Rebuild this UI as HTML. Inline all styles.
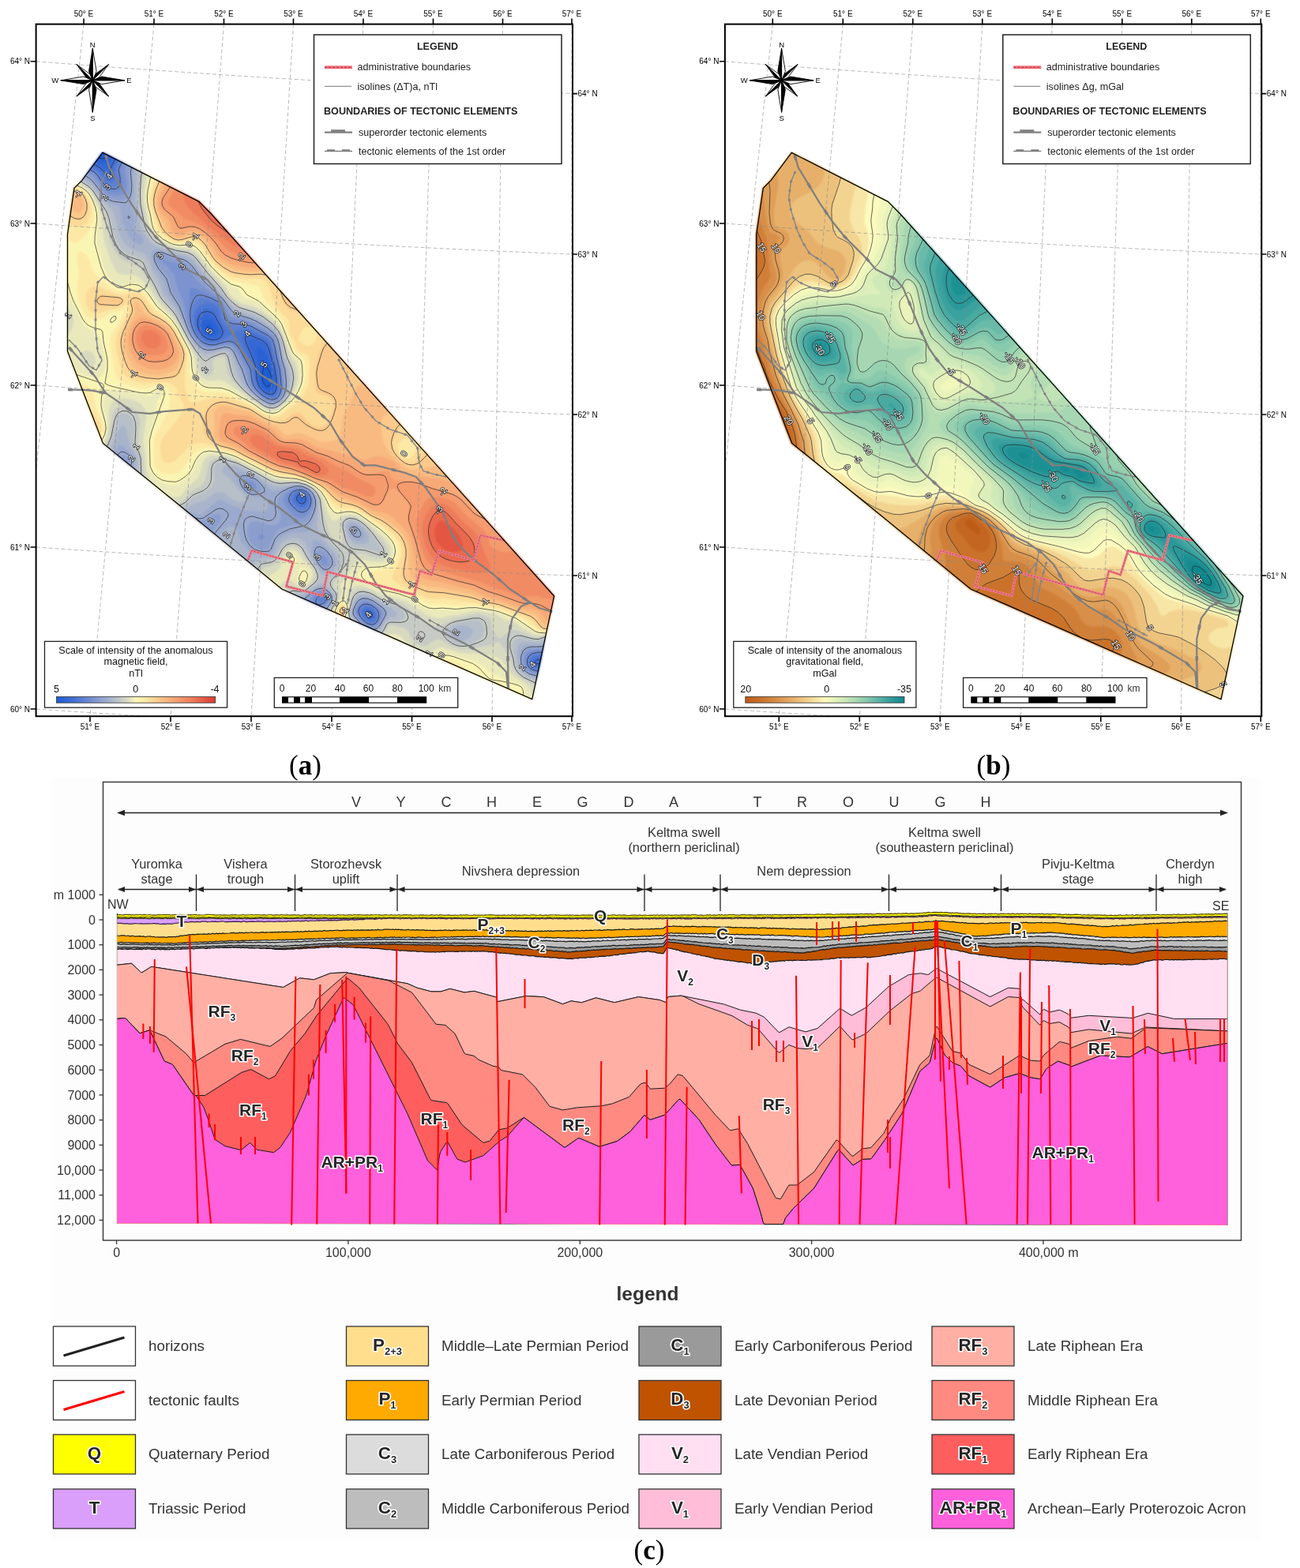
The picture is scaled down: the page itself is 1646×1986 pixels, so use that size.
<!DOCTYPE html>
<html><head><meta charset="utf-8"><title>Vychegda trough</title><style>
html,body{margin:0;padding:0;background:#fff;}
svg{display:block;font-family:"Liberation Sans",Arial,sans-serif;}
.lh{font-weight:bold;fill:#fff;stroke:#fff;stroke-width:3.2px;stroke-linejoin:round;}
.lt{font-weight:bold;fill:#262626;}
.cap{font-family:"Liberation Serif","DejaVu Serif",serif;}
</style></head>
<body><svg width="1646" height="1986" viewBox="0 0 1646 1986">
<rect x="66" y="985" width="1530" height="965" fill="#FDFDFD"/>
<defs><filter id="bl" x="0" y="0" width="1" height="1"><feGaussianBlur stdDeviation="1.2"/></filter></defs><g font-family="Liberation Sans, Arial, sans-serif"><g filter="url(#bl)"><path d="M130,193.4 252,255.3 266.6,270 701.6,755 673.7,885.7 356.7,746 245.8,655 130.4,561.4 85.5,445 85.5,296.6 94,238.3 103.7,228.6Z" fill="#DA3A2E"/><path d="M102.9,227.9 93,238.1 84.5,296.5 84.5,445.1 129.6,562 356.2,746.9 673.3,886.6 674.3,886.5 702.3,754.3 267.3,269.3 252.6,254.5 130.2,192.4 129.2,192.8Z" fill="#DD4435"/><path d="M102.9,227.9 93,238.1 84.5,296.5 84.5,445.1 129.6,562 356.2,746.9 673.3,886.6 674.3,886.5 702.3,754.3 267.3,269.3 252.6,254.5 130.2,192.4 129.2,192.8Z" fill="#E45742"/><path d="M102.9,227.9 93,238.1 84.5,296.5 84.5,445.1 129.6,562 356.2,746.9 673.3,886.6 674.3,886.5 702.3,754.3 267.3,269.3 252.6,254.5 130.2,192.4 129.2,192.8ZM560,659.5 565,661.5 570,665.7 577.1,673 582.8,680.5 585.3,685.5 586.3,690.5 585,695 581.9,698 575,699.8 570,699.3 565,697.8 557.5,692.6 552.5,685.6 550.1,678 550.3,670.5 552.1,665.5 555,661.4 557.5,659.8Z" fill="#E9694E"/><path d="M292.5,298.1 274.2,285.5 265.8,278 254.2,263 249.7,253 130.3,192.4 129.2,192.8 102.9,227.9 93.1,237.8 84.5,296.6 84.5,445.1 129.6,561.9 356.2,746.9 674.2,886.5 702.5,754.5ZM355,571.5 367.5,572.1 371.2,573 375,575.5 380,582.3 390,583.8 400.9,588 403.9,590.5 405.4,593 405.6,595.5 403.9,598 400,598.7 387.5,592.3 380.6,590.5 375.1,585.5 355.6,580.5 351.8,578 350.2,575.5 350.5,573ZM558.1,645.5 562.5,647.1 567.5,651 577.8,663 593.1,678 598.5,685.5 600.7,690.5 601.6,700.5 600,706.8 596,710.5 590,712.2 582.5,712.5 575,711.6 567.5,709.7 560,706.4 555.2,703 550.4,698 547.5,693.5 544.1,685.5 542.5,678.9 542,673 542.7,665.5 545.3,658 549.5,650.5 555,645.8Z" fill="#EE7B5A"/><path d="M309.3,316.1 300,313 292.5,308.7 265,287.4 243.2,268 238.6,263 233.7,255.5 232.2,250.5 233.1,244.6 130.4,192.5 129.2,192.8 102.9,227.9 93.2,237.7 84.5,296.6 84.5,445.1 129.6,561.9 356.2,746.9 674.2,886.5 702.5,754.5ZM190,417.8 197.5,420.9 200.1,423 203.2,428 203.4,435.5 202.2,438 197.5,441.1 192.5,441.8 187.5,440.7 182.5,437 180,433 179,428 180,422.7 182.5,419.6 185,418.2ZM325,550.3 333.1,553 347.5,563.9 355,566.2 370,567.9 375,569.3 387.5,576.2 403.3,583 407.6,585.5 412.8,590.5 415.6,595.5 415.6,598 413.2,600.5 410,601.6 405,602.5 400,602.1 370,588.8 357.4,585.5 350.9,583 337.5,573.8 325,567.2 319.6,563 316.5,558 316.2,555.5 317.2,553 320,551ZM557.5,637.7 565,639.5 570.5,643 575.4,648 583.2,658 597.6,670.5 604.3,678 607.1,683 612.5,698.1 619.5,713 620.6,718 620.2,720.5 618.3,723 612.5,724.8 605,724.9 587.5,723.2 575,720.6 562.5,716.7 555,713.1 550,709.4 545,703.6 540,693.6 536.7,683 534.9,673 535.2,663 538.5,653 545,643.6 550,639.4Z" fill="#F18B64"/><path d="M318.4,326.3 300,322.3 290.3,318 269.9,298 255,286.2 247.5,281.9 235.3,278 232.5,276.4 223.7,268 215,261.3 212.7,258 213.1,253 222.4,239.1 130.4,192.5 129.2,192.8 102.9,227.9 93.2,237.7 84.5,296.6 84.5,445.1 129.6,561.9 356.2,746.9 674.2,886.5 701.7,759.4 695,758.8 677.5,755.1 662.5,755.9 655,754.3 622.5,743 605,735.9 577.5,729.1 557.5,722.8 547.6,718 542.5,713.3 537.5,704.9 533.4,693 528.2,673 527,660.5 529.6,650.5 537.5,635.8 542.5,631.5 547.5,630.1 555,629.8 565,631.6 572.5,634.9 576.9,638 592.5,655.1 608.8,668 613.7,673 617.9,680.5 620.4,690.5 625,694.5 632.5,698 640,699.5 645,699 650.8,696.8ZM185,412 190,412.5 197.9,415.5 205.2,420.5 209.2,425.5 211.9,433 212.5,440.5 210.1,445.5 207.5,447.5 200,449.9 190,450.3 182.5,447.3 176,440.5 173.7,435.5 172.5,430.5 172.4,425.5 173.6,420.5 177.5,414.9 180.6,413ZM302.5,540 317.5,541.4 327.5,543.9 335.5,548 347.4,558 352.5,561.2 360,563.4 372.5,564.4 377.5,565.6 395,574.7 410,580.8 427.5,591.4 442.5,597.9 457.5,608 470,613.7 474.2,618 475.1,620.5 474.7,625.5 472.9,628 470,629.2 465,628.7 452.5,623.4 435,618 420,608.8 415,607.1 400,604.4 370,591.9 355.1,588 348.6,585.5 317,568 297.5,550.5 295.9,548 295.5,545.5 296.3,543 299,540.5ZM521.8,620.5 520,620.9 519.9,620.5 520,620.4Z" fill="#F59B6E"/><path d="M324.7,333.3 315,333.4 300,330 292.5,327.7 285,323.9 280,319.5 272.4,308 265.9,300.5 257.5,293.4 250,289 245,287.7 240,287.8 227.5,290.6 225,289 218.9,275.5 207.5,265.6 204.7,260.5 204.4,255.5 205.9,250.5 215.4,235.6 130.5,192.5 129.3,192.7 102.9,227.9 93,238.2 84.5,296.6 84.5,445 129.6,561.9 356.2,746.9 674.2,886.5 698.4,774.7 695,773.8 682.5,767 675,765.3 660,764.3 632.5,754.3 617.5,749.8 600,741.8 580,736.9 550,728.2 545,726.3 540,723.2 535.4,718 532.5,711.9 524.9,683 516.4,660.5 515.5,653 517.6,645.5 517.9,640.5 514.9,635.5 507.5,626.6 500,619.4 497.5,618.7 495,619.6 492.5,622.4 485.6,635.5 482.5,638.9 477.5,640.7 472.5,640 452.5,630.2 432.8,623 420,614.4 412.5,610.5 397.5,605.5 370,594.3 355,590.7 347.3,588 313.7,570.5 302.5,562.5 288.5,555.5 285.5,553 284.1,548 284.7,543 286.5,538 290,533.8 295,532.1 300,531.7 307.5,531.8 315,533.2 325,537.1 336.4,543 355,558.3 360,560 375,560.6 382.5,562.5 400,572.3 415,576.9 427.7,583 442.5,588.6 460,599.5 470,600.1 485,597.1 490,597 492.5,598.7 496.7,605.5 500,608.2 505,609.2 520,609.5 527.5,610.6 557.2,620.5 572.5,624.7 579.2,628 585,632.3 600,648.1 605,651.4 613.8,655.6ZM182.5,407.2 190,408.5 200,412.4 207.5,417.2 212.5,422.6 218.1,435.5 220.4,445.5 218.8,450.5 214,455.5 210,457.6 205,458.7 195,459.5 190,459 185,457.5 180,454.8 172.5,446.8 169.3,440.5 167.4,433 167.3,425.5 168.4,420.5 170.5,415.5 175,409.7 178,408Z" fill="#F7AA78"/><path d="M329.3,338.4 320,339.6 307.3,338 295,335.1 285,330.6 280,327.4 275.6,323 268.6,310.5 262.8,303 255,296.2 250,293.5 242.5,292.7 237.5,294 227.5,298.3 225,298.4 222.5,297.2 220,295 217.1,290.5 214.5,280.5 213.1,278 205,270.2 202.5,267 200.8,263 200.2,258 201.3,250.5 205,241.4 210,232.9 130.5,192.5 129.3,192.7 102.9,227.9 93,238.2 84.5,296.6 84.5,445 129.6,561.9 356.2,746.9 674.2,886.5 696.1,785.7 692.5,785.4 690,783.5 683.2,775.5 677.5,772.6 660,769.7 632.5,759.4 615,755.2 597.5,747.1 578.9,743 560,737.6 545,735.2 535,731.4 530,727 526.7,720.5 521.8,690.5 519.4,683 515.9,675.5 510,667.4 492.5,652 487.5,650.1 472.5,646.8 455,636 435,629.1 430,626.6 411.1,613 387.5,602.7 370,596.5 355,593.3 345,589.8 311.7,573 297.5,564.2 282.5,559.2 280.2,558 278.3,555.5 276.9,550.5 277.2,545.5 279.9,528 282.5,523.9 287.5,523 300,525.4 310,525.7 317.5,528 340.7,540.5 347.4,545.5 355,553.5 360,556.4 375,555.8 382.5,556.8 387.5,558.8 402.5,567.4 420,571 432.5,574.8 445,577 460,582.7 465,582 475,577.4 480,577.4 485,578.5 495,582.4 500,585.5 507.5,595.9 515,601 522.5,602.8 555,605.5 573.4,610.6ZM177.5,401.5 182.5,402.1 200,408.7 207.5,413.1 215.1,420.5 224.6,440.5 226.3,448 225,453 222.5,457.7 220,460.9 215,464.8 210,466.8 202.5,468.5 197.5,468.7 190,467.7 182.5,465.3 177.5,462.6 172.5,458.2 168.9,453 165.2,445.5 163,438 162.3,430.5 162.8,425.5 165,417.3 170,407.6 172.5,404.4Z" fill="#F9BA81"/><path d="M333.7,343.3 320,344.2 310,343.5 297.5,341.4 287.5,337.4 280,332.7 275,328.6 272.4,325.5 262.1,308 255,300.6 250,297.5 242.5,296.8 230,301.2 225,301.9 220.9,300.5 217.5,298.1 211.2,290.5 207,280.5 200,269.5 197.6,263 197.1,255.5 198.2,248 200.7,240.5 205.5,230.6 130.5,192.5 129.3,192.7 102.9,227.9 93,238.2 84.5,296.6 84.5,445 129.6,561.9 356.2,746.9 674.2,886.5 694.6,792.5 690,792.8 687.5,791.3 680,780.5 676.1,778 660,773.4 632.5,763.3 615,760.1 595,752.1 560,744.7 542.5,743.1 527.5,737.7 522.5,734 519.1,728 518,720.5 518.1,698 516.8,690.5 514.1,683 507.3,673 490,658.9 483.7,655.5 470,650.2 460,642.9 452.5,638.7 430,631.5 425,628.1 412.5,617 402.5,611.2 387.5,604.4 372.5,599.2 355,595.7 345,592.5 310.7,575.5 297.5,567.8 277.5,561.2 271.9,555.5 270.3,550.5 271.6,540.5 270.3,528 270.8,523 271.8,520.5 275,516.9 277.5,515.3 282.5,514.3 287.5,514.8 300,518.4 311.4,520.5 317.5,522.7 332.5,531.8 350.1,540.5 361.4,550.5 365,550.8 375,548.8 380,548.8 387.5,550.7 402.5,558 407.5,559.4 415,559.6 423.6,558 427.9,555.5 431.2,550.5 434.1,528 444,508 447.5,497.1 450,492.7 459,483ZM100,245.1 103,248 105,252.3 106,260.5 105,264.7 102.5,268.2 100,269.5 97.5,269.6 95,268.6 92.5,266.2 91.3,263 91.2,260.5 93.3,253 93.7,248 95.5,245.5 97.5,244.7ZM173.4,383 176.2,385.5 180.7,393 185.5,398 189,400.5 205,407.9 214.4,415.5 218.2,420.5 228.3,440.5 230.3,445.5 230.4,448 229,455.5 224.3,465.5 222.5,468 217.5,471.6 200,475.8 185,473.6 177.5,471.1 171.8,468 167.5,463.6 164.2,458 160.2,448 158.2,440.5 157.5,433 157.8,428 161.5,415.5 171.5,395.5 171.9,390.5 169.8,385.5 170,384.3 171.2,383ZM435,772.6 435,773.4 433.5,773ZM493,521 485.3,528 483.5,530.5 482.1,538 483.2,548 485.9,560.5 489.3,568 493,573 510,589.8 515,593.2 520,595 525,595.4 535,594.1 553.9,588.8Z" fill="#FBC98B"/><path d="M340,350.7 332.5,348.2 312.5,348.4 300,347 292.5,345 282.5,339.3 272.5,330.8 259.5,310.5 255,305.4 250,301.6 247.5,300.6 242.5,300.6 230,304 225,304.4 220,303 215.7,300.5 207.4,293 203.7,288 195,263 194.2,255.5 194.8,248 197.5,238 201.5,228.6 130.5,192.5 129.3,192.7 102.9,227.9 93,238.2 92.4,242.6 95,241.7 100,242.2 102.5,243.5 106.6,248 110,255.5 111,263 110.4,268 108.4,273 106.5,275.5 103.1,278 100,278.8 95,278.2 87.7,274.6 84.5,296.5 84.5,445 119.6,536.1 122.3,540.5 122.8,544.5 129.6,561.9 356.2,746.9 674.2,886.5 693.8,796.3 690,796.9 686.3,795.5 683.1,793 675,783.5 670,780.5 632.5,766.6 612.5,763.1 600,758.6 592.5,756.8 562.5,752 542.5,751 520,742.2 517.2,740.5 512.3,735.5 510.7,733 509.3,728 509.6,723 513.3,703 513.1,695.5 511.3,688 507.5,680.8 503.2,675.5 490,664.5 482.5,659.6 470,653.5 452.5,642.2 445,639.6 432.5,637.2 427.5,635 422.5,630.9 409.9,618 397.3,610.5 387.5,605.9 375,601.7 352.5,597.5 342.5,593.9 297.5,570.7 290,568 279.7,565.5 273.7,563 266.5,558 259.7,550.5 258.5,548 257.8,543 257.6,530.5 259,523 261.6,518 266.5,513 272.5,509.7 277.5,508.4 287.5,508.7 312.5,516.3 317.5,518.2 335,529.4 342.5,532.3 350,533.9 355,534.1 360,533 370,525.3 377.5,523.1 380,523.7 382.5,525.4 388.2,533 394.3,538 400,540.6 405,541.3 408.8,540.5 412.5,538.2 415,535.2 418.7,528 422.4,515.5 422.4,510.5 421.7,508 420,505.4 415,501.7 402.5,497.5 400,494.8 399.4,490.5 398.7,470.5 402.5,451.5 406.8,440.5 412.7,431.4 381.7,396.8 370,393.3 365,390.7 361.8,388 356.9,380.5 350.1,361.6ZM125,373.8 130,373.1 150,376.2 155.2,378 156.7,380.5 152.6,385.5 147.5,387.6 125,387.9 122.5,387.1 120.8,385.5 119.6,380.5 122.1,375.5ZM170,376 175,376.8 177.5,378.2 181.7,383 190,395.6 207.5,406 215,412.4 220,419.1 230.1,438 233.2,445.5 233.6,450.5 233,455.5 227.5,472.3 225,475.8 222.5,477.6 217.5,478.9 200,480.7 182.5,479.3 175,477.4 167.5,473.8 163.7,470.5 160.3,465.5 153.7,445.5 152.4,438 152.5,430.5 156.1,418 166.6,395.5 167,390.5 163.6,380.5 165,378ZM435,769.1 437,773 435,776.7 432.5,777.3 430.1,775.5 429.8,773 432.5,769.2ZM509.3,539.1 501.6,548 497.6,558 497,563 498.7,570.5 503.7,578 507.5,581.9 512.5,585.5 520,587.6 525,586.8 530.9,583 539.4,572.6Z" fill="#FCDA98"/><path d="M693.3,798.8 687.5,798.8 682.5,796.5 672.5,787.4 665,782.5 652.5,776.8 632.5,769.6 612.5,766.1 595,762 562.5,758.5 542.5,758.6 509.5,743 498.9,735.5 496.5,733 496,730.5 505.5,713 507.9,705.5 508.6,700.5 508,693 506.5,688 500,678.3 485,665.5 455,646.5 445,642.9 430,641.2 425,638.7 420,633.6 411.9,623 406.6,618 399,613 390,608.5 372.5,602.8 355,600.4 347.5,598.4 340,595.2 295,572.4 257.5,561.3 250,561.3 242.5,563.9 237,568 225,581.1 220,584.7 212.5,586.5 207.5,584.8 205,581.6 203.4,575.5 202.7,565.5 203.3,560.5 207.5,551.9 223.6,533 228.7,525.5 231.8,518 232.4,513 231.9,510.5 225.3,500.5 224,493 222.4,490.5 217.5,486.7 212.5,484.8 207.5,483.9 187.5,485.3 175,484.2 165,480.8 157.5,475.4 154.3,470.5 151.7,463 147.1,443 146.3,433 148.6,423 162.8,395.5 163.7,390.5 162.8,388 160,385.9 157.5,386.3 150,390.4 137.5,392.9 125,396.9 120,397.1 117.5,396.3 115,394.7 111.5,390.5 109.2,385.5 108.2,380.5 108.3,375.5 109.8,370.5 112.5,366 115,363.8 120,362.4 125,363 141.7,370.5 150,373 157.5,372.9 170,370.5 175,371.3 180,374.3 182.5,376.8 193.7,393 210,404.4 217.5,411.7 223.3,420.5 233.9,440.5 235.8,445.5 236.7,453 234.4,470.5 234.2,488 238.3,505.5 239.7,508 242.5,509.6 247.5,509.5 272.5,502.7 280,502.2 285,502.7 295,505.6 317.5,514.6 330,523.3 337.5,527.2 345,529 352.5,528.3 357.5,525.5 365,518.6 377.1,510.5 383.1,503 389.1,490.5 391,483 392,460.5 391.6,455.5 390,451.4 387.5,448.5 380,445.2 377.5,443.5 375.3,440.5 374,433 367.5,424.3 366,420.5 366.2,408 363.2,403 355,394.9 348.2,385.5 344.7,378 340.7,363 337.5,357.6 335,355.3 330,353.1 317.5,353.5 305,352.4 297.5,351.3 290,348.7 282.5,344 272.5,335.4 266.5,328 257,313 250,306.1 247.5,304.8 242.5,304.1 230,306.6 222.5,306.3 215,303.1 207.9,298 200,289.8 191.9,260.5 191.4,253 192.1,245.5 194.4,235.5 197.7,226.6 130.5,192.5 129.3,192.7 102.9,227.9 93,238.2 92.9,238.9 97.5,239.1 101.6,240.5 107.8,245.5 113.2,255.5 114.5,260.5 115,268 114.4,273 112.5,278.6 110,282.4 105,286.2 97.5,287.3 86.3,283.9 84.5,296.6 84.5,445 109.6,510.2 115.4,520.5 123,530.5 127.5,538.4 128.6,545.5 125.4,551.3 129.7,562.1 356.2,746.9 673.5,886.7 674.7,885.9ZM435,766.4 437.5,769.2 438.1,773 437.5,775.2 435,778.9 432.5,779.9 430,779.2 427.7,775.5 428.7,770.5 432.5,766.5ZM385,415.8 382.5,418.9 379,425.5 377.9,430.5 379.5,433 385,436.5 390,438.2 392.5,437.9 396.5,435.5 400.1,430.5 401.4,425.5 400.5,420.5 397.5,416.5 392.5,414.1 387.5,414.3ZM510,556.6 507.5,559 505,563.1 504.2,568 505.3,573 508.8,578 512.5,580.4 517.5,581.1 520,580.3 522.9,578 526.3,570.5 527.1,565.5 526.3,560.5 524.9,558 520,554.6 515,554.3Z" fill="#FDE9A6"/><path d="M692.5,800.8 686.3,800.5 680,798.4 666.6,788 658.5,783 650,779 630,771.8 597.5,766.4 577.5,766.7 560,764.7 547.5,765.5 542.5,765 537.5,763.2 527.5,756.6 522.5,754.3 502.5,746.8 485,742.7 474.2,738 470,734.7 467.3,730.5 467.3,728 468.8,725.5 474,723 487.5,721.4 492.5,719.4 497.5,715.2 502,708 503.6,703 503.9,695.5 502.8,690.5 500,684.9 494.3,678 485.8,670.5 455,649.4 445,645.9 430,646.2 425,644.7 420,640 410.9,625.5 406.6,620.5 397.5,613.8 387.5,608.8 372.5,604.6 355,602.7 347.5,600.8 340,597.7 295,575 285,572 262.5,567.6 255,568.5 247.5,572.7 242.7,578 232.6,593 225,598.5 217.5,600.6 210,600.6 205,599.4 199,595.5 196.9,593 194.8,588 194.6,558 197.9,548 210.6,525.5 213.9,518 215.3,505.5 214.3,495.5 211.1,490.5 205,487.7 200,487.9 187.5,491.2 182.5,491.7 175,491.1 167.5,489.6 155,485 150,481.8 146.9,478 144.5,470.5 142.6,455.5 139.1,438 138.9,430.5 141,423 152.5,405.6 158.1,393 157.5,392.2 152.5,394.5 142.5,396.2 138,398 127.5,404.3 122.5,405.5 115,404.3 110,400.7 107.7,398 101,385.5 99.1,380.5 97.8,373 97.5,363 99.4,345.5 96.8,325.5 97.5,321.4 100,318.1 102.5,318.2 105,319.4 110,323.7 112.8,328 116.7,340.5 119.7,345.5 126.7,353 135.6,360.5 145,367.1 150,369.3 155,368.7 167.5,365 172.5,365.2 177.5,367 185,373.5 196.9,390.5 212.5,403 217.5,408.1 224.2,418 235.1,438 238.4,445.5 239.8,453 239.8,470.5 242,478 249,490.5 255,495.1 260,496.5 277.5,496.1 287.5,497.8 317.5,511.7 335,523.2 342.5,525.6 350,525.1 355,522.5 362.5,515.7 370,510.4 374.9,505.5 379.8,498 383.4,490.5 385.7,483 386.4,475.5 386.2,460.5 384.9,455.5 383.1,453 375,447.1 371.9,443 363.6,423 358.9,408 355.3,403 337.5,383 334.3,378 330,367.7 327.5,363.6 322.5,361.4 295,355.9 287.5,352.4 277.5,344.6 270,337.2 264.6,330.5 255,316 247.5,309.1 242.5,307.6 230,309 222.5,308.6 214.4,305.5 203.3,298 198.5,293 195.9,288 188.9,258 188.6,250.5 189.3,243 194,224.7 130.5,192.5 129.3,192.7 102.9,227.9 94.8,236.1 100,237.5 105,240.2 108.4,243 112.4,248 115,253 117.7,260.5 119.2,273 118.3,280.5 115,289.3 112.5,293.2 100,306.2 97.5,307.9 95,308.2 90,306.3 84.5,303 84.5,445 99.6,484.4 107.5,487.2 112.5,490.1 115,493 117.5,498 121.6,515.5 129.7,533 131.8,540.5 131.9,545.5 131.2,548 127,555.4 129.7,562.1 356.2,746.9 426,777.6 425.9,773 428.2,768 432.5,763.9 435,763.5 437.5,765.3 439,770.5 437.5,777.6 434.8,781.5 558.5,836 567.5,834.9 575,837.1 584.8,843 594,851.7 673.5,886.7 674.7,885.9ZM512.3,573 515.1,573 515,570.1 512.5,570.2Z" fill="#FBF5B4"/><path d="M96.8,234.1 105,237.9 111.2,243 116.5,250.5 120.8,260.5 122.9,268 123.9,275.5 122.5,298 122.8,308 130.7,338 134.8,348 140.7,355.5 146.8,360.5 150,362.1 155,361.7 165,358.6 170,358.4 177.5,360.8 185,367.1 197.6,385.5 216.2,403 225,415.3 241,445.5 243.1,453 244.9,470.5 247.1,475.5 252.5,483.2 257.5,487.3 262.5,489.1 280,489.8 287.5,492 320,510.4 332.5,519.2 340,522.4 347.5,522.7 352.5,520.8 368.1,508 375.4,498 380.8,485.5 382.1,475.5 381.4,463 380.2,458 378.7,455.5 372.5,450.1 369.4,445.5 355.8,410.5 347.5,400.7 332.5,387.3 322.5,380.9 312.5,378 307.5,375.5 305.3,373 301.9,365.5 292.5,361.9 282.5,353.7 267.5,338.9 252.5,318.2 247.5,313.5 240,310.8 227.5,311.4 217.5,309.3 205.5,303 197.5,296.2 193.9,290.5 192.1,285.5 185.9,255.5 186.4,240.5 190.3,222.9 129.9,192.4 102.9,227.9ZM94.1,470.1 105,475 115,477.9 122.5,478.9 126.7,478 130,475.3 132.5,469.8 133.7,463 133.6,455.5 130,439.8 125,425.1 122.5,422.2 110,415 105,409.1 90.5,380.5 84.5,365.4 84.5,445.1ZM692.5,802.2 682.5,801.8 677.5,800.4 652.5,783.5 627.5,774.3 602.5,770.4 595,770.6 575,773.1 560,772.1 550,772.8 542.5,771.6 535,768.2 522.5,759.6 505,753.4 482.7,748 459.4,735.5 456.3,733 454.6,730.5 454.2,728 455.7,723 457.8,720.5 462,718 465,717.3 485,716.2 490,714.4 495,710.4 498.1,705.5 499.5,700.5 499,693 497,688 491.3,680.5 483.3,673 470.7,663 455,652.2 447.5,649.2 442.5,648.5 437.5,649 427.5,651.4 422.5,650 417.5,644.2 411.2,630.5 406.3,623 397.7,615.5 387.5,610.2 375,606.7 355,605.2 347.5,603.4 340,600.2 295,577.5 282.5,574.1 265,572.1 257.5,574.3 252.9,578 249.6,583 245,595 242.5,599.5 237.5,604.6 227.5,612.1 222.5,614.3 217.5,614.3 207.5,611.7 202.5,609.2 195,602.8 189.6,593 187.6,560.5 189,550.5 196.8,525.5 199.5,508 204.6,500.5 205,495.5 202.5,493.5 198.4,495.5 192.5,500.8 190,501.2 180,500.1 152.5,494.5 142.5,493.7 137.5,494.9 135,497 132.8,500.5 130.6,508 130.3,515.5 134.2,535.5 134.7,543 133.2,550.5 128.5,559.3 129.7,562.1 356.2,746.9 423.7,776.6 425.1,770.5 427.5,766.2 432.5,760.7 435,759.7 437.5,760.8 439.8,765.5 440.2,768 439.7,773 437,782.5 549.4,832 557.5,828.8 565,828.2 601.8,838 610.1,843 622.5,853.7 660,868.2 662.4,870.5 663.7,873 665.2,883 673.6,886.7 674.7,885.9ZM370,702.1 372.5,703.5 375.4,708 376.5,713 376,715.5 375,716.1 370,715.9 367.5,714.7 364.6,710.5 364.2,708 365,704.3 367.5,702ZM382.5,719.3 387.5,721 389.8,723 391.1,728 390.2,733 387.5,737.9 385,740.2 382.5,740.9 378.5,738 376.7,733 379.7,720.5Z" fill="#EAE9BB"/><path d="M98.6,232.2 108.5,238 114.1,243 119.1,250.5 125,263 128.7,275.5 130.5,298 132.4,308 140,329.4 145,340.8 148.7,345.5 152.5,347.6 170,348.9 175,351.1 180,354.9 189.3,365.5 200.2,383 220,403.6 225,411.2 243.7,445.5 246.5,453 249.6,470.5 255,478.2 257.5,480.1 262.5,482.1 267.5,482.4 277.5,481.2 285,483.4 332.5,516.8 340,520 345,520.5 350,519.4 355,516.3 364.7,508 370.5,500.5 376.2,488 378,480.5 377.7,470.5 375.2,460.5 367.5,449 360.5,428 353.6,413 345,403.2 330,391.7 320,387.2 305,383.7 293.5,375.5 291.3,373 285.9,363 267.1,343 252.5,323.4 247.4,318 240,314.3 225,313.5 215,310.7 202.5,304.1 195.5,298 192.1,293 189,285.5 183,255.5 183.4,238 186.5,221 129.9,192.4 102.9,227.9ZM84.5,425.1 88.8,420.5 91.8,415.5 93.2,408 92.8,403 91.3,398 84.5,387.2ZM102.5,448 101.6,450.5 102,455.5 105,460.4 107.5,462.5 112.5,464.7 115,464.9 117.5,464.2 120,462 121.5,458 120.8,453 118,448 115.1,445.5 112.5,444.3 107.5,444.3 104.9,445.5ZM197.5,617.1 189.1,605.5 185.1,593 184.2,575.5 181.3,560.5 181.8,553 185.7,530.5 185.3,523 183.6,518 180.1,513 177.5,510.8 170,507 157.5,504.3 152.5,504.4 147.5,505.6 142.5,508.8 138.5,515.5 137.3,523 137.6,538 136.6,548 134.3,555.5 130.4,562.7ZM421.7,775.5 423.4,770.5 432.9,753 433.3,750.5 431.1,743 431.3,740.5 440,729.2 447.5,716 450,712.9 455,709.8 460,709 477.5,711.9 485,711.4 491,708 494.3,703 495,695.3 493.4,690.5 490.3,685.5 475.3,670.5 460,658.1 450,652.6 442.5,651.4 435.4,653 425,659.1 422.5,659.5 420,657.9 415.4,650.5 409.5,633 405.8,625.5 401.6,620.5 395,615.4 387.5,611.6 377.5,608.7 355,607.7 347.5,606.1 340,602.9 302.2,583 292.5,579.2 282.5,576.7 267.5,576.5 262.8,578 260,580.3 256.6,585.5 253,600.5 250.5,605.5 236.1,618 230,627 227.5,629 222.5,629.8 217.5,629.1 212.5,627.4 205.2,623.4 339.5,733.2 342.6,728 350,724 355,719.2 359.3,705.5 362.5,699.7 367.5,696.7 372.5,697 375,698.3 377.5,700.5 385,711.4 394.3,720.5 395.9,728 394.9,733 390,740 385,743.5 382.5,744 378.5,743 370,736.2 365,734.4 360,735.9 351.7,743.2 356.3,746.9ZM692.2,803.6 682.5,804.2 675,802.9 665.8,798 650,787.2 637.5,784.5 630,778.8 610,774.3 595,775 580,778.7 567.5,780.4 557.5,783.1 550,782.2 537.5,777.4 521.5,765.5 515,762 505,758.4 485,753.8 470,746 460,742.3 452.5,741.5 447.5,742.7 443.2,745.5 440.2,750.5 441.5,768 439.8,775.5 439.3,783.5 490.9,806.2 495,803.6 497.5,803 505,804.6 510,808.7 519.2,818.7 538.5,827.2 545,826.1 555,820.7 560,820 582.5,827 590,827.8 605,827.7 622.2,830.5 630,832.9 634.1,835.5 637.5,838.9 644.3,850.5 648.7,855.5 664.2,865.5 669.8,870.5 675.4,882.7Z" fill="#D8DAC0"/><path d="M100.4,230.5 111.9,238 116.9,243 130,265.5 133.8,275.5 138.8,303 142.5,312.9 146.8,320.5 150,324.7 155,329 160,331.6 172.5,335.9 177.5,339.7 192.5,362.2 202.5,380 217.5,396.2 225,406.9 236,428 250.7,453 252.4,458 253.6,468 256.6,473 260,475 262.5,475.4 265,475 268.4,473 269.9,470.5 270.4,468 269.2,460.5 270,456.8 270.9,455.5 275.8,453 282.5,451.8 284.2,453 285.5,455.5 288.1,473 294.3,483 309.9,498 330,512.8 337.5,517.1 345,518.3 352.5,515.8 361.9,508 366.1,503 371.1,493 373.9,483 374.2,475.5 372.2,465.5 365,451.1 359.2,430.5 352.5,416.1 345,407.5 332.5,398 320,391.9 305,388 300,385.1 292.5,379 289,375.5 281.2,363 265,345.2 250.1,325.5 245,320.6 237.5,317.3 225,315.8 215,313 202.5,307.2 197.5,303.9 194,300.5 188.9,293 185.7,285.5 180.2,258 179.5,250.5 179.9,240.5 181,228 182.7,219 129.9,192.4ZM183,605.4 180.4,578 175.9,565.5 175,560.5 177.3,535.5 175.5,525.5 172.5,520.4 166.1,515.5 160,513.7 152.5,514.2 147.5,517.1 143.6,523 142.2,528 138.4,553 133.2,564.9ZM420,774.6 426.8,760.5 428.2,755.5 427.3,750.5 422.2,743 422.4,738 435.3,723 442.5,705.1 444.5,703 447.5,701.9 457.5,700.7 462.5,701.5 477.5,706.8 485,706.5 489.2,703 490.5,698 489.3,693 485,686.3 470.8,670.5 460,661 450,655.3 442.5,654.2 437.6,655.5 435,657.2 432,660.5 431.1,663 431.2,668 433.3,675.5 433.4,685.5 432.5,688.7 430,688.6 422.5,683.4 417.1,675.5 412.5,660 406.2,630.5 401.7,623 395,617 387.5,612.9 377.5,610.2 355,610.4 347.5,609 340,605.7 302.5,585.6 287.5,580.6 277.5,579.7 272.3,580.5 267,583 263.5,588 260.5,605.5 256.8,613 254,615.5 240,623.9 232.5,633.5 227.5,636.2 222.3,637.3 329.9,725.3 332.5,720.5 335,718.7 345,715.9 350,712.9 353.8,708 359,698 362.5,694.2 365,692.7 370,691.7 375,692.7 377.5,694.2 381.2,698 389.2,710.5 397.5,720.5 399.6,728 399,733 393.3,740.5 385,746.2 380,746.9 369.5,743 365,744.4 360.3,748.7ZM690,805 682.5,806.9 677.5,807 670,804.9 655,798.6 650,797.5 645,799.1 637.5,805.8 632.5,808.5 630,807.1 625,799.9 623.2,795.5 621.5,785.5 620,783.6 615.2,780.5 607.5,778.3 597.5,779.3 572.5,785 557.5,792.3 552.5,793.6 550,793.5 542.5,790.8 532.5,785.3 527.5,781.3 517.4,770.5 510,765.6 502.5,762.6 485,757.9 470,749.6 460,746.6 452.5,747.4 447.8,750.5 446,753 444.2,758 442.9,768 440.9,775.5 441,780.5 442.3,784.8 484.8,803.5 487.6,800.5 492.5,792.7 497.5,792.1 511.7,795.5 515,797.7 517.2,800.5 521.1,808 524.6,813 527.5,815.5 532.5,817.8 540,817.6 550,811.4 555,809.9 560,811.2 570,817.6 575,819.9 585,822.1 592.5,821.9 615,818.4 622.5,816.5 630,813.6 632.5,814 640,823.9 645,832.6 648.6,845.5 653.1,853 658.9,858 672,865.5 678.1,870 691.9,805.1Z" fill="#C7CBC5"/><path d="M102.5,228.8 112.5,235.6 117.5,240.2 136.5,268 139.4,275.5 145,299.9 148.5,308 152.5,314 157.5,318.9 162.5,322 177.5,327.2 182.8,330.5 188.5,345.5 196.9,360.5 203.9,375.5 222.5,398 238.1,428 245,438.8 252.5,448.7 257.5,452.9 260,453.8 262.5,453.5 280,447 285,446.2 287.7,448 290,452.3 294.5,470.5 298.7,480.5 306.2,490.5 313.6,498 332.5,512.3 340,515.8 347.5,515.9 352.5,513.8 357.5,509.9 361.8,505.5 366.4,498 369.6,488 370.6,478 368.9,468 362.6,453 357.9,433 352.5,420.5 345,411.4 332.5,402 322.5,396.8 302.5,390.3 295,384.8 287.5,377.2 280,366.6 262.5,347 247.9,328 242.5,323.2 236.5,320.5 222.5,317.8 212.5,314.5 197.8,308 192.5,303.6 185.4,293 181.8,285.5 176.7,258 176.4,243 177.3,225.5 178.6,217 129.9,192.4ZM177.3,600.5 177.2,580.5 175.8,575.5 170.4,565.5 169.4,560.5 169.7,540.5 168.3,533 165.6,528 162.5,525.1 160,524 155,523.6 150,526.2 147.5,530.1 141.1,555.5 136.2,567.4ZM418.1,774.1 423.9,763 425.6,755.5 423.9,750.5 417.9,743 416.4,738 416.9,735.5 427.1,725.5 430.7,720.5 433.2,713 433.4,708 430.8,700.5 415.8,683 409.9,673 407.2,663 405.3,635.5 402.9,628 399.7,623 395,618.6 390.1,615.5 380,612 372.5,611.5 355,613.3 350,612.9 345,611.4 325,599.8 297.5,586.4 282.5,583.4 275,585.6 272.4,588 270.3,593 271.2,608 270.8,610.5 268.1,615.5 263.5,620.5 260,623 245,629.5 235,638 228,641.8 324.6,720.9 327.5,715.5 330,713.2 342.5,711 347.5,708.7 350.6,705.5 357.5,693.3 362.5,689 367.5,687.1 372.5,686.8 377,688 380,689.7 384.8,695.5 391.2,708 400.1,720.5 403.4,728 403.9,733 400.1,738 387.5,747.8 382.5,749.8 372.5,750.2 367.9,752ZM437.5,659.6 435.4,663 435,665.5 437,678 440,686 445,692 450,694.2 465,695.6 480,699.8 482.5,698.9 482.7,695.5 480.1,690.5 470.4,675.5 461.6,665.5 455,660.5 447.5,657.4 442.5,657.2 440,657.8ZM480.8,801.8 485,797.7 488.8,790.5 491.4,788 495,786.8 505,786.5 510,784.7 512,783 512.9,780.5 511.6,775.5 507.5,770.9 502.9,768 482.5,760.3 467.5,751.7 460,750.2 455,750.8 452.5,752 450,754 447.3,758 442.5,773.9 442.1,778 443.8,783 447.5,787.1ZM592.5,785.7 575,789.1 567.9,793 563.9,798 563.3,800.5 563.4,803 566.2,808 570,811.6 575,814.7 580,816.4 585,817 590,816.7 597.5,814.6 606.1,810.5 609.4,808 612.4,803 613,798 612.4,793 610,788 605,785.4ZM690,807.2 682.5,810.5 680,810.7 662.5,807.5 657.5,807.2 654.4,808 650.9,810.5 648.5,815.5 648.5,823 652.3,843 654.3,848 658,853 662.5,856.7 667.5,859.6 679.3,864.4 691.5,807.3Z" fill="#B7BFC8"/><path d="M104,226.6 117.5,236.6 130,254.1 141.9,265.5 143.6,268 150,293 153.1,300.5 157.8,308 165,314.3 182.5,321.6 186.4,325.5 188.8,330.5 192.5,341.9 201.4,358 207.5,373 222.9,393 238.7,425.5 250,441.7 257.5,447.6 262.5,448.6 270,447.2 282.5,443.4 287.5,443.9 290,445.6 293,450.5 301.7,475.5 305.2,483 310.1,490.5 316.8,498 332.5,510.2 340,513.8 347.5,514 355,510 359.6,505.5 364.1,498 366.4,490.5 367.2,480.5 365.4,468 360,453.3 355.8,433 351.6,423 345,414.9 330,404.2 320,399.4 302.5,393.5 295,388.5 277.5,368 262.5,352 247.5,332.7 242.5,327.6 235,323.5 220,319.9 197.5,311.9 192.5,309.4 190,307.1 178.9,290.5 176.9,285.5 175.7,273 172.3,255.5 173.2,223 174.4,214.8 129.9,192.4ZM172.9,597.1 174.1,585.5 172.9,578 164.3,563 160,542.7 157.5,539.5 155,539.1 152.5,540.9 150,545 139.7,570.3ZM320,717 324.3,710.5 327.5,708.6 340,707 345,705.4 347.5,703.5 349.6,700.5 354.1,690.5 357.5,686.6 365,682.5 372.5,681.1 380,682.4 385,686 387.9,690.5 394.5,708 405,723.9 410,728.7 412.5,729.3 415,728.8 422.5,724.1 426.8,718 428.3,710.5 427.2,705.5 424.4,700.5 407.7,680.5 403.3,673 401.9,668 401.5,663 403.2,645.5 403.1,635.5 400.9,628 395.2,620.5 387.5,615.6 377.5,613.1 370,613.5 355,616.6 347.5,616.3 342.5,614.3 325,602.6 300,590.5 292.5,589.5 285,590.1 281.7,593 281.4,595.5 282.2,598 284,600.5 292.5,607.9 297.8,615.5 308.2,625.5 310.4,630.5 310.8,633 310,634.4 308.3,635.5 305,635.9 297.5,634.1 292.5,631.3 285,625 282.5,623.7 277.5,623 272.5,624.6 257.5,634.6 245,638.4 232.8,645.7ZM442.5,660.6 439.6,663 438.4,668 439.5,675.5 443,683 447.5,687.3 452.5,689.3 460,689.4 465,687.9 467.3,685.5 467.5,680.5 465.6,675.5 462.4,670.5 457.6,665.5 452.5,662.1 447.5,660.4ZM416.4,773 422.1,763 423.4,755.5 421.2,750.5 412.5,741 410,739.2 407.5,738.8 402.5,740.5 385,752.1 376.2,755.7ZM480,798.9 483.2,795.5 487.5,787.9 490,785.2 495,782.4 501.6,780.5 502.8,778 502,775.5 496,770.5 470,755.6 462.5,753.4 455,754.4 450.6,758 447.5,763.6 443.6,775.5 445,781.1 452.7,789.4 477.6,800.4ZM577.5,793.1 573.2,795.5 571.1,798 570.3,800.5 571.4,805.5 575,809.1 580,811.2 587.5,811.1 592.5,808.9 596.4,805.5 597.8,803 598.2,798 597,795.5 595,794 587.5,792ZM690.7,811 685,814.1 682.5,814.5 662.5,813.1 657.5,815.4 655.7,818 654.3,823 654.1,828 655.8,843 659.8,850.5 667.5,856.6 680.1,860.6Z" fill="#A9B4CA"/><path d="M105.8,224.1 117.5,232.6 132.5,252.4 140,257.4 149.7,260.5 152.2,263 153.1,265.5 153.6,275.5 155,282.5 164.5,300.5 168.3,305.5 171.7,308 177.5,309.6 180,308.9 181.5,305.5 180.6,300.5 177.5,297.3 171.2,293 169.5,288 170.7,275.5 167.3,263 166.7,258 169.3,240.5 168.6,220.5 169.9,212.5 129.8,192.4ZM192.5,318.2 191.5,320.5 191.9,325.5 195.8,338 206.9,355.5 213.3,373 225.5,390.5 238.2,420.5 242.5,428.3 247.5,435.3 255,442.6 260,444.9 267.5,445 285,440.9 287.5,441.2 291.1,443 293.6,445.5 296.3,450.5 310.3,485.5 313.3,490.5 319.7,498 332.5,508.1 340,512 347.5,512.3 355,508.1 359.4,503 362.8,495.5 364.2,488 363.9,478 362.4,468 357.7,453 353.8,433 350.8,425.5 347.5,420.8 340,414.2 327.5,406.3 317.5,401.7 302.5,396.8 295,392.5 280,374.4 258.8,353 245,335.2 237.5,328.6 232.5,326.3 217.5,322.1 205,317.4 197.5,316.5ZM168.5,593.6 170.2,583 169.8,580.5 167.5,576.1 160,567.9 155,563.8 152.5,563.5 150,564.9 144.2,573.9ZM275.8,680.5 280,673.6 285,669.1 290,666.8 295,666.8 297.5,668.2 300,671 305.5,685.5 308.2,690.5 316.2,698 320,700.5 325,702.1 337.5,702.5 342.5,701.7 345,700.3 346.4,698 348.6,690.5 351.2,685.5 357.5,679.8 365,676.3 372.5,674.1 387.5,673.6 390,672.9 392.1,670.5 397.5,656.3 400.4,645.5 401,635.5 399,628 395.7,623 392.5,620 387.5,617 380,614.8 370,615.4 350,622.2 345,622.1 340,618.7 328.4,608 322.5,604.2 310,599.5 302.5,597.7 299.2,598 297.8,600.5 300.6,610.5 303.3,615.5 310,623.4 312.5,625.9 317.5,629 330,629.8 335,631.4 337.3,633 338.9,635.5 339.6,638 339.5,643 337.5,646.6 335,648.2 332.5,648.6 310,646.2 292.5,640 280,633 277.5,633.1 270,637.9 257.5,650.9 255,652 252.5,651.9 245,649.8 238.5,650.4ZM442.5,666.6 441.7,670.5 442.5,675.1 445,679.6 447.5,682 450,683.4 455,684.3 457.5,683.7 460,681.8 461.1,678 460.6,675.5 458,670.5 455,667.4 452.3,665.5 447.5,664 445,664.4ZM395.8,688 395,693 395.3,700.5 396.5,705.5 399,710.5 407.5,722 412.5,724.2 417.5,722.8 422.2,718 423.8,713 423.3,708 421,703 412.5,692.7 405,687.1 400,684.5 397.5,684.6ZM414.3,772.5 420.3,763 421.5,758 421.3,755.5 420.4,753 417.5,749.3 410,743.6 405,743.2 400,745 381.7,758.1ZM474.1,798.8 480,795.7 482.2,793 491.5,778 491.7,775.5 490.6,773 485.6,768 472.5,759.5 465,756.4 457.5,756.6 452.5,759.7 450,763.2 446,773 445.8,778 448.9,783 456.4,791ZM577.5,800.8 578.4,803 580,803.8 583.3,803 583.7,800.5 582.5,799.7 580,799.2ZM689.6,815.8 682.5,817.5 667.5,817.5 662.5,819.5 659.6,823 658.1,828 657.6,833 658.8,843 663.4,850.5 670,855.1 680.6,858.1Z" fill="#9AA9CD"/><path d="M107.9,221.3 115,225.2 117.5,227.6 132.5,247.6 137.5,251.4 145,253.5 155,253.9 160,251.9 162.9,248 164.8,243 165.5,238 163.5,218 165.3,210.2 130.5,192.5 129.2,192.8ZM197.5,323.6 197,328 198.6,333 202.5,339.4 213,350.5 217.5,368 228.8,388 236,410.5 240.2,420.5 248.2,433 255,439.5 262.5,442.5 270,442.3 285,438.7 290,439.4 292.5,440.7 295,443 298.3,448 309.1,470.5 313.4,485.5 319.9,495.5 332.5,506.2 340,510.1 347.5,510.5 352.8,508 357.4,503 359.9,498 361.3,493 361.7,485.5 359.8,468 355.6,453 352.5,435.5 350,428.1 347.5,424.2 340,417.4 325,408.3 317.5,404.9 300,399.4 295,396.9 292.5,394.6 282.5,379.9 260.5,360.5 251.6,350.5 242.2,338 237,333 232.5,330.4 220,326.8 205,320.9 200,321.2ZM163.1,589.2 164.7,583 163.7,580.5 160.9,578 157.5,576.6 155,576.6 152.5,577.8 151.1,579.5ZM305.7,608 305.6,610.5 307.1,615.5 310.7,620.5 315,623.9 320,625 325,624.4 328.8,623 331.2,620.5 331.3,618 328.5,613 325,609.5 320,606.2 315,604.5 310,604.2 307,605.5ZM367.5,618.3 358.9,623 355.9,625.5 352.4,630.5 351.7,633 351.7,638 355.5,650.5 356.1,655.5 355,659.3 352.3,663 350,664.7 347.5,665.4 342.5,665.2 327.5,660.9 322.5,660.2 317.5,661.7 315,664.6 313.3,673 314.3,680.5 317.9,688 323.2,693 330,695.7 338.2,695.5 341.1,693 347.5,678 350,673.7 352.5,671.1 367.5,665.3 380,664 385,662.7 390,659.2 394.3,653 397.7,645.5 399,638 398.2,630.5 395,624.5 390,619.8 382.5,616.6 375,616.3ZM268.2,674.6 275.6,665.5 278.7,660.5 279.9,655.5 279.1,653 277.5,651.6 272.5,651.2 267.5,653.1 257.5,659.3 250,659.8ZM445.9,673 447.5,675.8 450,677.3 452.5,677.4 454,675.5 453.7,673 452.5,671.1 450,669.3 447.5,669.1 446.1,670.5ZM402.5,696.1 400,699.8 399.6,703 399.9,705.5 402,710.5 407.5,718.2 410,719.7 412.5,720.1 415,719.4 417.5,717.4 419.5,713 419.5,710.5 417.8,705.5 415,701.6 410,697.1 405,695.4ZM412.5,771.2 418.3,763 419.7,758 419.4,755.5 417.5,752 415,749.5 410,746.6 405,746.2 399.9,748 392.9,753 386,760ZM470,796.9 475,796.2 480,792.5 486.4,780.5 486.9,775.5 484.1,770.5 472.5,761.9 465,758.9 460,758.8 457.5,759.5 452.8,763 450,767.4 447.9,773 448.1,778 451.4,783 460,792.1ZM688.9,819.2 670,820.9 665.6,823 662.5,826.7 661.1,830.5 660.5,835.5 661.6,843 664.4,848 670,852.5 681.1,855.9Z" fill="#8B9ECE"/><path d="M110,218.5 118.3,223 130,239.3 137.5,246.5 145,248.5 151.4,248 157,245.5 160,241.6 160.9,238 160.9,233 158,215.5 161,208 130.5,192.5 129.2,192.8ZM204.9,330.5 215,340.4 220.4,348 225,365.9 232.5,382.4 236.3,403 239.2,413 243.6,423 250,432.1 255,436.7 262.5,440 270,440.1 287.5,436.5 292.5,437.6 295,439.2 300.1,445.5 312,468 316.1,485.5 318.6,490.5 322.3,495.5 332.5,504.2 340,508.3 347.5,508.8 352.5,506.3 355.4,503 358,498 359.2,493 359.3,485.5 357.5,468 353.6,453 350.5,435.5 348.9,430.5 345.9,425.5 340,420.4 320,409 312.5,406.4 297.5,402.9 292.5,400.6 290,397.9 282.5,382.8 277.5,378.1 256.6,363 247,353 237.5,340.2 232.5,335.7 227.5,334 215,331.8 207.5,327.8 204.5,328ZM310.1,613 311.8,618 315,620.4 320,620.7 323.7,618 324,615.5 322.8,613 320.3,610.5 317.5,609.2 312.5,609.1 310.9,610.5ZM372.5,618.6 367.5,620.8 361.7,625.5 358.9,630.5 358.5,633 359.3,638 362.4,643 372.5,653.6 377.5,656.2 382.5,656.4 385,655.7 390,652.4 395,645.2 397,638 396.3,630.5 392.5,623.8 387.5,619.8 380,617.7ZM326.6,680.5 327.5,682.3 330,683.9 332.5,683.5 334.2,680.5 333.7,678 332.5,676.7 330,675.9 327.5,677ZM405.3,708 407.5,713.1 410,715.6 412.5,715.4 414.3,713 414.4,710.5 412.5,706.5 410,704.4 407.5,703.7 405.1,705.5ZM410,770.1 416.1,763 417.5,759.6 417.5,755.5 415,752 410,749.3 407.5,748.9 402.5,749.8 395,755.2 390.3,761.9ZM455,764 450.8,770.5 449.9,775.5 450.5,778 453.8,783 460,789.7 465,793.2 470,794.7 472.5,794.6 477.5,792.2 480.6,788 483.7,780.5 483.6,775.5 480.6,770.5 472.5,764.3 465,761.3 460,761.4ZM688.3,821.9 672.5,823.5 667.5,826.2 665,829.3 663.2,835.5 663.5,840.5 665.5,845.5 670,850 675,852.3 681.5,853.7Z" fill="#7C93CF"/><path d="M112,215.9 120.1,220.5 130,234.4 137.5,241.1 142.5,242.9 147.5,242.8 152.5,240.5 154.6,238 155.4,235.5 155.6,230.5 152.5,215.5 154.4,210.5 157.2,206.1 129.8,192.4ZM240,367.7 240.1,378 238.5,393 239.5,405.5 243.3,418 250,429.1 255,434 262.5,437.7 267.5,438.2 272.5,437.8 287.5,433.9 292.5,434.4 297.5,437.5 301.9,443 315.5,468 317.8,483 319.6,488 322.7,493 330,500.4 337.5,505.4 345,507.3 350.9,505.5 353.4,503 356,498 357.2,493 357.4,488 355.4,468 348.3,435.5 345,427.8 337.5,421.9 317.5,411.2 310,409 295,407.1 290,405.5 287.2,403 281.9,385.5 277.5,381 270,376.5 247.5,365.6 242.5,364.5 240.9,365.5ZM372.5,620.6 368.4,623 364.3,628 363.4,630.5 363.7,635.5 366.7,640.5 375,648.6 380,651.1 385,650.8 390,647.6 394.2,640.5 395,633 393.5,628 389.8,623 385,620.1 380,619.1ZM405.7,768.7 412.5,763.9 415,760.5 415.6,758 415,755 412.5,752.8 410,751.9 405,752.2 400,755.1 397.5,758 395.5,763 395.6,764.2ZM455,767.4 453.2,770.5 452.3,775.5 454.3,780.5 458.4,785.5 462.5,789.4 467.5,792 472.5,792.3 476.3,790.5 479.7,785.5 481.2,780.5 480.8,775.5 477.5,770.5 470.5,765.5 465,763.6 460,763.9ZM687.5,824.6 675,825.6 670.3,828 667.9,830.5 665.9,835.5 666,840.5 668.3,845.5 670.9,848 675,850.1 682,851.6Z" fill="#6C89D0"/><path d="M113.7,213.5 122.5,219.2 130,229.5 135,234.3 140,236.7 145,236.7 147.5,235.4 150,231.1 150.3,225.5 148.7,215.5 150,210.6 153.9,204.4 129.8,192.4ZM250,379 247.5,381.7 244.2,388 242.5,394.5 242,400.5 243.8,413 246.7,420.5 250,425.8 257.5,433.1 265,435.9 275,435.4 290,430.7 295,431.5 297.5,433.1 303.8,440.5 317.5,465.7 319,470.5 320.1,483 321.9,488 324.9,493 330,498.4 337.5,503.5 345,505.4 350,503.9 353.9,498 355.2,493 355.4,488 353.3,468 346,435.5 344,430.5 337.5,425 317.5,414.5 310,412.5 295,412.3 287.5,409.3 285,407.2 282.7,403 280,387.8 278.6,385.5 275,382.7 267.5,379.4 260,377.4 255,377.1ZM372.5,622.9 367.9,628 367.1,633 369.2,638 375,644 380,646.9 382.5,647.3 387.5,645.7 390,643.4 392.6,638 393.1,633 391.7,628 387.5,623 382.5,620.9 377.5,620.9ZM407.5,755.6 404,758 403.1,760.5 405,763 407.5,762.7 410,761.3 412.4,758 410.2,755.5ZM457.5,768.3 455,772.8 454.8,775.5 455.5,778 458.6,783 462.5,786.9 467.5,789.7 472.5,789.9 475,788.6 477.3,785.5 478.8,780.5 478.1,775.5 476.7,773 472.5,769.1 467.5,766.6 462.5,766ZM687.2,827.2 680,827.2 675,828.5 671.9,830.5 669.7,833 668.7,835.5 668.6,840.5 671.4,845.5 675,847.8 682.5,849.3Z" fill="#5D80D1"/><path d="M115.4,211.2 125,217.8 132.5,227.3 135,229.5 140,231.2 142.5,230.7 145,228.4 146,225.5 145.6,215.5 146.6,210.5 150.9,202.9 129.8,192.4ZM252.5,386.6 247.5,393.4 245.4,400.5 245.1,405.5 247,415.5 252.5,425.7 260,431.9 265,433.7 270,434.1 277.5,432.5 292.5,424 295,423.7 300,428.8 305,436.1 317.8,460.5 320.8,468 322.3,483 324.1,488 327.2,493 332.5,498.3 340,502.6 345,503.3 347.5,502.7 350,500.8 352.5,495.9 353.4,490.5 351.7,470.5 344,438 342.5,433.7 340.2,430.5 335,427 315,417.2 307.5,416.7 295,420.5 292.5,419.4 281.6,408 279.3,403 277.2,393 275,387.9 270,385 262.5,383.6 257.5,384ZM375,624 371.2,628 370.5,630.5 371.4,635.5 377.5,642 382.5,643.8 385,643.4 387.5,641.9 390.1,638 391,633 389.7,628 387.5,625.1 382.5,622.5 377.5,622.8ZM457.9,773 457.5,775.5 459.4,780.5 465,786.1 470,787.5 472.5,786.9 475,784.4 476.3,780.5 476.2,778 473.6,773 470.5,770.5 467.5,769.1 462.5,768.8 459.3,770.5ZM686.6,830.1 677.5,830.4 672.5,834.3 671.1,838 671.3,840.5 672.3,843 675,845.3 683.1,846.7Z" fill="#4E76D2"/><path d="M117.5,209.1 127.2,215.5 135,224.2 137.5,225.6 140,225.4 141.9,223 143.2,210.5 148.1,201.5 129.8,192.4ZM252.5,395.1 250,399 248.7,403 248.4,410.5 250.5,418 255,425.1 260,429.3 267.5,431.8 275,431.2 280.6,428 284.4,423 284.2,418 278.2,408 272.5,395.6 270.3,393 265,390.7 260,390.7 255,392.8ZM307.5,423.5 306.5,425.5 307.1,430.5 320,458.5 322.5,465.5 324,480.5 326.3,488 329.5,493 335,498.1 340,500.5 345.8,500.5 348.9,498 351,493 351.4,488 350.4,475.5 348,463 340,436 337.8,433 334.5,430.5 317.5,422.1 312.5,421.1 310,421.8ZM375,627.5 373.8,630.5 374,633 377.3,638 382.5,640.3 385,639.7 386.8,638 388.2,635.5 388.4,630.5 387.5,628 385.3,625.5 382.5,624.3 380,624.4 377,625.5ZM460.9,775.5 462.4,780.5 465,783.2 467.5,784.3 470,784.3 472.5,782.6 473.3,778 472.3,775.5 470,773.3 465,771.8 462,773ZM685.8,833.7 680,832.9 677.5,834.2 674.6,838 675,841.2 677.5,843.2 683.8,843.2Z" fill="#3F6DD3"/><path d="M118.9,206.6 132.5,214 135,214.7 137.5,212.8 145.2,200 129.8,192.4ZM260,397.7 255,400.3 253,403 251.5,408 252.3,415.5 254.6,420.5 258.9,425.5 265,428.7 270,429.4 275.8,428 278.4,425.5 280.1,420.5 278.8,415.5 272.5,404.4 270,401.2 265,398.1ZM314.7,433 316.6,440.5 324.4,463 326.1,480.5 328.5,488 332.5,493.5 337.5,497.3 342.5,498.4 345,497.7 347.5,495.4 349.1,490.5 348.6,475.5 345,460.5 337.9,440.5 335,436.2 332.5,434.2 324.6,430.5 317.5,428.7 315,430.2ZM377.5,630.4 378,633 380,635.2 382.5,635.8 385.4,633 385,628.8 382.5,626.8 378.7,628ZM467.5,779.7 468.6,778 467.5,777 466.2,778Z" fill="#3467D4"/><path d="M120.8,204 127.5,207 132.5,207.8 135,206.9 137.5,204.8 142.2,198.5 129.7,192.5ZM257.5,405.3 254.9,410.5 255.5,415.5 257.5,419.8 260.2,423 264.5,425.5 267.5,426.2 272.5,425.6 275,423.1 275.8,420.5 274.9,415.5 272.2,410.5 267.5,405.4 262.5,403.6 260,403.9ZM324.3,443 327.6,465.5 328.4,480.5 329.7,485.5 335.1,493 340,495.5 342.5,495.3 345,493.5 346.5,490.5 347.3,483 346.1,473 342.5,461.1 337.5,450.4 332.5,442.5 330,440.3 327.5,439.5 325,440.2Z" fill="#2A62D5"/><path d="M122.9,201.2 130,203.1 132.5,202.7 135,201.2 138.9,196.8 129.7,192.5ZM260,413 260,415.5 260.9,418 263.1,420.5 267.5,421.7 269.9,420.5 270.6,418 270.1,415.5 267.5,412 265,410.4 262.5,410.4ZM331.3,460.5 330.5,475.5 331.4,483 335,489.2 337.5,491.2 340,491.8 342.7,490.5 344.9,485.5 345.2,480.5 344.4,475.5 340,463.6 337.5,459.3 335,457.2 332.5,457.5Z" fill="#1F5CD6"/><path d="M125.6,197.7 130.8,198 134.9,194.8 129.7,192.5ZM334.1,475.5 334,480.5 335,483.6 337.5,486.2 340,486.4 342.3,483 342.6,480.5 342.3,478 340,473 337.5,470.8 335,472.2Z" fill="#1F5CD6"/></g>
<path d="M251.1,254.9 253.6,260.5 256.6,265.5 266.5,278 275,285.5 289.5,295.6M352.5,572.5 351.6,573 350.9,575.5 352.4,578 356.6,580.5 377.5,585.3 378.6,588 381.7,590.5 387.5,591.8 400,598.5 403.2,598 405.1,595.5 404.8,593 403.3,590.5 400.2,588 397.5,586.8 387.5,583.8 382.5,583.7 380,584.5 378.5,583 376.5,578 374.4,575.5 370.4,573 357.5,571.9 352.5,572.5M552.5,648 548.5,653 545.8,658 543.2,665.5 542.5,670.5 542.5,675.5 543.8,683 546.5,690.5 550,696.6 555,702.2 559.6,705.5 565,708.2 572.5,710.5 580,711.7 587.5,711.7 593.5,710.5 597.5,708.1 599.5,705.5 600.3,703 600.9,698 600.6,693 599.2,688 594.5,680.5 587.7,673 577.2,663 570,654.4 565,649.4 562.5,647.7 557.5,646 555,646.4 552.5,648M215.5,236.8 206.6,250.5 204.9,255.5 205.4,260.5 208.5,265.5 217.5,272.8 219.9,275.5 225,286.5 226.3,288 227.5,288.9 230,289.1 237.5,287.3 242.5,286.9 247.5,287.6 252.5,289.6 260,294.7 266.6,300.5 273.1,308 280,318.2 285.1,323 292.5,326.8 300,329.2 315,332.6 322.9,332.8M182.5,407.8 177.5,408.9 175,410.6 171.1,415.5 168.9,420.5 167.9,425.5 168,433 170,440.5 172.5,445.5 175,448.9 180,453.6 187.5,457.4 195,458.3 202.5,457.8 207.5,457.1 212.5,455.2 217.5,450.8 219.5,445.5 219,440.5 217.5,435.5 212.3,423 207.5,417.8 200,412.8 190,408.9 182.5,407.8M295,533 290,535.2 287.7,538 286.5,540.5 285.1,548 285.5,550.5 286.9,553 290.2,555.5 302.5,561.9 314.5,570.5 342.9,585.5 352.5,589.7 370,594.1 385,599.7 398.1,605.5 413.6,610.5 420,613.8 430,620.7 435,623.4 452.5,629.5 472.5,639 477.5,639.4 480,638.6 482.5,636.8 485.3,633 490.6,620.5 491.7,615.5 488.8,605.5 487,603 485,601.9 480,601.2 465,601.5 460,600.5 455,598.1 442.5,589.7 427.5,583.9 415,577.7 400,572.9 382.5,563.1 375,561.1 360,560.4 355,558.8 350.2,555.5 342.5,548.2 337.5,544.3 322.5,536.7 315,534 310,532.9 302.5,532.5 295,533M614.6,657.9 605,653.2 600,650 583.9,633 577.5,628.4 572.5,626 547.5,618.8 530,612.3 522.5,610.6 515,610.4 510,610.9 504.5,613 503.1,615.5 503.5,618 506.4,623 517,635.5 520.1,640.5 520,643.5 517.5,653 517.8,660.5 525.6,683 532.9,710.5 536.7,718 540,721.7 545,725.1 550,727.2 580,736.1 600,741 617.5,749 632.5,753.6 657.5,762.8 662.5,764 675,764.4 680,765.2 685,766.9 695,772.2 697.8,773M201.7,229.8 198.2,238 195.9,245.5 194.7,253 195,260.5 196.9,268 204.7,288 208.4,293 213.4,298 220,302.5 225,304 230,303.6 242.5,299.9 247.5,299.9 250,300.8 255,304.5 260,310.2 269.1,325.5 273,330.5 282.5,338.5 292.5,344.1 297.5,345.6 310,347.4 317.5,347.8 330,347.2 336.7,348.2M354.9,368.5 358.4,378 362.5,385 367.5,389.1 376.6,392.7M414.3,434.7 409.8,440.5 407.5,446.2 401.7,465.5 400.7,473 401.9,485.5 403.3,490.5 405,493 407.5,494.5 415,497.4 420,500.2 422.8,503 425.2,508 425.3,515.5 422.5,525.7 417.5,537.9 413.2,543 410,544.8 407.5,545.4 402.5,545.1 397.5,543.4 387.6,538 377.5,529.3 375,528.5 372.5,528.9 370,530.2 365,534 361.4,535.5 355,535.7 347.5,534.4 340,532.1 332.5,528.7 320,520.5 315,517.8 290,510.3 285,509.3 280,509.2 273.9,510.5 269.1,513 264,518 261.6,523 260.8,528 261.8,538 261.8,548 263.8,553 265.7,555.5 271,560.5 275,563 280,565.1 290,567.5 297.5,570.2 310,577.2 345,594.5 355,597.6 372.5,600.7 385,604.7 395,609.1 405,614.2 410.6,618 422.5,630 427.5,634.1 432.5,636.4 445,639 452.5,641.6 457.5,644.2 470,653 482.5,658.8 490,663.6 504.3,675.5 508.3,680.5 512.1,688 513.9,695.5 514.2,703 511.1,723 511,728 512.5,732.8 514.1,735.5 520,740.9 537.5,748.1 542.5,749.6 562.5,750.8 592.5,755.9 600,757.7 614.3,763 625,764.2 632.5,766 671.8,780.5 677.5,784.7 685,793.8 687.5,795.6 690,796.3 692.8,796.1M95,242.3 93.3,242.9M88.9,273.5 95,276.8 100,277.4 102.5,276.8 105,275.2 107.5,272.3 110,265.5 110,258 108.5,253 106,248 104.1,245.5 100.8,243 97.5,242.1 95,242.3M127.5,375.4 123.9,378 122.9,380.5 123.3,383 125,384.7 127.5,385.6 147.5,386.9 150,386.3 152.5,384.8 154.3,383 155.3,380.5 153.5,378 150,376.8 130,375.1 127.5,375.4M167.5,377.9 165.2,380.5 165.3,383 167.6,390.5 167.2,395.5 155.9,420.5 153.7,428 153.2,433 153.4,438 154.7,445.5 158.5,458 161.8,465.5 165.5,470.5 170,473.9 177.5,477 185,478.6 200,479.9 217.5,477.7 222.5,475.9 225.5,473 229.2,465.5 232.4,455.5 233,448 230.8,440.5 220.4,420.5 215,413.1 210,408.5 202.5,403.5 191.6,398 188.7,395.5 180.7,383 177.5,379.4 172.5,377 167.5,377.9M541.1,576.1 531.3,585.5 527.5,587.6 522.5,588.9 517.5,588.5 512.5,586.5 507.5,582.8 502.8,578 499,573 496.5,568 495.5,560.5 496.3,555.5 498.8,548 502.5,541.6 506.4,537.3M432.5,769.7 430.3,773 430.7,775.5 432.5,776.8 435,776.3 436.6,773 435,769.6 432.5,769.7M190.8,224.3 187.2,240.5 186.4,248 186.6,255.5 187.9,263 190.1,270.5 192.8,285.5 194.6,290.5 197.7,295.5 206.6,303 215,307.7 220,309.6 227.5,310.8 240,310 243.1,310.5 247.5,312.5 253.3,318 267.5,337.8 280,350.3 292.5,360 303,363 306.7,365.5 312.5,373.3 327.5,381.3 347.5,399.4 353.3,405.5 356.7,410.5 370,445.1 372.5,448.8 380.3,455.5 381.5,458 382.6,463 383.1,475.5 382.3,483 381,488 377.7,495.5 373.3,503 367.5,509.4 352.5,521.5 350,522.7 345,523.6 337.5,522.3 332.5,519.8 320,511 290,494.5 280,491.4 265,491.1 260,490.2 255.5,488 252.5,485.4 245.7,475.5 243.7,470.5 242.9,465.5 242.3,453 239.4,443 224.6,415.5 217.5,405.3 212.5,400.2 198.6,388 187.5,371.7 180,364 175,361.2 167.5,360.1 162.5,361 152.5,364.4 150,364.3 147,363 140.7,358 135.7,353 132.2,348 127.9,338 119.9,308 120.2,298 122.8,278 122.4,270.5 120.8,263 117.1,253 112.5,245.2 110,242.4 105,238.5 97.5,234.8M85.5,357.4 89.1,370.5 92.7,380.5 105,404.8 107.5,408.2 112.5,412.5 117.5,414.8 127.5,417.4 128.4,418 129.8,420.5 131.1,433 135.1,450.5 136.1,458 135.9,468 132.9,485.5 137.4,488 145.9,490.5 177.5,497.5 185,498 190,497.3 197.7,493 202.5,491.2 206.3,493 207.8,495.5 208.2,498 207.5,503.1 192.3,545.5 189.3,558 190.1,590.5 193.5,598 197.5,602.9 200,605 205,607.9 212.5,609.8 222.5,610.3 227.5,608.5 235,603.4 240.3,598 242.5,594.5 247.5,583 252.5,576.1 257.5,572.6 265,571.1 285,573.9 295,576.9 302.5,580.2 340,599.6 347.5,602.8 355,604.6 375,606.4 387.5,609.9 398.3,615.5 406.9,623 411.8,630.5 417.5,642.1 422.5,648.3 425,649.6 427.5,650.1 439.2,648 445,648.1 450,649.3 455,651.6 481.6,670.5 490.1,678 496.6,685.5 499.3,690.5 500.7,698 499.2,705.5 495,712 492.5,714.2 487.5,716.8 482.5,717.8 467.5,718.7 462.5,720.4 459.3,723 457.9,725.5 457.5,728 458.1,730.5 459.8,733 466.2,738 475,743 485,747.6 505,752.1 521.8,758 526.7,760.5 535,766.6 542.5,770 550,770.9 560,770.1 577.5,771.5 592.5,769.8 602.5,769.6 627.5,773.6 632.5,775 653.3,783 677.5,799.6 682.5,801.3 691.6,801.9M144.1,400.5 146.2,400.5 147.3,403 145,406.2 142.5,408 140,408.2 139.6,405.5 141.1,403 144.1,400.5M128.8,557.4 132.6,550.5 134.1,543 133.4,535.5 128.7,518 128,513 128.5,503 131.6,488 128.9,485.5 96.9,474.5M367.5,704.2 366.5,705.5 366.4,708 367.5,710.6 370,711.8 372.5,710.7 372.7,708 371.4,705.5 370,704.3 367.5,704.2M385,722.9 382.5,723.8 381.4,725.5 379,730.5 378.5,733 379.9,738 382.5,739.7 385.9,738 387.8,735.5 389.3,730.5 389.4,728 388.6,725.5 387.5,724 385,722.9M432.5,761.5 430,763.6 426.8,768 424.6,773 424.1,775.7M436.9,781.3 439.5,773 439.8,768 437.5,762 435,760.8 432.5,761.5M662.8,880.9 662.4,875.5 661.7,873 660,870.1 656.2,868 647.5,865.4 635,862.7 625,861.4 620,859.9 617.5,857.9 606.2,845.5 598.9,840.5 575,832 567.5,830 560,830 552.7,832.4M179.6,218.6 178.5,225.5 177.4,243 177.8,258 183.1,285.5 186.4,293 192.5,302.1 195.9,305.5 199.7,308 212.5,313.8 222.5,317.1 237.5,319.8 244,323 249.1,328 262.5,345.5 280,365.2 287.5,376.2 295,383.7 302.5,389.3 322.5,395.7 332.5,400.9 345,410.3 352.5,419.2 355.7,425.5 358.5,433 363.5,453 369.2,465.5 370.6,470.5 371.7,478 370.5,488 368.2,495.5 365.9,500.5 360.2,508 352.5,514.3 347.5,516.5 345,516.9 340,516.4 335,514.4 318.8,503 307.3,493 298.7,483 295.6,478 292.8,470.5 288.9,453 287.5,449.9 285,447.6 280,448 273,450.5 267.2,453 262.5,456.3 260,457.3 257.5,455.9 255,453.4 247.5,443.6 239,430.5 222.5,399.5 217.5,392.8 206.2,380.5 202.6,375.5 195.3,360.5 186.6,345.5 181.4,333 177.5,329.9 165,325.8 160,323.6 155,320.1 150,314.6 146.1,308 143.1,300.5 137.7,275.5 134.8,268 117.5,241.2 112.5,236.4 102.5,229.8M259.2,465.5 260,464.1 261.4,465.5 261.7,468 260,468.9 259.1,468 259.2,465.5M437.7,658 442.5,656.3 450,657.3 456.4,660.5 462.8,665.5 471.9,675.5 484.5,693 486.1,698 485.8,700.5 485,701.6 482.5,702.9 480,702.9 462.5,697 447.5,695.5 442.5,692.6 440,689.2 437.5,683.6 434,668 434.2,663 435.3,660.5 437.7,658M135.7,565.7 140.8,553 145,532.3 147.5,525.7 150,522.9 155,520.5 160,520.7 164.9,523 169.2,528 171.6,535.5 171.9,543 171,560.5 171.9,565.5 175.9,573 178.2,580.5 178.7,600.6M227.6,640.2 235,636.1 242.5,628.5 245,626.7 257.5,621.4 262.2,618 264.2,615.5 266.8,610.5 267.6,605.5 267.8,593 269.5,588 272.5,584.9 276.4,583 280,582.2 287.5,582.9 300,586.4 325,599.1 342.5,609.2 347.5,611.2 355,612.4 370,611.1 377.5,611.3 387.5,613.9 394.9,618 397.9,620.5 402.1,625.5 405.4,633 408.9,663 410.7,670.5 412.8,675.5 417.5,683 431.6,698 433.4,700.5 435.1,705.5 434.9,713 432.3,720.5 428.9,725.5 420,734.2 418.1,738 419,743 424.8,750.5 426.3,755.5 424.5,763 419,773.4M366.3,750.2 370,748.2 380,749.3 382.5,748.9 387.5,747 398.7,738 402.2,733 402.2,728 399.3,720.5 390.2,708 382.5,694.4 378.3,690.5 375,688.9 370,688.2 365,689.3 362.5,690.5 357.5,695.3 352,705.5 347.5,710.3 342.5,712.5 332.5,714.1 330,715.1 326.4,721.1M453,750.5 455,749.7 460,749.2 467.5,750.8 472.5,753.2 482.5,759.3 500.7,765.5 506.3,768 510.1,770.5 514.6,775.5 516.6,780.5 516.8,783 515,786.1 512.5,787.4 507.5,788.4 495,788.1 492.5,788.6 489.7,790.5 486,798 482.8,801.6M444.2,784.5 442.2,780.5 441.7,775.5 445.6,760.5 447.6,755.5 450,752.5 453,750.5M599.4,783 607.5,783.1 612.2,785.5 614.2,788 615.8,793 616.6,803 615.1,808 612.4,810.5 605,814.1 595,817.4 587.5,818.5 582.5,818.3 577.5,817.2 572.5,815 566.3,810.5 561.9,805.5 560.7,803 560.5,800.5 561.2,798 565.4,793 568.7,790.5 572.5,788.6 577.5,787 599.4,783M530.7,800.5 532.5,799.8 535,800.4 537.5,802.7 538,805.5 536.6,808 535,809 532.5,809.3 530.2,808 529.3,805.5 529.3,803 530.7,800.5M678.1,865.2 662.5,857.7 656.7,853 653.1,848 651.1,843 650,835.2 645.8,820.5 646,813 647.5,809.8 650,807 655,805 660,805.3 675,809.1 680,809.6 682.5,809.3 690.6,806.5M166.6,212 165.4,218 166.9,235.5 166.3,243 165,248.1 162.5,253.4 160,256.1 157.5,256.9 142.5,254.9 135,251.6 132.5,249.4 117.5,229.6 112.9,225.5 108.1,222.7M161.9,275.5 162.5,273.5 164.8,275.5 162.5,276.7 161.9,275.5M197.2,320.5 200,319.4 205,319.6 217.5,324.4 232.5,328.9 237.5,331.6 242.5,336.1 253.5,350.5 260,358 282.5,379 292.5,392.8 295,395.3 302.5,399 317.5,403.8 325,407.1 340,416.3 347.5,423 350.7,428 353.2,435.5 356.9,455.5 360.7,468 362.4,483 362.4,490.5 360.6,498 358.1,503 353.7,508 347.5,511.1 345,511.5 340,510.8 332.5,506.9 324.1,500.5 319,495.5 313.6,488 311.4,483 306.5,468 301.4,458 297.2,448 295,444.5 292.5,441.9 290,440.4 285,439.5 270,443 262.5,443.5 257.5,442 255,440.6 247.5,433.3 242.5,426.1 238.3,418 227.1,388 216.1,370.5 211,353 201,340.5 197.5,334.7 196,330.5 195.1,325.5 195.5,323 197.2,320.5M152,573 155,572.1 157.5,572.7 162.5,575.7 165,578 166.6,580.5 167.2,583 165.7,590M148.8,576.3 152,573M305.8,603 310,602.4 315,603.2 320,605 325.1,608 330.5,613 334.1,618 335.1,620.5 334.4,623 330,625.3 322.5,626.5 317.5,626.1 312.5,623.4 307.5,618 304.7,613 303.5,608 303.8,605.5 305.8,603M366.2,618 375,615.7 382.5,616.1 390,619.3 394.5,623 396.4,625.5 399.4,633 399.6,640.5 397.5,649.1 393.3,658 390,662.5 385,666 367.5,669.8 357.5,674.3 352.5,677.4 348.1,683 343.1,695.5 340.6,698 337.5,698.6 330,698.3 322.5,696 316,690.5 311.5,683 309.6,675.5 308.6,668 308.5,663 310,658.2 313.3,655.5 317.5,654.1 320,654 340,659.9 345,658.4 347.8,655.5 349.4,650.5 347.9,635.5 348.7,630.5 350.4,628 356.4,623 366.2,618M273.1,645.5 277.5,643.9 282.5,644.7 287.2,648 288.8,650.5 289,653 286.4,658 271.5,676.1M247,656 252.5,657 257.5,656.2 273.1,645.5M445.3,668 447.5,667 450,667.3 454.5,670.5 456.9,675.5 456.6,678 455,679.9 452.5,680.4 450,679.8 447.5,678.3 445.2,675.5 444.2,673 444.2,670.5 445.3,668M401.7,693 405,692.6 410,694.8 415,699.3 419.4,705.5 421,710.5 420.4,715.5 417.5,719.5 415,721 412.5,721.5 410,721 407.5,719.5 404.1,715.5 399.6,708 398.2,703 398.4,698 400,694.3 401.7,693M403.9,745.5 407.5,745.1 412.5,746.8 417.5,751 420.1,755.5 420.3,758 419,763 413.6,771.1M385.4,758.6 395,750 400,746.9 403.9,745.5M459.3,758 465,758.1 472.5,761.1 485.5,770.5 488.4,775.5 488.4,778 487.5,780.5 480.5,793 477.5,795.9 473.4,797.4M457.3,790.3 448.5,780.5 447.3,778 446.8,775.5 448,770.5 451.8,763 455,759.8 459.3,758M680,856.4 670,853.4 665.6,850.5 663.3,848 661.7,845.5 660,840.5 659.5,835.5 659.9,830.5 662.5,824 667.1,820.5 672.5,819.2 685,819 688.1,818.4M154.7,205.9 151.7,210.5 150,215.5 152.1,225.5 152.1,233 150,237 147.5,238.7 145,239.4 140,239 135,236.3 130,231.5 122.2,220.5 119.5,218 114,214.9M247.8,375.5 250,374.2 252.5,373.7 257.5,374.3 267.5,377.7 277.5,382.8 280.3,385.5 281.3,388 285,404.8 288.8,408 295,410.1 310,411 317.5,413.1 340,425.2 345,430.1 347.5,437.5 350.4,453 354.1,468 356.2,488 356,493 354.8,498 352.5,502.4 350,504.9 345,506.2 342.5,506 337.5,504.3 330,499.2 324,493 320.9,488 319.2,483 317.3,468 303.9,443 300.5,438 297.5,435 295,433.3 290,432.1 285,432.9 272.5,436.7 265,436.8 257.5,434.1 252.9,430.5 250,427.2 247.1,423 243.7,415.5 241.5,408 240.7,400.5 241,393 242.5,385.9 245,379.6 247.8,375.5M376.2,620.5 382.5,620.3 387.5,622.4 390.9,625.5 393.4,630.5 393.9,635.5 392.5,641.2 390,645.1 387.5,647.3 385,648.4 382.5,648.9 377.5,647.5 369.6,640.5 366.2,635.5 365.7,630.5 368,625.5 370.7,623 376.2,620.5M403.3,755.5 407.5,753.8 410,753.8 413.3,755.5 413.9,758 412.5,761.2 410,763.6 405,765.9 402.5,765.8 400,763.7 399.8,760.5 400.9,758 403.3,755.5M459.9,765.5 465,765 470,766.6 475,769.9 477.9,773 479.2,775.5 479.8,780.5 478.3,785.5 475,789.9 472.5,791 470,791.1 465,789.6 460,785.7 455.8,780.5 453.8,775.5 453.9,773 454.7,770.5 456.4,768 459.9,765.5M673.5,828 680,826.2 686.4,826M681.3,850.2 673.3,848 670,845.5 668.4,843 667.5,840.5 667.5,835.5 670,830.6 673.5,828M146,201.5 141.1,210.5 139.2,220.5 137.5,221.9 135,220.3 127,213 119,208.2M257.1,395.5 262.5,394.5 267.5,395.8 270,397.6 272.5,400.9 280.7,415.5 282.2,420.5 281.8,423 280.5,425.5 278.2,428 275,429.9 270,430.7 262.5,429.1 257.1,425.5 252.5,419.2 250.3,413 250.1,405.5 252.5,399.5 255,396.8 257.1,395.5M311.4,425.5 312.5,424.7 315,424.2 317.5,424.9 330.3,430.5 334.6,433 337.2,435.5 339.9,440.5 347.6,465.5 349.7,478 350.3,488 349.7,493 347.5,497.6 345,499.2 340,499.2 335,496.8 330.8,493 327.4,488 325.1,480.5 323.8,465.5 321.5,458 311.3,433 310.4,428 311.4,425.5M380,625.5 382.5,625.4 385,626.8 387,630.5 387.1,633 386.2,635.5 385,637.2 382.5,638.1 380,637.5 377.5,635.7 375.9,633 375.6,630.5 376.6,628 380,625.5M463.5,775.5 465,774.2 467.5,774.1 470,775.5 471.4,778 471.2,780.5 470,782 467.5,782.4 465,781 463.2,778 463.5,775.5M679.9,835.5 682.5,835.2 684.2,836.6M683.4,840.1 680,840.9 678.5,840.5 677.5,838 679.9,835.5M136.5,196.7 135,198.4 131.7,200.5 127.5,200.8 125,200.1M334.4,463 335,462.3 337.5,464.1 342.5,473.5 343.7,478 343.4,485.5 342.5,487.7 340,489.5 337.5,489.1 335,486.9 332.8,483 332.1,480.5 332.5,470.5 334.4,463" fill="none" stroke="#2a2a2a" stroke-width="0.7" stroke-dasharray="none"/>
<clipPath id="fca"><rect x="45.6" y="30.6" width="679.4" height="876.6"/></clipPath>
<path d="M106,30.6 L12.3,907.2 M195,30.6 L114,907.2 M283.5,30.6 L216,907.2 M371.5,30.6 L318,907.2 M460,30.6 L420,907.2 M548.5,30.6 L521.5,907.2 M636.5,30.6 L623,907.2 M724,30.6 L724,907.2 M45.6,77.8 Q385.3,104.2 725,118.6 M45.6,283 Q385.3,308.5 725,322 M45.6,488 Q385.3,512.5 725,525 M45.6,693 Q385.3,717 725,729 M45.6,898 Q385.3,921.5 725,933" clip-path="url(#fca)" fill="none" stroke="#8a8a8a" stroke-width="0.6" stroke-dasharray="5,3"/>
<rect x="45.6" y="30.6" width="679.4" height="876.6" fill="none" stroke="#000" stroke-width="2"/>
<text x="106" y="20.9" font-size="10" text-anchor="middle">50° E</text>
<text x="195" y="20.9" font-size="10" text-anchor="middle">51° E</text>
<text x="283.5" y="20.9" font-size="10" text-anchor="middle">52° E</text>
<text x="371.5" y="20.9" font-size="10" text-anchor="middle">53° E</text>
<text x="460" y="20.9" font-size="10" text-anchor="middle">54° E</text>
<text x="548.5" y="20.9" font-size="10" text-anchor="middle">55° E</text>
<text x="636.5" y="20.9" font-size="10" text-anchor="middle">56° E</text>
<text x="724" y="20.9" font-size="10" text-anchor="middle">57° E</text>
<text x="114" y="923.5" font-size="10" text-anchor="middle">51° E</text>
<text x="216" y="923.5" font-size="10" text-anchor="middle">52° E</text>
<text x="318" y="923.5" font-size="10" text-anchor="middle">53° E</text>
<text x="420" y="923.5" font-size="10" text-anchor="middle">54° E</text>
<text x="521.5" y="923.5" font-size="10" text-anchor="middle">55° E</text>
<text x="623" y="923.5" font-size="10" text-anchor="middle">56° E</text>
<text x="724" y="923.5" font-size="10" text-anchor="middle">57° E</text>
<text x="38.1" y="81.4" font-size="10" text-anchor="end">64° N</text>
<text x="38.1" y="286.6" font-size="10" text-anchor="end">63° N</text>
<text x="38.1" y="491.6" font-size="10" text-anchor="end">62° N</text>
<text x="38.1" y="696.6" font-size="10" text-anchor="end">61° N</text>
<text x="38.1" y="901.6" font-size="10" text-anchor="end">60° N</text>
<text x="731.5" y="122.2" font-size="10">64° N</text>
<text x="731.5" y="325.6" font-size="10">63° N</text>
<text x="731.5" y="528.6" font-size="10">62° N</text>
<text x="731.5" y="732.6" font-size="10">61° N</text>
<path d="M106,23.6 V30.6 M195,23.6 V30.6 M283.5,23.6 V30.6 M371.5,23.6 V30.6 M460,23.6 V30.6 M548.5,23.6 V30.6 M636.5,23.6 V30.6 M724,23.6 V30.6 M114,907.2 V914.2 M216,907.2 V914.2 M318,907.2 V914.2 M420,907.2 V914.2 M521.5,907.2 V914.2 M623,907.2 V914.2 M724,907.2 V914.2 M38.6,77.8 H45.6 M38.6,283 H45.6 M38.6,488 H45.6 M38.6,693 H45.6 M38.6,898 H45.6 M725,118.6 H731 M725,322 H731 M725,525 H731 M725,729 H731" stroke="#000" stroke-width="1.6" fill="none"/>
<path d="M133.8,196.4 138.3,211.9 149.3,230.1 165.7,257.4 182,281 196.6,299.3 211.2,313.9 225.8,328.5 236.7,341.3 262.2,354 271.4,365 280.5,386.8 291.4,414.2 304.2,441.5 313.3,454.6 330,474.6 357.3,491 397.4,516.5 417.5,534.8 430.2,556.6 446.6,578.5 461.2,589.4 475.8,589.4 494,594 512.2,598.6 526.8,604 539.6,618.6 552.3,636.8 560,647.5 569.5,670 577,685.2 588.3,698.4 603.4,711.6 626,728.5 644.8,745.5 667.4,760.5 682.5,770 699,775M86,493.5 105.5,493.8 116.4,494.7 134.7,498.3 152.9,511 167.5,522 189.3,523.8 207.6,521.1 244,518.4 253.1,523.8 262.2,542 273.2,563.9 284.1,584 298.7,600.4 318.7,618.6 335.2,631.4 349.7,640.5 364.3,651.4 380,664.2 400,674 428.2,687 447,700.3 462.1,715.3 475.3,738 488.5,754.9 505.5,768 531.8,783.1 550.7,796.3 569.5,805.7 588.3,815.1 611,828.3 629.8,839.6 641,851 643,871.6M87.3,440 103.7,458.2 120.1,476.4 129.2,491 134.7,498.3M671.2,762.4 659.9,768 648.6,783.1 643,809.5 643,837.7 643.9,871.6" fill="none" stroke="#7f7f7f" stroke-width="2.2" stroke-linejoin="round"/>
<path d="M133.8,196.4 138.3,211.9 149.3,230.1 165.7,257.4 182,281 196.6,299.3 211.2,313.9 225.8,328.5 236.7,341.3 262.2,354 271.4,365 280.5,386.8 291.4,414.2 304.2,441.5 313.3,454.6 330,474.6 357.3,491 397.4,516.5 417.5,534.8 430.2,556.6 446.6,578.5 461.2,589.4 475.8,589.4 494,594 512.2,598.6 526.8,604 539.6,618.6 552.3,636.8 560,647.5 569.5,670 577,685.2 588.3,698.4 603.4,711.6 626,728.5 644.8,745.5 667.4,760.5 682.5,770 699,775M86,493.5 105.5,493.8 116.4,494.7 134.7,498.3 152.9,511 167.5,522 189.3,523.8 207.6,521.1 244,518.4 253.1,523.8 262.2,542 273.2,563.9 284.1,584 298.7,600.4 318.7,618.6 335.2,631.4 349.7,640.5 364.3,651.4 380,664.2 400,674 428.2,687 447,700.3 462.1,715.3 475.3,738 488.5,754.9 505.5,768 531.8,783.1 550.7,796.3 569.5,805.7 588.3,815.1 611,828.3 629.8,839.6 641,851 643,871.6M87.3,440 103.7,458.2 120.1,476.4 129.2,491 134.7,498.3M671.2,762.4 659.9,768 648.6,783.1 643,809.5 643,837.7 643.9,871.6" fill="none" stroke="#7f7f7f" stroke-width="3.6" stroke-dasharray="6,34"/>
<path d="M134.7,217.3 129.2,230.1 126.5,250.1 129.2,266.5 136.5,290.2 143.8,306.6 152.9,321.2 167.5,330.3 182,341.3 189.3,354 183.9,365 174.8,369.5 156.5,365 140.1,357.7 131,350.4 123.7,357.7 121,381.4 121,417.8 123.7,445.1 129.2,456.1 121.9,468.8 112.8,463.4 105.5,452.4 98.2,441.5 87.3,430.6M318.7,618.6 316.9,622.2 307.8,644.1 298.7,667.8 291.4,691.5M428.4,454.6 439.4,476.5 450.3,498.3 461.2,516.5 475.8,533 494,543.9 515.9,551.2 528.7,567.6 530.5,585.8 536,596.7 548.7,600.4 565.1,604M543,785 580.8,805.7M443.3,696.5 438,730 433.9,762.4M452.7,711.6 445,740 440,765M439.4,713.4 424.8,731.6" fill="none" stroke="#858585" stroke-width="1.4" stroke-linejoin="round"/>
<path d="M134.7,217.3 129.2,230.1 126.5,250.1 129.2,266.5 136.5,290.2 143.8,306.6 152.9,321.2 167.5,330.3 182,341.3 189.3,354 183.9,365 174.8,369.5 156.5,365 140.1,357.7 131,350.4 123.7,357.7 121,381.4 121,417.8 123.7,445.1 129.2,456.1 121.9,468.8 112.8,463.4 105.5,452.4 98.2,441.5 87.3,430.6M318.7,618.6 316.9,622.2 307.8,644.1 298.7,667.8 291.4,691.5M428.4,454.6 439.4,476.5 450.3,498.3 461.2,516.5 475.8,533 494,543.9 515.9,551.2 528.7,567.6 530.5,585.8 536,596.7 548.7,600.4 565.1,604M543,785 580.8,805.7M443.3,696.5 438,730 433.9,762.4M452.7,711.6 445,740 440,765M439.4,713.4 424.8,731.6" fill="none" stroke="#858585" stroke-width="2.8" stroke-dasharray="3,9"/>
<path d="M313.8,709.6 318.7,697.5 371,712 362.5,742.5 408.6,754.6 414.7,724.2 524.4,753.4 531.7,723 546.3,728 556,697.5 599.7,709.6 608.2,678 638.6,684.6" fill="none" stroke="#F07C88" stroke-width="3.2" stroke-linejoin="miter"/>
<path d="M313.8,709.6 318.7,697.5 371,712 362.5,742.5 408.6,754.6 414.7,724.2 524.4,753.4 531.7,723 546.3,728 556,697.5 599.7,709.6 608.2,678 638.6,684.6" fill="none" stroke="#8a2a3a" stroke-width="0.6" stroke-dasharray="2.5,1.5"/>
<g font-size="11" fill="#fff" stroke="#1a1a1a" stroke-width="1.5" paint-order="stroke" stroke-linejoin="round"><text transform="translate(139,223.7) rotate(-55)" text-anchor="middle" y="3.2">4</text><text transform="translate(136.5,237) rotate(-55)" text-anchor="middle" y="3.2">3</text><text transform="translate(133,250.5) rotate(-55)" text-anchor="middle" y="3.2">2</text><text transform="translate(99,245.6) rotate(-55)" text-anchor="middle" y="3.2">-1</text><text transform="translate(247,300) rotate(-55)" text-anchor="middle" y="3.2">-1</text><text transform="translate(240,310) rotate(-55)" text-anchor="middle" y="3.2">0</text><text transform="translate(305.4,325.8) rotate(-55)" text-anchor="middle" y="3.2">-2</text><text transform="translate(203,324.6) rotate(-55)" text-anchor="middle" y="3.2">3</text><text transform="translate(231,338) rotate(-55)" text-anchor="middle" y="3.2">3</text><text transform="translate(265.3,419.4) rotate(-55)" text-anchor="middle" y="3.2">5</text><text transform="translate(300.6,397.5) rotate(-55)" text-anchor="middle" y="3.2">2</text><text transform="translate(309,411) rotate(-55)" text-anchor="middle" y="3.2">3</text><text transform="translate(314,423) rotate(-55)" text-anchor="middle" y="3.2">4</text><text transform="translate(334.6,461.9) rotate(-55)" text-anchor="middle" y="3.2">5</text><text transform="translate(259.3,469) rotate(-55)" text-anchor="middle" y="3.2">1</text><text transform="translate(248.3,479) rotate(-55)" text-anchor="middle" y="3.2">0</text><text transform="translate(179,451) rotate(-55)" text-anchor="middle" y="3.2">-2</text><text transform="translate(169,474) rotate(-55)" text-anchor="middle" y="3.2">-1</text><text transform="translate(86.7,400) rotate(-55)" text-anchor="middle" y="3.2">1</text><text transform="translate(203.4,491) rotate(-55)" text-anchor="middle" y="3.2">0</text><text transform="translate(309,545.6) rotate(-55)" text-anchor="middle" y="3.2">-2</text><text transform="translate(173,566) rotate(-55)" text-anchor="middle" y="3.2">1</text><text transform="translate(167,581) rotate(-55)" text-anchor="middle" y="3.2">2</text><text transform="translate(282,582) rotate(-55)" text-anchor="middle" y="3.2">1</text><text transform="translate(317.5,601.5) rotate(-55)" text-anchor="middle" y="3.2">2</text><text transform="translate(314,617) rotate(-55)" text-anchor="middle" y="3.2">3</text><text transform="translate(383,627) rotate(-55)" text-anchor="middle" y="3.2">4</text><text transform="translate(267.7,660) rotate(-55)" text-anchor="middle" y="3.2">3</text><text transform="translate(287,678) rotate(-55)" text-anchor="middle" y="3.2">2</text><text transform="translate(367,703.6) rotate(-55)" text-anchor="middle" y="3.2">0</text><text transform="translate(402.5,706) rotate(-55)" text-anchor="middle" y="3.2">3</text><text transform="translate(383,740) rotate(-55)" text-anchor="middle" y="3.2">0</text><text transform="translate(414.7,756) rotate(-55)" text-anchor="middle" y="3.2">3</text><text transform="translate(424.4,764) rotate(-55)" text-anchor="middle" y="3.2">1</text><text transform="translate(436.6,774) rotate(-55)" text-anchor="middle" y="3.2">-1</text><text transform="translate(447.5,672) rotate(-55)" text-anchor="middle" y="3.2">2</text><text transform="translate(486,702) rotate(-55)" text-anchor="middle" y="3.2">1</text><text transform="translate(495,711) rotate(-55)" text-anchor="middle" y="3.2">0</text><text transform="translate(467,779) rotate(-55)" text-anchor="middle" y="3.2">4</text><text transform="translate(489,762) rotate(-55)" text-anchor="middle" y="3.2">1</text><text transform="translate(512,575) rotate(-55)" text-anchor="middle" y="3.2">0</text><text transform="translate(561,623) rotate(-55)" text-anchor="middle" y="3.2">-2</text><text transform="translate(556,646.5) rotate(-55)" text-anchor="middle" y="3.2">-3</text><text transform="translate(614,763) rotate(-55)" text-anchor="middle" y="3.2">-1</text><text transform="translate(520.8,741) rotate(-55)" text-anchor="middle" y="3.2">-1</text><text transform="translate(525.6,759.5) rotate(-55)" text-anchor="middle" y="3.2">0</text><text transform="translate(578,801) rotate(-55)" text-anchor="middle" y="3.2">2</text><text transform="translate(531.7,809) rotate(-55)" text-anchor="middle" y="3.2">2</text><text transform="translate(544,827.5) rotate(-55)" text-anchor="middle" y="3.2">1</text><text transform="translate(559.6,830) rotate(-55)" text-anchor="middle" y="3.2">0</text><text transform="translate(661.7,845.7) rotate(-55)" text-anchor="middle" y="3.2">2</text><text transform="translate(675,842) rotate(-55)" text-anchor="middle" y="3.2">4</text></g>
<path d="M130,193.4 252,255.3 266.6,270 701.6,755 673.7,885.7 356.7,746 245.8,655 130.4,561.4 85.5,445 85.5,296.6 94,238.3 103.7,228.6Z" fill="none" stroke="#000" stroke-width="1.3" stroke-linejoin="miter"/>
<path d="M117.3,101.8 L137.5,81.6 L125.2,98.5 ZM117.3,101.8 L137.5,122 L120.6,109.7 ZM117.3,101.8 L97.1,122 L109.4,105.1 ZM117.3,101.8 L97.1,81.6 L114,93.9 Z" fill="#fff" stroke="#000" stroke-width="0.9" stroke-linejoin="round"/>
<path d="M117.3,101.8 L137.5,81.6 L120.6,93.9 ZM117.3,101.8 L137.5,122 L125.2,105.1 ZM117.3,101.8 L97.1,122 L114,109.7 ZM117.3,101.8 L97.1,81.6 L109.4,98.5 Z" fill="#000" stroke="#000" stroke-width="0.9" stroke-linejoin="round"/>
<path d="M117.3,101.8 L117.3,61.3 L122.1,90.3 ZM117.3,101.8 L157.8,101.8 L128.8,106.6 ZM117.3,101.8 L117.3,142.3 L112.5,113.3 ZM117.3,101.8 L76.8,101.8 L105.8,97 Z" fill="#fff" stroke="#000" stroke-width="0.9" stroke-linejoin="round"/>
<path d="M117.3,101.8 L117.3,61.3 L112.5,90.3 ZM117.3,101.8 L157.8,101.8 L128.8,97 ZM117.3,101.8 L117.3,142.3 L122.1,113.3 ZM117.3,101.8 L76.8,101.8 L105.8,106.6 Z" fill="#000" stroke="#000" stroke-width="0.9" stroke-linejoin="round"/>
<text x="117.3" y="59.5" font-size="9.5" text-anchor="middle">N</text>
<text x="117.3" y="152.5" font-size="9.5" text-anchor="middle">S</text>
<text x="74.3" y="105.2" font-size="9.5" text-anchor="end">W</text>
<text x="160.3" y="105.2" font-size="9.5">E</text>
<rect x="397.5" y="44" width="313.5" height="163.5" fill="#fff" stroke="#222" stroke-width="1.5"/>
<text x="554" y="62.5" font-size="12.5" font-weight="bold" text-anchor="middle" fill="#222">LEGEND</text>
<line x1="411" y1="85.3" x2="446" y2="85.3" stroke="#F0707A" stroke-width="4"/>
<line x1="411" y1="85.3" x2="446" y2="85.3" stroke="#A02838" stroke-width="0.8" stroke-dasharray="3,2"/>
<text x="452.5" y="89.3" font-size="12.6" fill="#222">administrative boundaries</text>
<line x1="411" y1="109.3" x2="445" y2="109.3" stroke="#555" stroke-width="0.8"/>
<text x="452.5" y="113.8" font-size="12.6" fill="#222">isolines (ΔT)a, nTl</text>
<text x="410" y="144.8" font-size="12.6" font-weight="bold" fill="#222">BOUNDARIES OF TECTONIC ELEMENTS</text>
<line x1="411" y1="167.6" x2="446" y2="167.6" stroke="#808080" stroke-width="2.4"/>
<rect x="419" y="164.2" width="18" height="3.4" fill="#808080"/>
<text x="454" y="171.8" font-size="12.6" fill="#222">superorder tectonic elements</text>
<line x1="411" y1="191.6" x2="446" y2="191.6" stroke="#808080" stroke-width="1.5"/>
<path d="M414,189.2h10v2.4h-10z M433,189.2h10v2.4h-10z" fill="#808080"/>
<text x="454" y="195.8" font-size="12.6" fill="#222">tectonic elements of the 1st order</text>
<rect x="56.5" y="812.4" width="231.1" height="83.8" fill="#fff" stroke="#222" stroke-width="1.3"/>
<text x="172" y="828" font-size="12.6" text-anchor="middle" fill="#111">Scale of intensity of the anomalous</text>
<text x="172" y="842.3" font-size="12.6" text-anchor="middle" fill="#111">magnetic field,</text>
<text x="172" y="856.8" font-size="12.6" text-anchor="middle" fill="#111">nTl</text>
<text x="71.5" y="876.8" font-size="12.5" text-anchor="middle" fill="#111">5</text>
<text x="171.8" y="876.8" font-size="12.5" text-anchor="middle" fill="#111">0</text>
<text x="277.5" y="876.8" font-size="12.5" text-anchor="end" fill="#111">-4</text>
<linearGradient id="cba" x1="0" x2="1" y1="0" y2="0"><stop offset="0%" stop-color="#1F5CD6"/><stop offset="5%" stop-color="#2F64D4"/><stop offset="10%" stop-color="#3F6DD3"/><stop offset="15%" stop-color="#557AD2"/><stop offset="20%" stop-color="#6B88D0"/><stop offset="25%" stop-color="#8298CE"/><stop offset="30%" stop-color="#98A7CD"/><stop offset="35%" stop-color="#AEB8CA"/><stop offset="40%" stop-color="#C3C8C6"/><stop offset="45%" stop-color="#DCDDBF"/><stop offset="50%" stop-color="#FBF8B8"/><stop offset="55%" stop-color="#FCEAA7"/><stop offset="60%" stop-color="#FCD897"/><stop offset="65%" stop-color="#FBC588"/><stop offset="70%" stop-color="#F8B37D"/><stop offset="75%" stop-color="#F6A172"/><stop offset="80%" stop-color="#F28E66"/><stop offset="85%" stop-color="#EE7C5A"/><stop offset="90%" stop-color="#E8674C"/><stop offset="95%" stop-color="#E2513E"/><stop offset="100%" stop-color="#DA3A2E"/></linearGradient>
<rect x="71.5" y="882.4" width="201.2" height="7.8" fill="url(#cba)" stroke="#333" stroke-width="0.8"/>
<rect x="347.3" y="858.4" width="232.4" height="37.9" fill="#fff" stroke="#222" stroke-width="1.3"/>
<text x="357" y="876" font-size="12" text-anchor="middle" fill="#111">0</text>
<text x="393.5" y="876" font-size="12" text-anchor="middle" fill="#111">20</text>
<text x="430.4" y="876" font-size="12" text-anchor="middle" fill="#111">40</text>
<text x="466.5" y="876" font-size="12" text-anchor="middle" fill="#111">60</text>
<text x="503.3" y="876" font-size="12" text-anchor="middle" fill="#111">80</text>
<text x="539.7" y="876" font-size="12" text-anchor="middle" fill="#111">100</text>
<text x="563.3" y="876" font-size="12" text-anchor="middle" fill="#333">km</text>
<rect x="357" y="882.2" width="183.2" height="8.5" fill="#000"/>
<rect x="365" y="883.3" width="7" height="6.3" fill="#fff"/>
<rect x="380" y="883.3" width="6" height="6.3" fill="#fff"/>
<rect x="395" y="883.3" width="35" height="6.3" fill="#fff"/>
<rect x="467" y="883.3" width="36" height="6.3" fill="#fff"/><g filter="url(#bl)"><path d="M1002.3,193.4 1124.3,255.3 1138.9,270 1573.9,755 1546,885.7 1229,746 1118.1,655 1002.7,561.4 957.8,445 957.8,296.6 966.3,238.3 976,228.6Z" fill="#0D878C"/><path d="M975.2,227.9 965.3,238.1 956.8,296.5 956.8,445.1 1001.9,562 1228.5,746.9 1545.6,886.6 1546.6,886.5 1574.6,754.3 1139.6,269.3 1124.9,254.5 1002.5,192.4 1001.5,192.8ZM1517.3,723.6 1522.3,725.9 1524.8,729.2 1525.5,733 1524.8,733.5 1519.8,732.8 1516.4,730.5 1515.1,728 1515,725.5Z" fill="#0D878C"/><path d="M975.2,227.9 965.3,238.1 956.8,296.5 956.8,445.1 1001.9,562 1228.5,746.9 1545.6,886.6 1546.6,886.5 1574.6,754.3 1139.6,269.3 1124.9,254.5 1002.5,192.4 1001.5,192.8ZM1514.8,716.9 1522.3,720.6 1529.1,728 1532,733 1533.7,738 1533.4,740.5 1532.3,741.3 1527.9,740.5 1518.2,735.5 1514.8,733.3 1512.5,730.5 1510.3,725.5 1509.4,720.5 1510.1,718 1512.3,716.8Z" fill="#138A8F"/><path d="M975.2,227.9 965.3,238.1 956.8,296.5 956.8,445.1 1001.9,562 1228.5,746.9 1545.6,886.6 1546.6,886.5 1574.6,754.3 1139.6,269.3 1124.9,254.5 1002.5,192.4 1001.5,192.8ZM1292.2,573 1297.3,573.3 1300.9,575.5 1302.9,578 1303,580.5 1299.8,581.6 1297.3,581.3 1294.5,580.5 1290.6,578 1289,575.5 1289.8,574.4ZM1347.3,590.8 1352.4,593 1354.8,595.5 1349.8,597 1344.8,596.3 1342.5,593 1344.8,590.8ZM1359.1,595.5 1367.1,595.5 1369.8,596.8 1373.4,600.5 1373.6,603 1369.8,605.3 1367.3,605.4 1364.8,604.3 1358.8,598ZM1457.3,666.3 1461.2,668 1462.2,670.5 1460,673 1456.4,673 1453.4,670.5 1454.8,667.1ZM1507.3,709.8 1512.3,711 1517.3,713.4 1522.3,716.8 1528.6,723 1534,730.5 1537.8,738 1538.7,743 1537.3,745.1 1534.8,745.7 1529.8,744.7 1514.8,735.7 1511.9,733 1507.1,725.5 1502.9,715.5 1502.7,713 1504.2,710.5Z" fill="#1F9194"/><path d="M1227.3,367.7 1222.3,371.8 1217.3,374.3 1212.3,374.2 1209.8,372.8 1206.6,368 1204.6,360.5 1204.9,353 1207.8,345.3 1139.6,269.3 1124.9,254.5 1002.8,192.5 1001.6,192.7 975.2,227.9 965.3,238.2 956.8,296.6 956.8,445 1001.9,561.9 1228.5,746.9 1546.5,886.5 1574.8,754.5ZM1039.8,433 1045.3,435.5 1047.6,440.5 1047.4,443 1045.9,445.5 1042.3,447.2 1039.8,447.3 1035.2,445.5 1033,443 1032,440.5 1031.9,438 1033,435.5 1037.3,433ZM1279.8,566 1292.3,566 1302.4,568 1312.1,573 1324.8,583.2 1332.3,587.5 1347.3,587.7 1369.8,592.4 1374.8,595.4 1377.4,598 1380.3,603 1381.1,605.5 1380.7,608 1374.8,609.1 1367.3,608 1357.3,602.2 1344.8,599.1 1337.3,594.3 1334.8,594.1 1329.8,598.7 1327.3,599.9 1324.8,599.8 1299.8,591.2 1283.8,583 1277.4,578 1275.4,575.5 1273.9,570.5 1275.2,568ZM1457.3,661.8 1462.3,662.7 1466.6,665.5 1470,670.5 1470.5,673 1469.7,675.5 1464.8,677.5 1459.8,677.6 1454.8,676 1452.3,674.2 1450.2,670.5 1450.2,668 1452.3,664.1ZM1499.8,701.4 1507.3,704 1514.8,708 1522.3,713.4 1527.3,718.1 1534.8,727.5 1539.8,736 1542.7,743 1543.2,745.5 1542.3,748.5 1537.3,748.9 1529.8,746.8 1514.8,737.7 1509.6,733 1499.6,718 1496.2,710.5 1495,705.5 1495.1,703 1497.3,701.3Z" fill="#2B9899"/><path d="M1237,378 1222.3,389.4 1217.3,392.2 1212.3,392.5 1208.2,390.5 1204.8,387.6 1201.4,383 1197.7,375.5 1193.6,360.5 1193,353 1193.7,345.5 1195,340.5 1197.9,334.3 1139.6,269.3 1124.8,254.4 1002.4,192.4 975.2,227.9 965.4,237.8 956.8,296.6 956.8,445.1 1001.9,562 1228.5,746.9 1546.5,886.5 1574.8,754.5ZM1037.3,427.6 1042.3,428.7 1045.7,430.5 1048.8,433 1052.2,438 1053.8,443 1053.6,448 1049.8,451.6 1044.8,453 1037.3,452.4 1032.3,449.7 1027.3,443.2 1026,438 1027.3,432.2 1029.8,429.6 1032.3,428.3ZM1269.8,561.7 1287.3,561.4 1304.8,563.9 1314.8,568 1329.8,578.8 1337.3,582.6 1349.8,585.8 1365.9,588 1372.3,590.1 1377.3,593.2 1382.3,598.6 1388,608 1388.7,610.5 1388.3,613 1384.8,614.9 1377.3,613.5 1367.3,610.2 1357.3,604.9 1347.3,602.9 1339.8,598.8 1337.3,599.1 1332.3,605.5 1327.3,606.7 1319.8,605.4 1307.3,600.8 1283.1,588 1275.6,583 1270.1,578 1265.3,570.5 1264.4,565.5 1266,563ZM1454.8,658.8 1457.3,658.3 1462.3,659 1469.8,663 1474.8,668 1484.2,680.5 1489.3,685.5 1498.6,693 1517.3,706.2 1527.3,715 1537.3,727.7 1544.6,740.5 1547.5,748 1547.3,751.2 1545.5,753 1542.3,753 1529.8,748.6 1512.3,737.7 1503.6,728 1487.9,705.5 1474.5,688 1467.3,683.3 1454.8,678.7 1450.6,675.5 1447.9,670.5 1448.2,665.5 1449.8,662.3Z" fill="#3AA19E"/><path d="M1244.3,386.1 1234.2,393 1222.3,404.1 1217.3,406.7 1214.8,406.8 1209.8,404.5 1202.3,397.7 1197.3,390.8 1192.7,380.5 1188.6,368 1186,355.5 1185.1,348 1185.4,340.5 1187.3,333.8 1190.7,326.3 1139.6,269.3 1124.8,254.4 1002.4,192.4 975.2,227.9 965.4,237.8 956.8,296.6 956.8,445.1 1001.9,562 1228.5,746.9 1546.5,886.5 1574.8,754.5ZM1029.8,423.8 1034.8,423 1042.3,424.4 1047.3,427.2 1052.3,431.4 1056.6,438 1059.8,448 1059.8,450.6 1057.3,454.2 1049.8,457.3 1039.8,457.9 1032.3,455 1027.3,450.5 1022.3,441.7 1021.4,438 1021.4,433 1023.5,428 1026.3,425.5ZM1127.3,510.3 1132.3,513.4 1134.8,516.9 1134.8,518.7 1132.3,518.9 1130.1,518 1127,515.5 1125.2,513 1124.8,510.5ZM1457.3,655 1462.3,655.7 1467.3,657.6 1475.2,663 1500,688 1527.3,712 1537.3,724.4 1548.3,743 1551,750.5 1550.9,753 1549.8,754.7 1547.3,755.9 1544.8,756 1536.1,753 1527.3,748.8 1512.3,739.5 1503.3,730.5 1487.3,710.7 1469.8,690.7 1464.8,686.8 1454.8,681.2 1449.8,677.3 1447.3,674 1445.9,670.5 1445.7,665.5 1446.4,663 1449.8,657.9 1452.3,656.2ZM1262.3,555 1297.3,558.6 1309.8,560.9 1319.8,565.2 1334.8,576.7 1342.3,580.9 1349.8,583.5 1367.3,585.4 1374.6,588 1379.8,591.4 1384.8,596.7 1394.1,610.5 1395.8,615.5 1392.3,618.1 1387.3,618.9 1382.3,618.5 1367.3,612.6 1359.8,608 1347.3,606.4 1339.8,604.5 1334.8,609.6 1329.8,611.4 1317.3,609.8 1307.3,606.3 1276.1,588 1269.3,583 1264.1,578 1257.2,568 1254.8,560.5 1255.3,558 1257.3,555.9Z" fill="#49AAA2"/><path d="M1251.4,393.9 1239.8,399.7 1224.8,413 1221.2,415.5 1217.3,416.8 1214.8,416.6 1209.8,413.9 1199.8,404.1 1193.5,395.5 1189.8,387.3 1183.6,368 1178,345.5 1177.5,340.5 1178,335.5 1184.3,319.1 1139.6,269.3 1124.8,254.4 1002.4,192.4 975.2,227.9 965.4,237.8 956.8,296.6 956.8,445.1 1001.9,562 1228.5,746.9 1546.5,886.5 1574.8,754.5ZM1029.8,419.3 1037.3,419.1 1044.8,421.2 1052.3,426.2 1056.6,430.5 1059.8,436.2 1063.7,448 1064.1,453 1062.3,458.7 1059.8,460.2 1054.8,461.5 1039.8,462.7 1032.3,460 1024.8,453 1021.4,448 1018.1,440.5 1017,435.5 1017.2,430.5 1019.3,425.5 1021.6,423 1024.8,420.9ZM1086.1,493 1092.5,498 1095.5,503 1095.1,505.5 1092.4,508 1087.3,509.4 1082.3,508.8 1079.8,507.5 1077.3,505.1 1076.1,500.5 1076.9,498 1079.8,494.8 1082.8,493ZM1117.3,499.5 1122.3,499.5 1127.3,500.9 1134.8,505.5 1139.8,509.8 1142.3,513.1 1143.9,518 1144,520.5 1142.3,524.3 1139.8,526 1132.3,526.6 1124.8,523.7 1119.8,519.5 1112.8,510.5 1111,505.5 1111.9,503 1114.3,500.5ZM1429.8,634.9 1433.2,638 1433.8,640.5 1432.3,642.6 1429.8,642.4 1427.3,638 1427.5,635.5ZM1454.8,651.8 1459.8,652 1464.8,653.3 1469.8,655.6 1477.4,660.5 1486,668 1507.7,690.5 1527.3,708.9 1538.5,723 1551.9,745.5 1554.3,753 1554,755.5 1552.3,757.3 1549.8,758.1 1544.8,757.9 1538,755.5 1527.3,750.3 1511.4,740.5 1501.1,730.5 1467.1,693 1448.1,678 1443.9,670.5 1443.7,663 1447.5,655.5 1449.8,653.4ZM1254.8,547.7 1277.3,553.3 1304.8,555.9 1314.8,557.9 1319.8,559.9 1324.8,563 1339.5,575.5 1347.3,580.3 1352.3,581.5 1364.8,582.1 1374.8,585 1380.1,588 1384.8,592.1 1397.3,608.1 1412.6,618 1414.8,620.8 1412.3,621.8 1399.8,622.5 1382.3,621.8 1374.8,619 1364.8,613.9 1359.8,610.2 1357.3,609.7 1347.3,611.4 1343.7,613 1339.8,616.8 1334.8,618.5 1314.8,614.3 1307.3,611.5 1299.8,607.4 1270.1,588 1263.8,583 1256.9,575.5 1248.6,563 1246.4,558 1245.4,553 1247.3,549.3 1249.8,548.1ZM1347.3,627.5 1349.4,630.5 1347.3,631.7 1344.7,630.5 1344.4,628Z" fill="#59B2A6"/><path d="M1259.8,403.9 1249.8,404.7 1244.8,406.1 1239.8,408.8 1224.8,420.3 1217.3,422.8 1214.8,422.6 1209.8,420.6 1199.8,411.2 1191.1,400.5 1187.3,393.3 1176.8,358 1170.3,340.5 1170,335.5 1170.9,330.5 1177.6,311.7 1139.6,269.3 1124.8,254.4 1002.4,192.4 975.2,227.9 965.4,237.8 956.8,296.6 956.8,445.1 1001.9,562 1228.5,746.9 1546.5,886.5 1574.8,754.5ZM1032.3,414.9 1039.8,415.5 1047.7,418 1054.8,422.3 1060.1,428 1062.6,433 1066.5,445.5 1071.7,465.5 1071.7,470.5 1069.8,472.9 1067.3,473.7 1064.8,472.9 1059.8,468.7 1054.8,466.8 1039.8,468.1 1034.8,467 1027.3,461.1 1019.8,451.4 1016.6,445.5 1013.9,438 1013.1,430.5 1014.3,425.5 1017.3,420.9 1020.9,418 1027.3,415.5ZM1079.8,489.7 1084.8,488.7 1087.3,489.1 1097.3,495.8 1102.3,497.7 1107.3,496.9 1117.3,493.3 1122.3,493.4 1129.8,495.9 1142.3,504.9 1146.9,510.5 1148.7,515.5 1149.3,520.5 1147.5,528 1144.9,530.5 1142.3,531.5 1134.8,532.1 1129.8,531.5 1124.8,529.7 1119.8,526.6 1107.3,514.4 1102.3,512 1097.3,512.3 1084.8,515 1079.8,514.4 1074.8,512.3 1072.3,510.5 1068.5,505.5 1067.5,500.5 1068,498 1072,493ZM1452.3,647.8 1459.8,648.9 1467.3,651.2 1474.8,655.2 1482.5,660.5 1493.6,670.5 1511.8,690.5 1524.8,703.3 1538.9,720.5 1552.8,743 1557.1,753 1557.3,758.7 1554.8,760.4 1552.3,760.5 1540.3,758 1529.8,753.2 1512.3,742.8 1496.2,728 1463,693 1447.3,679.5 1444.2,675.5 1441.9,670.5 1441.1,665.5 1441.5,660.5 1444.8,649.8 1447.3,648.1ZM1244.8,539.8 1254.8,541.2 1272.3,548.1 1279.8,550.3 1307.3,552.3 1317.3,554.1 1327.3,559.2 1342.2,573 1349.4,578 1367.3,579.6 1374.8,581.8 1379.8,584.3 1387.3,590.3 1394.8,601 1399.8,605.7 1414.8,611.5 1420.6,615.5 1438.7,635.5 1441.2,640.5 1441.7,645.5 1437.3,647.7 1432.3,647.7 1429.8,646.9 1424.8,643 1417.3,632.8 1412.3,629.1 1404.8,626.5 1379.8,624.5 1364.8,617.9 1359.8,614.8 1357.3,614.3 1354.7,615.5 1353.8,618 1356.9,628 1356.5,633 1354.8,636.6 1352.3,639.3 1347.3,641.4 1342.3,640.5 1339.8,639.2 1335.2,635.5 1324.8,625.1 1302.3,614 1267.3,589.9 1259,583 1248.4,570.5 1234.4,550.5 1233.7,548 1234.1,545.5 1235.8,543 1239.8,540.7Z" fill="#69BAA8"/><path d="M1273.9,419.1 1267.3,423 1264.8,423.3 1262.3,422.5 1254.8,416.7 1247.3,414.6 1239.8,416.9 1224.8,426.1 1219.8,427.6 1214.8,427.7 1207.3,424.3 1197.3,414.4 1189.8,405.5 1184.9,398 1174,360.5 1170.7,353 1164.8,343 1163.2,338 1162.5,330.5 1164.6,318 1171.8,305.2 1139.6,269.3 1124.8,254.5 1002.4,192.4 975.2,227.9 965.4,237.8 956.8,296.6 956.8,445.1 1001.9,562 1228.5,746.9 1546.5,886.5 1574.8,754.5ZM1024.8,412 1034.8,411.1 1046.5,413 1057.3,417.6 1063.3,423 1065.8,428 1068.3,440.5 1071.6,450.5 1075.2,465.5 1075,470.5 1074,473 1067.3,482.6 1064.8,482 1057.3,473.2 1054.8,472 1049.8,472.3 1039.8,476.2 1034.8,474.8 1027.3,467.3 1017.3,453.1 1013.5,445.5 1010.8,438 1009.8,433 1009.8,428 1011.2,423 1014.8,417.5 1019.8,413.8ZM1067.3,483.5 1070.5,485.5 1074.8,486.4 1084.8,486 1089.8,486.7 1099.8,492.2 1104.8,492 1114.8,488.1 1119.8,487.4 1124.8,488.1 1132.3,491 1147.3,502.1 1151.5,508 1153,513 1153.7,520.5 1153.6,525.5 1152.3,531.1 1149.8,534.6 1144.8,537.7 1139.8,538.7 1134.8,538.6 1127.3,536.7 1119.8,533 1114.8,529.2 1106.1,520.5 1102.3,517.9 1097.3,517.5 1087.3,519.8 1082.3,520.1 1077.3,519.4 1072.3,517.6 1067.3,514.4 1063.3,510.5 1059.9,505.5 1058,500.5 1058.1,495.5 1059,493 1064.8,485.4ZM1237.3,534.2 1244.8,533.5 1252.3,534.8 1279.8,546.8 1309.8,548.3 1319.8,550.1 1324.8,552 1330.4,555.5 1345.5,570.5 1349.8,573.7 1354.8,575.2 1369.8,577 1377.3,579.6 1384.8,583.7 1389.8,588 1397.3,599.3 1399.8,601.9 1404.8,603.9 1414.8,606.3 1422.3,610.7 1449.8,641.7 1467.3,648.2 1474.8,651.9 1487.3,660.3 1497.3,669.5 1515.4,690.5 1529.8,705.7 1540.9,720.5 1557.5,748 1561.2,758 1561.3,760.5 1560,763 1553.8,763 1537.3,758.3 1514,745.5 1507.1,740.5 1493.6,728 1473.3,708 1459.4,693 1446,680.5 1442.2,675.5 1439.9,670.5 1437.3,654.8 1424.8,646.9 1414.8,635.6 1409.8,631.8 1404.8,629.7 1399.8,628.8 1382.3,628.2 1369.8,626.3 1367.3,626.6 1364.8,628.8 1360.3,638 1357.3,642.1 1353.5,645.5 1349.8,647.3 1347.3,647.7 1342.3,646.9 1330.6,640.5 1317.3,630 1299.8,617.7 1281.5,603 1262.3,590 1250.2,578 1228.9,553 1226.1,548 1225.5,543 1227.3,539.1 1232.3,535.6Z" fill="#79C2AB"/><path d="M1281.5,427.5 1272.3,434.5 1264.8,435.6 1259.8,434.1 1249.8,424.4 1244.8,422.9 1239.8,423.9 1224.8,431.4 1217.3,432.4 1212.3,431.6 1207.3,429.1 1197.3,419.9 1187.3,408.1 1182.1,400.5 1170.9,360.5 1167.3,353.8 1161,345.5 1156.6,335.5 1155.8,330.5 1156.8,323 1163.6,308 1166.3,299.1 1139.6,269.3 1124.8,254.5 1002.4,192.4 975.2,227.9 965.4,237.8 956.8,296.6 956.8,445.1 1001.9,562 1228.5,746.9 1546.5,886.5 1574.9,754.9 1538.3,713.8 1557,743 1563.2,755.5 1564.5,760.5 1563.9,763 1561.4,765.5 1555.9,765.5 1537.3,759.6 1529.8,756.1 1507.3,742.5 1472.4,710.5 1444.8,681.5 1438.9,673 1434,658 1432,655.5 1422.3,647.9 1409.8,635.2 1404.8,632.6 1397.3,631 1374.8,632.2 1369.8,634.4 1359.8,646.1 1352.3,651.5 1344.8,652.4 1334.8,649.3 1321.7,643 1314.8,638.4 1282.6,608 1258.5,590.5 1248.4,580.5 1225.7,555.5 1219.9,548 1217.8,543 1217.7,540.5 1219.8,535.6 1222.3,533.2 1229.8,529.8 1242.3,528.7 1247.3,528.8 1254.8,530.5 1281.6,543 1312.3,543.7 1324.8,546.2 1334.8,551.9 1347.7,565.5 1352.3,569.2 1355.4,570.5 1372.3,574.1 1382.3,578.1 1389.8,582.4 1393.2,585.5 1399.8,595.9 1402.3,598.4 1417.3,601.8 1422.3,604.7 1427.3,609.8 1435.7,620.5 1452.3,638.3 1457.3,641.2 1472.3,647.3 1486.2,655.7ZM1029.8,407.5 1042.3,407.9 1057.3,411.3 1065.7,415.5 1070.3,420.5 1071.8,425.5 1072.3,439.2 1075.5,450.5 1078.3,465.5 1078,470.5 1075.4,478 1075.4,480.5 1077.3,482.8 1079.8,483.5 1089.8,483.4 1099.8,486.6 1102.3,486.6 1114.8,480.8 1122.3,480.9 1137.3,487.1 1144.8,492.2 1151.3,498 1156.3,505.5 1157.8,515.5 1157.5,530.5 1155.7,535.5 1152.3,540.1 1147.3,543.8 1142.3,545.6 1137.3,546.1 1132.3,545.4 1124.8,542.7 1117.3,538.5 1112.3,534.9 1102.3,525.5 1099.8,524.1 1097.3,523.8 1082.3,525.6 1072.3,523.5 1066.5,520.5 1059.9,515.5 1044.8,498.5 1034.3,490.5 1032.2,488 1025.8,473 1012.3,449.5 1008,438 1006.6,430.5 1007.6,423 1009.7,418 1012.3,414.4 1019.8,409.5Z" fill="#89CAAD"/><path d="M1287.1,433.7 1274.8,445.1 1269.8,446.8 1264.8,445.4 1259.8,442.6 1254.8,438.9 1247.3,431.5 1244.8,430.1 1239.8,430.9 1229.8,435.3 1224.8,436.7 1217.3,436.9 1212.3,435.8 1207.3,433.5 1203.2,430.5 1193.1,420.5 1179.8,402.9 1177.9,398 1174.1,380.5 1168,360.5 1165.1,355.5 1155,343 1152.2,338 1150.5,333 1150.1,328 1151,323 1156.9,308 1160,292 1139.6,269.3 1124.8,254.5 1002.4,192.4 975.2,227.9 965.4,237.8 956.8,296.6 956.8,445.1 1001.9,562 1228.5,746.9 1546.5,886.5 1574.9,755 1546.1,722.5 1559.1,743 1566.7,758 1566.8,763 1565.4,765.5 1562.3,767.4 1559.8,767.8 1554.8,766.9 1532.3,758.8 1509.8,746.1 1493.6,733 1468.9,710.5 1441.8,680.5 1436.8,673 1432.3,661.5 1430.1,658 1409.8,638.6 1404.8,635.3 1399.8,633.7 1394.8,633.4 1384.8,634.4 1377.3,636.3 1372.3,639.1 1358,653 1352.3,655.8 1347.3,656.7 1337,655.5 1317.3,649.5 1309.8,645.8 1304,640.5 1294,625.5 1283,613 1274.8,605.8 1259.8,594.9 1252.3,588.5 1213.2,548 1209.2,543 1208.4,540.5 1208.7,538 1210,535.5 1214.6,530.5 1223.1,525.5 1232.3,524.1 1247.3,524.5 1254.8,525.7 1264.8,529.4 1279.8,536.9 1284.8,538.2 1314.8,538.3 1322.3,539.2 1329.8,541.3 1339.8,547 1352.3,560.5 1357.3,564.2 1394.8,578.2 1397.6,580.5 1405,590.5 1409.3,593 1419.8,596.6 1424.8,600.4 1438,618 1454.7,635.5 1459.8,638.7 1478.9,647.6ZM1022.3,404.7 1037.3,403.6 1059.8,405.8 1069.8,409.2 1077.2,415.5 1078.8,418 1080.1,423 1078.5,440.5 1081.8,468 1079.8,478.4 1082.3,479.9 1099.8,478.7 1104.7,475.5 1109.8,470.3 1112.3,469.3 1117.3,469.2 1124.8,472 1142.3,482.8 1149,488 1154.8,493.8 1159.9,500.5 1161.7,505.5 1162.7,528 1162,533 1159.8,539.1 1157.3,543.2 1152.3,548.6 1147.3,552 1142.3,553.8 1137.3,554.3 1129.8,553.2 1117.3,547.4 1102.3,536.3 1097.3,533.4 1079.8,531.3 1069.8,528.2 1062.3,523.9 1054.9,518 1032.1,495.5 1028.3,490.5 1021.3,473 1009.8,450.1 1005.4,438 1003.9,430.5 1004.8,421.5 1008.6,413 1014.8,407.4Z" fill="#98D1B0"/><path d="M1291.9,439.1 1282.8,448 1277.3,456.4 1274.8,458.1 1269.8,458.5 1262.3,455.3 1247.3,443 1242.3,440.7 1222.3,442.2 1214.8,441 1209.8,439.2 1200.7,433 1190.7,423 1182.3,412.2 1176.7,403 1170.7,378 1165.2,360.5 1161.9,355.5 1149.9,343 1146.2,335.5 1145.3,330.5 1145.5,325.5 1149.5,308 1150.4,298 1153.9,285.2 1139.6,269.3 1124.8,254.5 1002.4,192.4 975.2,227.9 965.5,237.7 956.8,296.6 956.8,445.1 1001.9,562 1228.5,746.9 1546.5,886.6 1574.9,755 1551,728 1561.2,743 1569.3,758 1569.6,763 1568.5,765.5 1564.8,768.5 1559.8,769.4 1554.8,768.5 1532.3,760.2 1507.3,746.2 1490.6,733 1467.3,712.4 1439.6,680.5 1436,675.5 1430,663 1426.6,658 1408.2,640.5 1402.3,636.8 1397.3,635.8 1392.3,636.1 1379.8,639.6 1374.5,643 1361.2,655.5 1354.8,659 1349.8,660.3 1339.8,660.5 1322.3,657.8 1312.3,655.7 1305.2,653 1301.4,650.5 1296.5,645.5 1293.6,640.5 1288.9,628 1284,620.5 1278,613 1250.5,590.5 1219.8,559.3 1209.8,551.3 1200.7,545.5 1199,543 1199,538 1202.1,533 1211.4,525.5 1219.8,520.6 1227.3,518.5 1252.3,520.5 1262.3,522.6 1279.8,530 1287.3,531.9 1319.8,531.8 1332.3,533.3 1341.2,535.5 1350.5,540.5 1361.5,553 1367.4,558 1382.3,566.7 1384.8,567.7 1387.3,566.1 1387,560.5 1380.5,543 1380.6,538ZM1027.3,400.2 1064.8,400 1072.3,402.2 1077.9,405.5 1083.9,410.5 1088.4,415.5 1091.8,423 1091.5,428 1086.5,443 1085.2,455.5 1085.2,460.5 1087.3,467.7 1089.2,470.5 1092.3,471.3 1095.3,470.5 1107.3,460.2 1112.3,457.5 1117.3,456.5 1124.8,457.7 1132.3,463 1140.8,473 1152.3,483.7 1162.1,495.5 1165.1,500.5 1166.4,505.5 1168.1,525.5 1167.7,533 1165.5,540.5 1162.3,546.6 1157.3,553.4 1152.3,558.4 1147.3,561.7 1142.3,563.4 1137.3,563.7 1129.8,562.5 1122.3,559.8 1114.8,556 1094.8,542.8 1069.8,534.2 1062.3,529.7 1052.3,521.8 1029.5,498 1024.8,490.5 1007.3,450.4 1003,438 1001.4,428 1002.1,420.5 1003.5,415.5 1007.7,408 1014.8,402.9 1019.8,401.3ZM1414.5,575.8 1416.3,583 1429.8,598.3 1438.7,613 1442.7,618 1457.4,633 1461,635.5 1472.9,640.9Z" fill="#A6D7B2"/><path d="M1296.7,444.4 1287.3,451.2 1279.8,461.7 1277.3,464 1272.3,466.2 1267.3,466.2 1259.8,463.3 1242.3,451.6 1237.3,450 1217.3,446.7 1209.8,444.1 1199.8,437.1 1187.9,425.5 1179.8,414.4 1173.7,403 1166.1,370.5 1162.6,360.5 1158.9,355.5 1154.8,351.6 1145.4,345.5 1143.6,343 1141.8,338 1140.7,330.5 1141.1,323 1143.6,308 1145.2,288 1148.2,278.8 1124.8,254.5 1002.4,192.4 975.2,227.9 965.5,237.7 956.8,296.6 956.8,445.1 1001.9,562 1228.5,746.9 1546.5,886.6 1574.9,755.1 1560.5,738.5 1571.1,755.5 1572.5,760.5 1571.6,765.5 1569.8,768 1564.8,770.6 1559.8,770.9 1554.8,769.9 1534.8,762.7 1507.3,748 1487.3,733 1464.8,713.4 1435.3,678 1427,663 1423.2,658 1407.1,643 1403.9,640.5 1399.8,638.7 1392.3,639 1382.3,642.6 1377.3,646 1362.3,659.5 1357.3,662.2 1352.3,663.8 1342.3,664.6 1322.3,663.4 1309.8,661 1301.4,658 1294.4,653 1287,645.5 1284.4,640.5 1281.6,628 1279.8,623 1277,618 1272.9,613 1247.3,591.2 1219.8,563.5 1209.8,555.9 1195.3,548 1191.1,543 1190,538 1190.5,535.5 1194.3,530.5 1214.8,517.5 1224.8,512.9 1229.8,512.9 1242.3,515.1 1259.8,516 1284.8,522.7 1294.8,523.6 1334.8,522.1 1342.3,519.9 1349.8,515.2 1357.4,512.1ZM1019.8,397.3 1067.3,393.9 1072.3,394.7 1077.3,396.6 1102.7,413 1107.4,418 1116.1,433 1119.8,435.9 1127.3,439.3 1134.8,441.4 1142.3,442.2 1147.3,441.6 1159.8,438.2 1162.3,438.5 1164.8,440.3 1164.6,443 1162.3,446.7 1159.8,448.5 1149.8,452.3 1147.3,454.9 1145.8,458 1145.2,463 1146.2,468 1148.8,473 1164.8,492.7 1168.1,498 1170.6,505.5 1174.4,523 1175.3,533 1173,540.5 1167.7,550.5 1157.3,565.6 1152.3,571.1 1149.8,572.8 1144.8,574.3 1139.8,574.2 1129.8,572 1119.8,568.5 1109.8,563.4 1090.1,550.5 1067.3,539.1 1057.3,531.8 1044.8,520.5 1024.8,496.7 1017.1,480.5 1002.1,443 999.2,430.5 999.8,418 1003.2,408 1007.2,403 1010.8,400.5ZM1437.3,601.4 1442,610.5 1445.7,615.5 1459.8,630 1467.1,634.5Z" fill="#B4DDB4"/><path d="M1303.3,451.8 1294.8,453.1 1289.8,456.1 1287.3,459 1282.3,468.7 1277.3,473.7 1272.3,475.4 1267.3,475.2 1259.8,472.5 1239.8,460 1206.4,448 1199.8,443 1184.3,428 1179.8,421.9 1171.4,405.5 1162.9,368 1161.2,363 1158.2,358 1152.3,353.1 1147.3,352 1144.7,353 1143,355.5 1141.3,360.5 1138.9,363 1134.8,363.9 1132.3,363 1130.4,360.5 1130,358 1130.6,355.5 1135.8,348 1136.7,345.5 1136.1,325.5 1138.9,303 1138.2,285.5 1139.6,280.5 1143.3,273.5 1124.8,254.5 1002.4,192.4 975.2,227.9 965.5,237.7 956.8,296.6 956.8,445.1 1001.9,562 1228.5,746.9 1546.5,886.6 1571.8,769.7 1567.3,772.1 1559.8,772.4 1552.3,770.5 1532.3,763.2 1519.8,755.8 1507.3,750 1486.7,735.5 1469.8,721.7 1462.3,714.6 1454.8,705.7 1444,690.5 1432.8,678 1422.1,660.5 1404.8,644.8 1399.8,641.8 1392.3,642.3 1385,645.5 1379.8,649.2 1364.8,662.7 1359.7,665.5 1352.3,667.8 1342.3,668.5 1319.8,667.9 1307.3,664.9 1297.3,660.7 1283.9,650.5 1277.5,643 1274.7,635.5 1273.9,623 1272.3,619 1269.8,615.5 1242.4,590.5 1219.8,567.7 1209.8,559.9 1202.3,555.9 1184.8,549.5 1179.8,549.9 1174.8,553.8 1169.6,560.5 1157.3,584.1 1154.8,585.9 1152.3,586.6 1144.8,585.9 1120.8,578 1112.3,574.6 1104.8,570.5 1089.8,559.9 1072.3,549.7 1062.3,542.3 1039.8,520.6 1023.9,500.5 1014.8,483 999.9,443 997,430.5 997.1,418 998.5,410.5 1002,403 1007.3,398 1012.3,395.3 1022.3,392.7 1064.8,388.2 1072.3,388 1081.8,390.5 1094.8,397.1 1112.3,404 1117.3,408.8 1127,423 1134.8,428.6 1142.3,430.9 1159.8,431.6 1165.7,433 1168.8,435.5 1170,438 1170.2,443 1168.6,453 1166.6,455.5 1159.8,457.6 1154.8,460.9 1152.6,465.5 1153.1,470.5 1155.7,475.5 1169.8,493.8 1179.8,517.4 1182.3,520.5 1187.3,523.1 1192.3,522.9 1199.8,520.3 1217.7,510.5 1224.8,507.7 1229.8,507.7 1242.3,509.5 1264.8,508.6 1287.3,509.6 1297.2,508 1308.5,503 1309.7,500.5 1307.3,496.1 1305.5,490.5 1305.5,483 1307.3,478 1315.2,465.1ZM1570.2,749.4 1572.6,753 1574.5,757.1 1574.8,754.6ZM1331.7,483.5 1322.3,493.1 1313.5,500.5 1313.5,503 1321.2,508 1327.3,509.7 1332.3,509.7 1339.8,507.1 1347.2,500.7Z" fill="#C2E3B5"/><path d="M1571,773.4 1564.8,774.5 1557.3,773.4 1529.8,763.6 1519.8,757.7 1504.8,750.6 1482.5,735.5 1466.9,723 1457.3,713.2 1441.6,690.5 1429.9,678 1418.3,660.5 1404.8,649.2 1399.8,646.2 1394.8,645.8 1387.3,649 1368.3,665.5 1362.3,669.1 1357.3,670.9 1347.3,672.3 1324.8,672.2 1317.3,671.4 1309.8,669.6 1302.3,667.1 1294.4,663 1279.8,652.1 1270.5,643 1266.7,638 1265.7,635.5 1266.6,623 1266.1,620.5 1261.2,613 1254.5,605.5 1232.8,585.5 1218,570.5 1204.8,560.9 1197.3,558.2 1189.8,557 1184.8,557.5 1179.8,559.8 1174.8,565.1 1171.7,570.5 1164.7,590.5 1159.8,595.1 1152.3,596.4 1144.8,594.9 1129.8,588.5 1114.8,584.9 1107.3,581.9 1087.3,567.2 1069.8,556.7 1062.3,550 1035.4,520.5 1020.5,500.5 1012.5,485.5 998.4,445.5 995.4,433 994.5,423 995,413 996.8,405.5 999.8,399.9 1004.4,395.5 1009.8,392.1 1019.8,388.6 1039.8,385.5 1057.3,384.4 1069.8,382.4 1079.8,382.7 1089.8,384.6 1104.8,388.6 1117.3,390.2 1122.3,392.3 1125.1,395.5 1128.8,408 1131.2,413 1135.1,418 1142.6,423 1149.8,425 1169.8,426.9 1173,425.5 1173.4,420.5 1167.2,403 1164.8,388 1159.8,366.7 1157.3,360.7 1155.2,358 1152.3,355.9 1149.8,355.4 1147.3,356.1 1142.3,364.4 1139.8,366.9 1137.3,368.5 1132.3,369.8 1129.8,369.6 1126.7,368 1124.4,365.5 1122.1,360.5 1121.8,358 1123.2,353 1129.6,345.5 1130.4,343 1130.9,325.5 1134.2,303 1132.8,283 1134.8,277.3 1139.2,268.9 1124.8,254.4 1002.8,192.5 1001.6,192.7 975.2,227.9 965.3,238.2 956.8,296.6 956.8,445 1002,562.1 1228.5,746.9 1545.8,886.7 1547,885.9ZM1177.3,434.7 1174.7,443 1174.7,448 1178,458 1177.9,460.5 1174.8,462.7 1164.8,462.2 1161.6,463 1158.5,465.5 1157.5,468 1157.6,470.5 1159.9,475.5 1170.7,488 1179.8,506.7 1184.8,513.4 1189.8,516 1197.3,515.7 1204.8,512.8 1222.3,503.7 1229.8,502.7 1239.8,503.5 1245.1,503 1252.8,500.5 1259.6,495.5 1260.9,493 1261,490.5 1258.6,485.5 1248.6,475.5 1239.8,468.7 1223.8,460.5 1204.8,454.4 1199.8,451.9 1197.3,449.8 1189.8,439.9 1182.3,434.4 1179.8,433.8Z" fill="#CFE9B7"/><path d="M1570.4,776.4 1564.8,776.5 1554.8,774.1 1529.8,765.3 1517.3,758.4 1502.3,751.6 1479.8,737.1 1465.1,725.5 1457.3,717.9 1449.8,708.1 1439.8,691.8 1428.6,680.5 1416.1,663 1407.3,655.9 1399.8,651.5 1394.8,651.2 1389.8,653.1 1369.8,670.3 1362.3,674.2 1354.8,676 1319.8,675.3 1304.8,671.6 1294.8,667 1282.3,658 1260.7,640.5 1257,635.5 1254.7,630.5 1256.2,618 1254.7,613 1252.3,609 1215.1,573 1209,568 1202.3,563.8 1197.3,562.3 1192.3,562.2 1187.3,563.4 1182.3,566.5 1179,570.5 1176.6,575.5 1172.4,590.5 1169.8,596.1 1167.3,599.2 1162.3,602.5 1154.8,603.8 1144.8,601.9 1132.3,595.9 1127.3,594.3 1109.8,593.4 1104.8,591.7 1099.8,588 1090.3,578 1084.8,573.6 1069.8,566.4 1064.7,563 1020.5,505.5 1010.3,488 994.3,438 992.1,418 993.4,405.5 995.4,400.5 999.8,394.8 1007.3,389 1017.3,384.3 1037.3,380.2 1057.3,380.3 1099.8,373.4 1113.1,373 1114.8,370.4 1107.3,363 1105,358 1104.8,355.3 1105.4,353 1107.2,350.5 1119.8,341.1 1122.9,335.5 1129.6,303 1128.1,288 1128.5,280.5 1135,264.7 1124.8,254.4 1002.8,192.5 1001.6,192.7 975.2,227.9 965.3,238.2 956.8,296.6 956.8,445 1002,562.1 1228.5,746.9 1545.8,886.7 1547,885.9ZM1147.3,360.7 1145.3,365.5 1142.3,369.7 1132.5,378 1130.7,380.5 1130.3,385.5 1135.2,403 1139.8,411.7 1143.9,415.5 1148.7,418 1154.8,419.4 1159.8,419.3 1163.5,418 1164.9,415.5 1161.5,388 1155.3,363 1152.3,359.2 1149.8,358.5ZM1182.3,446.4 1183.1,445.5 1182.3,444.7 1181.3,445.5ZM1197.3,463.4 1192.3,466.1 1184.8,472.1 1179.8,474.3 1177.3,474.2 1175.1,473 1169.8,468 1167.3,467 1164.8,466.9 1163,468 1162,470.5 1164.8,475.1 1172.4,480.5 1181.4,500.5 1187.3,508.1 1192.3,510.4 1199.8,509.8 1219.8,499.6 1227.3,497.2 1237.3,495.2 1241.1,493 1242.6,490.5 1242.9,488 1241.5,483 1235.8,475.5 1229.8,470.5 1222.3,466.1 1214.8,463.4 1204.8,462.4Z" fill="#DCEEB9"/><path d="M1569.7,779.2 1549.8,774.1 1539.8,770 1527.3,766.1 1517,760.5 1499.9,753 1475.4,738 1462.7,728 1454.8,720.2 1447.5,710.5 1437.3,693 1424.7,680.5 1414.8,667.6 1409.8,663 1402.3,658.6 1397.3,657.5 1392.3,658.8 1387.3,662.1 1372.2,675.5 1364.8,679.2 1357.3,680.7 1349.8,680.8 1319.8,678.7 1306.3,675.5 1294.8,670.5 1287.3,665.5 1269.8,651.4 1259.8,644.7 1252.3,638.3 1240.1,630.5 1239.1,628 1239.3,625.5 1245.9,615.5 1246.2,613 1245.4,610.5 1232.3,595 1208.1,573 1199.8,567.8 1192.3,568.1 1187.8,570.5 1185.3,573 1182.3,578.4 1178.3,595.5 1174.8,602.9 1169.1,608 1164.8,609.8 1159.8,610.8 1154.8,610.7 1147.3,609.1 1132.3,601.6 1127.3,600.1 1121.4,600.5 1109.8,604.8 1104.8,603.9 1099.8,601.1 1094.8,596.8 1087.3,585 1082.3,579.7 1074.8,576.1 1064.8,574.6 1059.8,572.5 1057.3,569.2 1052,555.5 1046.5,545.5 1017.3,505.7 1008.3,490.5 992.8,440.5 989.7,418 990.1,405.5 992.9,398 997.3,392.5 1007.3,384.3 1014.8,380.1 1024.8,377.2 1037.3,375.1 1052.3,376.7 1062.3,375.9 1079.8,371.7 1084.8,369.6 1090.2,365.5 1093.4,360.5 1098,348 1110.9,335.5 1115.7,328 1124.6,303 1124.8,298 1123.1,285.5 1123.4,280.5 1125.5,273 1130.7,260.3 1124.8,254.4 1002.8,192.5 1001.6,192.7 975.2,227.9 965.3,238.2 956.8,296.6 956.8,445 1002,562.1 1228.5,746.9 1545.8,886.7 1547,885.9ZM1149.8,370.1 1139.9,380.5 1138.7,385.5 1139.2,390.5 1142.3,400.1 1145.6,405.5 1149.8,409.2 1152.3,410.1 1154.8,409.9 1156.3,408 1157.3,403.4 1157.1,388 1152.3,372ZM1202.3,470.7 1194.8,474 1187.3,478.9 1182.9,483 1181.9,485.5 1182,490.5 1184.8,496.8 1189.8,502.7 1194.8,504.9 1202.3,503 1220.4,493 1224.8,490.1 1228.3,485.5 1228.5,483 1226.6,478 1219.8,471.6 1212.3,469Z" fill="#E8F3BB"/><path d="M1569.1,782.2 1524.8,767.2 1514.8,762.1 1497.3,755 1482.3,747.2 1474.8,742.5 1462.3,732.9 1454.4,725.5 1446.3,715.5 1434.8,695.5 1422,683 1412.3,672.3 1404.8,666.9 1399.8,665.5 1394.8,666.3 1389.8,669.3 1374.8,682.4 1369.8,684.8 1362.3,686.4 1352.3,686.2 1319.8,682.1 1304.8,678.3 1294.8,674 1287.3,669 1269.8,654.5 1252.3,642.3 1247.3,639.5 1237.3,636.2 1233.4,633 1229.8,628 1228.1,623 1229.1,618 1232.9,610.5 1232.7,605.5 1230.3,600.5 1207,580.5 1199.8,576.1 1194.8,576.2 1192.3,577.5 1189.8,580.5 1185.9,603 1181.3,610.5 1177.3,613.7 1172.3,616.2 1162.3,618.1 1154.8,617.7 1147.3,615.9 1139.8,612.7 1129.8,606.8 1127.3,606.2 1122.3,607.8 1112.3,613.2 1109.8,613.5 1104.8,612.5 1096.2,608 1085.7,600.5 1084.1,598 1081.2,588 1077.3,584 1074.8,582.8 1069.8,582.2 1059.8,584.8 1054.8,582.6 1052.3,579.7 1050.2,575.5 1047.2,558 1043.1,548 1025.3,520.5 1014.8,506.9 1005.6,490.5 990.6,440.5 987,415.5 987.4,403 989.8,396.6 994.8,390 1004.8,381.2 1014.8,375.1 1022.3,372.6 1032.3,371 1039.8,371.1 1052.3,373.2 1062.3,372.6 1077.1,368 1084.8,362.5 1088.1,358 1094.8,344.3 1105.6,330.5 1117.1,305.5 1118.4,298 1117.4,285.5 1117.9,278 1123.4,263 1125.1,254.7 1002.8,192.5 1001.6,192.7 975.2,227.9 965.3,238.2 956.8,296.6 956.8,445 1002,562.1 1228.5,746.9 1545.8,886.7 1547,885.9ZM1204.8,478.1 1196.2,483 1191.2,488 1190.8,490.5 1191.9,493 1194.8,495.3 1199.8,495.4 1204.8,493.2 1212.3,488.4 1215.1,485.5 1216.2,483 1216.2,480.5 1214.8,477.8 1212.3,476.4 1209.8,476.4Z" fill="#F2F7BC"/><path d="M1568.4,785.8 1554.8,779.1 1527.3,770.6 1514.8,765.2 1492.3,757 1479.8,751.4 1472.3,746.8 1459.8,736.9 1448.2,725.5 1440.9,715.5 1432.6,700.5 1428.6,695.5 1412.3,681.3 1404.8,676.7 1399.8,676.2 1394.9,678 1379.8,691.6 1374.8,693.8 1369.8,694.4 1357.3,693.2 1312.3,683.7 1299.8,679.8 1292.3,676 1263.9,653 1249.8,643.8 1234.1,638 1222.3,628.6 1204.8,616.7 1197.3,616.6 1174.8,624.2 1164.8,625.5 1149.8,624.1 1129.8,617.1 1124.8,617.2 1114.8,619.8 1107.3,619.5 1097.4,615.5 1079.8,604.6 1076.9,600.5 1076.3,593 1075.3,590.5 1072.3,588.5 1069.8,588.3 1062.3,591 1057.3,591.4 1052.3,589.4 1049.8,587.2 1046.7,583 1044.6,578 1042.1,558 1038.3,548 1023.1,523 1012.3,508 1003.1,490.5 989,443 984.4,415.5 984.2,403 986.6,395.5 992.3,387.5 1004.8,376.1 1014.8,369.9 1022.3,367.4 1029.8,366.5 1037.3,366.9 1052.3,369.9 1059.8,369.8 1067.2,368 1073.3,365.5 1077.5,363 1082.3,358.4 1092.1,340.5 1101.7,325.5 1108.8,305.5 1110.2,295.5 1109.4,278 1110.9,270.5 1114.2,260.5 1114.8,249.4 1002.8,192.5 1001.6,192.7 975.2,227.9 965.3,238.2 956.8,296.6 956.8,445 1002,562.1 1228.5,746.9 1545.8,886.7 1547,885.9Z" fill="#FDFBBE"/><path d="M1567.2,791.1 1557.2,783 1552.3,780.7 1527.3,773.7 1509.8,767.3 1482.3,760 1474.8,756.7 1464.8,749.3 1449.8,735.4 1438.7,723 1424.8,702.2 1419.8,697.7 1412.3,693.4 1407.3,692.2 1402.3,693.3 1391.6,703 1384.8,706.6 1379.8,707.4 1372.3,706.3 1342.5,695.5 1304.8,684.9 1294.8,681 1287.3,676.2 1267.3,658.2 1254.8,649.4 1244.8,643.9 1234.2,640.5 1224.8,634.7 1219.8,632.6 1197.3,627.3 1189.8,627.7 1172.3,631.8 1159.8,632.7 1147.3,631.5 1129.8,628 1109.8,626.6 1102.3,624.2 1097.3,621.7 1074.4,608 1067.3,601.6 1054.8,598.3 1047.3,593.2 1043.3,588 1039.9,580.5 1038.3,573 1036.9,558 1033.7,548 1020.8,525.5 1007.3,504.7 1002.6,495.5 999.8,488 986.7,443 981.3,413 981.3,400.5 984.8,391.6 991.6,383 1004.8,370.7 1014.8,364.2 1022.3,361.9 1029.8,361.5 1037.3,362.7 1052.3,366.7 1059.8,366.6 1070.3,363 1074.8,360.1 1079.3,355.5 1095.7,325.5 1099.1,315.5 1100,308 1099.8,300.5 1098.9,295.5 1095.2,285.5 1094.4,278 1096.5,258 1099.7,241.7 1002.8,192.5 1001.6,192.7 975.2,227.9 965.3,238.2 956.8,296.6 956.8,445 1002,562.1 1228.5,746.9 1545.8,886.7 1547,885.9Z" fill="#F8E6A6"/><path d="M1040.1,593 1037.3,587.5 1034.9,580.5 1031.8,558 1028.9,548 1018.4,528 1009.8,514.5 1002.3,500.5 993.9,478 984.2,443 978.5,413 978,400.5 981.4,390.5 987.3,382.1 1004.8,364.4 1014.8,357.6 1022.3,355.5 1029.8,355.8 1034.8,357 1049.8,362.7 1054.8,363.7 1062.3,362.5 1071.2,358 1076.1,353 1080.2,345.5 1090.9,320.5 1091.5,313 1088.5,303 1078.9,288 1076,278 1076.6,265.5 1083.5,233.5 1002.2,192.4 975.2,227.9 965.3,238.2 956.8,296.6 956.8,445.1 1001.8,561.9ZM1561.3,818 1557.3,820.1 1552.3,821.3 1544.8,820.8 1539.8,819 1534.8,815.9 1530.2,810.5 1530.3,805.5 1533.9,800.5 1536.9,798 1542.3,795.2 1552.3,794.4 1554.8,793.3 1555.4,790.5 1554.5,788 1552.2,785.5 1537.3,780.3 1510,773 1502.3,771.9 1494.8,771.8 1487.3,772.9 1480.9,775.5 1474.8,779.4 1472.3,780.2 1469.8,779.5 1463.9,765.5 1455.7,753 1437.3,733.1 1424.8,722.4 1417.3,718.6 1412.3,717.3 1407.3,717.6 1384.8,722.1 1379.8,721.9 1374.8,720.5 1354.1,708 1339.3,700.5 1320,693 1299.8,686.8 1292.3,683.4 1284.8,678.1 1269.6,663 1256.8,653 1247.3,647.2 1234.8,642.5 1224.8,637.6 1217.3,635.6 1197.3,633 1189.8,633.6 1169.8,638.6 1159.8,640 1142.3,640 1124.8,637.9 1114.8,635.8 1104.8,632.4 1094.8,627 1079.8,616.9 1061.8,610.6 1228.5,746.9 1545.8,886.7 1547,885.9Z" fill="#F2D390"/><path d="M1031.9,586.4 1025.9,553 1016,530.5 999.5,500.5 989.6,473 982.7,448 975.5,413 974.7,405.5 975.1,398 978.5,388 983.6,380.5 1004.8,356.1 1009.8,351.7 1014.8,348.8 1022.3,347 1029.8,347.9 1034.8,349.9 1049,358 1054.8,359.9 1062.3,358.3 1067.5,355.5 1072.3,351 1075.2,345.5 1079.9,330.5 1081.2,320.5 1080.2,315.5 1077.1,310.5 1072.3,306.5 1060.9,300.5 1058.3,298 1055.8,293 1054.5,288 1052.8,270.5 1053.4,260.5 1064.7,224 1002.3,192.4 975.2,227.9 965.3,238.2 956.8,296.6 956.8,445.1 1001.8,561.9ZM1553.8,854.1 1548.4,845.5 1538.1,835.5 1524.8,825.6 1509.8,816.1 1492.3,807.1 1467.3,801.8 1459.8,798.7 1455.6,795.5 1451.6,788 1448.3,768 1444.9,758 1437.3,746.9 1427.3,738.1 1419.8,734.4 1409.8,732.3 1399.8,732.7 1379.8,735.8 1372.3,734.5 1354.7,718 1335.6,705.5 1319.8,697.3 1297.3,689.7 1287.3,684.4 1282.3,680.2 1271.4,668 1263.5,660.5 1253.6,653 1244.8,648.1 1222.3,639.2 1197.3,637.4 1187.3,639.2 1167.3,646.2 1157.3,648.8 1139.8,651.8 1132.3,651.5 1119.8,648.2 1107.3,642.7 1097.3,636.8 1079.8,623.8 1076,622.1 1228.6,746.9 1523.6,876.9 1539.8,871.7 1550.1,865.5 1551.7,864Z" fill="#ECC17C"/><path d="M1026.2,581.8 1023.6,560.5 1021.6,553 1013.7,533 995.6,498 985.9,470.5 979.9,448 976.1,428 972.2,413 971.4,405.5 972.1,395.5 974.2,388 977.3,382 992.5,363 1004.8,340.9 1012.3,333.7 1017.3,330.9 1022.3,329.6 1029.8,331.1 1037.3,336.9 1044,345.5 1048.9,350.5 1052.9,353 1057.3,353.7 1062.3,352.1 1067.3,348 1070.2,340.5 1070.8,330.5 1069.4,325.5 1064.8,320.1 1059.8,317.6 1042.3,312.1 1035.5,308 1023.2,293 1005.6,278 1001.2,273 1000.1,270.5 1000,265.5 1003,258 1009.8,251.3 1027.3,242.8 1034.8,237.4 1038.5,233 1041.4,228 1043.2,223 1044.3,215.5 1044.2,213.6 1002.3,192.4 975.2,227.9 965.3,238.2 956.8,296.6 956.8,445.1 1001.8,561.9ZM1493.8,863.8 1512.2,855.5 1517.3,852.4 1520.9,848 1521.5,845.5 1520.2,840.5 1513.8,835.5 1499.3,828 1484.8,821.6 1459.8,812.3 1449.8,805.7 1445.3,800.5 1441.5,793 1435.8,770.5 1433.2,763 1428.8,755.5 1423.9,750.5 1415.3,745.5 1407.3,743.6 1397.3,743.7 1379.8,746.3 1372.3,745.5 1367.3,743.3 1362.3,738.8 1354.8,729.3 1349.8,724.3 1324.2,705.5 1312.3,698.6 1294.8,693.1 1284.8,687.4 1279.8,682.6 1265.8,665.5 1257.3,658 1247.3,651.4 1232.3,644.5 1224.8,641.9 1217.3,641 1197.3,641.2 1189.8,643.1 1179.1,648 1166,655.5 1147.3,667.7 1139.8,669.7 1133.6,669 1228.5,746.9Z" fill="#E6B06A"/><path d="M1021.5,577.9 1019.1,558 1012.4,538 993.7,500.5 984.2,475.5 976.8,448 973.1,428 968.1,410.5 968.2,395.5 970.4,385.5 974.8,377.2 986.2,363 990.1,353 990.8,345.5 987.3,325.9 987.6,320.5 988.9,318 997.3,309.8 999.4,305.5 999.7,303 998.9,298 997.3,295.2 992.3,290.9 984.8,289.5 983,288 981.5,285.5 980.2,280.5 980.2,265.5 985.8,233 983.9,216.4 975.2,227.9 965.4,238 956.8,296.5 956.8,445.1 1001.8,561.9ZM1472.4,854.4 1479.4,850.5 1481.1,848 1481.6,845.5 1479.9,840.5 1471.4,833 1449.8,820.1 1444.8,816 1440,810.5 1434.1,800.5 1422.3,769.9 1419.8,765.5 1414.8,759.8 1409.8,756.4 1404.8,754.5 1397.3,754 1384.8,755.9 1379.8,756 1372.3,754.5 1364.8,750.9 1357.9,745.5 1344.8,731.5 1332.3,721.9 1314,705.5 1307.3,701.9 1289.8,696.2 1282.3,691.5 1277.3,685.8 1265,668 1257.2,660.5 1249.8,655 1236.7,648 1227.3,644.4 1217.3,643.4 1199.8,644.4 1192.3,646.7 1181.9,653 1173.8,660.5 1168.3,668 1159.4,690.2 1228.5,746.9ZM1009.8,217.9 1010,215.5 1009.8,215.4 1009.6,215.5Z" fill="#DF9F58"/><path d="M1017.2,574.4 1015.3,558 1009.2,538 999.8,517.7 990.5,500.5 980.6,475.5 973,448 970.2,430.5 964.1,413 963.4,405.5 963.6,395.5 965.8,383 970.5,373 980,360.5 982.7,353 982.6,345.5 978.2,330.5 977.9,318 979.7,310.5 985,305.5 986.4,303 986.5,300.5 985,298 982.3,296.4 976.4,295.5 974.8,293.7 972.3,286.9 968.9,270.5 965.9,237.3 956.8,296.6 956.8,445.2 1001.8,561.9ZM1439.8,838.2 1439.3,833 1434,823 1422.3,796.4 1414.8,784.3 1407.3,775.8 1399.8,771.4 1384.8,771.6 1379.8,770.1 1374.8,767.3 1357.2,755.5 1327.3,731.3 1313.9,715.5 1308.7,710.5 1302.3,706.9 1282.3,699.8 1279.8,697.9 1275.9,693 1263.5,670.5 1250.9,658 1232.3,647.5 1227.3,646 1219.8,645.6 1202.3,647.5 1197.3,649 1190.7,653 1183.7,660.5 1179.7,668 1178,675.5 1177.8,683 1179.1,698 1178,705.5 1228.4,746.8 1439.2,839.7Z" fill="#D88F49"/><path d="M1013,571 1011.5,558 1007,540.5 998.3,520.5 988.2,503 978.2,480.5 975.6,473 972.3,459.3 968.2,448 964.8,431.5 960.8,423 959,415.5 958,398 959.9,380.5 964.3,368 972.7,355.5 974.8,350.7 975,348 973,330.5 971.7,310.5 969.9,300.5 960.1,274.1 956.8,296.6 956.8,445.2 1001.8,561.9ZM1419.2,830.5 1421.1,820.5 1420.6,813 1417.1,805.5 1409.8,797.7 1404.8,794.9 1399.8,793.6 1382.3,793.8 1374.8,791.1 1369.8,786.1 1362.3,773 1357.7,768 1339.8,754.9 1322.3,746.3 1317.3,742.8 1311.3,735.5 1304.1,720.5 1299.3,715.5 1294.8,713 1289.8,711.5 1271.2,710.5 1269.6,708 1269.4,698 1268.1,690.5 1263.9,678 1259.6,670.5 1249.8,660 1232.3,649.3 1224.8,647.6 1217.3,648.4 1202.3,651.7 1197.3,654.5 1193.8,658 1189.8,665.5 1188.7,670.5 1188.6,675.5 1190,683 1196.3,703 1197.3,713 1196.7,720.7 1228.4,746.8Z" fill="#D07F39"/><path d="M956.8,356.6 964.8,342.9 967.3,337.2 968.6,330.5 963.9,305.5 957.7,290.6 956.8,296.6ZM1008.8,567.6 1006.5,550.5 1002.7,538 995.2,520.5 985.5,505.5 974.3,483 967.3,463.1 963.5,455.5 956.8,437.3 956.9,445.4 1001.8,561.8ZM1408,825.5 1411.7,818 1411.3,815.5 1409.8,813.2 1407.3,811.3 1404.8,810.2 1399.8,809.6 1379.8,810.9 1372.3,809.2 1367.3,806.9 1359.4,800.5 1347.2,783 1339.8,775.5 1329.8,769.6 1309.8,761.7 1300.2,755.5 1295.4,750.5 1292.4,745.5 1290.4,738 1290.2,728 1289.4,725.5 1287.3,723.4 1284.8,723.3 1282.3,724.3 1269.8,731.4 1249.8,738.8 1244.8,741.9 1235.4,749.9ZM1219.8,650.7 1206.7,655.5 1200.9,660.5 1198.4,668 1199.4,675.5 1203.3,683 1224.8,714.4 1229.8,718.7 1234.8,721.1 1239.8,721.7 1242.3,721.2 1247.3,719 1252.3,714.5 1259.1,703 1261.5,693 1260,680.5 1255.2,670.5 1249.8,663.7 1246,660.5 1229.8,650.1 1224.8,649.9Z" fill="#CA722C"/><path d="M1004.6,564.2 1002.5,548 999.2,538 992.3,522.7 978.2,500.8 1001.8,561.8ZM1222.3,653.5 1217.6,655.5 1211.4,660.5 1209.3,665.5 1210.3,670.5 1212.3,673.6 1219.8,680.5 1227.3,690.8 1232.3,695.9 1239.8,699.3 1244.8,699 1247.3,698 1249.8,696 1251.9,693 1253.8,685.5 1253.1,678 1250,670.5 1243.5,663 1232.3,654.4 1229.8,652.9 1227.3,652.5Z" fill="#C36621"/><path d="M999.9,557 998.7,548 996.3,540.5 990.5,528 986.3,521.6ZM1224.8,658.6 1222.3,661.8 1222,663 1222.9,665.5 1234.8,675.5 1237.3,677.1 1239.8,677.3 1241.3,675.5 1241.5,673 1239.8,668.7 1237.5,665.5 1229.8,658.4 1227.3,657.8Z" fill="#BD5B17"/></g>
<path d="M1512.3,716.8 1509.8,718.6 1509.6,723 1511.3,728 1514.5,733 1518.2,735.5 1529.8,741.3 1532.3,741.3 1533.4,740.5 1533.7,738 1532.3,733.6 1527.2,725.5 1519.8,718.9 1514.8,716.9 1512.3,716.8M1201.7,340 1199.4,345.5 1198.3,350.5 1198.2,360.5 1199.7,368 1201.5,373 1206.3,380.5 1209.8,383.4 1212.3,384.3 1217.3,384 1222.3,381.5 1232.2,374M1034.8,430.4 1030.5,433 1029.1,435.5 1028.9,440.5 1031.4,445.5 1034.8,448.6 1039.8,450.4 1044.8,450 1049,448 1050.6,445.5 1050.9,443 1049.8,438 1048.3,435.5 1045.9,433 1042.3,431 1039.8,430.3 1034.8,430.4M1272.3,564.9 1269.8,567.2 1269.3,570.5 1271.5,575.5 1276.1,580.5 1287.3,588 1307.9,598 1321.8,603 1327.3,604 1331.4,603 1334.9,598 1337.3,596.9 1339.8,597.2 1347.3,601.5 1357.3,603.7 1364.8,608 1369.8,609.9 1382.3,612.2 1384.8,611.5 1385.5,610.5 1384.2,605.5 1379.7,598 1374.8,593.3 1369.8,590.7 1364.8,589.3 1334.8,584.4 1327.3,580.5 1313.8,570.5 1309.2,568 1302.3,565.5 1294.8,564 1284.8,563.3 1277.3,563.6 1272.3,564.9M1457.3,660 1454.8,660.5 1452.3,661.9 1449.5,665.5 1449,670.5 1449.9,673 1452,675.5 1454.8,677.4 1459.8,679.3 1472.3,681.1 1475.6,680.5 1476.1,678 1474.7,673 1469.6,665.5 1466.7,663 1462.3,660.7 1457.3,660M1487.3,691.4 1485.1,693 1486.8,698 1497.8,718 1506.6,730.5 1510.9,735.5 1517.3,740.3 1529.8,747.8 1539.8,750.9 1542.3,751.2 1544.8,750.6 1545.5,748 1545.1,745.5 1542.1,738 1534.8,725.7 1527.3,716.5 1519.8,709.8 1512.3,704.5 1497.3,696 1487.3,691.4M1183.9,320.2 1178,335.5 1177.5,340.5 1178,345.5 1183.6,368 1190,388 1194.8,397.7 1201.1,405.5 1209.8,413.9 1214.8,416.6 1217.3,416.8 1221.2,415.5 1224.8,413 1239.8,399.7 1250.4,394.3M1027.3,419.9 1022.3,422.4 1019.8,424.8 1017.9,428 1016.9,433 1017.4,438 1019.8,445 1023,450.5 1027.3,455.8 1032.3,460 1034.8,461.4 1039.8,462.7 1044.8,462.8 1054.8,461.5 1059.8,460.2 1062.3,458.7 1064.1,453 1063.7,448 1059.5,435.5 1057.3,431.4 1054.8,428.4 1048,423 1042.3,420.2 1034.8,418.9 1027.3,419.9M1084.8,492.6 1082.3,493.2 1079.8,494.8 1076.9,498 1076.1,500.5 1076.3,503 1077.3,505.1 1080.5,508 1084.8,509.3 1089.8,509 1092.3,508.1 1095.1,505.5 1095.5,503 1094.4,500.5 1089.8,495.3 1087.3,493.5 1084.8,492.6M1114.8,500.2 1111.9,503 1111,505.5 1111.5,508 1114.4,513 1120.8,520.5 1127.3,525.1 1132.3,526.6 1139.8,526 1142.3,524.3 1144,520.5 1143.3,515.5 1142.2,513 1137.9,508 1131.2,503 1124.8,500 1119.8,499.3 1114.8,500.2M1252.3,547.7 1249.8,548.1 1246.1,550.5 1245.4,553 1245.6,555.5 1250,565.5 1259,578 1263.8,583 1270.1,588 1299.8,607.4 1307.3,611.5 1314.8,614.3 1334.8,618.5 1337.3,618.2 1339.8,616.8 1343.7,613 1347.3,611.4 1352.3,610.1 1357.3,609.7 1359.8,610.2 1364.8,613.9 1374.8,619 1382.3,621.8 1387.3,622.4 1399.8,622.5 1412.3,621.8 1414.9,620.5 1412.6,618 1402.3,611.9 1397.3,608.1 1392.8,603 1385.6,593 1379.8,587.8 1374.8,585 1367.3,582.6 1352.3,581.5 1347.3,580.3 1339.5,575.5 1327.3,565 1319.8,559.9 1309.8,556.7 1279.8,553.7 1259.8,548.5 1252.3,547.7M1344.8,627.5 1344.4,628 1344.8,630.6 1347.3,631.7 1349.4,630.5 1347.3,627.5 1344.8,627.5M1429.8,634.9 1427.5,635.5 1427.3,638 1429.8,642.4 1432.3,642.6 1433.8,640.5 1433.2,638 1429.8,634.9M1452.3,652.2 1449.8,653.4 1447.3,655.7 1444.8,659.8 1443.7,663 1443.9,670.5 1446.2,675.5 1448.1,678 1452.3,681.9 1461.2,688 1467.1,693 1501.1,730.5 1511.4,740.5 1527.3,750.3 1538,755.5 1544.8,757.9 1549.8,758.1 1552.3,757.3 1554,755.5 1554.3,753 1551.9,745.5 1538.5,723 1527.3,708.9 1507.7,690.5 1486,668 1477.4,660.5 1469.8,655.6 1464.8,653.3 1457.3,651.8 1452.3,652.2M1168.7,303.3 1160.7,320.5 1159.1,328 1159.6,335.5 1162.1,343 1169.8,354.8 1172.4,360.5 1178.4,380.5 1182.9,398 1187.3,405.3 1197.3,417.2 1207.3,426.8 1209.8,428.4 1214.8,430 1219.8,430 1224.8,428.7 1239.8,420.5 1244.8,419.1 1249.8,419.8 1252.3,421.2 1259.8,429.6 1262.3,430.8 1267.3,430.6 1269.8,429.8 1277.4,424.5M1024.8,410 1017.1,413 1014,415.5 1010.4,420.5 1008.6,425.5 1008.1,430.5 1010.1,440.5 1013.1,448 1017.3,455.9 1034.8,482.7 1037.3,485.6 1039.8,486.8 1042.3,487.1 1044.8,486 1046.8,480.5 1048.5,478 1051.8,475.5 1055.1,475.5 1056.7,478 1057.2,480.5 1056.5,483 1054.8,485.5 1051.3,488 1049.8,489.9 1049.6,493 1053.9,503 1057.1,508 1061.4,513 1069.8,519.4 1077.3,522.2 1084.8,522.8 1097.3,520.2 1100.9,520.5 1104.7,523 1112.3,530.8 1117.3,534.8 1124.8,538.9 1129.8,541 1137.3,542.3 1142.3,541.9 1147.3,540.1 1150.3,538 1152.6,535.5 1154.8,531.3 1155.9,523 1154.8,509.7 1153.3,505.5 1149.7,500.5 1137.1,490.5 1132.3,487.9 1124.8,485 1119.8,484.2 1114.8,484.8 1102.3,489.9 1099.8,489.7 1089.8,485.1 1077.3,484.8 1073.7,483 1072.7,480.5 1076.4,470.5 1076.7,465.5 1073.6,450.5 1070.2,440.5 1068.2,425.5 1065.6,420.5 1059.5,415.5 1054,413 1047.3,411 1034.8,409.2 1024.8,410M1232.3,532.3 1225.3,535.5 1223,538 1221.9,540.5 1222.1,545.5 1226.1,553 1248.2,578 1257.8,588 1282.1,605.5 1321,638 1337.3,647.7 1342.3,649.6 1347.3,650.3 1352.3,649 1357.3,645.5 1361.6,640.5 1367.3,632.3 1369.8,630.4 1374.8,629.7 1394.8,629.7 1402.3,630.5 1407.3,632.2 1412.4,635.5 1424.8,648.5 1434.7,655.5 1436.2,658 1438.1,668 1439.9,673 1444.9,680.5 1460.2,695.5 1474.1,710.5 1506,740.5 1512.7,745.5 1535.1,758 1549.8,763 1557.3,764.7 1559.8,764.7 1562.3,763 1563,760.5 1562.7,758 1560.9,753 1555.9,743 1538.4,715.4M1487.1,658.3 1472.3,648.9 1454.8,642 1449.8,638.8 1422.3,607.7 1419,605.5 1414.8,603.7 1404.8,601.8 1401.2,600.5 1398.6,598 1392.3,588 1387.1,583 1379.8,578.9 1372.3,576 1364.8,574.2 1354.8,573 1349.8,570.9 1334.8,555.7 1327.3,550.4 1319.8,547.5 1312.3,546.2 1284.8,545.5 1279.8,544.8 1259.8,535 1249.8,531.5 1242.3,531 1232.3,532.3M1153.5,286.2 1150.4,298 1149.5,308 1145.5,325.5 1145.3,330.5 1146.2,335.5 1148.2,340.5 1149.9,343 1161.9,355.5 1165.2,360.5 1167.2,365.5 1170.7,378 1175,398 1176.7,403 1182.3,412.2 1190.7,423 1200.7,433 1209.8,439.2 1214.8,441 1222.3,442.2 1227.3,442.1 1237.3,440.7 1242.3,440.7 1247.3,443 1262.3,455.3 1267.3,457.9 1269.8,458.5 1274.8,458.1 1277.3,456.4 1284.8,445.5 1291.1,439.7M1024.8,400.4 1014.8,402.9 1010.4,405.5 1007.3,408.5 1004.8,412.3 1002.7,418 1001.4,425.5 1001.5,430.5 1003,438 1007.3,450.5 1024.8,490.5 1029.8,498.4 1048.2,518 1062.3,529.7 1069.8,534.2 1074.8,536.3 1094.8,542.8 1112.3,554.5 1119.8,558.7 1129.8,562.5 1137.3,563.7 1144.8,562.7 1152.3,558.4 1157.3,553.4 1163,545.5 1166.4,538 1168,530.5 1167.2,513 1165.9,503 1163.8,498 1159.8,492.7 1152.3,483.7 1140.8,473 1132.3,463 1127.3,458.9 1122.3,456.9 1117.3,456.5 1112.3,457.5 1107.3,460.2 1098.9,468 1095.3,470.5 1092.3,471.3 1089.2,470.5 1087.3,467.7 1085.2,460.5 1085.2,455.5 1086.5,443 1091.5,428 1091.8,423 1091.2,420.5 1088.4,415.5 1083.9,410.5 1077.3,405.1 1072.3,402.2 1064.8,400 1039.8,399.7 1024.8,400.4M1222.3,519.6 1211.4,525.5 1202.1,533 1199,538 1198.6,540.5 1199.8,544.3 1200.7,545.5 1212.3,553.1 1219.8,559.3 1250.5,590.5 1272.5,608 1278,613 1284,620.5 1288.9,628 1293.6,640.5 1296.5,645.5 1299.8,649.1 1304.8,652.8 1312.3,655.7 1322.3,657.8 1339.8,660.5 1349.8,660.3 1354.8,659 1361.2,655.5 1374.5,643 1379.8,639.6 1384.8,637.7 1392.3,636.1 1397.3,635.8 1402.3,636.8 1408.2,640.5 1426.6,658 1430,663 1436,675.5 1439.6,680.5 1467.3,712.4 1490.6,733 1507.3,746.2 1520.2,753 1529.8,759 1537.3,762.3 1553.3,768 1557.3,769.1 1562.3,769.2 1565.9,768 1568.5,765.5 1569.6,763 1569.3,758 1561.2,743 1553.9,732.7M1470.6,639.8 1461,635.5 1457.4,633 1442.3,617.6 1438.7,613 1429.8,598.3 1416.3,583 1414.6,577.4M1380.3,539.2 1380.5,543 1387.6,563 1387.3,566.1 1384.8,567.7 1379.8,565.5 1367.4,558 1361.5,553 1354.8,544.7 1350.5,540.5 1344.8,536.9 1339.8,535.1 1330.5,533 1319.8,531.8 1287.3,531.9 1281.3,530.5 1267.3,524.4 1257.3,521.3 1229.8,518.5 1222.3,519.6M1140.7,272 1136.4,280.5 1135.1,285.5 1136.5,303 1133.6,325.5 1133.8,343 1132.3,347.2 1126.6,355.5 1126.3,360.5 1127.4,363 1129.7,365.5 1132.3,366.6 1134.8,366.7 1139.8,364.7 1142.3,361.8 1144.8,356.3 1147.3,354.1 1149.8,353.8 1152.3,354.5 1156.8,358 1159.9,363 1161.6,368 1169.7,405.5 1178.4,425.5 1180.1,428 1189.8,436.3 1202.3,449 1207.3,451.8 1222.3,456.8 1237.3,463 1244.8,467.4 1259.8,478 1267.3,482 1274.8,483.5 1279.8,482.6 1282.3,481.2 1284.8,478.1 1286,475.5 1289.8,460.5 1293.6,458 1297.3,457.3 1299.8,457.7 1302.3,458.9 1303.9,460.5 1304.8,463 1304,468 1301.3,473 1293.6,483 1287.4,493 1284.9,495.5 1280.8,498 1263.7,503 1247.3,506.3 1242.3,506.6 1229.8,505.2 1224.8,505.4 1217.7,508 1199.8,517.6 1192.3,519.4 1187.3,518.8 1184.8,517.5 1180.6,513 1170,490.5 1157.8,475.5 1155.4,470.5 1155.5,465.5 1157.3,462.7 1162.3,460 1169.8,459.6 1172.3,458 1172.8,455.5 1172.2,448 1172.7,438 1172.3,435.4 1171.2,433 1169.8,431.7 1167.3,430.4 1162.3,429.1 1144.8,427.5 1137.3,424.8 1132.3,421.2 1129.3,418 1126.1,413 1120.2,400.5 1117.4,398 1102.3,394.2 1082.3,386.7 1074.8,385.2 1069.8,385.1 1042.3,387.8 1029.8,389.9 1019.8,390.9 1012.3,393.1 1007.3,395.7 1002.3,399.7 999.8,403 997.6,408 996.1,415.5 996,430.5 999.8,446.2 1014.2,485.5 1022.2,500.5 1037.5,520.5 1057.3,541.1 1067.3,550.3 1072.3,553.9 1087.5,563 1104.8,575.4 1114.8,580.4 1129.8,584.8 1147.3,591.4 1154.8,592 1159.8,590 1162.3,586.4 1167,573 1170.5,565.5 1174.8,559.5 1179.8,555.2 1184.8,553.8 1189.8,554.2 1199.8,556.9 1207.3,560.3 1219.8,569.9 1237.6,588 1259.5,608 1268.6,618 1270.1,620.5 1270.7,623 1270.2,633 1271,638 1274,643 1278.1,648 1293.7,660.5 1299.8,664.1 1304.8,666.1 1314.8,669 1322.3,670.2 1344.8,670.4 1354.8,669.3 1362.3,666.6 1367.3,663.5 1381.5,650.5 1387.3,646.5 1394.8,643.7 1399.8,643.8 1404.8,647 1420.4,660.5 1431.4,678 1442.8,690.5 1452.3,704.5 1459,713 1467.3,721.4 1484.7,735.5 1506.4,750.5 1517.5,755.5 1532.3,763.9 1557.3,772.6 1564.8,773.5 1570.2,772.3M1130.3,261.4 1125.5,273 1123.4,280.5 1123.1,285.5 1124.8,298 1124.6,303 1115.7,328 1110.9,335.5 1102.3,343.1 1098,348 1093.4,360.5 1090.2,365.5 1084.8,369.6 1079.8,371.7 1062.3,375.9 1052.3,376.7 1037.3,375.1 1024.8,377.2 1014.8,380.1 1007.3,384.3 997.3,392.5 992.9,398 990.1,405.5 989.7,418 992.8,440.5 1008.3,490.5 1017.3,505.7 1026.9,518 1032.3,526.3 1046.5,545.5 1052,555.5 1057.3,569.2 1059.8,572.5 1064.8,574.6 1074.8,576.1 1082.3,579.7 1087.3,585 1092.3,593.7 1094.8,596.8 1099.8,601.1 1104.8,603.9 1109.8,604.8 1121.4,600.5 1127.3,600.1 1132.3,601.6 1142.3,607.1 1147.3,609.1 1154.8,610.7 1159.8,610.8 1164.8,609.8 1169.1,608 1172.3,605.7 1174.8,602.9 1178.3,595.5 1182.3,578.4 1185.3,573 1187.8,570.5 1192.3,568.1 1197.3,567.4 1199.8,567.8 1208.1,573 1232.3,595 1237.5,600.5 1245.4,610.5 1246.2,613 1245.9,615.5 1239.3,625.5 1239.1,628 1240.1,630.5 1243.1,633 1252.3,638.3 1259.8,644.7 1269.8,651.4 1287.3,665.5 1294.8,670.5 1306.3,675.5 1319.8,678.7 1349.8,680.8 1357.3,680.7 1364.8,679.2 1372.2,675.5 1387.3,662.1 1392.3,658.8 1397.3,657.5 1402.3,658.6 1407.3,661.3 1412.8,665.5 1424.7,680.5 1437.3,693 1449.2,713 1457.3,722.9 1464.8,729.8 1477.3,739.4 1502.3,754.3 1517,760.5 1527.3,766.1 1539.8,770 1549.8,774.1 1564.8,778.6 1568.7,779.2M1149.5,370.5 1149.8,370.1 1152.3,372 1154.8,378.8 1157.3,389.1 1157.1,405.5 1156.3,408 1154.8,409.9 1152.3,410.1 1149.8,409.2 1144.8,404.5 1141.5,398 1138.8,388 1139,383 1139.9,380.5 1143.8,375.5 1149.5,370.5M1203,470.5 1207.3,469.4 1212.3,469 1217.3,470.3 1219.8,471.6 1224.7,475.5 1226.6,478 1228.5,483 1228.3,485.5 1227,488 1224.8,490.1 1220.4,493 1202.3,503 1197.3,504.7 1194.8,504.9 1189.8,502.7 1184.8,496.8 1182,490.5 1181.9,485.5 1182.9,483 1184.8,480.8 1188.5,478 1197.3,472.7 1203,470.5M1106.9,246.5 1105,255.5 1104.8,263 1102.9,278 1103.1,283 1105.1,298 1104.5,305.5 1102.9,313 1098.7,325.5 1089.8,340.1 1083.3,353 1079.9,358 1077.3,360.6 1072.3,364 1067.3,366.2 1059.8,368.2 1052.3,368.3 1037.3,364.8 1029.8,364 1022.3,364.7 1014.8,367.1 1004.8,373.4 992.3,384.9 986,393 983,400.5 982.4,405.5 982.7,413 987.8,443 1001,488 1003.9,495.5 1009.8,506.4 1022.3,524.8 1036,548 1039.6,558 1040.8,573 1041.8,578 1043.6,583 1047.3,588.9 1052.3,593.2 1057.3,595 1062.3,594.9 1069.8,592.3 1072.3,592.9 1073.2,600.5 1076.4,605.5 1079.6,608 1097.3,618.6 1107.3,622.7 1114.8,623.5 1124.8,622.5 1129.8,622.7 1149.8,627.9 1162.3,629.1 1174.8,628 1189.8,623.9 1197.3,623.2 1204.8,624.7 1217.3,629.2 1222.3,631.4 1234.8,639.7 1244.8,642.8 1252.3,646.5 1267.3,656.8 1284.8,672.3 1292.3,677.8 1299.8,681.5 1312.3,685.4 1339.8,691.9 1364.8,698.9 1372.3,700.2 1377.3,700.4 1379.8,700 1384.8,697.3 1397.3,685 1402.3,683.3 1407.3,684.1 1417.3,690.2 1426.7,698 1430.5,703 1439.1,718 1446.9,728 1459.8,740.6 1474.8,752.2 1484.8,757 1510.9,765.5 1524.8,771.2 1554.8,780.1 1566.9,787.6M1064.5,225 1062.3,233.3 1053.9,258 1052.8,265.5 1053.1,275.5 1055,290.5 1058.3,298 1060.9,300.5 1069.8,305 1074.8,308.3 1078.9,313 1080.9,318 1081.2,323 1079.9,330.5 1074.1,348 1070.5,353 1067.3,355.7 1059.8,359.2 1054.8,359.9 1049,358 1034.8,349.9 1027.3,347.3 1019.8,347.3 1012.3,350.1 1004.8,356.1 981.6,383 977.3,390.6 974.8,400.5 974.8,408 976,415.5 982.7,448 990.3,475.5 999.5,500.5 1008.6,518 1016,530.5 1025.9,553 1027.2,558 1029.4,575.5 1031.4,584.7M1079.5,623.7 1097.3,636.8 1107.3,642.7 1119.8,648.2 1132.3,651.5 1139.8,651.8 1157.3,648.8 1167.3,646.2 1187.3,639.2 1197.3,637.4 1217.3,638.4 1222.3,639.2 1244.8,648.1 1253.6,653 1263.5,660.5 1271.4,668 1282.3,680.2 1287.3,684.4 1297.3,689.7 1312.3,694.3 1319.8,697.3 1335.6,705.5 1347.8,713 1354.7,718 1367.3,730.5 1372.3,734.5 1374.8,735.4 1379.8,735.8 1399.8,732.7 1409.8,732.3 1419.8,734.4 1427.3,738.1 1432.3,742 1437.3,746.9 1442,753 1444.9,758 1448.3,768 1451.6,788 1453.7,793 1455.6,795.5 1459.8,798.7 1467.3,801.8 1484.8,805.1 1492.3,807.1 1509.8,816.1 1524.8,825.6 1538.1,835.5 1548.4,845.5 1553.1,852.5M1550.4,865.2 1544.8,869.2 1539.8,871.7 1525.1,876.5M973.7,230.9 975,240.5 974,270.5 975.5,283 977.1,288 978.8,290.5 982.3,292.7 988.7,295.5 991.2,298 992.2,300.5 992.2,303 991.5,305.5 989.7,308 983.7,313 981.9,315.5 981.4,320.5 981.7,328 986,343 986.7,348 986.4,353 985.1,358 982.6,363 972.6,375.5 968.7,383 966.3,393 965.7,403 966,410.5 967.7,418 972,430.5 974.4,445.5 982.4,475.5 992.2,500.5 1000.1,515.5 1010.8,538 1017.8,560.5 1019.2,574.7M1170.4,697.9 1171.2,680.5 1173.4,670.5 1175.7,665.5 1179.1,660.5 1183.6,655.5 1189.9,650.5 1194.8,647.8 1199.8,646.2 1219.8,644.5 1229.8,645.9 1239.9,650.5 1252.6,658 1263.2,668 1267.1,673 1277.3,689.9 1282.3,695.3 1287.3,698.3 1304.8,704.2 1311.8,708 1317.4,713 1329.1,725.5 1342.3,735.9 1354.7,748 1362.3,754 1369.8,758.3 1377.3,761.3 1384.8,762.2 1399.8,760.1 1404.8,761.6 1409.8,765.2 1414.4,770.5 1417.5,775.5 1422.3,784.9 1431.3,805.5 1437.3,816.1 1442.3,822.3 1458.8,838 1460,840.5 1459.1,843 1455.5,845.8M958.4,292.2 963.9,305.5 968.6,330.5 967.3,337.2 964.8,342.9 957.8,354.2M957.8,439.4 963.5,455.5 967.3,463.1 971.2,475.5 974.3,483 985.5,505.5 995.2,520.5 1002.7,538 1006.5,550.5 1008.7,566.3M1236.2,749.2 1244.8,741.9 1249.8,738.8 1269.8,731.4 1282.3,724.3 1284.8,723.3 1287.3,723.4 1289.4,725.5 1290.2,728 1290.4,738 1291.4,743 1293.7,748 1297.5,753 1302.3,757.2 1307.6,760.5 1331.7,770.5 1339.8,775.5 1347.2,783 1355.3,795.5 1359.4,800.5 1367.6,807.1M1372.9,809.4 1382.3,811 1399.8,809.6 1405.4,810.5 1409.6,813 1411.3,815.5 1411.7,818 1408.3,825M1220.7,650.5 1224.8,649.9 1229.8,650.1 1246,660.5 1249.8,663.7 1255.2,670.5 1258.1,675.5 1260,680.5 1261.4,688 1261.5,693 1260.7,698 1259.1,703 1252.3,714.5 1247.3,719 1242.3,721.2 1239.8,721.7 1234.8,721.1 1229.8,718.7 1224.8,714.4 1219.8,707.9 1203.3,683 1199.4,675.5 1198.4,670.5 1198.7,665.5 1199.8,662.5 1202.3,658.8 1206.7,655.5 1220.7,650.5" fill="none" stroke="#2a2a2a" stroke-width="0.7" stroke-dasharray="none"/>
<clipPath id="fcb"><rect x="917.9" y="30.6" width="679.4" height="876.6"/></clipPath>
<path d="M978.3,30.6 L884.6,907.2 M1067.3,30.6 L986.3,907.2 M1155.8,30.6 L1088.3,907.2 M1243.8,30.6 L1190.3,907.2 M1332.3,30.6 L1292.3,907.2 M1420.8,30.6 L1393.8,907.2 M1508.8,30.6 L1495.3,907.2 M1596.3,30.6 L1596.3,907.2 M917.9,77.8 Q1257.6,104.2 1597.3,118.6 M917.9,283 Q1257.6,308.5 1597.3,322 M917.9,488 Q1257.6,512.5 1597.3,525 M917.9,693 Q1257.6,717 1597.3,729 M917.9,898 Q1257.6,921.5 1597.3,933" clip-path="url(#fcb)" fill="none" stroke="#8a8a8a" stroke-width="0.6" stroke-dasharray="5,3"/>
<rect x="917.9" y="30.6" width="679.4" height="876.6" fill="none" stroke="#000" stroke-width="2"/>
<text x="978.3" y="20.9" font-size="10" text-anchor="middle">50° E</text>
<text x="1067.3" y="20.9" font-size="10" text-anchor="middle">51° E</text>
<text x="1155.8" y="20.9" font-size="10" text-anchor="middle">52° E</text>
<text x="1243.8" y="20.9" font-size="10" text-anchor="middle">53° E</text>
<text x="1332.3" y="20.9" font-size="10" text-anchor="middle">54° E</text>
<text x="1420.8" y="20.9" font-size="10" text-anchor="middle">55° E</text>
<text x="1508.8" y="20.9" font-size="10" text-anchor="middle">56° E</text>
<text x="1596.3" y="20.9" font-size="10" text-anchor="middle">57° E</text>
<text x="986.3" y="923.5" font-size="10" text-anchor="middle">51° E</text>
<text x="1088.3" y="923.5" font-size="10" text-anchor="middle">52° E</text>
<text x="1190.3" y="923.5" font-size="10" text-anchor="middle">53° E</text>
<text x="1292.3" y="923.5" font-size="10" text-anchor="middle">54° E</text>
<text x="1393.8" y="923.5" font-size="10" text-anchor="middle">55° E</text>
<text x="1495.3" y="923.5" font-size="10" text-anchor="middle">56° E</text>
<text x="1596.3" y="923.5" font-size="10" text-anchor="middle">57° E</text>
<text x="910.4" y="81.4" font-size="10" text-anchor="end">64° N</text>
<text x="910.4" y="286.6" font-size="10" text-anchor="end">63° N</text>
<text x="910.4" y="491.6" font-size="10" text-anchor="end">62° N</text>
<text x="910.4" y="696.6" font-size="10" text-anchor="end">61° N</text>
<text x="910.4" y="901.6" font-size="10" text-anchor="end">60° N</text>
<text x="1603.8" y="122.2" font-size="10">64° N</text>
<text x="1603.8" y="325.6" font-size="10">63° N</text>
<text x="1603.8" y="528.6" font-size="10">62° N</text>
<text x="1603.8" y="732.6" font-size="10">61° N</text>
<path d="M978.3,23.6 V30.6 M1067.3,23.6 V30.6 M1155.8,23.6 V30.6 M1243.8,23.6 V30.6 M1332.3,23.6 V30.6 M1420.8,23.6 V30.6 M1508.8,23.6 V30.6 M1596.3,23.6 V30.6 M986.3,907.2 V914.2 M1088.3,907.2 V914.2 M1190.3,907.2 V914.2 M1292.3,907.2 V914.2 M1393.8,907.2 V914.2 M1495.3,907.2 V914.2 M1596.3,907.2 V914.2 M910.9,77.8 H917.9 M910.9,283 H917.9 M910.9,488 H917.9 M910.9,693 H917.9 M910.9,898 H917.9 M1597.3,118.6 H1603.3 M1597.3,322 H1603.3 M1597.3,525 H1603.3 M1597.3,729 H1603.3" stroke="#000" stroke-width="1.6" fill="none"/>
<path d="M1006.1,196.4 1010.6,211.9 1021.6,230.1 1038,257.4 1054.3,281 1068.9,299.3 1083.5,313.9 1098.1,328.5 1109,341.3 1134.5,354 1143.7,365 1152.8,386.8 1163.7,414.2 1176.5,441.5 1185.6,454.6 1202.3,474.6 1229.6,491 1269.7,516.5 1289.8,534.8 1302.5,556.6 1318.9,578.5 1333.5,589.4 1348.1,589.4 1366.3,594 1384.5,598.6 1399.1,604 1411.9,618.6 1424.6,636.8 1432.3,647.5 1441.8,670 1449.3,685.2 1460.6,698.4 1475.7,711.6 1498.3,728.5 1517.1,745.5 1539.7,760.5 1554.8,770 1571.3,775M958.3,493.5 977.8,493.8 988.7,494.7 1007,498.3 1025.2,511 1039.8,522 1061.6,523.8 1079.9,521.1 1116.3,518.4 1125.4,523.8 1134.5,542 1145.5,563.9 1156.4,584 1171,600.4 1191,618.6 1207.5,631.4 1222,640.5 1236.6,651.4 1252.3,664.2 1272.3,674 1300.5,687 1319.3,700.3 1334.4,715.3 1347.6,738 1360.8,754.9 1377.8,768 1404.1,783.1 1423,796.3 1441.8,805.7 1460.6,815.1 1483.3,828.3 1502.1,839.6 1513.3,851 1515.3,871.6M959.6,440 976,458.2 992.4,476.4 1001.5,491 1007,498.3M1543.5,762.4 1532.2,768 1520.9,783.1 1515.3,809.5 1515.3,837.7 1516.2,871.6" fill="none" stroke="#7f7f7f" stroke-width="2.2" stroke-linejoin="round"/>
<path d="M1006.1,196.4 1010.6,211.9 1021.6,230.1 1038,257.4 1054.3,281 1068.9,299.3 1083.5,313.9 1098.1,328.5 1109,341.3 1134.5,354 1143.7,365 1152.8,386.8 1163.7,414.2 1176.5,441.5 1185.6,454.6 1202.3,474.6 1229.6,491 1269.7,516.5 1289.8,534.8 1302.5,556.6 1318.9,578.5 1333.5,589.4 1348.1,589.4 1366.3,594 1384.5,598.6 1399.1,604 1411.9,618.6 1424.6,636.8 1432.3,647.5 1441.8,670 1449.3,685.2 1460.6,698.4 1475.7,711.6 1498.3,728.5 1517.1,745.5 1539.7,760.5 1554.8,770 1571.3,775M958.3,493.5 977.8,493.8 988.7,494.7 1007,498.3 1025.2,511 1039.8,522 1061.6,523.8 1079.9,521.1 1116.3,518.4 1125.4,523.8 1134.5,542 1145.5,563.9 1156.4,584 1171,600.4 1191,618.6 1207.5,631.4 1222,640.5 1236.6,651.4 1252.3,664.2 1272.3,674 1300.5,687 1319.3,700.3 1334.4,715.3 1347.6,738 1360.8,754.9 1377.8,768 1404.1,783.1 1423,796.3 1441.8,805.7 1460.6,815.1 1483.3,828.3 1502.1,839.6 1513.3,851 1515.3,871.6M959.6,440 976,458.2 992.4,476.4 1001.5,491 1007,498.3M1543.5,762.4 1532.2,768 1520.9,783.1 1515.3,809.5 1515.3,837.7 1516.2,871.6" fill="none" stroke="#7f7f7f" stroke-width="3.6" stroke-dasharray="6,34"/>
<path d="M1007,217.3 1001.5,230.1 998.8,250.1 1001.5,266.5 1008.8,290.2 1016.1,306.6 1025.2,321.2 1039.8,330.3 1054.3,341.3 1061.6,354 1056.2,365 1047.1,369.5 1028.8,365 1012.4,357.7 1003.3,350.4 996,357.7 993.3,381.4 993.3,417.8 996,445.1 1001.5,456.1 994.2,468.8 985.1,463.4 977.8,452.4 970.5,441.5 959.6,430.6M1191,618.6 1189.2,622.2 1180.1,644.1 1171,667.8 1163.7,691.5M1300.7,454.6 1311.7,476.5 1322.6,498.3 1333.5,516.5 1348.1,533 1366.3,543.9 1388.2,551.2 1401,567.6 1402.8,585.8 1408.3,596.7 1421,600.4 1437.4,604M1415.3,785 1453.1,805.7M1315.6,696.5 1310.3,730 1306.2,762.4M1325,711.6 1317.3,740 1312.3,765M1311.7,713.4 1297.1,731.6" fill="none" stroke="#858585" stroke-width="1.4" stroke-linejoin="round"/>
<path d="M1007,217.3 1001.5,230.1 998.8,250.1 1001.5,266.5 1008.8,290.2 1016.1,306.6 1025.2,321.2 1039.8,330.3 1054.3,341.3 1061.6,354 1056.2,365 1047.1,369.5 1028.8,365 1012.4,357.7 1003.3,350.4 996,357.7 993.3,381.4 993.3,417.8 996,445.1 1001.5,456.1 994.2,468.8 985.1,463.4 977.8,452.4 970.5,441.5 959.6,430.6M1191,618.6 1189.2,622.2 1180.1,644.1 1171,667.8 1163.7,691.5M1300.7,454.6 1311.7,476.5 1322.6,498.3 1333.5,516.5 1348.1,533 1366.3,543.9 1388.2,551.2 1401,567.6 1402.8,585.8 1408.3,596.7 1421,600.4 1437.4,604M1415.3,785 1453.1,805.7M1315.6,696.5 1310.3,730 1306.2,762.4M1325,711.6 1317.3,740 1312.3,765M1311.7,713.4 1297.1,731.6" fill="none" stroke="#858585" stroke-width="2.8" stroke-dasharray="3,9"/>
<path d="M1186.1,709.6 1191,697.5 1243.3,712 1234.8,742.5 1280.9,754.6 1287,724.2 1396.7,753.4 1404,723 1418.6,728 1428.3,697.5 1472,709.6 1480.5,678 1510.9,684.6" fill="none" stroke="#F07C88" stroke-width="3.2" stroke-linejoin="miter"/>
<path d="M1186.1,709.6 1191,697.5 1243.3,712 1234.8,742.5 1280.9,754.6 1287,724.2 1396.7,753.4 1404,723 1418.6,728 1428.3,697.5 1472,709.6 1480.5,678 1510.9,684.6" fill="none" stroke="#8a2a3a" stroke-width="0.6" stroke-dasharray="2.5,1.5"/>
<g font-size="11" fill="#fff" stroke="#1a1a1a" stroke-width="1.5" paint-order="stroke" stroke-linejoin="round"><text transform="translate(964,313.7) rotate(60)" text-anchor="middle" y="3.2">15</text><text transform="translate(982.2,314.9) rotate(60)" text-anchor="middle" y="3.2">10</text><text transform="translate(1055,359.8) rotate(60)" text-anchor="middle" y="3.2">5</text><text transform="translate(962.8,400) rotate(60)" text-anchor="middle" y="3.2">10</text><text transform="translate(1050.3,426.7) rotate(60)" text-anchor="middle" y="3.2">-25</text><text transform="translate(1037,442.5) rotate(60)" text-anchor="middle" y="3.2">-30</text><text transform="translate(1216.8,417) rotate(60)" text-anchor="middle" y="3.2">-25</text><text transform="translate(1210.7,429) rotate(60)" text-anchor="middle" y="3.2">-20</text><text transform="translate(1277.5,453.4) rotate(60)" text-anchor="middle" y="3.2">-15</text><text transform="translate(1290.9,459.5) rotate(60)" text-anchor="middle" y="3.2">-10</text><text transform="translate(1203.4,470.4) rotate(60)" text-anchor="middle" y="3.2">-5</text><text transform="translate(998,532.4) rotate(60)" text-anchor="middle" y="3.2">20</text><text transform="translate(1026,533.6) rotate(60)" text-anchor="middle" y="3.2">5</text><text transform="translate(1136.6,525) rotate(60)" text-anchor="middle" y="3.2">-25</text><text transform="translate(1123.2,537.2) rotate(60)" text-anchor="middle" y="3.2">-20</text><text transform="translate(1109.8,553) rotate(60)" text-anchor="middle" y="3.2">-15</text><text transform="translate(1097.7,568.8) rotate(60)" text-anchor="middle" y="3.2">-10</text><text transform="translate(1246,530) rotate(60)" text-anchor="middle" y="3.2">-20</text><text transform="translate(1072,592) rotate(60)" text-anchor="middle" y="3.2">0</text><text transform="translate(1085.4,582) rotate(60)" text-anchor="middle" y="3.2">-5</text><text transform="translate(1175,628) rotate(60)" text-anchor="middle" y="3.2">0</text><text transform="translate(1332.7,602.8) rotate(60)" text-anchor="middle" y="3.2">-30</text><text transform="translate(1324,615.6) rotate(60)" text-anchor="middle" y="3.2">-25</text><text transform="translate(1385.6,568.5) rotate(60)" text-anchor="middle" y="3.2">-15</text><text transform="translate(1441,654) rotate(60)" text-anchor="middle" y="3.2">-20</text><text transform="translate(1515.5,732.7) rotate(60)" text-anchor="middle" y="3.2">-35</text><text transform="translate(1244.6,720.6) rotate(60)" text-anchor="middle" y="3.2">15</text><text transform="translate(1287,723) rotate(60)" text-anchor="middle" y="3.2">15</text><text transform="translate(1455.5,795.5) rotate(60)" text-anchor="middle" y="3.2">5</text><text transform="translate(1431,805.5) rotate(60)" text-anchor="middle" y="3.2">10</text><text transform="translate(1412.7,817) rotate(60)" text-anchor="middle" y="3.2">15</text><text transform="translate(1548.3,867) rotate(60)" text-anchor="middle" y="3.2">5</text></g>
<path d="M1002.3,193.4 1124.3,255.3 1138.9,270 1573.9,755 1546,885.7 1229,746 1118.1,655 1002.7,561.4 957.8,445 957.8,296.6 966.3,238.3 976,228.6Z" fill="none" stroke="#000" stroke-width="1.3" stroke-linejoin="miter"/>
<path d="M989.6,101.8 L1009.8,81.6 L997.5,98.5 ZM989.6,101.8 L1009.8,122 L992.9,109.7 ZM989.6,101.8 L969.4,122 L981.7,105.1 ZM989.6,101.8 L969.4,81.6 L986.3,93.9 Z" fill="#fff" stroke="#000" stroke-width="0.9" stroke-linejoin="round"/>
<path d="M989.6,101.8 L1009.8,81.6 L992.9,93.9 ZM989.6,101.8 L1009.8,122 L997.5,105.1 ZM989.6,101.8 L969.4,122 L986.3,109.7 ZM989.6,101.8 L969.4,81.6 L981.7,98.5 Z" fill="#000" stroke="#000" stroke-width="0.9" stroke-linejoin="round"/>
<path d="M989.6,101.8 L989.6,61.3 L994.4,90.3 ZM989.6,101.8 L1030.1,101.8 L1001.1,106.6 ZM989.6,101.8 L989.6,142.3 L984.8,113.3 ZM989.6,101.8 L949.1,101.8 L978.1,97 Z" fill="#fff" stroke="#000" stroke-width="0.9" stroke-linejoin="round"/>
<path d="M989.6,101.8 L989.6,61.3 L984.8,90.3 ZM989.6,101.8 L1030.1,101.8 L1001.1,97 ZM989.6,101.8 L989.6,142.3 L994.4,113.3 ZM989.6,101.8 L949.1,101.8 L978.1,106.6 Z" fill="#000" stroke="#000" stroke-width="0.9" stroke-linejoin="round"/>
<text x="989.6" y="59.5" font-size="9.5" text-anchor="middle">N</text>
<text x="989.6" y="152.5" font-size="9.5" text-anchor="middle">S</text>
<text x="946.6" y="105.2" font-size="9.5" text-anchor="end">W</text>
<text x="1032.6" y="105.2" font-size="9.5">E</text>
<rect x="1269.8" y="44" width="313.5" height="163.5" fill="#fff" stroke="#222" stroke-width="1.5"/>
<text x="1426.3" y="62.5" font-size="12.5" font-weight="bold" text-anchor="middle" fill="#222">LEGEND</text>
<line x1="1283.3" y1="85.3" x2="1318.3" y2="85.3" stroke="#F0707A" stroke-width="4"/>
<line x1="1283.3" y1="85.3" x2="1318.3" y2="85.3" stroke="#A02838" stroke-width="0.8" stroke-dasharray="3,2"/>
<text x="1324.8" y="89.3" font-size="12.6" fill="#222">administrative boundaries</text>
<line x1="1283.3" y1="109.3" x2="1317.3" y2="109.3" stroke="#555" stroke-width="0.8"/>
<text x="1324.8" y="113.8" font-size="12.6" fill="#222">isolines Δg, mGal</text>
<text x="1282.3" y="144.8" font-size="12.6" font-weight="bold" fill="#222">BOUNDARIES OF TECTONIC ELEMENTS</text>
<line x1="1283.3" y1="167.6" x2="1318.3" y2="167.6" stroke="#808080" stroke-width="2.4"/>
<rect x="1291.3" y="164.2" width="18" height="3.4" fill="#808080"/>
<text x="1326.3" y="171.8" font-size="12.6" fill="#222">superorder tectonic elements</text>
<line x1="1283.3" y1="191.6" x2="1318.3" y2="191.6" stroke="#808080" stroke-width="1.5"/>
<path d="M1286.3,189.2h10v2.4h-10z M1305.3,189.2h10v2.4h-10z" fill="#808080"/>
<text x="1326.3" y="195.8" font-size="12.6" fill="#222">tectonic elements of the 1st order</text>
<rect x="928.8" y="812.4" width="231.1" height="83.8" fill="#fff" stroke="#222" stroke-width="1.3"/>
<text x="1044.3" y="828" font-size="12.6" text-anchor="middle" fill="#111">Scale of intensity of the anomalous</text>
<text x="1044.3" y="842.3" font-size="12.6" text-anchor="middle" fill="#111">gravitational field,</text>
<text x="1044.3" y="856.8" font-size="12.6" text-anchor="middle" fill="#111">mGal</text>
<text x="944.3" y="876.8" font-size="12.5" text-anchor="middle" fill="#111">20</text>
<text x="1046.8" y="876.8" font-size="12.5" text-anchor="middle" fill="#111">0</text>
<text x="1154" y="876.8" font-size="12.5" text-anchor="end" fill="#111">-35</text>
<linearGradient id="cbb" x1="0" x2="1" y1="0" y2="0"><stop offset="0%" stop-color="#BD5B17"/><stop offset="5%" stop-color="#C36621"/><stop offset="10%" stop-color="#CA722C"/><stop offset="15%" stop-color="#D07F39"/><stop offset="20%" stop-color="#D88F49"/><stop offset="25%" stop-color="#DF9F58"/><stop offset="30%" stop-color="#E6B06A"/><stop offset="35%" stop-color="#ECC17C"/><stop offset="40%" stop-color="#F2D390"/><stop offset="45%" stop-color="#F8E6A6"/><stop offset="50%" stop-color="#FDFBBE"/><stop offset="55%" stop-color="#EAF4BB"/><stop offset="60%" stop-color="#D6EBB8"/><stop offset="65%" stop-color="#BFE2B5"/><stop offset="70%" stop-color="#A6D7B2"/><stop offset="75%" stop-color="#8DCCAE"/><stop offset="80%" stop-color="#71BEAA"/><stop offset="85%" stop-color="#55B0A5"/><stop offset="90%" stop-color="#3AA19E"/><stop offset="95%" stop-color="#229395"/><stop offset="100%" stop-color="#0D878C"/></linearGradient>
<rect x="943.8" y="882.4" width="201.2" height="7.8" fill="url(#cbb)" stroke="#333" stroke-width="0.8"/>
<rect x="1219.6" y="858.4" width="232.4" height="37.9" fill="#fff" stroke="#222" stroke-width="1.3"/>
<text x="1229.3" y="876" font-size="12" text-anchor="middle" fill="#111">0</text>
<text x="1265.8" y="876" font-size="12" text-anchor="middle" fill="#111">20</text>
<text x="1302.7" y="876" font-size="12" text-anchor="middle" fill="#111">40</text>
<text x="1338.8" y="876" font-size="12" text-anchor="middle" fill="#111">60</text>
<text x="1375.6" y="876" font-size="12" text-anchor="middle" fill="#111">80</text>
<text x="1412" y="876" font-size="12" text-anchor="middle" fill="#111">100</text>
<text x="1435.6" y="876" font-size="12" text-anchor="middle" fill="#333">km</text>
<rect x="1229.3" y="882.2" width="183.2" height="8.5" fill="#000"/>
<rect x="1237.3" y="883.3" width="7" height="6.3" fill="#fff"/>
<rect x="1252.3" y="883.3" width="6" height="6.3" fill="#fff"/>
<rect x="1267.3" y="883.3" width="35" height="6.3" fill="#fff"/>
<rect x="1339.3" y="883.3" width="36" height="6.3" fill="#fff"/></g>
<rect x="130.5" y="990.5" width="1441" height="580.5" fill="none" stroke="#333" stroke-width="1.4"/>
<text x="451" y="1021.5" font-size="18" text-anchor="middle" fill="#333">V</text>
<text x="507.5" y="1021.5" font-size="18" text-anchor="middle" fill="#333">Y</text>
<text x="565" y="1021.5" font-size="18" text-anchor="middle" fill="#333">C</text>
<text x="622.5" y="1021.5" font-size="18" text-anchor="middle" fill="#333">H</text>
<text x="680" y="1021.5" font-size="18" text-anchor="middle" fill="#333">E</text>
<text x="737.5" y="1021.5" font-size="18" text-anchor="middle" fill="#333">G</text>
<text x="796" y="1021.5" font-size="18" text-anchor="middle" fill="#333">D</text>
<text x="853" y="1021.5" font-size="18" text-anchor="middle" fill="#333">A</text>
<text x="959" y="1021.5" font-size="18" text-anchor="middle" fill="#333">T</text>
<text x="1015.5" y="1021.5" font-size="18" text-anchor="middle" fill="#333">R</text>
<text x="1074" y="1021.5" font-size="18" text-anchor="middle" fill="#333">O</text>
<text x="1132" y="1021.5" font-size="18" text-anchor="middle" fill="#333">U</text>
<text x="1190.5" y="1021.5" font-size="18" text-anchor="middle" fill="#333">G</text>
<text x="1248" y="1021.5" font-size="18" text-anchor="middle" fill="#333">H</text>
<line x1="151" y1="1029.5" x2="1551" y2="1029.5" stroke="#222" stroke-width="1.3"/>
<path d="M148,1029.5 l10,-3.8 v7.6z M1555,1029.5 l-10,-3.8 v7.6z" fill="#222"/>
<line x1="150" y1="1126.5" x2="1552" y2="1126.5" stroke="#222" stroke-width="1.3"/>
<path d="M149,1126.5 l9,-3.6 v7.2z M248,1126.5 l-9,-3.6 v7.2z" fill="#222"/>
<path d="M249,1126.5 l9,-3.6 v7.2z M373,1126.5 l-9,-3.6 v7.2z" fill="#222"/>
<path d="M374,1126.5 l9,-3.6 v7.2z M502.5,1126.5 l-9,-3.6 v7.2z" fill="#222"/>
<path d="M503.5,1126.5 l9,-3.6 v7.2z M815.5,1126.5 l-9,-3.6 v7.2z" fill="#222"/>
<path d="M816.5,1126.5 l9,-3.6 v7.2z M911.5,1126.5 l-9,-3.6 v7.2z" fill="#222"/>
<path d="M912.5,1126.5 l9,-3.6 v7.2z M1125,1126.5 l-9,-3.6 v7.2z" fill="#222"/>
<path d="M1126,1126.5 l9,-3.6 v7.2z M1267,1126.5 l-9,-3.6 v7.2z" fill="#222"/>
<path d="M1268,1126.5 l9,-3.6 v7.2z M1463.5,1126.5 l-9,-3.6 v7.2z" fill="#222"/>
<path d="M1464.5,1126.5 l9,-3.6 v7.2z M1553,1126.5 l-9,-3.6 v7.2z" fill="#222"/>
<line x1="248.5" y1="1107.5" x2="248.5" y2="1154" stroke="#222" stroke-width="1.3"/>
<line x1="373.5" y1="1107.5" x2="373.5" y2="1154" stroke="#222" stroke-width="1.3"/>
<line x1="503" y1="1107.5" x2="503" y2="1154" stroke="#222" stroke-width="1.3"/>
<line x1="816" y1="1107.5" x2="816" y2="1154" stroke="#222" stroke-width="1.3"/>
<line x1="912" y1="1107.5" x2="912" y2="1154" stroke="#222" stroke-width="1.3"/>
<line x1="1125.5" y1="1107.5" x2="1125.5" y2="1154" stroke="#222" stroke-width="1.3"/>
<line x1="1267.5" y1="1107.5" x2="1267.5" y2="1154" stroke="#222" stroke-width="1.3"/>
<line x1="1464" y1="1107.5" x2="1464" y2="1154" stroke="#222" stroke-width="1.3"/>
<text x="198.5" y="1100" font-size="16.4" text-anchor="middle" fill="#333">Yuromka</text>
<text x="198.5" y="1118.5" font-size="16.4" text-anchor="middle" fill="#333">stage</text>
<text x="311" y="1100" font-size="16.4" text-anchor="middle" fill="#333">Vishera</text>
<text x="311" y="1118.5" font-size="16.4" text-anchor="middle" fill="#333">trough</text>
<text x="438" y="1100" font-size="16.4" text-anchor="middle" fill="#333">Storozhevsk</text>
<text x="438" y="1118.5" font-size="16.4" text-anchor="middle" fill="#333">uplift</text>
<text x="659.5" y="1109" font-size="16.4" text-anchor="middle" fill="#333">Nivshera depression</text>
<text x="866" y="1060" font-size="16.4" text-anchor="middle" fill="#333">Keltma swell</text>
<text x="866" y="1078.5" font-size="16.4" text-anchor="middle" fill="#333">(northern periclinal)</text>
<text x="1018" y="1109" font-size="16.4" text-anchor="middle" fill="#333">Nem depression</text>
<text x="1196" y="1060" font-size="16.4" text-anchor="middle" fill="#333">Keltma swell</text>
<text x="1196" y="1078.5" font-size="16.4" text-anchor="middle" fill="#333">(southeastern periclinal)</text>
<text x="1365" y="1100" font-size="16.4" text-anchor="middle" fill="#333">Pivju-Keltma</text>
<text x="1365" y="1118.5" font-size="16.4" text-anchor="middle" fill="#333">stage</text>
<text x="1507" y="1100" font-size="16.4" text-anchor="middle" fill="#333">Cherdyn</text>
<text x="1507" y="1118.5" font-size="16.4" text-anchor="middle" fill="#333">high</text>
<text x="136" y="1151" font-size="16" fill="#333">NW</text>
<text x="1535" y="1153" font-size="16" fill="#333">SE</text>
<line x1="125.5" y1="1133.3" x2="130.5" y2="1133.3" stroke="#333" stroke-width="1.3"/>
<text x="121" y="1138.9" font-size="16" text-anchor="end" fill="#333">m 1000</text>
<line x1="125.5" y1="1165" x2="130.5" y2="1165" stroke="#333" stroke-width="1.3"/>
<text x="121" y="1170.6" font-size="16" text-anchor="end" fill="#333">0</text>
<line x1="125.5" y1="1196.7" x2="130.5" y2="1196.7" stroke="#333" stroke-width="1.3"/>
<text x="121" y="1202.3" font-size="16" text-anchor="end" fill="#333">1000</text>
<line x1="125.5" y1="1228.4" x2="130.5" y2="1228.4" stroke="#333" stroke-width="1.3"/>
<text x="121" y="1234" font-size="16" text-anchor="end" fill="#333">2000</text>
<line x1="125.5" y1="1260.1" x2="130.5" y2="1260.1" stroke="#333" stroke-width="1.3"/>
<text x="121" y="1265.7" font-size="16" text-anchor="end" fill="#333">3000</text>
<line x1="125.5" y1="1291.8" x2="130.5" y2="1291.8" stroke="#333" stroke-width="1.3"/>
<text x="121" y="1297.4" font-size="16" text-anchor="end" fill="#333">4000</text>
<line x1="125.5" y1="1323.5" x2="130.5" y2="1323.5" stroke="#333" stroke-width="1.3"/>
<text x="121" y="1329.1" font-size="16" text-anchor="end" fill="#333">5000</text>
<line x1="125.5" y1="1355.2" x2="130.5" y2="1355.2" stroke="#333" stroke-width="1.3"/>
<text x="121" y="1360.8" font-size="16" text-anchor="end" fill="#333">6000</text>
<line x1="125.5" y1="1386.9" x2="130.5" y2="1386.9" stroke="#333" stroke-width="1.3"/>
<text x="121" y="1392.5" font-size="16" text-anchor="end" fill="#333">7000</text>
<line x1="125.5" y1="1418.6" x2="130.5" y2="1418.6" stroke="#333" stroke-width="1.3"/>
<text x="121" y="1424.2" font-size="16" text-anchor="end" fill="#333">8000</text>
<line x1="125.5" y1="1450.3" x2="130.5" y2="1450.3" stroke="#333" stroke-width="1.3"/>
<text x="121" y="1455.9" font-size="16" text-anchor="end" fill="#333">9000</text>
<line x1="125.5" y1="1482" x2="130.5" y2="1482" stroke="#333" stroke-width="1.3"/>
<text x="121" y="1487.6" font-size="16" text-anchor="end" fill="#333">10,000</text>
<line x1="125.5" y1="1513.7" x2="130.5" y2="1513.7" stroke="#333" stroke-width="1.3"/>
<text x="121" y="1519.3" font-size="16" text-anchor="end" fill="#333">11,000</text>
<line x1="125.5" y1="1545.4" x2="130.5" y2="1545.4" stroke="#333" stroke-width="1.3"/>
<text x="121" y="1551" font-size="16" text-anchor="end" fill="#333">12,000</text>
<line x1="147.6" y1="1571" x2="147.6" y2="1576" stroke="#333" stroke-width="1.3"/>
<text x="147.6" y="1591.5" font-size="16" text-anchor="middle" fill="#333">0</text>
<line x1="440.9" y1="1571" x2="440.9" y2="1576" stroke="#333" stroke-width="1.3"/>
<text x="440.9" y="1591.5" font-size="16" text-anchor="middle" fill="#333">100,000</text>
<line x1="734.3" y1="1571" x2="734.3" y2="1576" stroke="#333" stroke-width="1.3"/>
<text x="734.3" y="1591.5" font-size="16" text-anchor="middle" fill="#333">200,000</text>
<line x1="1027.6" y1="1571" x2="1027.6" y2="1576" stroke="#333" stroke-width="1.3"/>
<text x="1027.6" y="1591.5" font-size="16" text-anchor="middle" fill="#333">300,000</text>
<line x1="1320.9" y1="1571" x2="1320.9" y2="1576" stroke="#333" stroke-width="1.3"/>
<text x="1289.9" y="1591.5" font-size="16" fill="#333">400,000 m</text>
<path d="M148.5,1157 V1549.2 L1553.8,1551.4 V1156.5" fill="none" stroke="#1a1a1a" stroke-width="1.2"/>
<path d="M148.5,1158.7 L150,1158.9 L151.5,1158.5 L156,1159.1 L157.5,1158.4 L160.5,1158.3 L162,1158.7 L163.5,1158.3 L166.5,1158.9 L168,1158.5 L169.5,1158.9 L171,1158.8 L172.5,1158.3 L174,1158.8 L175.5,1158.5 L178.5,1158.5 L180,1158.9 L183,1158.4 L186,1159 L189,1158.5 L193.5,1159.2 L195,1158.9 L198,1159.1 L201,1158.4 L202.5,1158.9 L207,1158.5 L214.5,1158.7 L216,1159.1 L220.5,1158.6 L225,1158.5 L226.5,1158.8 L228,1158.4 L229.5,1158.8 L231,1158.7 L237,1159 L238.5,1158.7 L240,1158.9 L241.5,1158.6 L243,1158.9 L247.5,1158.4 L249,1158.6 L250.5,1159.2 L252,1158.6 L253.5,1159 L259.5,1158.9 L261,1158.4 L268.5,1158.5 L270,1158.9 L271.5,1158.5 L273,1159.2 L276,1158.9 L277.5,1159 L279,1158.6 L280.5,1159.2 L285,1158.8 L286.5,1159.1 L289.5,1159 L291,1159.2 L294,1158.7 L295.5,1158.9 L298.5,1158.6 L300,1159 L304.5,1159.2 L307.5,1158.5 L310.5,1159.2 L319.5,1158.5 L321,1159.2 L324,1158.5 L325.5,1158.8 L327,1158.5 L330,1159.1 L334.5,1158.7 L337.5,1159.3 L340.5,1158.5 L343.5,1158.5 L345,1159.3 L346.5,1158.9 L348,1159.2 L349.5,1158.6 L354,1159.2 L357,1158.5 L358.5,1159.2 L360,1158.7 L361.5,1159.1 L363,1158.6 L366,1159.2 L369,1158.8 L370.5,1159.1 L372,1158.6 L376.5,1159.2 L378,1158.6 L379.5,1159.3 L382.5,1159.3 L385.5,1158.6 L387,1158.7 L388.5,1159.2 L394.5,1158.7 L396,1159.2 L397.5,1159.3 L399,1158.6 L400.5,1158.7 L402,1159.2 L403.5,1159.2 L405,1158.8 L409.5,1159 L411,1158.6 L412.5,1159.2 L414,1159 L415.5,1159.2 L417,1158.7 L418.5,1159.4 L421.5,1158.8 L423,1159.4 L426,1159.3 L427.5,1158.5 L429,1158.6 L430.5,1159.2 L432,1158.8 L433.5,1159 L435,1158.6 L436.5,1159.4 L438,1159 L439.5,1159.3 L441,1158.6 L442.5,1158.9 L444,1158.6 L445.5,1159.3 L448.5,1158.6 L450,1158.6 L451.5,1159 L453,1158.6 L460.5,1159.1 L462,1158.9 L463.5,1159.1 L465,1158.7 L468,1159.3 L469.5,1158.7 L474,1159 L475.5,1158.5 L478.5,1159 L480,1158.7 L483,1159.3 L489,1158.6 L490.5,1159 L493.5,1159.1 L495,1158.7 L496.5,1158.8 L498,1159.3 L499.5,1158.8 L502.5,1159.4 L504,1158.8 L505.5,1158.7 L507,1159.2 L510,1159.1 L511.5,1158.6 L513,1158.9 L514.5,1158.6 L517.5,1159.2 L519,1158.6 L520.5,1158.8 L522,1159.5 L523.5,1159.4 L525,1159 L529.5,1159 L531,1159.4 L532.5,1158.7 L534,1159.3 L535.5,1158.6 L537,1159.4 L540,1159 L544.5,1159.3 L546,1158.7 L550.5,1159.4 L552,1158.8 L553.5,1158.8 L555,1159.4 L558,1158.6 L559.5,1159.2 L561,1159 L562.5,1159.3 L568.5,1158.9 L570,1159.4 L574.5,1159.4 L576,1158.8 L577.5,1159.4 L582,1159.1 L583.5,1158.7 L585,1159.3 L586.5,1158.8 L588,1159.1 L591,1158.7 L592.5,1159.2 L598.5,1159.5 L600,1158.7 L601.5,1159.2 L607.5,1159.1 L609,1159.4 L610.5,1159 L613.5,1159.3 L615,1158.7 L616.5,1159 L621,1158.6 L628.5,1159.4 L630,1159.1 L631.5,1159.4 L633,1159 L634.5,1159.3 L639,1158.9 L640.5,1159.5 L642,1159.3 L643.5,1158.8 L646.5,1159.5 L648,1158.7 L651,1159.3 L652.5,1158.7 L654,1159.3 L658.5,1159.2 L660,1159.5 L661.5,1159 L663,1159.2 L664.5,1158.7 L666,1159.2 L667.5,1159 L669,1159.5 L670.5,1159.5 L672,1158.8 L676.5,1158.8 L678,1159.3 L682.5,1159.1 L684,1158.7 L687,1159.6 L691.5,1158.9 L693,1159.5 L694.5,1159.1 L696,1159.2 L697.5,1158.9 L702,1159 L703.5,1158.7 L705,1159.3 L706.5,1158.8 L711,1159.3 L714,1159 L715.5,1159.4 L718.5,1158.8 L720,1159.5 L721.5,1158.7 L723,1159.5 L724.5,1159 L726,1159 L727.5,1159.6 L729,1159.1 L730.5,1159.3 L732,1159.1 L733.5,1159.5 L738,1158.8 L741,1159.1 L742.5,1159 L744,1159.2 L745.5,1158.9 L753,1159.4 L756,1159.1 L757.5,1159.5 L759,1159 L762,1159.6 L766.5,1159 L769.5,1159.3 L774,1159.1 L775.5,1158.8 L778.5,1158.9 L781.5,1159.6 L783,1158.9 L784.5,1158.8 L786,1159.4 L787.5,1159 L789,1159.2 L790.5,1158.8 L793.5,1159.4 L798,1159.6 L799.5,1159.1 L805.5,1159.1 L807,1159.6 L810,1158.9 L813,1159.6 L816,1159.2 L817.5,1158.8 L819,1159.5 L825,1159.1 L826.5,1159.4 L828,1158.8 L829.5,1159.4 L832.5,1158.8 L834,1159.5 L837,1158.8 L838.5,1158.9 L840,1159.5 L841.5,1158.8 L843,1159.4 L844.5,1159.4 L846,1158.8 L849,1159.4 L850.5,1159.1 L852,1159.4 L853.5,1159 L855,1159.2 L856.5,1158.8 L858,1159.4 L864,1158.9 L865.5,1159.2 L867,1158.7 L868.5,1159.1 L873,1158.9 L874.5,1159.3 L876,1158.7 L880.5,1158.6 L883.5,1159.3 L885,1159.4 L888,1158.9 L889.5,1159.3 L894,1159.1 L895.5,1158.6 L897,1159.3 L898.5,1158.6 L901.5,1159.4 L904.5,1158.8 L907.5,1159.3 L910.5,1158.5 L912,1159.3 L913.5,1158.5 L916.5,1159.3 L918,1158.6 L921,1159.1 L922.5,1158.6 L930,1158.7 L931.5,1159.1 L937.5,1159.1 L939,1158.5 L940.5,1158.9 L942,1158.4 L945,1159.2 L949.5,1158.6 L954,1159.2 L955.5,1159 L957,1159.2 L960,1158.6 L966,1158.9 L969,1158.5 L970.5,1159.2 L972,1158.5 L973.5,1159.2 L975,1158.4 L976.5,1159.2 L978,1158.6 L979.5,1159 L981,1158.3 L982.5,1158.7 L984,1158.5 L985.5,1158.9 L988.5,1158.7 L991.5,1159.1 L993,1158.3 L996,1158.8 L999,1158.4 L1000.5,1159 L1002,1158.4 L1003.5,1158.9 L1006.5,1158.3 L1008,1158.8 L1009.5,1158.2 L1011,1158.8 L1012.5,1158.6 L1015.5,1158.7 L1018.5,1158.1 L1021.5,1158 L1023,1158.5 L1024.5,1158 L1030.5,1158.5 L1035,1157.9 L1038,1158 L1039.5,1158.4 L1041,1157.8 L1042.5,1158.3 L1045.5,1158.2 L1047,1157.7 L1053,1157.9 L1054.5,1158.5 L1060.5,1157.8 L1062,1158.4 L1065,1157.7 L1066.5,1158.1 L1068,1157.7 L1069.5,1158.2 L1072.5,1157.7 L1078.5,1157.8 L1081.5,1157.6 L1083,1157.9 L1084.5,1157.7 L1087.5,1157.9 L1090.5,1157.3 L1092,1157.8 L1093.5,1157.5 L1095,1157.7 L1096.5,1157.3 L1101,1157.7 L1102.5,1157.2 L1104,1157.8 L1108.5,1157.7 L1111.5,1157.1 L1117.5,1157.6 L1119,1157.2 L1120.5,1157.7 L1123.5,1157 L1125,1157.4 L1128,1157.1 L1131,1157.7 L1134,1157 L1135.5,1157.6 L1137,1156.9 L1140,1157 L1141.5,1157.5 L1143,1156.6 L1144.5,1157.2 L1147.5,1156.7 L1150.5,1157.3 L1152,1157.2 L1153.5,1156.6 L1155,1157.2 L1156.5,1156.8 L1158,1157.2 L1161,1156.5 L1162.5,1156.9 L1165.5,1156.5 L1168.5,1156.3 L1170,1155.8 L1171.5,1156.5 L1173,1155.8 L1176,1155.4 L1177.5,1155.9 L1179,1156 L1180.5,1155.5 L1182,1155.7 L1183.5,1155.3 L1189.5,1155.7 L1192.5,1155.4 L1194,1156 L1195.5,1155.7 L1200,1155.7 L1201.5,1156.3 L1203,1156.1 L1204.5,1156.6 L1206,1155.9 L1207.5,1156.7 L1209,1156 L1212,1156.1 L1213.5,1156.6 L1216.5,1156.5 L1218,1157.2 L1219.5,1156.9 L1222.5,1157.3 L1224,1156.8 L1225.5,1157.2 L1227,1156.8 L1230,1157.4 L1234.5,1157 L1236,1157.6 L1239,1157.5 L1240.5,1157.1 L1242,1157.7 L1245,1157.1 L1249.5,1157.8 L1252.5,1157.2 L1254,1157.6 L1255.5,1157.1 L1257,1157.5 L1260,1157 L1261.5,1157.4 L1264.5,1157.8 L1267.5,1157.2 L1269,1157.5 L1270.5,1157.2 L1272,1157.5 L1275,1157.5 L1276.5,1157.1 L1278,1157.6 L1281,1157.6 L1282.5,1157 L1284,1157.6 L1285.5,1157.8 L1288.5,1157.1 L1290,1157.8 L1293,1157.2 L1296,1157.7 L1297.5,1157 L1302,1157.8 L1303.5,1157 L1306.5,1157.6 L1314,1157.6 L1315.5,1157.2 L1317,1157.9 L1320,1157.2 L1321.5,1157.9 L1324.5,1157.8 L1326,1157.3 L1327.5,1157.9 L1329,1157.6 L1330.5,1158.1 L1332,1157.5 L1336.5,1157.5 L1339.5,1158.2 L1342.5,1157.9 L1344,1158.5 L1345.5,1158.3 L1347,1158.6 L1348.5,1158 L1350,1157.9 L1351.5,1158.7 L1353,1157.9 L1354.5,1158.6 L1363.5,1158.1 L1366.5,1158.5 L1368,1158.3 L1369.5,1159 L1371,1159.1 L1372.5,1158.5 L1375.5,1159.1 L1378.5,1158.7 L1380,1159.1 L1384.5,1159.1 L1386,1158.7 L1387.5,1159.1 L1389,1158.8 L1390.5,1159.2 L1392,1158.8 L1393.5,1159.4 L1395,1159 L1396.5,1159.6 L1398,1158.9 L1402.5,1159.6 L1407,1159.2 L1408.5,1159.7 L1413,1159.3 L1414.5,1159.7 L1417.5,1158.9 L1419,1158.9 L1420.5,1159.5 L1425,1159.1 L1426.5,1158.7 L1428,1159.4 L1429.5,1159 L1432.5,1159 L1434,1158.7 L1435.5,1159.5 L1437,1159.4 L1438.5,1158.6 L1441.5,1158.8 L1443,1159.4 L1444.5,1158.9 L1446,1159.3 L1447.5,1158.7 L1450.5,1159.1 L1453.5,1158.6 L1456.5,1158.9 L1461,1158.4 L1462.5,1158.9 L1464,1158.4 L1467,1158.4 L1468.5,1159 L1470,1159 L1473,1158.3 L1476,1158.8 L1477.5,1158.5 L1483.5,1158.7 L1486.5,1158 L1489.5,1158.7 L1492.5,1158 L1494,1158.6 L1498.5,1158.3 L1500,1158.5 L1501.5,1157.9 L1504.5,1158.5 L1513.5,1157.7 L1515,1158.3 L1522.5,1157.6 L1524,1158 L1527,1157.6 L1528.5,1158.1 L1530,1157.4 L1531.5,1158.1 L1533,1157.6 L1536,1157.9 L1537.5,1157.8 L1539,1157.2 L1540.5,1157.7 L1543.5,1157.4 L1546.5,1157.7 L1552.5,1157.1 L1553.8,1157.5 L1553.8,1551.4 L148.5,1549.2Z" fill="#FFFF00"/>
<path d="M148.5,1158.7 L150,1158.9 L151.5,1158.5 L156,1159.1 L157.5,1158.4 L160.5,1158.3 L162,1158.7 L163.5,1158.3 L166.5,1158.9 L168,1158.5 L169.5,1158.9 L171,1158.8 L172.5,1158.3 L174,1158.8 L175.5,1158.5 L178.5,1158.5 L180,1158.9 L183,1158.4 L186,1159 L189,1158.5 L193.5,1159.2 L195,1158.9 L198,1159.1 L201,1158.4 L202.5,1158.9 L207,1158.5 L214.5,1158.7 L216,1159.1 L220.5,1158.6 L225,1158.5 L226.5,1158.8 L228,1158.4 L229.5,1158.8 L231,1158.7 L237,1159 L238.5,1158.7 L240,1158.9 L241.5,1158.6 L243,1158.9 L247.5,1158.4 L249,1158.6 L250.5,1159.2 L252,1158.6 L253.5,1159 L259.5,1158.9 L261,1158.4 L268.5,1158.5 L270,1158.9 L271.5,1158.5 L273,1159.2 L276,1158.9 L277.5,1159 L279,1158.6 L280.5,1159.2 L285,1158.8 L286.5,1159.1 L289.5,1159 L291,1159.2 L294,1158.7 L295.5,1158.9 L298.5,1158.6 L300,1159 L304.5,1159.2 L307.5,1158.5 L310.5,1159.2 L319.5,1158.5 L321,1159.2 L324,1158.5 L325.5,1158.8 L327,1158.5 L330,1159.1 L334.5,1158.7 L337.5,1159.3 L340.5,1158.5 L343.5,1158.5 L345,1159.3 L346.5,1158.9 L348,1159.2 L349.5,1158.6 L354,1159.2 L357,1158.5 L358.5,1159.2 L360,1158.7 L361.5,1159.1 L363,1158.6 L366,1159.2 L369,1158.8 L370.5,1159.1 L372,1158.6 L376.5,1159.2 L378,1158.6 L379.5,1159.3 L382.5,1159.3 L385.5,1158.6 L387,1158.7 L388.5,1159.2 L394.5,1158.7 L396,1159.2 L397.5,1159.3 L399,1158.6 L400.5,1158.7 L402,1159.2 L403.5,1159.2 L405,1158.8 L409.5,1159 L411,1158.6 L412.5,1159.2 L414,1159 L415.5,1159.2 L417,1158.7 L418.5,1159.4 L421.5,1158.8 L423,1159.4 L426,1159.3 L427.5,1158.5 L429,1158.6 L430.5,1159.2 L432,1158.8 L433.5,1159 L435,1158.6 L436.5,1159.4 L438,1159 L439.5,1159.3 L441,1158.6 L442.5,1158.9 L444,1158.6 L445.5,1159.3 L448.5,1158.6 L450,1158.6 L451.5,1159 L453,1158.6 L460.5,1159.1 L462,1158.9 L463.5,1159.1 L465,1158.7 L468,1159.3 L469.5,1158.7 L474,1159 L475.5,1158.5 L478.5,1159 L480,1158.7 L483,1159.3 L489,1158.6 L490.5,1159 L493.5,1159.1 L495,1158.7 L496.5,1158.8 L498,1159.3 L499.5,1158.8 L502.5,1159.4 L504,1158.8 L505.5,1158.7 L507,1159.2 L510,1159.1 L511.5,1158.6 L513,1158.9 L514.5,1158.6 L517.5,1159.2 L519,1158.6 L520.5,1158.8 L522,1159.5 L523.5,1159.4 L525,1159 L529.5,1159 L531,1159.4 L532.5,1158.7 L534,1159.3 L535.5,1158.6 L537,1159.4 L540,1159 L544.5,1159.3 L546,1158.7 L550.5,1159.4 L552,1158.8 L553.5,1158.8 L555,1159.4 L558,1158.6 L559.5,1159.2 L561,1159 L562.5,1159.3 L568.5,1158.9 L570,1159.4 L574.5,1159.4 L576,1158.8 L577.5,1159.4 L582,1159.1 L583.5,1158.7 L585,1159.3 L586.5,1158.8 L588,1159.1 L591,1158.7 L592.5,1159.2 L598.5,1159.5 L600,1158.7 L601.5,1159.2 L607.5,1159.1 L609,1159.4 L610.5,1159 L613.5,1159.3 L615,1158.7 L616.5,1159 L621,1158.6 L628.5,1159.4 L630,1159.1 L631.5,1159.4 L633,1159 L634.5,1159.3 L639,1158.9 L640.5,1159.5 L642,1159.3 L643.5,1158.8 L646.5,1159.5 L648,1158.7 L651,1159.3 L652.5,1158.7 L654,1159.3 L658.5,1159.2 L660,1159.5 L661.5,1159 L663,1159.2 L664.5,1158.7 L666,1159.2 L667.5,1159 L669,1159.5 L670.5,1159.5 L672,1158.8 L676.5,1158.8 L678,1159.3 L682.5,1159.1 L684,1158.7 L687,1159.6 L691.5,1158.9 L693,1159.5 L694.5,1159.1 L696,1159.2 L697.5,1158.9 L702,1159 L703.5,1158.7 L705,1159.3 L706.5,1158.8 L711,1159.3 L714,1159 L715.5,1159.4 L718.5,1158.8 L720,1159.5 L721.5,1158.7 L723,1159.5 L724.5,1159 L726,1159 L727.5,1159.6 L729,1159.1 L730.5,1159.3 L732,1159.1 L733.5,1159.5 L738,1158.8 L741,1159.1 L742.5,1159 L744,1159.2 L745.5,1158.9 L753,1159.4 L756,1159.1 L757.5,1159.5 L759,1159 L762,1159.6 L766.5,1159 L769.5,1159.3 L774,1159.1 L775.5,1158.8 L778.5,1158.9 L781.5,1159.6 L783,1158.9 L784.5,1158.8 L786,1159.4 L787.5,1159 L789,1159.2 L790.5,1158.8 L793.5,1159.4 L798,1159.6 L799.5,1159.1 L805.5,1159.1 L807,1159.6 L810,1158.9 L813,1159.6 L816,1159.2 L817.5,1158.8 L819,1159.5 L825,1159.1 L826.5,1159.4 L828,1158.8 L829.5,1159.4 L832.5,1158.8 L834,1159.5 L837,1158.8 L838.5,1158.9 L840,1159.5 L841.5,1158.8 L843,1159.4 L844.5,1159.4 L846,1158.8 L849,1159.4 L850.5,1159.1 L852,1159.4 L853.5,1159 L855,1159.2 L856.5,1158.8 L858,1159.4 L864,1158.9 L865.5,1159.2 L867,1158.7 L868.5,1159.1 L873,1158.9 L874.5,1159.3 L876,1158.7 L880.5,1158.6 L883.5,1159.3 L885,1159.4 L888,1158.9 L889.5,1159.3 L894,1159.1 L895.5,1158.6 L897,1159.3 L898.5,1158.6 L901.5,1159.4 L904.5,1158.8 L907.5,1159.3 L910.5,1158.5 L912,1159.3 L913.5,1158.5 L916.5,1159.3 L918,1158.6 L921,1159.1 L922.5,1158.6 L930,1158.7 L931.5,1159.1 L937.5,1159.1 L939,1158.5 L940.5,1158.9 L942,1158.4 L945,1159.2 L949.5,1158.6 L954,1159.2 L955.5,1159 L957,1159.2 L960,1158.6 L966,1158.9 L969,1158.5 L970.5,1159.2 L972,1158.5 L973.5,1159.2 L975,1158.4 L976.5,1159.2 L978,1158.6 L979.5,1159 L981,1158.3 L982.5,1158.7 L984,1158.5 L985.5,1158.9 L988.5,1158.7 L991.5,1159.1 L993,1158.3 L996,1158.8 L999,1158.4 L1000.5,1159 L1002,1158.4 L1003.5,1158.9 L1006.5,1158.3 L1008,1158.8 L1009.5,1158.2 L1011,1158.8 L1012.5,1158.6 L1015.5,1158.7 L1018.5,1158.1 L1021.5,1158 L1023,1158.5 L1024.5,1158 L1030.5,1158.5 L1035,1157.9 L1038,1158 L1039.5,1158.4 L1041,1157.8 L1042.5,1158.3 L1045.5,1158.2 L1047,1157.7 L1053,1157.9 L1054.5,1158.5 L1060.5,1157.8 L1062,1158.4 L1065,1157.7 L1066.5,1158.1 L1068,1157.7 L1069.5,1158.2 L1072.5,1157.7 L1078.5,1157.8 L1081.5,1157.6 L1083,1157.9 L1084.5,1157.7 L1087.5,1157.9 L1090.5,1157.3 L1092,1157.8 L1093.5,1157.5 L1095,1157.7 L1096.5,1157.3 L1101,1157.7 L1102.5,1157.2 L1104,1157.8 L1108.5,1157.7 L1111.5,1157.1 L1117.5,1157.6 L1119,1157.2 L1120.5,1157.7 L1123.5,1157 L1125,1157.4 L1128,1157.1 L1131,1157.7 L1134,1157 L1135.5,1157.6 L1137,1156.9 L1140,1157 L1141.5,1157.5 L1143,1156.6 L1144.5,1157.2 L1147.5,1156.7 L1150.5,1157.3 L1152,1157.2 L1153.5,1156.6 L1155,1157.2 L1156.5,1156.8 L1158,1157.2 L1161,1156.5 L1162.5,1156.9 L1165.5,1156.5 L1168.5,1156.3 L1170,1155.8 L1171.5,1156.5 L1173,1155.8 L1176,1155.4 L1177.5,1155.9 L1179,1156 L1180.5,1155.5 L1182,1155.7 L1183.5,1155.3 L1189.5,1155.7 L1192.5,1155.4 L1194,1156 L1195.5,1155.7 L1200,1155.7 L1201.5,1156.3 L1203,1156.1 L1204.5,1156.6 L1206,1155.9 L1207.5,1156.7 L1209,1156 L1212,1156.1 L1213.5,1156.6 L1216.5,1156.5 L1218,1157.2 L1219.5,1156.9 L1222.5,1157.3 L1224,1156.8 L1225.5,1157.2 L1227,1156.8 L1230,1157.4 L1234.5,1157 L1236,1157.6 L1239,1157.5 L1240.5,1157.1 L1242,1157.7 L1245,1157.1 L1249.5,1157.8 L1252.5,1157.2 L1254,1157.6 L1255.5,1157.1 L1257,1157.5 L1260,1157 L1261.5,1157.4 L1264.5,1157.8 L1267.5,1157.2 L1269,1157.5 L1270.5,1157.2 L1272,1157.5 L1275,1157.5 L1276.5,1157.1 L1278,1157.6 L1281,1157.6 L1282.5,1157 L1284,1157.6 L1285.5,1157.8 L1288.5,1157.1 L1290,1157.8 L1293,1157.2 L1296,1157.7 L1297.5,1157 L1302,1157.8 L1303.5,1157 L1306.5,1157.6 L1314,1157.6 L1315.5,1157.2 L1317,1157.9 L1320,1157.2 L1321.5,1157.9 L1324.5,1157.8 L1326,1157.3 L1327.5,1157.9 L1329,1157.6 L1330.5,1158.1 L1332,1157.5 L1336.5,1157.5 L1339.5,1158.2 L1342.5,1157.9 L1344,1158.5 L1345.5,1158.3 L1347,1158.6 L1348.5,1158 L1350,1157.9 L1351.5,1158.7 L1353,1157.9 L1354.5,1158.6 L1363.5,1158.1 L1366.5,1158.5 L1368,1158.3 L1369.5,1159 L1371,1159.1 L1372.5,1158.5 L1375.5,1159.1 L1378.5,1158.7 L1380,1159.1 L1384.5,1159.1 L1386,1158.7 L1387.5,1159.1 L1389,1158.8 L1390.5,1159.2 L1392,1158.8 L1393.5,1159.4 L1395,1159 L1396.5,1159.6 L1398,1158.9 L1402.5,1159.6 L1407,1159.2 L1408.5,1159.7 L1413,1159.3 L1414.5,1159.7 L1417.5,1158.9 L1419,1158.9 L1420.5,1159.5 L1425,1159.1 L1426.5,1158.7 L1428,1159.4 L1429.5,1159 L1432.5,1159 L1434,1158.7 L1435.5,1159.5 L1437,1159.4 L1438.5,1158.6 L1441.5,1158.8 L1443,1159.4 L1444.5,1158.9 L1446,1159.3 L1447.5,1158.7 L1450.5,1159.1 L1453.5,1158.6 L1456.5,1158.9 L1461,1158.4 L1462.5,1158.9 L1464,1158.4 L1467,1158.4 L1468.5,1159 L1470,1159 L1473,1158.3 L1476,1158.8 L1477.5,1158.5 L1483.5,1158.7 L1486.5,1158 L1489.5,1158.7 L1492.5,1158 L1494,1158.6 L1498.5,1158.3 L1500,1158.5 L1501.5,1157.9 L1504.5,1158.5 L1513.5,1157.7 L1515,1158.3 L1522.5,1157.6 L1524,1158 L1527,1157.6 L1528.5,1158.1 L1530,1157.4 L1531.5,1158.1 L1533,1157.6 L1536,1157.9 L1537.5,1157.8 L1539,1157.2 L1540.5,1157.7 L1543.5,1157.4 L1546.5,1157.7 L1552.5,1157.1 L1553.8,1157.5" fill="none" stroke="#5a4a00" stroke-width="1.2"/>
<path d="M148.5,1163.5 L150,1162.7 L151.5,1163.2 L154.5,1163.3 L159,1162.9 L160.5,1163.4 L163.5,1163.4 L165,1162.9 L168,1162.9 L169.5,1163.3 L171,1162.9 L172.5,1163.3 L178.5,1162.9 L181.5,1163.3 L183,1162.9 L186,1163.5 L190.5,1163.6 L192,1162.9 L193.5,1162.9 L195,1163.5 L198,1162.8 L199.5,1163.3 L202.5,1162.9 L204,1163.5 L205.5,1163.1 L207,1163.6 L208.5,1163 L210,1162.8 L211.5,1163.5 L213,1163 L214.5,1163.5 L216,1163.1 L217.5,1163.3 L219,1162.8 L223.5,1163.6 L229.5,1163.6 L231,1162.9 L234,1162.9 L235.5,1163.3 L238.5,1162.8 L249,1163.5 L250.5,1163.1 L252,1163.6 L253.5,1163.1 L256.5,1163.1 L259.5,1163.4 L264,1162.8 L270,1162.9 L273,1163.4 L277.5,1163.1 L279,1163.6 L282,1163.3 L283.5,1163.5 L285,1163.1 L288,1163.1 L289.5,1163.6 L291,1163.3 L292.5,1163.6 L295.5,1162.9 L300,1163.6 L303,1163.1 L307.5,1163.7 L310.5,1162.8 L312,1163.7 L313.5,1162.9 L316.5,1163.7 L324,1163.1 L325.5,1163.5 L328.5,1162.9 L331.5,1162.9 L333,1163.6 L334.5,1163.1 L336,1163 L337.5,1163.4 L339,1163.1 L340.5,1163.5 L348,1163.2 L349.5,1163.5 L351,1162.9 L355.5,1163.5 L360,1163 L361.5,1163.3 L363,1163.1 L364.5,1163.5 L369,1163.4 L370.5,1163.7 L376.5,1162.9 L379.5,1163.5 L382.5,1163 L384,1163.5 L387,1163.2 L388.5,1163.4 L390,1162.9 L391.5,1163.4 L393,1162.9 L396,1163.6 L399,1163.2 L400.5,1163.7 L402,1163.4 L403.5,1163.7 L405,1163.3 L408,1163.5 L409.5,1162.9 L414,1163.1 L415.5,1163.8 L418.5,1163.5 L420,1163.7 L421.5,1163.1 L423,1163.6 L426,1163.2 L429,1163.6 L433.5,1163.7 L435,1163.2 L436.5,1163.7 L438,1163.3 L439.5,1163.7 L442.5,1163.5 L444,1163.8 L447,1163.1 L448.5,1163.4 L450,1163.3 L451.5,1163.8 L453,1163.1 L454.5,1163.5 L457.5,1163 L459,1163.6 L462,1163.3 L463.5,1163.8 L465,1163 L466.5,1163.5 L468,1163.2 L474,1163.7 L475.5,1163 L478.5,1163.6 L480,1163.2 L481.5,1163.3 L483,1163.8 L484.5,1163.1 L489,1163.6 L490.5,1163 L492,1163.8 L493.5,1163 L495,1163 L496.5,1163.5 L498,1163 L501,1163.7 L504,1163.5 L505.5,1163.8 L507,1163.1 L508.5,1163.9 L511.5,1163.6 L513,1163 L514.5,1163.8 L516,1163.3 L519,1163.5 L520.5,1163.3 L522,1163.8 L523.5,1163.8 L526.5,1163.2 L529.5,1163.9 L531,1163.3 L532.5,1163.4 L534,1163.2 L537,1163.8 L540,1163 L543,1163.7 L546,1163.1 L549,1163.7 L552,1163 L553.5,1163.6 L555,1163.2 L562.5,1163.2 L564,1163.5 L565.5,1163.1 L567,1163.9 L570,1163.7 L571.5,1163.2 L573,1163.9 L574.5,1163.9 L576,1163.1 L580.5,1163.3 L583.5,1163.9 L586.5,1163.4 L589.5,1163.8 L598.5,1163.1 L600,1163.9 L601.5,1163.5 L604.5,1163.4 L606,1163.7 L607.5,1163.2 L609,1163.8 L610.5,1163.9 L612,1163.1 L613.5,1163.4 L615,1163.1 L616.5,1163.7 L619.5,1163.1 L621,1163.8 L622.5,1163.9 L624,1163.3 L625.5,1163.7 L627,1163.1 L628.5,1163.6 L631.5,1163.1 L634.5,1163.5 L636,1163.1 L637.5,1163.8 L639,1163.4 L643.5,1163.9 L651,1163.6 L652.5,1163.8 L654,1163.2 L655.5,1163.9 L657,1163.3 L664.5,1163.8 L666,1163.1 L670.5,1163.6 L672,1163.4 L673.5,1163.6 L676.5,1163.1 L678,1163.8 L682.5,1163.3 L684,1163.9 L687,1163.2 L690,1164 L691.5,1163.3 L697.5,1163.1 L700.5,1163.9 L703.5,1163.9 L705,1163.4 L706.5,1163.7 L708,1163.1 L709.5,1163.8 L711,1163.3 L712.5,1163.7 L714,1163.3 L718.5,1163.6 L721.5,1163.3 L724.5,1163.8 L726,1163.4 L727.5,1164 L729,1163.5 L732,1163.4 L733.5,1164 L735,1163.4 L738,1163.6 L739.5,1164 L741,1163.1 L742.5,1164 L744,1163.4 L745.5,1163.8 L747,1163.3 L748.5,1163.7 L754.5,1163.3 L756,1163.9 L759,1163.4 L760.5,1163.8 L768,1163.2 L772.5,1163.7 L777,1163.3 L780,1163.6 L781.5,1163.3 L783,1163.8 L784.5,1164 L787.5,1163.4 L789,1164 L790.5,1163.2 L792,1163.3 L793.5,1163.8 L795,1163.9 L798,1163.2 L799.5,1163.7 L801,1163.4 L802.5,1163.9 L804,1163.2 L805.5,1163.6 L807,1163.3 L808.5,1164 L816,1164 L817.5,1163.3 L820.5,1163.9 L822,1163.4 L825,1164 L826.5,1163.6 L828,1163.6 L831,1163.3 L832.5,1163.9 L834,1163.8 L835.5,1163.2 L837,1163.9 L838.5,1163.9 L840,1163.4 L841.5,1163.9 L843,1163.2 L844.5,1163.3 L846,1163.9 L853.5,1163.2 L856.5,1163.5 L858,1163.1 L859.5,1163.7 L861,1163.1 L862.5,1163.2 L864,1163.8 L867,1163.1 L868.5,1163.4 L871.5,1163.1 L873,1163.9 L874.5,1163.1 L876,1163.7 L879,1163.2 L880.5,1163.8 L883.5,1163 L886.5,1163.5 L894,1163.4 L895.5,1163.8 L898.5,1163.4 L900,1163.7 L901.5,1163.1 L904.5,1163.6 L906,1163.1 L909,1163.4 L910.5,1163 L912,1163.8 L913.5,1163.2 L915,1163.4 L916.5,1162.9 L918,1163.3 L919.5,1163.3 L921,1163.7 L922.5,1162.9 L924,1163.6 L925.5,1163 L927,1163.6 L933,1163.2 L934.5,1163.4 L937.5,1162.9 L939,1163.4 L943.5,1163 L945,1163.6 L948,1162.8 L949.5,1163.6 L951,1163 L955.5,1163.2 L958.5,1163 L960,1163.2 L961.5,1162.9 L963,1163.6 L964.5,1163 L969,1162.9 L970.5,1163.5 L972,1163.1 L975,1163.4 L976.5,1162.8 L979.5,1163.4 L981,1162.9 L982.5,1163.5 L985.5,1163.1 L987,1163.6 L988.5,1162.8 L990,1163.5 L991.5,1162.9 L993,1163.2 L994.5,1162.7 L997.5,1162.8 L1000.5,1163.5 L1002,1162.7 L1003.5,1162.6 L1006.5,1163.4 L1012.5,1163 L1014,1162.5 L1015.5,1163.3 L1020,1162.4 L1023,1162.7 L1024.5,1163.2 L1029,1162.6 L1030.5,1162.9 L1032,1162.4 L1035,1162.7 L1036.5,1162.4 L1038,1163 L1039.5,1162.4 L1042.5,1163 L1044,1162.4 L1047,1162.7 L1050,1162.3 L1053,1162.7 L1054.5,1162.4 L1056,1162.6 L1057.5,1162.2 L1060.5,1162.8 L1062,1162 L1063.5,1162.7 L1065,1161.9 L1066.5,1162.6 L1068,1162.2 L1069.5,1162.5 L1075.5,1161.8 L1077,1162.1 L1078.5,1161.8 L1081.5,1162.5 L1086,1161.7 L1087.5,1161.7 L1089,1162.5 L1090.5,1162 L1101,1161.9 L1104,1162.3 L1107,1161.6 L1108.5,1162.2 L1110,1161.7 L1111.5,1162 L1113,1161.6 L1114.5,1161.9 L1119,1161.3 L1126.5,1161.7 L1128,1161.3 L1131,1161.9 L1137,1161.1 L1140,1161.5 L1141.5,1161.2 L1147.5,1161.6 L1150.5,1161.1 L1158,1161.2 L1159.5,1161.7 L1161,1161.4 L1162.5,1161.5 L1164,1160.7 L1165.5,1161.1 L1170,1160.2 L1171.5,1160.9 L1173,1160 L1174.5,1160.6 L1176,1160.1 L1177.5,1160.4 L1179,1159.6 L1185,1160 L1186.5,1159.8 L1188,1160.2 L1194,1160 L1195.5,1160.7 L1197,1160.2 L1198.5,1160.5 L1200,1160.2 L1201.5,1161 L1203,1160.9 L1204.5,1160.4 L1206,1160.5 L1207.5,1161.1 L1210.5,1160.5 L1212,1161 L1215,1160.7 L1218,1161.6 L1219.5,1160.9 L1221,1161.6 L1222.5,1161.4 L1224,1161.7 L1225.5,1161.3 L1228.5,1161.6 L1233,1161.4 L1234.5,1162.1 L1237.5,1161.5 L1239,1162.2 L1240.5,1161.5 L1242,1161.4 L1245,1161.9 L1249.5,1161.7 L1251,1162.1 L1254,1161.5 L1255.5,1162.2 L1257,1161.4 L1261.5,1162.2 L1263,1161.7 L1264.5,1161.5 L1267.5,1162.1 L1269,1161.6 L1272,1162 L1273.5,1161.9 L1275,1162.1 L1276.5,1161.5 L1278,1162.1 L1279.5,1161.4 L1282.5,1162.1 L1284,1161.8 L1285.5,1162.2 L1287,1161.9 L1288.5,1162.1 L1290,1161.6 L1299,1162.2 L1302,1161.4 L1309.5,1161.6 L1311,1162.1 L1312.5,1161.8 L1314,1162.2 L1315.5,1161.7 L1317,1162.4 L1318.5,1161.6 L1320,1162.1 L1321.5,1161.7 L1323,1161.8 L1324.5,1162.4 L1329,1161.8 L1330.5,1162.5 L1333.5,1161.9 L1336.5,1162.3 L1338,1162 L1339.5,1162 L1342.5,1162.8 L1345.5,1162.1 L1348.5,1162.8 L1354.5,1162.9 L1356,1162.3 L1359,1163.2 L1362,1162.6 L1363.5,1163.2 L1366.5,1163 L1368,1162.5 L1374,1163.5 L1377,1163.1 L1381.5,1163.4 L1383,1163 L1386,1163.6 L1393.5,1163.1 L1395,1163.9 L1396.5,1163.6 L1401,1163.7 L1402.5,1163.3 L1404,1163.6 L1407,1163.3 L1410,1164.2 L1411.5,1164.2 L1413,1163.4 L1414.5,1164 L1416,1163.3 L1420.5,1163.4 L1425,1163.2 L1426.5,1163.7 L1428,1163.9 L1431,1163.1 L1434,1163.1 L1435.5,1163.9 L1438.5,1163.1 L1440,1163.4 L1441.5,1163.1 L1443,1163.4 L1447.5,1163.5 L1450.5,1162.9 L1453.5,1163.2 L1455,1162.9 L1456.5,1163.5 L1459.5,1162.8 L1461,1163.3 L1467,1163 L1470,1162.5 L1471.5,1163.2 L1473,1162.8 L1477.5,1163.2 L1483.5,1162.5 L1485,1163.1 L1488,1162.3 L1489.5,1162.9 L1492.5,1163 L1495.5,1162.7 L1497,1163 L1500,1162.4 L1503,1162.9 L1506,1162.3 L1507.5,1162.5 L1509,1162.1 L1510.5,1162.7 L1512,1162.1 L1513.5,1162.6 L1516.5,1162.1 L1519.5,1162.7 L1521,1162.1 L1522.5,1162.6 L1524,1161.9 L1528.5,1162.3 L1531.5,1161.9 L1533,1162.2 L1540.5,1162 L1543.5,1162.1 L1545,1161.8 L1546.5,1161.9 L1548,1161.5 L1549.5,1162.2 L1553.8,1162.2 L1553.8,1551.4 L148.5,1549.2Z" fill="#D99FFB"/>
<path d="M148.5,1163.5 L150,1162.7 L151.5,1163.2 L154.5,1163.3 L159,1162.9 L160.5,1163.4 L163.5,1163.4 L165,1162.9 L168,1162.9 L169.5,1163.3 L171,1162.9 L172.5,1163.3 L178.5,1162.9 L181.5,1163.3 L183,1162.9 L186,1163.5 L190.5,1163.6 L192,1162.9 L193.5,1162.9 L195,1163.5 L198,1162.8 L199.5,1163.3 L202.5,1162.9 L204,1163.5 L205.5,1163.1 L207,1163.6 L208.5,1163 L210,1162.8 L211.5,1163.5 L213,1163 L214.5,1163.5 L216,1163.1 L217.5,1163.3 L219,1162.8 L223.5,1163.6 L229.5,1163.6 L231,1162.9 L234,1162.9 L235.5,1163.3 L238.5,1162.8 L249,1163.5 L250.5,1163.1 L252,1163.6 L253.5,1163.1 L256.5,1163.1 L259.5,1163.4 L264,1162.8 L270,1162.9 L273,1163.4 L277.5,1163.1 L279,1163.6 L282,1163.3 L283.5,1163.5 L285,1163.1 L288,1163.1 L289.5,1163.6 L291,1163.3 L292.5,1163.6 L295.5,1162.9 L300,1163.6 L303,1163.1 L307.5,1163.7 L310.5,1162.8 L312,1163.7 L313.5,1162.9 L316.5,1163.7 L324,1163.1 L325.5,1163.5 L328.5,1162.9 L331.5,1162.9 L333,1163.6 L334.5,1163.1 L336,1163 L337.5,1163.4 L339,1163.1 L340.5,1163.5 L348,1163.2 L349.5,1163.5 L351,1162.9 L355.5,1163.5 L360,1163 L361.5,1163.3 L363,1163.1 L364.5,1163.5 L369,1163.4 L370.5,1163.7 L376.5,1162.9 L379.5,1163.5 L382.5,1163 L384,1163.5 L387,1163.2 L388.5,1163.4 L390,1162.9 L391.5,1163.4 L393,1162.9 L396,1163.6 L399,1163.2 L400.5,1163.7 L402,1163.4 L403.5,1163.7 L405,1163.3 L408,1163.5 L409.5,1162.9 L414,1163.1 L415.5,1163.8 L418.5,1163.5 L420,1163.7 L421.5,1163.1 L423,1163.6 L426,1163.2 L429,1163.6 L433.5,1163.7 L435,1163.2 L436.5,1163.7 L438,1163.3 L439.5,1163.7 L442.5,1163.5 L444,1163.8 L447,1163.1 L448.5,1163.4 L450,1163.3 L451.5,1163.8 L453,1163.1 L454.5,1163.5 L457.5,1163 L459,1163.6 L462,1163.3 L463.5,1163.8 L465,1163 L466.5,1163.5 L468,1163.2 L474,1163.7 L475.5,1163 L478.5,1163.6 L480,1163.2 L481.5,1163.3 L483,1163.8 L484.5,1163.1 L489,1163.6 L490.5,1163 L492,1163.8 L493.5,1163 L495,1163 L496.5,1163.5 L498,1163 L501,1163.7 L504,1163.5 L505.5,1163.8 L507,1163.1 L508.5,1163.9 L511.5,1163.6 L513,1163 L514.5,1163.8 L516,1163.3 L519,1163.5 L520.5,1163.3 L522,1163.8 L523.5,1163.8 L526.5,1163.2 L529.5,1163.9 L531,1163.3 L532.5,1163.4 L534,1163.2 L537,1163.8 L540,1163 L543,1163.7 L546,1163.1 L549,1163.7 L552,1163 L553.5,1163.6 L555,1163.2 L562.5,1163.2 L564,1163.5 L565.5,1163.1 L567,1163.9 L570,1163.7 L571.5,1163.2 L573,1163.9 L574.5,1163.9 L576,1163.1 L580.5,1163.3 L583.5,1163.9 L586.5,1163.4 L589.5,1163.8 L598.5,1163.1 L600,1163.9 L601.5,1163.5 L604.5,1163.4 L606,1163.7 L607.5,1163.2 L609,1163.8 L610.5,1163.9 L612,1163.1 L613.5,1163.4 L615,1163.1 L616.5,1163.7 L619.5,1163.1 L621,1163.8 L622.5,1163.9 L624,1163.3 L625.5,1163.7 L627,1163.1 L628.5,1163.6 L631.5,1163.1 L634.5,1163.5 L636,1163.1 L637.5,1163.8 L639,1163.4 L643.5,1163.9 L651,1163.6 L652.5,1163.8 L654,1163.2 L655.5,1163.9 L657,1163.3 L664.5,1163.8 L666,1163.1 L670.5,1163.6 L672,1163.4 L673.5,1163.6 L676.5,1163.1 L678,1163.8 L682.5,1163.3 L684,1163.9 L687,1163.2 L690,1164 L691.5,1163.3 L697.5,1163.1 L700.5,1163.9 L703.5,1163.9 L705,1163.4 L706.5,1163.7 L708,1163.1 L709.5,1163.8 L711,1163.3 L712.5,1163.7 L714,1163.3 L718.5,1163.6 L721.5,1163.3 L724.5,1163.8 L726,1163.4 L727.5,1164 L729,1163.5 L732,1163.4 L733.5,1164 L735,1163.4 L738,1163.6 L739.5,1164 L741,1163.1 L742.5,1164 L744,1163.4 L745.5,1163.8 L747,1163.3 L748.5,1163.7 L754.5,1163.3 L756,1163.9 L759,1163.4 L760.5,1163.8 L768,1163.2 L772.5,1163.7 L777,1163.3 L780,1163.6 L781.5,1163.3 L783,1163.8 L784.5,1164 L787.5,1163.4 L789,1164 L790.5,1163.2 L792,1163.3 L793.5,1163.8 L795,1163.9 L798,1163.2 L799.5,1163.7 L801,1163.4 L802.5,1163.9 L804,1163.2 L805.5,1163.6 L807,1163.3 L808.5,1164 L816,1164 L817.5,1163.3 L820.5,1163.9 L822,1163.4 L825,1164 L826.5,1163.6 L828,1163.6 L831,1163.3 L832.5,1163.9 L834,1163.8 L835.5,1163.2 L837,1163.9 L838.5,1163.9 L840,1163.4 L841.5,1163.9 L843,1163.2 L844.5,1163.3 L846,1163.9 L853.5,1163.2 L856.5,1163.5 L858,1163.1 L859.5,1163.7 L861,1163.1 L862.5,1163.2 L864,1163.8 L867,1163.1 L868.5,1163.4 L871.5,1163.1 L873,1163.9 L874.5,1163.1 L876,1163.7 L879,1163.2 L880.5,1163.8 L883.5,1163 L886.5,1163.5 L894,1163.4 L895.5,1163.8 L898.5,1163.4 L900,1163.7 L901.5,1163.1 L904.5,1163.6 L906,1163.1 L909,1163.4 L910.5,1163 L912,1163.8 L913.5,1163.2 L915,1163.4 L916.5,1162.9 L918,1163.3 L919.5,1163.3 L921,1163.7 L922.5,1162.9 L924,1163.6 L925.5,1163 L927,1163.6 L933,1163.2 L934.5,1163.4 L937.5,1162.9 L939,1163.4 L943.5,1163 L945,1163.6 L948,1162.8 L949.5,1163.6 L951,1163 L955.5,1163.2 L958.5,1163 L960,1163.2 L961.5,1162.9 L963,1163.6 L964.5,1163 L969,1162.9 L970.5,1163.5 L972,1163.1 L975,1163.4 L976.5,1162.8 L979.5,1163.4 L981,1162.9 L982.5,1163.5 L985.5,1163.1 L987,1163.6 L988.5,1162.8 L990,1163.5 L991.5,1162.9 L993,1163.2 L994.5,1162.7 L997.5,1162.8 L1000.5,1163.5 L1002,1162.7 L1003.5,1162.6 L1006.5,1163.4 L1012.5,1163 L1014,1162.5 L1015.5,1163.3 L1020,1162.4 L1023,1162.7 L1024.5,1163.2 L1029,1162.6 L1030.5,1162.9 L1032,1162.4 L1035,1162.7 L1036.5,1162.4 L1038,1163 L1039.5,1162.4 L1042.5,1163 L1044,1162.4 L1047,1162.7 L1050,1162.3 L1053,1162.7 L1054.5,1162.4 L1056,1162.6 L1057.5,1162.2 L1060.5,1162.8 L1062,1162 L1063.5,1162.7 L1065,1161.9 L1066.5,1162.6 L1068,1162.2 L1069.5,1162.5 L1075.5,1161.8 L1077,1162.1 L1078.5,1161.8 L1081.5,1162.5 L1086,1161.7 L1087.5,1161.7 L1089,1162.5 L1090.5,1162 L1101,1161.9 L1104,1162.3 L1107,1161.6 L1108.5,1162.2 L1110,1161.7 L1111.5,1162 L1113,1161.6 L1114.5,1161.9 L1119,1161.3 L1126.5,1161.7 L1128,1161.3 L1131,1161.9 L1137,1161.1 L1140,1161.5 L1141.5,1161.2 L1147.5,1161.6 L1150.5,1161.1 L1158,1161.2 L1159.5,1161.7 L1161,1161.4 L1162.5,1161.5 L1164,1160.7 L1165.5,1161.1 L1170,1160.2 L1171.5,1160.9 L1173,1160 L1174.5,1160.6 L1176,1160.1 L1177.5,1160.4 L1179,1159.6 L1185,1160 L1186.5,1159.8 L1188,1160.2 L1194,1160 L1195.5,1160.7 L1197,1160.2 L1198.5,1160.5 L1200,1160.2 L1201.5,1161 L1203,1160.9 L1204.5,1160.4 L1206,1160.5 L1207.5,1161.1 L1210.5,1160.5 L1212,1161 L1215,1160.7 L1218,1161.6 L1219.5,1160.9 L1221,1161.6 L1222.5,1161.4 L1224,1161.7 L1225.5,1161.3 L1228.5,1161.6 L1233,1161.4 L1234.5,1162.1 L1237.5,1161.5 L1239,1162.2 L1240.5,1161.5 L1242,1161.4 L1245,1161.9 L1249.5,1161.7 L1251,1162.1 L1254,1161.5 L1255.5,1162.2 L1257,1161.4 L1261.5,1162.2 L1263,1161.7 L1264.5,1161.5 L1267.5,1162.1 L1269,1161.6 L1272,1162 L1273.5,1161.9 L1275,1162.1 L1276.5,1161.5 L1278,1162.1 L1279.5,1161.4 L1282.5,1162.1 L1284,1161.8 L1285.5,1162.2 L1287,1161.9 L1288.5,1162.1 L1290,1161.6 L1299,1162.2 L1302,1161.4 L1309.5,1161.6 L1311,1162.1 L1312.5,1161.8 L1314,1162.2 L1315.5,1161.7 L1317,1162.4 L1318.5,1161.6 L1320,1162.1 L1321.5,1161.7 L1323,1161.8 L1324.5,1162.4 L1329,1161.8 L1330.5,1162.5 L1333.5,1161.9 L1336.5,1162.3 L1338,1162 L1339.5,1162 L1342.5,1162.8 L1345.5,1162.1 L1348.5,1162.8 L1354.5,1162.9 L1356,1162.3 L1359,1163.2 L1362,1162.6 L1363.5,1163.2 L1366.5,1163 L1368,1162.5 L1374,1163.5 L1377,1163.1 L1381.5,1163.4 L1383,1163 L1386,1163.6 L1393.5,1163.1 L1395,1163.9 L1396.5,1163.6 L1401,1163.7 L1402.5,1163.3 L1404,1163.6 L1407,1163.3 L1410,1164.2 L1411.5,1164.2 L1413,1163.4 L1414.5,1164 L1416,1163.3 L1420.5,1163.4 L1425,1163.2 L1426.5,1163.7 L1428,1163.9 L1431,1163.1 L1434,1163.1 L1435.5,1163.9 L1438.5,1163.1 L1440,1163.4 L1441.5,1163.1 L1443,1163.4 L1447.5,1163.5 L1450.5,1162.9 L1453.5,1163.2 L1455,1162.9 L1456.5,1163.5 L1459.5,1162.8 L1461,1163.3 L1467,1163 L1470,1162.5 L1471.5,1163.2 L1473,1162.8 L1477.5,1163.2 L1483.5,1162.5 L1485,1163.1 L1488,1162.3 L1489.5,1162.9 L1492.5,1163 L1495.5,1162.7 L1497,1163 L1500,1162.4 L1503,1162.9 L1506,1162.3 L1507.5,1162.5 L1509,1162.1 L1510.5,1162.7 L1512,1162.1 L1513.5,1162.6 L1516.5,1162.1 L1519.5,1162.7 L1521,1162.1 L1522.5,1162.6 L1524,1161.9 L1528.5,1162.3 L1531.5,1161.9 L1533,1162.2 L1540.5,1162 L1543.5,1162.1 L1545,1161.8 L1546.5,1161.9 L1548,1161.5 L1549.5,1162.2 L1553.8,1162.2" fill="none" stroke="#1a1a1a" stroke-width="1.2"/>
<path d="M148.5,1169.4 L153,1169.3 L159,1170.1 L160.5,1169.5 L162,1170.1 L168,1170.2 L171,1169.5 L175.5,1170 L178.5,1169.7 L180,1170.1 L189,1169.8 L192,1170 L193.5,1169.7 L196.5,1169.6 L198,1170.1 L199.5,1169.7 L202.5,1170.5 L208.5,1170.2 L210,1170.5 L211.5,1169.8 L213,1170.2 L216,1170 L217.5,1170.4 L220.5,1169.5 L226.5,1168.9 L228,1168.5 L229.5,1168.9 L235.5,1167.7 L237,1168.1 L240,1167.9 L241.5,1167.4 L247.5,1167.9 L249,1167.4 L253.5,1167.8 L255,1167.2 L261,1167.2 L262.5,1167.8 L264,1167.5 L267,1167.5 L268.5,1167 L270,1167.4 L273,1167.2 L274.5,1167.7 L276,1167.3 L277.5,1167.5 L280.5,1166.9 L283.5,1167 L285,1167.7 L288,1167.3 L289.5,1167.7 L291,1167.1 L292.5,1167.6 L294,1167.1 L295.5,1167.4 L298.5,1167.1 L300,1167.4 L301.5,1167.1 L304.5,1167.7 L306,1167.6 L307.5,1166.9 L309,1166.8 L312,1167.6 L319.5,1167.1 L324,1167.5 L325.5,1166.9 L331.5,1167.1 L334.5,1167.6 L340.5,1166.9 L342,1167.4 L343.5,1167 L345,1167.3 L349.5,1167.3 L351,1166.8 L352.5,1167.1 L354,1166.8 L358.5,1167.4 L360,1166.8 L363,1167.3 L364.5,1166.7 L366,1166.6 L367.5,1167.1 L369,1166.6 L375,1166.7 L378,1166.3 L379.5,1166.9 L382.5,1166.3 L384,1166.6 L387,1166.1 L388.5,1166.2 L390,1166.8 L391.5,1166.6 L393,1166 L399,1166.5 L402,1165.7 L403.5,1166.5 L405,1165.7 L409.5,1166.1 L411,1165.8 L414,1165.9 L415.5,1165.4 L417,1166.1 L418.5,1165.7 L423,1165.9 L424.5,1165.5 L426,1166 L427.5,1165.6 L430.5,1165.7 L432,1165.1 L433.5,1165.4 L435,1165 L438,1165.2 L439.5,1165 L441,1165.6 L442.5,1164.9 L445.5,1165 L447,1164.7 L448.5,1165.3 L451.5,1164.9 L453,1165 L454.5,1164.6 L457.5,1164.4 L459,1164.9 L460.5,1164.7 L462,1164 L469.5,1164 L472.5,1163.8 L474,1164.4 L480,1163.4 L481.5,1163.4 L483,1164 L484.5,1163.5 L487.5,1163.1 L489,1163.7 L490.5,1163.1 L496.5,1163.1 L499.5,1163.7 L501,1163.1 L504,1163.1 L507,1163.8 L510,1163 L511.5,1163.6 L514.5,1163 L516,1163.7 L517.5,1163 L519,1163.1 L520.5,1163.8 L523.5,1163.3 L526.5,1163.2 L528,1163.5 L531,1163.1 L532.5,1163.2 L534,1163.7 L535.5,1163.2 L538.5,1163.1 L540,1163.6 L543,1163.5 L544.5,1163.1 L552,1163.3 L553.5,1163.6 L555,1163.1 L556.5,1163.1 L558,1163.7 L559.5,1163.2 L565.5,1163.8 L568.5,1163 L570,1163.1 L571.5,1163.9 L574.5,1163.3 L577.5,1163.2 L579,1163.6 L580.5,1163.1 L583.5,1163.7 L585,1163.3 L586.5,1163.9 L588,1163.3 L589.5,1163.9 L591,1163.3 L595.5,1163.6 L597,1163.1 L603,1163.5 L604.5,1163.1 L606,1163.7 L607.5,1163.2 L610.5,1163.7 L612,1163.2 L615,1163.7 L616.5,1163.2 L618,1163.6 L621,1163.9 L624,1163.4 L625.5,1163.7 L631.5,1163.2 L634.5,1163.5 L636,1163.1 L642,1163.3 L645,1163.1 L646.5,1163.4 L649.5,1163.4 L651,1163.8 L652.5,1163.1 L654,1163.7 L655.5,1163.7 L657,1163.1 L658.5,1163.5 L663,1163.3 L664.5,1163.6 L666,1163.1 L667.5,1163.4 L669,1163.3 L675,1163.9 L678,1163.1 L679.5,1163.9 L681,1163.1 L682.5,1163.9 L684,1163.8 L685.5,1163.2 L688.5,1163.6 L690,1163.5 L691.5,1163.8 L693,1163.1 L694.5,1163.6 L696,1163.2 L700.5,1163.8 L702,1163.2 L703.5,1163.7 L705,1163.1 L706.5,1163.8 L709.5,1163.3 L711,1163.6 L712.5,1163.1 L714,1163.8 L717,1164 L718.5,1163.4 L720,1163.3 L721.5,1163.9 L727.5,1163.7 L729,1163.1 L730.5,1163.8 L732,1163.9 L733.5,1163.3 L736.5,1163.3 L738,1163.8 L741,1163.1 L742.5,1163.6 L744,1163.4 L745.5,1163.8 L751.5,1163.2 L753,1163.8 L756,1163.4 L757.5,1163.9 L759,1163.2 L760.5,1163.9 L762,1163.3 L763.5,1163.7 L766.5,1163.2 L769.5,1163.8 L772.5,1163.8 L774,1163.4 L775.5,1163.9 L777,1163.2 L778.5,1163.3 L780,1164 L781.5,1163.6 L784.5,1163.7 L787.5,1163.4 L789,1163.8 L790.5,1163.6 L793.5,1163.9 L795,1163.6 L796.5,1163.9 L798,1163.6 L799.5,1164 L801,1163.6 L802.5,1164 L804,1163.6 L808.5,1163.9 L813,1163.2 L814.5,1164 L816,1163.3 L817.5,1163.9 L820.5,1163.5 L822,1164 L825,1163.2 L826.5,1163.9 L828,1163.2 L831,1163.8 L832.5,1163.5 L834,1163.9 L835.5,1163.2 L838.5,1163.9 L844.5,1163.2 L846,1163.8 L847.5,1163.3 L849,1163.7 L850.5,1163.4 L852,1163.6 L853.5,1163.2 L856.5,1163.8 L858,1163.4 L861,1163.2 L862.5,1163.9 L865.5,1163.2 L867,1163.9 L870,1163.6 L876,1163.8 L877.5,1163 L882,1163.7 L883.5,1163.1 L886.5,1163.3 L888,1163.7 L889.5,1163.3 L892.5,1163.5 L894,1163.2 L895.5,1163.8 L898.5,1163.2 L901.5,1163.1 L903,1163.7 L904.5,1163.1 L906,1163.8 L907.5,1163.2 L909,1163.5 L910.5,1163.2 L915,1163.7 L918,1163.1 L919.5,1163.5 L921,1162.9 L922.5,1163.4 L924,1162.9 L925.5,1163.6 L930,1163.4 L931.5,1162.8 L933,1163 L934.5,1163.6 L936,1162.8 L937.5,1163.1 L939,1162.9 L942,1163.4 L943.5,1162.9 L948,1163.3 L952.5,1162.8 L954,1163.5 L955.5,1163.6 L957,1163 L958.5,1163.6 L960,1162.9 L964.5,1163.6 L966,1163 L967.5,1163.5 L969,1163 L975,1162.8 L976.5,1163.5 L978,1162.7 L979.5,1163.5 L982.5,1162.8 L987,1163.3 L991.5,1162.9 L996,1163.5 L997.5,1162.7 L1002,1163.3 L1003.5,1162.9 L1005,1162.9 L1006.5,1163.4 L1008,1162.5 L1011,1162.7 L1012.5,1163.1 L1014,1162.6 L1017,1163 L1020,1162.7 L1021.5,1163.2 L1024.5,1162.4 L1026,1163 L1027.5,1163.1 L1029,1162.5 L1030.5,1162.7 L1032,1162.3 L1033.5,1162.5 L1035,1163.1 L1036.5,1162.6 L1044,1162.1 L1045.5,1162.8 L1048.5,1162.1 L1050,1162.1 L1051.5,1162.9 L1053,1162.7 L1054.5,1162.2 L1056,1162.9 L1062,1162 L1071,1162.1 L1072.5,1162.6 L1074,1162.3 L1075.5,1162.6 L1077,1162 L1080,1162.4 L1081.5,1161.8 L1083,1162.6 L1084.5,1161.9 L1086,1162.4 L1087.5,1162 L1089,1162.3 L1090.5,1161.9 L1092,1162.2 L1093.5,1161.8 L1095,1162.1 L1098,1161.5 L1099.5,1162.4 L1101,1161.6 L1102.5,1161.5 L1104,1162.3 L1105.5,1162.2 L1107,1161.5 L1110,1161.9 L1111.5,1161.5 L1114.5,1162.2 L1119,1161.4 L1122,1162.1 L1128,1161.8 L1129.5,1161.2 L1131,1161.2 L1132.5,1161.8 L1135.5,1161.9 L1137,1161.3 L1141.5,1161.7 L1143,1161.1 L1146,1161.7 L1147.5,1161 L1153.5,1161.5 L1155,1161.3 L1156.5,1161.6 L1159.5,1161.1 L1161,1161.5 L1164,1160.8 L1165.5,1160.8 L1167,1161.2 L1171.5,1160.3 L1174.5,1160.6 L1176,1160 L1180.5,1159.8 L1182,1159.5 L1185,1159.5 L1186.5,1160 L1195.5,1160.4 L1197,1160 L1201.5,1160.5 L1203,1161 L1204.5,1160.2 L1206,1161 L1207.5,1160.5 L1212,1161.2 L1213.5,1160.7 L1215,1161.3 L1216.5,1160.7 L1219.5,1161.6 L1224,1161.1 L1227,1161.4 L1228.5,1162 L1230,1161.3 L1231.5,1161.9 L1233,1162 L1234.5,1161.6 L1236,1162.1 L1237.5,1162.2 L1240.5,1161.7 L1246.5,1161.8 L1248,1162.1 L1249.5,1161.6 L1251,1162.2 L1254,1161.4 L1258.5,1162.1 L1260,1161.5 L1261.5,1162.2 L1263,1161.4 L1264.5,1162.2 L1266,1161.5 L1269,1162 L1270.5,1161.5 L1272,1161.7 L1273.5,1161.4 L1275,1162.1 L1276.5,1161.8 L1279.5,1161.8 L1281,1162.2 L1284,1161.8 L1285.5,1162 L1290,1161.4 L1291.5,1162.2 L1293,1161.4 L1296,1162.1 L1297.5,1161.6 L1302,1161.5 L1303.5,1161.9 L1306.5,1161.4 L1308,1162.2 L1309.5,1161.6 L1314,1162 L1315.5,1161.8 L1318.5,1162.3 L1324.5,1161.9 L1327.5,1162.5 L1329,1162.3 L1333.5,1162.1 L1335,1162.7 L1336.5,1162 L1342.5,1162 L1345.5,1163 L1348.5,1162.3 L1350,1162.9 L1353,1163 L1354.5,1162.5 L1356,1163 L1357.5,1162.3 L1365,1163.1 L1369.5,1162.6 L1372.5,1163.4 L1375.5,1163 L1380,1163.7 L1381.5,1162.9 L1384.5,1163 L1386,1163.7 L1392,1163.4 L1393.5,1163.8 L1398,1163.3 L1399.5,1163.6 L1401,1163.2 L1402.5,1163.7 L1407,1163.6 L1410,1164.1 L1411.5,1163.4 L1416,1163.4 L1417.5,1164 L1419,1163.4 L1422,1163.9 L1423.5,1163.6 L1425,1163.8 L1426.5,1163.3 L1429.5,1163.4 L1431,1163.2 L1432.5,1163.6 L1434,1163.4 L1440,1163.2 L1441.5,1163.7 L1443,1162.9 L1446,1163.6 L1447.5,1163.5 L1449,1162.9 L1450.5,1163.6 L1455,1163.3 L1459.5,1163.5 L1461,1163.2 L1462.5,1163.3 L1464,1162.8 L1465.5,1163.4 L1467,1162.9 L1468.5,1163 L1470,1162.5 L1477.5,1163.1 L1479,1162.9 L1480.5,1163 L1482,1162.4 L1483.5,1162.8 L1488,1162.7 L1489.5,1162.3 L1491,1162.8 L1497,1162.8 L1501.5,1162.3 L1503,1162.6 L1504.5,1162.1 L1507.5,1162.8 L1513.5,1162 L1516.5,1162.6 L1519.5,1161.9 L1522.5,1162.4 L1525.5,1162.2 L1527,1161.8 L1530,1162.2 L1533,1162 L1534.5,1162.5 L1536,1161.7 L1539,1161.8 L1540.5,1162.2 L1542,1161.7 L1549.5,1162 L1552.5,1161.8 L1553.8,1162.2 L1553.8,1551.4 L148.5,1549.2Z" fill="#FFDF8E"/>
<path d="M148.5,1169.4 L153,1169.3 L159,1170.1 L160.5,1169.5 L162,1170.1 L168,1170.2 L171,1169.5 L175.5,1170 L178.5,1169.7 L180,1170.1 L189,1169.8 L192,1170 L193.5,1169.7 L196.5,1169.6 L198,1170.1 L199.5,1169.7 L202.5,1170.5 L208.5,1170.2 L210,1170.5 L211.5,1169.8 L213,1170.2 L216,1170 L217.5,1170.4 L220.5,1169.5 L226.5,1168.9 L228,1168.5 L229.5,1168.9 L235.5,1167.7 L237,1168.1 L240,1167.9 L241.5,1167.4 L247.5,1167.9 L249,1167.4 L253.5,1167.8 L255,1167.2 L261,1167.2 L262.5,1167.8 L264,1167.5 L267,1167.5 L268.5,1167 L270,1167.4 L273,1167.2 L274.5,1167.7 L276,1167.3 L277.5,1167.5 L280.5,1166.9 L283.5,1167 L285,1167.7 L288,1167.3 L289.5,1167.7 L291,1167.1 L292.5,1167.6 L294,1167.1 L295.5,1167.4 L298.5,1167.1 L300,1167.4 L301.5,1167.1 L304.5,1167.7 L306,1167.6 L307.5,1166.9 L309,1166.8 L312,1167.6 L319.5,1167.1 L324,1167.5 L325.5,1166.9 L331.5,1167.1 L334.5,1167.6 L340.5,1166.9 L342,1167.4 L343.5,1167 L345,1167.3 L349.5,1167.3 L351,1166.8 L352.5,1167.1 L354,1166.8 L358.5,1167.4 L360,1166.8 L363,1167.3 L364.5,1166.7 L366,1166.6 L367.5,1167.1 L369,1166.6 L375,1166.7 L378,1166.3 L379.5,1166.9 L382.5,1166.3 L384,1166.6 L387,1166.1 L388.5,1166.2 L390,1166.8 L391.5,1166.6 L393,1166 L399,1166.5 L402,1165.7 L403.5,1166.5 L405,1165.7 L409.5,1166.1 L411,1165.8 L414,1165.9 L415.5,1165.4 L417,1166.1 L418.5,1165.7 L423,1165.9 L424.5,1165.5 L426,1166 L427.5,1165.6 L430.5,1165.7 L432,1165.1 L433.5,1165.4 L435,1165 L438,1165.2 L439.5,1165 L441,1165.6 L442.5,1164.9 L445.5,1165 L447,1164.7 L448.5,1165.3 L451.5,1164.9 L453,1165 L454.5,1164.6 L457.5,1164.4 L459,1164.9 L460.5,1164.7 L462,1164 L469.5,1164 L472.5,1163.8 L474,1164.4 L480,1163.4 L481.5,1163.4 L483,1164 L484.5,1163.5 L487.5,1163.1 L489,1163.7 L490.5,1163.1 L496.5,1163.1 L499.5,1163.7 L501,1163.1 L504,1163.1 L507,1163.8 L510,1163 L511.5,1163.6 L514.5,1163 L516,1163.7 L517.5,1163 L519,1163.1 L520.5,1163.8 L523.5,1163.3 L526.5,1163.2 L528,1163.5 L531,1163.1 L532.5,1163.2 L534,1163.7 L535.5,1163.2 L538.5,1163.1 L540,1163.6 L543,1163.5 L544.5,1163.1 L552,1163.3 L553.5,1163.6 L555,1163.1 L556.5,1163.1 L558,1163.7 L559.5,1163.2 L565.5,1163.8 L568.5,1163 L570,1163.1 L571.5,1163.9 L574.5,1163.3 L577.5,1163.2 L579,1163.6 L580.5,1163.1 L583.5,1163.7 L585,1163.3 L586.5,1163.9 L588,1163.3 L589.5,1163.9 L591,1163.3 L595.5,1163.6 L597,1163.1 L603,1163.5 L604.5,1163.1 L606,1163.7 L607.5,1163.2 L610.5,1163.7 L612,1163.2 L615,1163.7 L616.5,1163.2 L618,1163.6 L621,1163.9 L624,1163.4 L625.5,1163.7 L631.5,1163.2 L634.5,1163.5 L636,1163.1 L642,1163.3 L645,1163.1 L646.5,1163.4 L649.5,1163.4 L651,1163.8 L652.5,1163.1 L654,1163.7 L655.5,1163.7 L657,1163.1 L658.5,1163.5 L663,1163.3 L664.5,1163.6 L666,1163.1 L667.5,1163.4 L669,1163.3 L675,1163.9 L678,1163.1 L679.5,1163.9 L681,1163.1 L682.5,1163.9 L684,1163.8 L685.5,1163.2 L688.5,1163.6 L690,1163.5 L691.5,1163.8 L693,1163.1 L694.5,1163.6 L696,1163.2 L700.5,1163.8 L702,1163.2 L703.5,1163.7 L705,1163.1 L706.5,1163.8 L709.5,1163.3 L711,1163.6 L712.5,1163.1 L714,1163.8 L717,1164 L718.5,1163.4 L720,1163.3 L721.5,1163.9 L727.5,1163.7 L729,1163.1 L730.5,1163.8 L732,1163.9 L733.5,1163.3 L736.5,1163.3 L738,1163.8 L741,1163.1 L742.5,1163.6 L744,1163.4 L745.5,1163.8 L751.5,1163.2 L753,1163.8 L756,1163.4 L757.5,1163.9 L759,1163.2 L760.5,1163.9 L762,1163.3 L763.5,1163.7 L766.5,1163.2 L769.5,1163.8 L772.5,1163.8 L774,1163.4 L775.5,1163.9 L777,1163.2 L778.5,1163.3 L780,1164 L781.5,1163.6 L784.5,1163.7 L787.5,1163.4 L789,1163.8 L790.5,1163.6 L793.5,1163.9 L795,1163.6 L796.5,1163.9 L798,1163.6 L799.5,1164 L801,1163.6 L802.5,1164 L804,1163.6 L808.5,1163.9 L813,1163.2 L814.5,1164 L816,1163.3 L817.5,1163.9 L820.5,1163.5 L822,1164 L825,1163.2 L826.5,1163.9 L828,1163.2 L831,1163.8 L832.5,1163.5 L834,1163.9 L835.5,1163.2 L838.5,1163.9 L844.5,1163.2 L846,1163.8 L847.5,1163.3 L849,1163.7 L850.5,1163.4 L852,1163.6 L853.5,1163.2 L856.5,1163.8 L858,1163.4 L861,1163.2 L862.5,1163.9 L865.5,1163.2 L867,1163.9 L870,1163.6 L876,1163.8 L877.5,1163 L882,1163.7 L883.5,1163.1 L886.5,1163.3 L888,1163.7 L889.5,1163.3 L892.5,1163.5 L894,1163.2 L895.5,1163.8 L898.5,1163.2 L901.5,1163.1 L903,1163.7 L904.5,1163.1 L906,1163.8 L907.5,1163.2 L909,1163.5 L910.5,1163.2 L915,1163.7 L918,1163.1 L919.5,1163.5 L921,1162.9 L922.5,1163.4 L924,1162.9 L925.5,1163.6 L930,1163.4 L931.5,1162.8 L933,1163 L934.5,1163.6 L936,1162.8 L937.5,1163.1 L939,1162.9 L942,1163.4 L943.5,1162.9 L948,1163.3 L952.5,1162.8 L954,1163.5 L955.5,1163.6 L957,1163 L958.5,1163.6 L960,1162.9 L964.5,1163.6 L966,1163 L967.5,1163.5 L969,1163 L975,1162.8 L976.5,1163.5 L978,1162.7 L979.5,1163.5 L982.5,1162.8 L987,1163.3 L991.5,1162.9 L996,1163.5 L997.5,1162.7 L1002,1163.3 L1003.5,1162.9 L1005,1162.9 L1006.5,1163.4 L1008,1162.5 L1011,1162.7 L1012.5,1163.1 L1014,1162.6 L1017,1163 L1020,1162.7 L1021.5,1163.2 L1024.5,1162.4 L1026,1163 L1027.5,1163.1 L1029,1162.5 L1030.5,1162.7 L1032,1162.3 L1033.5,1162.5 L1035,1163.1 L1036.5,1162.6 L1044,1162.1 L1045.5,1162.8 L1048.5,1162.1 L1050,1162.1 L1051.5,1162.9 L1053,1162.7 L1054.5,1162.2 L1056,1162.9 L1062,1162 L1071,1162.1 L1072.5,1162.6 L1074,1162.3 L1075.5,1162.6 L1077,1162 L1080,1162.4 L1081.5,1161.8 L1083,1162.6 L1084.5,1161.9 L1086,1162.4 L1087.5,1162 L1089,1162.3 L1090.5,1161.9 L1092,1162.2 L1093.5,1161.8 L1095,1162.1 L1098,1161.5 L1099.5,1162.4 L1101,1161.6 L1102.5,1161.5 L1104,1162.3 L1105.5,1162.2 L1107,1161.5 L1110,1161.9 L1111.5,1161.5 L1114.5,1162.2 L1119,1161.4 L1122,1162.1 L1128,1161.8 L1129.5,1161.2 L1131,1161.2 L1132.5,1161.8 L1135.5,1161.9 L1137,1161.3 L1141.5,1161.7 L1143,1161.1 L1146,1161.7 L1147.5,1161 L1153.5,1161.5 L1155,1161.3 L1156.5,1161.6 L1159.5,1161.1 L1161,1161.5 L1164,1160.8 L1165.5,1160.8 L1167,1161.2 L1171.5,1160.3 L1174.5,1160.6 L1176,1160 L1180.5,1159.8 L1182,1159.5 L1185,1159.5 L1186.5,1160 L1195.5,1160.4 L1197,1160 L1201.5,1160.5 L1203,1161 L1204.5,1160.2 L1206,1161 L1207.5,1160.5 L1212,1161.2 L1213.5,1160.7 L1215,1161.3 L1216.5,1160.7 L1219.5,1161.6 L1224,1161.1 L1227,1161.4 L1228.5,1162 L1230,1161.3 L1231.5,1161.9 L1233,1162 L1234.5,1161.6 L1236,1162.1 L1237.5,1162.2 L1240.5,1161.7 L1246.5,1161.8 L1248,1162.1 L1249.5,1161.6 L1251,1162.2 L1254,1161.4 L1258.5,1162.1 L1260,1161.5 L1261.5,1162.2 L1263,1161.4 L1264.5,1162.2 L1266,1161.5 L1269,1162 L1270.5,1161.5 L1272,1161.7 L1273.5,1161.4 L1275,1162.1 L1276.5,1161.8 L1279.5,1161.8 L1281,1162.2 L1284,1161.8 L1285.5,1162 L1290,1161.4 L1291.5,1162.2 L1293,1161.4 L1296,1162.1 L1297.5,1161.6 L1302,1161.5 L1303.5,1161.9 L1306.5,1161.4 L1308,1162.2 L1309.5,1161.6 L1314,1162 L1315.5,1161.8 L1318.5,1162.3 L1324.5,1161.9 L1327.5,1162.5 L1329,1162.3 L1333.5,1162.1 L1335,1162.7 L1336.5,1162 L1342.5,1162 L1345.5,1163 L1348.5,1162.3 L1350,1162.9 L1353,1163 L1354.5,1162.5 L1356,1163 L1357.5,1162.3 L1365,1163.1 L1369.5,1162.6 L1372.5,1163.4 L1375.5,1163 L1380,1163.7 L1381.5,1162.9 L1384.5,1163 L1386,1163.7 L1392,1163.4 L1393.5,1163.8 L1398,1163.3 L1399.5,1163.6 L1401,1163.2 L1402.5,1163.7 L1407,1163.6 L1410,1164.1 L1411.5,1163.4 L1416,1163.4 L1417.5,1164 L1419,1163.4 L1422,1163.9 L1423.5,1163.6 L1425,1163.8 L1426.5,1163.3 L1429.5,1163.4 L1431,1163.2 L1432.5,1163.6 L1434,1163.4 L1440,1163.2 L1441.5,1163.7 L1443,1162.9 L1446,1163.6 L1447.5,1163.5 L1449,1162.9 L1450.5,1163.6 L1455,1163.3 L1459.5,1163.5 L1461,1163.2 L1462.5,1163.3 L1464,1162.8 L1465.5,1163.4 L1467,1162.9 L1468.5,1163 L1470,1162.5 L1477.5,1163.1 L1479,1162.9 L1480.5,1163 L1482,1162.4 L1483.5,1162.8 L1488,1162.7 L1489.5,1162.3 L1491,1162.8 L1497,1162.8 L1501.5,1162.3 L1503,1162.6 L1504.5,1162.1 L1507.5,1162.8 L1513.5,1162 L1516.5,1162.6 L1519.5,1161.9 L1522.5,1162.4 L1525.5,1162.2 L1527,1161.8 L1530,1162.2 L1533,1162 L1534.5,1162.5 L1536,1161.7 L1539,1161.8 L1540.5,1162.2 L1542,1161.7 L1549.5,1162 L1552.5,1161.8 L1553.8,1162.2" fill="none" stroke="#3d1a52" stroke-width="1.2"/>
<path d="M148.5,1185 L151.5,1185.5 L153,1184.8 L157.5,1184.9 L159,1185.5 L162,1185 L165,1185.8 L166.5,1185.4 L169.5,1185.5 L171,1186.2 L177,1185.6 L178.5,1185.8 L180,1186.4 L181.5,1185.7 L183,1186.4 L184.5,1186.6 L186,1186 L190.5,1185.9 L192,1186.5 L195,1186.4 L196.5,1187 L201,1186.8 L202.5,1187.2 L204,1186.9 L208.5,1186.8 L210,1187.3 L211.5,1187.2 L213,1186.6 L219,1186.6 L220.5,1186.3 L222,1186.8 L223.5,1186.2 L226.5,1186.1 L228,1185.2 L229.5,1185.1 L231,1185.4 L234,1184.5 L235.5,1184.8 L240,1183.6 L241.5,1183.9 L244.5,1183.4 L246,1183.8 L250.5,1183.2 L252,1183.3 L255,1183 L256.5,1183.3 L258,1182.9 L262.5,1183.3 L264,1182.5 L265.5,1183.1 L267,1183.2 L268.5,1182.4 L270,1182.3 L271.5,1182.9 L274.5,1182.1 L276,1182.8 L277.5,1182.2 L280.5,1182.7 L282,1181.7 L283.5,1182.4 L291,1182 L292.5,1181.5 L294,1181.9 L295.5,1181.2 L297,1181.8 L301.5,1181.8 L303,1181.2 L304.5,1181.6 L306,1181.1 L309,1181.9 L312,1181 L313.5,1181.7 L316.5,1181 L319.5,1180.9 L321,1181.5 L322.5,1181.4 L324,1180.8 L325.5,1181.3 L328.5,1181.4 L330,1180.8 L333,1180.7 L336,1181.3 L337.5,1180.7 L339,1181 L345,1180.7 L346.5,1180.9 L348,1180.4 L349.5,1180.9 L352.5,1180.3 L355.5,1180.7 L358.5,1180.2 L360,1180.9 L361.5,1180.1 L369,1180.7 L370.5,1179.9 L372,1180.4 L373.5,1179.9 L375,1180.4 L376.5,1179.6 L379.5,1180.3 L381,1179.6 L382.5,1180.2 L384,1180.2 L387,1179.4 L388.5,1179.8 L391.5,1179.1 L393,1179.7 L394.5,1179.8 L399,1179.1 L402,1179.6 L403.5,1179.1 L405,1179 L406.5,1179.4 L408,1179.4 L411,1178.5 L412.5,1179.2 L415.5,1178.8 L417,1178.9 L418.5,1178.3 L420,1178.9 L427.5,1178 L429,1178.7 L433.5,1178.7 L435,1177.9 L436.5,1178.5 L438,1178.1 L442.5,1178 L444,1178.4 L445.5,1178.1 L447,1178.5 L448.5,1177.8 L451.5,1178.3 L453,1177.6 L454.5,1178.3 L457.5,1177.8 L462,1178.2 L466.5,1177.8 L469.5,1178.1 L471,1177.7 L474,1178 L475.5,1177.7 L477,1178 L478.5,1177.2 L480,1177.8 L484.5,1177.7 L487.5,1177 L493.5,1177.2 L495,1177.5 L496.5,1177.1 L498,1177.1 L499.5,1177.7 L501,1177 L502.5,1177.6 L504,1177.1 L507,1177.7 L508.5,1177.3 L510,1177.7 L514.5,1177.9 L516,1177.3 L517.5,1177.4 L519,1178 L523.5,1177.7 L525,1178.2 L528,1177.7 L532.5,1178.1 L534,1177.8 L537,1177.9 L538.5,1178.6 L540,1178.2 L543,1178.5 L544.5,1178.2 L546,1178.7 L549,1178.3 L552,1178.7 L555,1178.3 L556.5,1178.4 L558,1178.1 L559.5,1178.6 L564,1177.8 L567,1178.5 L568.5,1178 L570,1178.6 L573,1178.6 L574.5,1177.9 L576,1178.6 L577.5,1177.8 L580.5,1178 L582,1178.3 L586.5,1177.9 L588,1178.2 L591,1177.8 L592.5,1178.4 L595.5,1178 L597,1178.4 L598.5,1178.2 L600,1177.6 L601.5,1178.3 L607.5,1178.1 L609,1178.5 L610.5,1177.7 L612,1177.6 L613.5,1178.2 L615,1177.7 L616.5,1178.1 L622.5,1177.9 L624,1178.4 L625.5,1178.2 L628.5,1178.7 L630,1178.3 L631.5,1178.9 L633,1178.7 L634.5,1178.9 L637.5,1178.4 L642,1178.9 L643.5,1178.7 L645,1179.1 L646.5,1178.7 L648,1179.1 L651,1179.2 L652.5,1178.5 L654,1179.4 L657,1178.9 L658.5,1179.5 L660,1179.2 L663,1179.6 L664.5,1179.1 L666,1179.1 L667.5,1179.7 L670.5,1179.7 L672,1179.1 L676.5,1179.9 L678,1179.4 L679.5,1179.7 L681,1179.1 L682.5,1179.1 L684,1179.6 L685.5,1179.1 L688.5,1179.5 L690,1179 L691.5,1179.5 L693,1178.9 L694.5,1178.9 L696,1179.5 L697.5,1178.7 L699,1179.5 L700.5,1179.2 L702,1179.3 L703.5,1178.8 L709.5,1178.9 L711,1179.3 L714,1178.7 L717,1179.1 L718.5,1178.8 L721.5,1179.2 L723,1178.5 L724.5,1178.9 L729,1178.7 L730.5,1178.4 L733.5,1179 L735,1178.9 L736.5,1178.3 L739.5,1178.9 L742.5,1178.1 L744,1178.5 L748.5,1178.2 L750,1178.6 L753,1178 L756,1178 L757.5,1178.4 L759,1177.6 L760.5,1178.3 L763.5,1178.3 L765,1177.6 L766.5,1178.2 L769.5,1177.4 L772.5,1177.9 L774,1177.7 L775.5,1178.1 L778.5,1177.3 L780,1177.7 L784.5,1177.1 L786,1177.7 L787.5,1177.2 L790.5,1176.9 L792,1177.5 L796.5,1177.5 L798,1176.7 L801,1176.7 L804,1177.4 L805.5,1177 L807,1177.4 L808.5,1176.6 L810,1177.1 L813,1176.6 L814.5,1177 L819,1176.5 L820.5,1176.9 L823.5,1176.8 L825,1176.1 L826.5,1176.9 L831,1176.1 L832.5,1176.5 L834,1176 L835.5,1176.7 L837,1176.1 L840,1176.2 L841.5,1174.6 L844.5,1173.4 L846,1173.1 L850.5,1173.5 L852,1172.8 L853.5,1172.8 L855,1173.3 L856.5,1173 L858,1173.6 L861,1173.1 L864,1173.7 L867,1173.8 L868.5,1173.1 L870,1173.6 L871.5,1173.3 L874.5,1173.8 L876,1173.2 L882,1173.7 L883.5,1174.1 L885,1173.6 L888,1174 L889.5,1173.4 L898.5,1173.9 L900,1173.5 L903,1174.2 L904.5,1173.6 L906,1174.1 L912,1174.2 L913.5,1174.5 L915,1174.2 L916.5,1174.5 L918,1174 L921,1174.4 L922.5,1174 L924,1174.6 L925.5,1174.1 L927,1175 L928.5,1174.6 L930,1175.1 L931.5,1174.4 L933,1174.9 L936,1174.9 L939,1174.5 L942,1175.3 L943.5,1174.7 L946.5,1175.3 L951,1174.8 L952.5,1175.1 L954,1174.9 L955.5,1175.6 L957,1175 L960,1175.8 L961.5,1175.8 L963,1175.1 L969,1175.1 L972,1175.8 L975,1175.4 L976.5,1176.1 L979.5,1175.4 L981,1176 L982.5,1175.7 L985.5,1176.2 L988.5,1175.7 L990,1176.3 L991.5,1175.9 L994.5,1176 L996,1176.6 L997.5,1176.2 L1000.5,1176.8 L1002,1176.6 L1003.5,1176 L1006.5,1176.6 L1009.5,1176.6 L1011,1176.9 L1015.5,1176.4 L1017,1176.9 L1020,1176.7 L1021.5,1177 L1026,1176.6 L1030.5,1176.9 L1032,1177.3 L1035,1176.8 L1036.5,1177.4 L1038,1177.5 L1039.5,1176.9 L1041,1177.1 L1042.5,1176.8 L1044,1177.1 L1045.5,1176.3 L1047,1176.8 L1048.5,1176.3 L1051.5,1176.6 L1053,1175.9 L1054.5,1176.3 L1056,1175.6 L1057.5,1176.1 L1059,1175.2 L1060.5,1175.7 L1065,1175.6 L1066.5,1174.8 L1072.5,1174.6 L1075.5,1173.8 L1078.5,1174.1 L1081.5,1173.6 L1083,1173.6 L1084.5,1173.1 L1087.5,1173.7 L1093.5,1172.7 L1095,1173.1 L1098,1172.7 L1101,1171.7 L1102.5,1172.1 L1105.5,1171.4 L1108.5,1171.6 L1110,1171.3 L1111.5,1171.6 L1114.5,1170.9 L1116,1171.1 L1117.5,1170.6 L1119,1171.1 L1120.5,1170.8 L1122,1171.2 L1123.5,1170.3 L1126.5,1170.5 L1129.5,1170 L1132.5,1170.4 L1140,1169.7 L1143,1169 L1146,1169.5 L1147.5,1169.1 L1150.5,1169.1 L1152,1168.7 L1153.5,1169 L1155,1168.4 L1156.5,1168.7 L1158,1168.3 L1161,1168.5 L1164,1167.6 L1165.5,1168.2 L1168.5,1168.2 L1171.5,1167.2 L1174.5,1167.4 L1176,1166.9 L1177.5,1167.5 L1183.5,1166.7 L1185,1165.8 L1186.5,1166.5 L1188,1166.4 L1189.5,1166.8 L1192.5,1166.4 L1198.5,1167.3 L1200,1167 L1201.5,1167.6 L1204.5,1167.7 L1206,1167.4 L1209,1167.7 L1210.5,1168.3 L1213.5,1168.3 L1216.5,1168.8 L1218,1168.4 L1219.5,1168.5 L1221,1169.3 L1222.5,1168.6 L1224,1169.4 L1227,1169.3 L1228.5,1169.5 L1230,1169.3 L1236,1169.7 L1237.5,1169.5 L1239,1170 L1240.5,1169.6 L1245,1169.3 L1246.5,1169.9 L1248,1170 L1249.5,1169.5 L1251,1169.8 L1252.5,1169 L1255.5,1169.1 L1258.5,1169.7 L1260,1168.8 L1264.5,1169.3 L1267.5,1168.6 L1270.5,1169.2 L1272,1168.5 L1273.5,1169 L1275,1168.5 L1278,1168.9 L1279.5,1168.7 L1281,1169.1 L1282.5,1168.6 L1284,1168.9 L1287,1169 L1288.5,1168.6 L1291.5,1168.9 L1296,1168.3 L1297.5,1168.5 L1299,1168.2 L1302,1168.8 L1311,1168.9 L1312.5,1168.5 L1315.5,1168.5 L1317,1168.9 L1318.5,1168.2 L1320,1169 L1321.5,1169 L1323,1168.5 L1326,1168.9 L1330.5,1168.8 L1332,1169 L1333.5,1168.4 L1335,1168.8 L1336.5,1168.5 L1342.5,1169.2 L1344,1169.7 L1345.5,1169.5 L1347,1169.8 L1348.5,1169.4 L1350,1170.1 L1354.5,1170.6 L1356,1170.1 L1362,1170.6 L1363.5,1171.1 L1365,1170.8 L1369.5,1171.4 L1374,1172.1 L1377,1171.6 L1378.5,1171.8 L1380,1172.6 L1381.5,1172.2 L1387.5,1172.6 L1390.5,1173.3 L1392,1173 L1396.5,1173.9 L1398,1173.3 L1399.5,1173.6 L1401,1173.3 L1402.5,1173.6 L1407,1173.1 L1408.5,1172.5 L1411.5,1173.2 L1413,1172.4 L1414.5,1172.2 L1416,1172.8 L1419,1172.5 L1420.5,1171.9 L1425,1172.1 L1428,1172.1 L1431,1171.2 L1434,1171.8 L1435.5,1171.7 L1437,1171.2 L1447.5,1170.5 L1449,1170.2 L1453.5,1170.4 L1456.5,1169.6 L1458,1170 L1459.5,1169.5 L1461,1169.4 L1462.5,1170 L1465.5,1169.4 L1467,1169.8 L1470,1169.2 L1474.5,1169 L1476,1169.4 L1479,1168.7 L1480.5,1169.3 L1482,1168.9 L1483.5,1169.4 L1486.5,1168.6 L1488,1169 L1491,1168.8 L1492.5,1168.2 L1495.5,1168.7 L1498.5,1167.9 L1501.5,1168.2 L1504.5,1167.7 L1506,1168.3 L1507.5,1168.4 L1509,1167.6 L1510.5,1168 L1515,1167.6 L1518,1167.9 L1519.5,1167.2 L1521,1167.6 L1525.5,1167.7 L1528.5,1167.1 L1530,1167.5 L1531.5,1167.1 L1534.5,1167.4 L1539,1166.3 L1540.5,1167 L1543.5,1166.3 L1545,1166.9 L1546.5,1166.9 L1551,1166.2 L1552.5,1166.6 L1553.8,1166 L1553.8,1551.4 L148.5,1549.2Z" fill="#FFAA00"/>
<path d="M148.5,1185 L151.5,1185.5 L153,1184.8 L157.5,1184.9 L159,1185.5 L162,1185 L165,1185.8 L166.5,1185.4 L169.5,1185.5 L171,1186.2 L177,1185.6 L178.5,1185.8 L180,1186.4 L181.5,1185.7 L183,1186.4 L184.5,1186.6 L186,1186 L190.5,1185.9 L192,1186.5 L195,1186.4 L196.5,1187 L201,1186.8 L202.5,1187.2 L204,1186.9 L208.5,1186.8 L210,1187.3 L211.5,1187.2 L213,1186.6 L219,1186.6 L220.5,1186.3 L222,1186.8 L223.5,1186.2 L226.5,1186.1 L228,1185.2 L229.5,1185.1 L231,1185.4 L234,1184.5 L235.5,1184.8 L240,1183.6 L241.5,1183.9 L244.5,1183.4 L246,1183.8 L250.5,1183.2 L252,1183.3 L255,1183 L256.5,1183.3 L258,1182.9 L262.5,1183.3 L264,1182.5 L265.5,1183.1 L267,1183.2 L268.5,1182.4 L270,1182.3 L271.5,1182.9 L274.5,1182.1 L276,1182.8 L277.5,1182.2 L280.5,1182.7 L282,1181.7 L283.5,1182.4 L291,1182 L292.5,1181.5 L294,1181.9 L295.5,1181.2 L297,1181.8 L301.5,1181.8 L303,1181.2 L304.5,1181.6 L306,1181.1 L309,1181.9 L312,1181 L313.5,1181.7 L316.5,1181 L319.5,1180.9 L321,1181.5 L322.5,1181.4 L324,1180.8 L325.5,1181.3 L328.5,1181.4 L330,1180.8 L333,1180.7 L336,1181.3 L337.5,1180.7 L339,1181 L345,1180.7 L346.5,1180.9 L348,1180.4 L349.5,1180.9 L352.5,1180.3 L355.5,1180.7 L358.5,1180.2 L360,1180.9 L361.5,1180.1 L369,1180.7 L370.5,1179.9 L372,1180.4 L373.5,1179.9 L375,1180.4 L376.5,1179.6 L379.5,1180.3 L381,1179.6 L382.5,1180.2 L384,1180.2 L387,1179.4 L388.5,1179.8 L391.5,1179.1 L393,1179.7 L394.5,1179.8 L399,1179.1 L402,1179.6 L403.5,1179.1 L405,1179 L406.5,1179.4 L408,1179.4 L411,1178.5 L412.5,1179.2 L415.5,1178.8 L417,1178.9 L418.5,1178.3 L420,1178.9 L427.5,1178 L429,1178.7 L433.5,1178.7 L435,1177.9 L436.5,1178.5 L438,1178.1 L442.5,1178 L444,1178.4 L445.5,1178.1 L447,1178.5 L448.5,1177.8 L451.5,1178.3 L453,1177.6 L454.5,1178.3 L457.5,1177.8 L462,1178.2 L466.5,1177.8 L469.5,1178.1 L471,1177.7 L474,1178 L475.5,1177.7 L477,1178 L478.5,1177.2 L480,1177.8 L484.5,1177.7 L487.5,1177 L493.5,1177.2 L495,1177.5 L496.5,1177.1 L498,1177.1 L499.5,1177.7 L501,1177 L502.5,1177.6 L504,1177.1 L507,1177.7 L508.5,1177.3 L510,1177.7 L514.5,1177.9 L516,1177.3 L517.5,1177.4 L519,1178 L523.5,1177.7 L525,1178.2 L528,1177.7 L532.5,1178.1 L534,1177.8 L537,1177.9 L538.5,1178.6 L540,1178.2 L543,1178.5 L544.5,1178.2 L546,1178.7 L549,1178.3 L552,1178.7 L555,1178.3 L556.5,1178.4 L558,1178.1 L559.5,1178.6 L564,1177.8 L567,1178.5 L568.5,1178 L570,1178.6 L573,1178.6 L574.5,1177.9 L576,1178.6 L577.5,1177.8 L580.5,1178 L582,1178.3 L586.5,1177.9 L588,1178.2 L591,1177.8 L592.5,1178.4 L595.5,1178 L597,1178.4 L598.5,1178.2 L600,1177.6 L601.5,1178.3 L607.5,1178.1 L609,1178.5 L610.5,1177.7 L612,1177.6 L613.5,1178.2 L615,1177.7 L616.5,1178.1 L622.5,1177.9 L624,1178.4 L625.5,1178.2 L628.5,1178.7 L630,1178.3 L631.5,1178.9 L633,1178.7 L634.5,1178.9 L637.5,1178.4 L642,1178.9 L643.5,1178.7 L645,1179.1 L646.5,1178.7 L648,1179.1 L651,1179.2 L652.5,1178.5 L654,1179.4 L657,1178.9 L658.5,1179.5 L660,1179.2 L663,1179.6 L664.5,1179.1 L666,1179.1 L667.5,1179.7 L670.5,1179.7 L672,1179.1 L676.5,1179.9 L678,1179.4 L679.5,1179.7 L681,1179.1 L682.5,1179.1 L684,1179.6 L685.5,1179.1 L688.5,1179.5 L690,1179 L691.5,1179.5 L693,1178.9 L694.5,1178.9 L696,1179.5 L697.5,1178.7 L699,1179.5 L700.5,1179.2 L702,1179.3 L703.5,1178.8 L709.5,1178.9 L711,1179.3 L714,1178.7 L717,1179.1 L718.5,1178.8 L721.5,1179.2 L723,1178.5 L724.5,1178.9 L729,1178.7 L730.5,1178.4 L733.5,1179 L735,1178.9 L736.5,1178.3 L739.5,1178.9 L742.5,1178.1 L744,1178.5 L748.5,1178.2 L750,1178.6 L753,1178 L756,1178 L757.5,1178.4 L759,1177.6 L760.5,1178.3 L763.5,1178.3 L765,1177.6 L766.5,1178.2 L769.5,1177.4 L772.5,1177.9 L774,1177.7 L775.5,1178.1 L778.5,1177.3 L780,1177.7 L784.5,1177.1 L786,1177.7 L787.5,1177.2 L790.5,1176.9 L792,1177.5 L796.5,1177.5 L798,1176.7 L801,1176.7 L804,1177.4 L805.5,1177 L807,1177.4 L808.5,1176.6 L810,1177.1 L813,1176.6 L814.5,1177 L819,1176.5 L820.5,1176.9 L823.5,1176.8 L825,1176.1 L826.5,1176.9 L831,1176.1 L832.5,1176.5 L834,1176 L835.5,1176.7 L837,1176.1 L840,1176.2 L841.5,1174.6 L844.5,1173.4 L846,1173.1 L850.5,1173.5 L852,1172.8 L853.5,1172.8 L855,1173.3 L856.5,1173 L858,1173.6 L861,1173.1 L864,1173.7 L867,1173.8 L868.5,1173.1 L870,1173.6 L871.5,1173.3 L874.5,1173.8 L876,1173.2 L882,1173.7 L883.5,1174.1 L885,1173.6 L888,1174 L889.5,1173.4 L898.5,1173.9 L900,1173.5 L903,1174.2 L904.5,1173.6 L906,1174.1 L912,1174.2 L913.5,1174.5 L915,1174.2 L916.5,1174.5 L918,1174 L921,1174.4 L922.5,1174 L924,1174.6 L925.5,1174.1 L927,1175 L928.5,1174.6 L930,1175.1 L931.5,1174.4 L933,1174.9 L936,1174.9 L939,1174.5 L942,1175.3 L943.5,1174.7 L946.5,1175.3 L951,1174.8 L952.5,1175.1 L954,1174.9 L955.5,1175.6 L957,1175 L960,1175.8 L961.5,1175.8 L963,1175.1 L969,1175.1 L972,1175.8 L975,1175.4 L976.5,1176.1 L979.5,1175.4 L981,1176 L982.5,1175.7 L985.5,1176.2 L988.5,1175.7 L990,1176.3 L991.5,1175.9 L994.5,1176 L996,1176.6 L997.5,1176.2 L1000.5,1176.8 L1002,1176.6 L1003.5,1176 L1006.5,1176.6 L1009.5,1176.6 L1011,1176.9 L1015.5,1176.4 L1017,1176.9 L1020,1176.7 L1021.5,1177 L1026,1176.6 L1030.5,1176.9 L1032,1177.3 L1035,1176.8 L1036.5,1177.4 L1038,1177.5 L1039.5,1176.9 L1041,1177.1 L1042.5,1176.8 L1044,1177.1 L1045.5,1176.3 L1047,1176.8 L1048.5,1176.3 L1051.5,1176.6 L1053,1175.9 L1054.5,1176.3 L1056,1175.6 L1057.5,1176.1 L1059,1175.2 L1060.5,1175.7 L1065,1175.6 L1066.5,1174.8 L1072.5,1174.6 L1075.5,1173.8 L1078.5,1174.1 L1081.5,1173.6 L1083,1173.6 L1084.5,1173.1 L1087.5,1173.7 L1093.5,1172.7 L1095,1173.1 L1098,1172.7 L1101,1171.7 L1102.5,1172.1 L1105.5,1171.4 L1108.5,1171.6 L1110,1171.3 L1111.5,1171.6 L1114.5,1170.9 L1116,1171.1 L1117.5,1170.6 L1119,1171.1 L1120.5,1170.8 L1122,1171.2 L1123.5,1170.3 L1126.5,1170.5 L1129.5,1170 L1132.5,1170.4 L1140,1169.7 L1143,1169 L1146,1169.5 L1147.5,1169.1 L1150.5,1169.1 L1152,1168.7 L1153.5,1169 L1155,1168.4 L1156.5,1168.7 L1158,1168.3 L1161,1168.5 L1164,1167.6 L1165.5,1168.2 L1168.5,1168.2 L1171.5,1167.2 L1174.5,1167.4 L1176,1166.9 L1177.5,1167.5 L1183.5,1166.7 L1185,1165.8 L1186.5,1166.5 L1188,1166.4 L1189.5,1166.8 L1192.5,1166.4 L1198.5,1167.3 L1200,1167 L1201.5,1167.6 L1204.5,1167.7 L1206,1167.4 L1209,1167.7 L1210.5,1168.3 L1213.5,1168.3 L1216.5,1168.8 L1218,1168.4 L1219.5,1168.5 L1221,1169.3 L1222.5,1168.6 L1224,1169.4 L1227,1169.3 L1228.5,1169.5 L1230,1169.3 L1236,1169.7 L1237.5,1169.5 L1239,1170 L1240.5,1169.6 L1245,1169.3 L1246.5,1169.9 L1248,1170 L1249.5,1169.5 L1251,1169.8 L1252.5,1169 L1255.5,1169.1 L1258.5,1169.7 L1260,1168.8 L1264.5,1169.3 L1267.5,1168.6 L1270.5,1169.2 L1272,1168.5 L1273.5,1169 L1275,1168.5 L1278,1168.9 L1279.5,1168.7 L1281,1169.1 L1282.5,1168.6 L1284,1168.9 L1287,1169 L1288.5,1168.6 L1291.5,1168.9 L1296,1168.3 L1297.5,1168.5 L1299,1168.2 L1302,1168.8 L1311,1168.9 L1312.5,1168.5 L1315.5,1168.5 L1317,1168.9 L1318.5,1168.2 L1320,1169 L1321.5,1169 L1323,1168.5 L1326,1168.9 L1330.5,1168.8 L1332,1169 L1333.5,1168.4 L1335,1168.8 L1336.5,1168.5 L1342.5,1169.2 L1344,1169.7 L1345.5,1169.5 L1347,1169.8 L1348.5,1169.4 L1350,1170.1 L1354.5,1170.6 L1356,1170.1 L1362,1170.6 L1363.5,1171.1 L1365,1170.8 L1369.5,1171.4 L1374,1172.1 L1377,1171.6 L1378.5,1171.8 L1380,1172.6 L1381.5,1172.2 L1387.5,1172.6 L1390.5,1173.3 L1392,1173 L1396.5,1173.9 L1398,1173.3 L1399.5,1173.6 L1401,1173.3 L1402.5,1173.6 L1407,1173.1 L1408.5,1172.5 L1411.5,1173.2 L1413,1172.4 L1414.5,1172.2 L1416,1172.8 L1419,1172.5 L1420.5,1171.9 L1425,1172.1 L1428,1172.1 L1431,1171.2 L1434,1171.8 L1435.5,1171.7 L1437,1171.2 L1447.5,1170.5 L1449,1170.2 L1453.5,1170.4 L1456.5,1169.6 L1458,1170 L1459.5,1169.5 L1461,1169.4 L1462.5,1170 L1465.5,1169.4 L1467,1169.8 L1470,1169.2 L1474.5,1169 L1476,1169.4 L1479,1168.7 L1480.5,1169.3 L1482,1168.9 L1483.5,1169.4 L1486.5,1168.6 L1488,1169 L1491,1168.8 L1492.5,1168.2 L1495.5,1168.7 L1498.5,1167.9 L1501.5,1168.2 L1504.5,1167.7 L1506,1168.3 L1507.5,1168.4 L1509,1167.6 L1510.5,1168 L1515,1167.6 L1518,1167.9 L1519.5,1167.2 L1521,1167.6 L1525.5,1167.7 L1528.5,1167.1 L1530,1167.5 L1531.5,1167.1 L1534.5,1167.4 L1539,1166.3 L1540.5,1167 L1543.5,1166.3 L1545,1166.9 L1546.5,1166.9 L1551,1166.2 L1552.5,1166.6 L1553.8,1166" fill="none" stroke="#1a1a1a" stroke-width="1.2"/>
<path d="M148.5,1193.5 L150,1194.1 L151.5,1193.7 L154.5,1193.4 L157.5,1194.2 L163.5,1193.5 L165,1194.4 L166.5,1193.8 L174,1194.2 L175.5,1194 L178.5,1194.6 L187.5,1194.1 L189,1194.8 L192,1194.3 L193.5,1194.4 L195,1194.1 L199.5,1194.9 L202.5,1194.2 L204,1195 L205.5,1194.8 L207,1195 L208.5,1194.5 L210,1194.5 L211.5,1195.1 L213,1194.4 L214.5,1195.1 L216,1194.4 L219,1195.1 L225,1194.6 L226.5,1194.1 L228,1194.7 L234,1193.9 L235.5,1194.2 L238.5,1193.5 L240,1194.1 L243,1193.5 L244.5,1193.9 L247.5,1193.4 L250.5,1193.7 L253.5,1192.8 L255,1193.4 L258,1193.4 L259.5,1192.7 L261,1193.2 L264,1193 L265.5,1192.4 L268.5,1193.1 L270,1192.7 L271.5,1192.8 L273,1192.2 L276,1192.7 L280.5,1191.8 L282,1192.3 L283.5,1192 L285,1192.3 L291,1191.4 L292.5,1191.7 L294,1191.4 L295.5,1192 L297,1192 L298.5,1191.3 L300,1191.9 L301.5,1191.6 L303,1191.8 L307.5,1191.2 L309,1191.6 L310.5,1191.1 L312,1191 L315,1191.6 L316.5,1190.9 L318,1191.5 L319.5,1190.8 L325.5,1191.1 L339,1190.5 L340.5,1191.1 L342,1191 L345,1190.5 L349.5,1191 L352.5,1190.2 L354,1190.6 L355.5,1190.3 L357,1190.8 L358.5,1190.2 L360,1190.9 L363,1190 L364.5,1190.7 L366,1190.1 L372,1190 L373.5,1190.3 L378,1189.6 L379.5,1189.6 L382.5,1189.4 L384,1189.8 L388.5,1189.2 L390,1189.6 L391.5,1189.2 L393,1189.6 L394.5,1188.9 L396,1189.7 L397.5,1188.9 L400.5,1189.5 L403.5,1188.6 L406.5,1189 L408,1188.5 L409.5,1188.4 L411,1189.2 L412.5,1188.3 L415.5,1188.3 L418.5,1188.9 L420,1188.1 L423,1188.5 L426,1188.1 L429,1188.4 L430.5,1187.9 L435,1187.9 L436.5,1188.5 L442.5,1188 L444,1188.2 L445.5,1187.8 L447,1188.4 L448.5,1187.9 L450,1188.4 L456,1187.5 L457.5,1188.2 L459,1187.5 L460.5,1187.5 L463.5,1188.1 L465,1187.4 L468,1187.3 L469.5,1188 L478.5,1187.3 L480,1187.6 L481.5,1187.2 L484.5,1187.9 L486,1187.7 L487.5,1187.1 L489,1187.2 L490.5,1187.7 L496.5,1186.9 L498,1187.6 L499.5,1186.8 L501,1187.6 L505.5,1187.1 L508.5,1187.6 L510,1187 L511.5,1187 L513,1187.6 L514.5,1187 L519,1187 L520.5,1187.6 L522,1187.2 L526.5,1187.6 L529.5,1186.9 L535.5,1187.6 L538.5,1187.5 L540,1187.2 L541.5,1187.5 L547.5,1187.2 L549,1187.5 L550.5,1186.7 L552,1187.5 L561,1186.9 L562.5,1186.5 L565.5,1187.2 L570,1187 L571.5,1186.4 L573,1187.1 L574.5,1186.4 L576,1186.9 L577.5,1186.6 L579,1186.6 L580.5,1186.2 L582,1186.6 L585,1186.2 L586.5,1186.9 L592.5,1186.2 L594,1186.5 L595.5,1186 L597,1186.6 L598.5,1186.1 L600,1186.7 L601.5,1185.9 L603,1186.4 L604.5,1185.9 L606,1186.3 L607.5,1186.1 L609,1186.5 L612,1185.7 L613.5,1186.6 L616.5,1186 L619.5,1186.7 L621,1186.1 L627,1186.7 L630,1186.1 L631.5,1186.4 L634.5,1186.3 L636,1186.8 L637.5,1186.3 L642,1186.7 L643.5,1186.2 L645,1186.6 L646.5,1186.5 L648,1187 L649.5,1186.5 L651,1186.7 L652.5,1186.4 L660,1187.1 L661.5,1186.8 L664.5,1187 L666,1186.6 L669,1187.2 L670.5,1186.9 L672,1187.3 L673.5,1187.1 L675,1187.6 L676.5,1186.8 L678,1187.5 L679.5,1187.1 L681,1187.3 L682.5,1187.1 L684,1187.6 L685.5,1187 L690,1187.8 L691.5,1187.1 L696,1187.7 L697.5,1187.3 L699,1187.9 L705,1187.8 L706.5,1187.3 L711,1187.8 L712.5,1187.5 L717,1188.2 L720,1187.8 L721.5,1188.2 L723,1188 L724.5,1188.3 L726,1187.8 L729,1188.4 L730.5,1187.7 L732,1188.4 L733.5,1188.2 L735,1188.6 L736.5,1188.5 L738,1187.9 L739.5,1188 L741,1188.7 L748.5,1187.8 L750,1188.1 L754.5,1188.1 L757.5,1187.5 L759,1188 L760.5,1187.6 L762,1187.9 L763.5,1187.7 L765,1187.1 L766.5,1187.7 L768,1187.7 L771,1187 L772.5,1187.6 L777,1187.3 L778.5,1187.5 L780,1186.8 L781.5,1187.3 L784.5,1186.7 L786,1187 L787.5,1186.4 L789,1187 L795,1186.1 L796.5,1186.8 L798,1186.3 L802.5,1186.5 L804,1186 L808.5,1186.4 L810,1186 L811.5,1186.2 L813,1185.7 L814.5,1186.2 L816,1185.4 L817.5,1186.1 L822,1185.7 L823.5,1185.9 L825,1185.8 L826.5,1185 L828,1185.7 L829.5,1185.1 L832.5,1184.9 L834,1185.4 L837,1184.7 L838.5,1185.4 L840,1185.2 L841.5,1183.6 L844.5,1181.6 L847.5,1182.1 L850.5,1181.5 L852,1182.1 L855,1182.1 L856.5,1181.6 L858,1182.3 L859.5,1181.7 L861,1182.3 L864,1182 L865.5,1182.5 L867,1182.1 L868.5,1182.4 L870,1181.8 L871.5,1182.5 L873,1181.8 L874.5,1182.6 L877.5,1182.1 L879,1182.7 L880.5,1182.1 L882,1182 L883.5,1182.8 L886.5,1182.6 L888,1182 L889.5,1182.9 L891,1182.9 L892.5,1182.1 L894,1183 L897,1182.5 L898.5,1182.7 L900,1182.3 L903,1182.4 L904.5,1183.2 L906,1182.7 L907.5,1183.2 L916.5,1182.7 L918,1183.3 L919.5,1182.7 L921,1183.1 L922.5,1182.9 L924,1183.5 L928.5,1183.4 L930,1183.8 L933,1183.2 L936,1183.9 L939,1183.3 L943.5,1184.1 L945,1184.1 L946.5,1183.5 L948,1184.1 L949.5,1183.6 L951,1184 L952.5,1183.6 L955.5,1184.2 L961.5,1183.8 L963,1184.6 L970.5,1184.3 L972,1184.4 L973.5,1184.1 L975,1184.9 L978,1184.2 L979.5,1184.3 L981,1185 L984,1185 L985.5,1184.5 L991.5,1184.7 L993,1185 L994.5,1184.6 L997.5,1185.3 L999,1184.9 L1003.5,1185.8 L1006.5,1185.3 L1009.5,1185.4 L1012.5,1186 L1018.5,1186.1 L1020,1186.5 L1021.5,1185.9 L1023,1186 L1026,1186.9 L1029,1186.4 L1030.5,1187 L1033.5,1186.6 L1038,1187 L1044,1187 L1045.5,1186.5 L1048.5,1186.2 L1050,1186.9 L1051.5,1186.6 L1053,1185.9 L1059,1185.8 L1060.5,1186.2 L1062,1186.1 L1063.5,1185.2 L1066.5,1185.6 L1068,1184.8 L1069.5,1185.4 L1071,1184.9 L1074,1185.1 L1077,1184.3 L1084.5,1183.9 L1086,1184.3 L1093.5,1183.9 L1095,1183.2 L1099.5,1183 L1101,1183.4 L1113,1181.9 L1114.5,1182.3 L1116,1181.7 L1117.5,1182.1 L1119,1182.1 L1122,1181.1 L1123.5,1181.6 L1125,1180.9 L1131,1180.5 L1134,1181.1 L1135.5,1180.3 L1141.5,1179.8 L1143,1180.2 L1146,1179.4 L1147.5,1180 L1149,1179.6 L1152,1179.8 L1153.5,1178.9 L1155,1179.4 L1158,1178.6 L1161,1178.3 L1162.5,1178.6 L1164,1178.1 L1167,1178.6 L1168.5,1178.1 L1170,1178.4 L1173,1177.7 L1174.5,1177.9 L1176,1177.2 L1177.5,1177.9 L1180.5,1177.3 L1185,1175.7 L1186.5,1176.6 L1188,1176.3 L1191,1177.2 L1192.5,1178.1 L1198.5,1179.1 L1200,1178.9 L1204.5,1180.3 L1206,1179.9 L1207.5,1180.9 L1209,1181.2 L1210.5,1180.9 L1218,1182.7 L1222.5,1183.2 L1224,1184.2 L1234.5,1185.9 L1236,1185.7 L1237.5,1186.1 L1239,1185.5 L1240.5,1185.9 L1242,1185.3 L1243.5,1185.5 L1245,1185.2 L1246.5,1185.6 L1252.5,1184.8 L1254,1185 L1255.5,1184.4 L1258.5,1184.4 L1260,1183.8 L1263,1184.2 L1266,1183.7 L1267.5,1184 L1269,1183.1 L1270.5,1183.4 L1272,1182.9 L1275,1183 L1276.5,1182.7 L1278,1183.1 L1279.5,1182.4 L1281,1182.8 L1284,1181.9 L1285.5,1182.5 L1288.5,1182.1 L1290,1182.6 L1293,1181.7 L1294.5,1182.5 L1299,1181.7 L1303.5,1182 L1305,1181.7 L1306.5,1182 L1308,1181.7 L1311,1181.9 L1312.5,1181.3 L1314,1182 L1321.5,1181.4 L1324.5,1181.7 L1326,1180.9 L1329,1181.1 L1330.5,1180.9 L1339.5,1182 L1342.5,1181.6 L1344,1182.1 L1347,1182 L1348.5,1182.9 L1351.5,1182.6 L1353,1183.3 L1356,1183.2 L1357.5,1183.8 L1363.5,1183.9 L1365,1184.4 L1366.5,1184.3 L1368,1184.8 L1371,1184.4 L1372.5,1185.3 L1375.5,1184.9 L1377,1185 L1378.5,1185.6 L1380,1185.4 L1386,1186 L1387.5,1186.8 L1389,1186.2 L1390.5,1186.3 L1392,1187 L1395,1187.1 L1396.5,1187.6 L1398,1187.7 L1404,1187 L1405.5,1187.6 L1407,1187 L1410,1187.2 L1413,1187.1 L1416,1187.5 L1419,1187 L1423.5,1187.7 L1425,1186.9 L1428,1187.6 L1434,1187.4 L1435.5,1187 L1437,1187.1 L1438.5,1187.6 L1441.5,1187 L1446,1187.6 L1447.5,1186.9 L1449,1186.9 L1452,1187.6 L1453.5,1187.1 L1459.5,1187.5 L1461,1187.2 L1462.5,1187.6 L1465.5,1187.4 L1467,1186.8 L1468.5,1187.1 L1471.5,1186.8 L1473,1187.4 L1476,1187.3 L1480.5,1187.1 L1482,1186.6 L1483.5,1186.5 L1485,1187.4 L1486.5,1186.7 L1489.5,1187.1 L1491,1186.6 L1492.5,1186.9 L1494,1186.7 L1500,1187 L1504.5,1186.3 L1507.5,1187 L1509,1186.5 L1510.5,1186.8 L1513.5,1186.6 L1515,1186.9 L1516.5,1186.6 L1519.5,1186.9 L1521,1186.2 L1522.5,1186.6 L1524,1186.2 L1525.5,1186.7 L1530,1186.4 L1531.5,1186 L1537.5,1186.7 L1542,1185.9 L1545,1186.5 L1546.5,1185.8 L1548,1186.5 L1549.5,1186 L1551,1186.5 L1553.8,1186.1 L1553.8,1551.4 L148.5,1549.2Z" fill="#DCDCDC"/>
<path d="M148.5,1193.5 L150,1194.1 L151.5,1193.7 L154.5,1193.4 L157.5,1194.2 L163.5,1193.5 L165,1194.4 L166.5,1193.8 L174,1194.2 L175.5,1194 L178.5,1194.6 L187.5,1194.1 L189,1194.8 L192,1194.3 L193.5,1194.4 L195,1194.1 L199.5,1194.9 L202.5,1194.2 L204,1195 L205.5,1194.8 L207,1195 L208.5,1194.5 L210,1194.5 L211.5,1195.1 L213,1194.4 L214.5,1195.1 L216,1194.4 L219,1195.1 L225,1194.6 L226.5,1194.1 L228,1194.7 L234,1193.9 L235.5,1194.2 L238.5,1193.5 L240,1194.1 L243,1193.5 L244.5,1193.9 L247.5,1193.4 L250.5,1193.7 L253.5,1192.8 L255,1193.4 L258,1193.4 L259.5,1192.7 L261,1193.2 L264,1193 L265.5,1192.4 L268.5,1193.1 L270,1192.7 L271.5,1192.8 L273,1192.2 L276,1192.7 L280.5,1191.8 L282,1192.3 L283.5,1192 L285,1192.3 L291,1191.4 L292.5,1191.7 L294,1191.4 L295.5,1192 L297,1192 L298.5,1191.3 L300,1191.9 L301.5,1191.6 L303,1191.8 L307.5,1191.2 L309,1191.6 L310.5,1191.1 L312,1191 L315,1191.6 L316.5,1190.9 L318,1191.5 L319.5,1190.8 L325.5,1191.1 L339,1190.5 L340.5,1191.1 L342,1191 L345,1190.5 L349.5,1191 L352.5,1190.2 L354,1190.6 L355.5,1190.3 L357,1190.8 L358.5,1190.2 L360,1190.9 L363,1190 L364.5,1190.7 L366,1190.1 L372,1190 L373.5,1190.3 L378,1189.6 L379.5,1189.6 L382.5,1189.4 L384,1189.8 L388.5,1189.2 L390,1189.6 L391.5,1189.2 L393,1189.6 L394.5,1188.9 L396,1189.7 L397.5,1188.9 L400.5,1189.5 L403.5,1188.6 L406.5,1189 L408,1188.5 L409.5,1188.4 L411,1189.2 L412.5,1188.3 L415.5,1188.3 L418.5,1188.9 L420,1188.1 L423,1188.5 L426,1188.1 L429,1188.4 L430.5,1187.9 L435,1187.9 L436.5,1188.5 L442.5,1188 L444,1188.2 L445.5,1187.8 L447,1188.4 L448.5,1187.9 L450,1188.4 L456,1187.5 L457.5,1188.2 L459,1187.5 L460.5,1187.5 L463.5,1188.1 L465,1187.4 L468,1187.3 L469.5,1188 L478.5,1187.3 L480,1187.6 L481.5,1187.2 L484.5,1187.9 L486,1187.7 L487.5,1187.1 L489,1187.2 L490.5,1187.7 L496.5,1186.9 L498,1187.6 L499.5,1186.8 L501,1187.6 L505.5,1187.1 L508.5,1187.6 L510,1187 L511.5,1187 L513,1187.6 L514.5,1187 L519,1187 L520.5,1187.6 L522,1187.2 L526.5,1187.6 L529.5,1186.9 L535.5,1187.6 L538.5,1187.5 L540,1187.2 L541.5,1187.5 L547.5,1187.2 L549,1187.5 L550.5,1186.7 L552,1187.5 L561,1186.9 L562.5,1186.5 L565.5,1187.2 L570,1187 L571.5,1186.4 L573,1187.1 L574.5,1186.4 L576,1186.9 L577.5,1186.6 L579,1186.6 L580.5,1186.2 L582,1186.6 L585,1186.2 L586.5,1186.9 L592.5,1186.2 L594,1186.5 L595.5,1186 L597,1186.6 L598.5,1186.1 L600,1186.7 L601.5,1185.9 L603,1186.4 L604.5,1185.9 L606,1186.3 L607.5,1186.1 L609,1186.5 L612,1185.7 L613.5,1186.6 L616.5,1186 L619.5,1186.7 L621,1186.1 L627,1186.7 L630,1186.1 L631.5,1186.4 L634.5,1186.3 L636,1186.8 L637.5,1186.3 L642,1186.7 L643.5,1186.2 L645,1186.6 L646.5,1186.5 L648,1187 L649.5,1186.5 L651,1186.7 L652.5,1186.4 L660,1187.1 L661.5,1186.8 L664.5,1187 L666,1186.6 L669,1187.2 L670.5,1186.9 L672,1187.3 L673.5,1187.1 L675,1187.6 L676.5,1186.8 L678,1187.5 L679.5,1187.1 L681,1187.3 L682.5,1187.1 L684,1187.6 L685.5,1187 L690,1187.8 L691.5,1187.1 L696,1187.7 L697.5,1187.3 L699,1187.9 L705,1187.8 L706.5,1187.3 L711,1187.8 L712.5,1187.5 L717,1188.2 L720,1187.8 L721.5,1188.2 L723,1188 L724.5,1188.3 L726,1187.8 L729,1188.4 L730.5,1187.7 L732,1188.4 L733.5,1188.2 L735,1188.6 L736.5,1188.5 L738,1187.9 L739.5,1188 L741,1188.7 L748.5,1187.8 L750,1188.1 L754.5,1188.1 L757.5,1187.5 L759,1188 L760.5,1187.6 L762,1187.9 L763.5,1187.7 L765,1187.1 L766.5,1187.7 L768,1187.7 L771,1187 L772.5,1187.6 L777,1187.3 L778.5,1187.5 L780,1186.8 L781.5,1187.3 L784.5,1186.7 L786,1187 L787.5,1186.4 L789,1187 L795,1186.1 L796.5,1186.8 L798,1186.3 L802.5,1186.5 L804,1186 L808.5,1186.4 L810,1186 L811.5,1186.2 L813,1185.7 L814.5,1186.2 L816,1185.4 L817.5,1186.1 L822,1185.7 L823.5,1185.9 L825,1185.8 L826.5,1185 L828,1185.7 L829.5,1185.1 L832.5,1184.9 L834,1185.4 L837,1184.7 L838.5,1185.4 L840,1185.2 L841.5,1183.6 L844.5,1181.6 L847.5,1182.1 L850.5,1181.5 L852,1182.1 L855,1182.1 L856.5,1181.6 L858,1182.3 L859.5,1181.7 L861,1182.3 L864,1182 L865.5,1182.5 L867,1182.1 L868.5,1182.4 L870,1181.8 L871.5,1182.5 L873,1181.8 L874.5,1182.6 L877.5,1182.1 L879,1182.7 L880.5,1182.1 L882,1182 L883.5,1182.8 L886.5,1182.6 L888,1182 L889.5,1182.9 L891,1182.9 L892.5,1182.1 L894,1183 L897,1182.5 L898.5,1182.7 L900,1182.3 L903,1182.4 L904.5,1183.2 L906,1182.7 L907.5,1183.2 L916.5,1182.7 L918,1183.3 L919.5,1182.7 L921,1183.1 L922.5,1182.9 L924,1183.5 L928.5,1183.4 L930,1183.8 L933,1183.2 L936,1183.9 L939,1183.3 L943.5,1184.1 L945,1184.1 L946.5,1183.5 L948,1184.1 L949.5,1183.6 L951,1184 L952.5,1183.6 L955.5,1184.2 L961.5,1183.8 L963,1184.6 L970.5,1184.3 L972,1184.4 L973.5,1184.1 L975,1184.9 L978,1184.2 L979.5,1184.3 L981,1185 L984,1185 L985.5,1184.5 L991.5,1184.7 L993,1185 L994.5,1184.6 L997.5,1185.3 L999,1184.9 L1003.5,1185.8 L1006.5,1185.3 L1009.5,1185.4 L1012.5,1186 L1018.5,1186.1 L1020,1186.5 L1021.5,1185.9 L1023,1186 L1026,1186.9 L1029,1186.4 L1030.5,1187 L1033.5,1186.6 L1038,1187 L1044,1187 L1045.5,1186.5 L1048.5,1186.2 L1050,1186.9 L1051.5,1186.6 L1053,1185.9 L1059,1185.8 L1060.5,1186.2 L1062,1186.1 L1063.5,1185.2 L1066.5,1185.6 L1068,1184.8 L1069.5,1185.4 L1071,1184.9 L1074,1185.1 L1077,1184.3 L1084.5,1183.9 L1086,1184.3 L1093.5,1183.9 L1095,1183.2 L1099.5,1183 L1101,1183.4 L1113,1181.9 L1114.5,1182.3 L1116,1181.7 L1117.5,1182.1 L1119,1182.1 L1122,1181.1 L1123.5,1181.6 L1125,1180.9 L1131,1180.5 L1134,1181.1 L1135.5,1180.3 L1141.5,1179.8 L1143,1180.2 L1146,1179.4 L1147.5,1180 L1149,1179.6 L1152,1179.8 L1153.5,1178.9 L1155,1179.4 L1158,1178.6 L1161,1178.3 L1162.5,1178.6 L1164,1178.1 L1167,1178.6 L1168.5,1178.1 L1170,1178.4 L1173,1177.7 L1174.5,1177.9 L1176,1177.2 L1177.5,1177.9 L1180.5,1177.3 L1185,1175.7 L1186.5,1176.6 L1188,1176.3 L1191,1177.2 L1192.5,1178.1 L1198.5,1179.1 L1200,1178.9 L1204.5,1180.3 L1206,1179.9 L1207.5,1180.9 L1209,1181.2 L1210.5,1180.9 L1218,1182.7 L1222.5,1183.2 L1224,1184.2 L1234.5,1185.9 L1236,1185.7 L1237.5,1186.1 L1239,1185.5 L1240.5,1185.9 L1242,1185.3 L1243.5,1185.5 L1245,1185.2 L1246.5,1185.6 L1252.5,1184.8 L1254,1185 L1255.5,1184.4 L1258.5,1184.4 L1260,1183.8 L1263,1184.2 L1266,1183.7 L1267.5,1184 L1269,1183.1 L1270.5,1183.4 L1272,1182.9 L1275,1183 L1276.5,1182.7 L1278,1183.1 L1279.5,1182.4 L1281,1182.8 L1284,1181.9 L1285.5,1182.5 L1288.5,1182.1 L1290,1182.6 L1293,1181.7 L1294.5,1182.5 L1299,1181.7 L1303.5,1182 L1305,1181.7 L1306.5,1182 L1308,1181.7 L1311,1181.9 L1312.5,1181.3 L1314,1182 L1321.5,1181.4 L1324.5,1181.7 L1326,1180.9 L1329,1181.1 L1330.5,1180.9 L1339.5,1182 L1342.5,1181.6 L1344,1182.1 L1347,1182 L1348.5,1182.9 L1351.5,1182.6 L1353,1183.3 L1356,1183.2 L1357.5,1183.8 L1363.5,1183.9 L1365,1184.4 L1366.5,1184.3 L1368,1184.8 L1371,1184.4 L1372.5,1185.3 L1375.5,1184.9 L1377,1185 L1378.5,1185.6 L1380,1185.4 L1386,1186 L1387.5,1186.8 L1389,1186.2 L1390.5,1186.3 L1392,1187 L1395,1187.1 L1396.5,1187.6 L1398,1187.7 L1404,1187 L1405.5,1187.6 L1407,1187 L1410,1187.2 L1413,1187.1 L1416,1187.5 L1419,1187 L1423.5,1187.7 L1425,1186.9 L1428,1187.6 L1434,1187.4 L1435.5,1187 L1437,1187.1 L1438.5,1187.6 L1441.5,1187 L1446,1187.6 L1447.5,1186.9 L1449,1186.9 L1452,1187.6 L1453.5,1187.1 L1459.5,1187.5 L1461,1187.2 L1462.5,1187.6 L1465.5,1187.4 L1467,1186.8 L1468.5,1187.1 L1471.5,1186.8 L1473,1187.4 L1476,1187.3 L1480.5,1187.1 L1482,1186.6 L1483.5,1186.5 L1485,1187.4 L1486.5,1186.7 L1489.5,1187.1 L1491,1186.6 L1492.5,1186.9 L1494,1186.7 L1500,1187 L1504.5,1186.3 L1507.5,1187 L1509,1186.5 L1510.5,1186.8 L1513.5,1186.6 L1515,1186.9 L1516.5,1186.6 L1519.5,1186.9 L1521,1186.2 L1522.5,1186.6 L1524,1186.2 L1525.5,1186.7 L1530,1186.4 L1531.5,1186 L1537.5,1186.7 L1542,1185.9 L1545,1186.5 L1546.5,1185.8 L1548,1186.5 L1549.5,1186 L1551,1186.5 L1553.8,1186.1" fill="none" stroke="#1a1a1a" stroke-width="1.2"/>
<path d="M148.5,1195.4 L151.5,1195.8 L153,1196.3 L154.5,1195.6 L159,1196.1 L160.5,1195.8 L163.5,1196.2 L169.5,1195.7 L171,1196.2 L172.5,1196.1 L174,1196.4 L175.5,1195.9 L177,1196.3 L181.5,1196.6 L183,1196.2 L184.5,1196.5 L186,1196 L187.5,1196.5 L189,1196 L190.5,1196.8 L192,1196.2 L195,1196.9 L196.5,1196.2 L198,1196.9 L201,1196.3 L202.5,1196.3 L204,1196.9 L207,1196.9 L208.5,1196.5 L213,1196.9 L216,1196.4 L217.5,1197.1 L220.5,1197.1 L223.5,1196.2 L225,1196.9 L226.5,1196.4 L229.5,1196.5 L231,1195.8 L232.5,1196.4 L234,1195.8 L237,1196.1 L238.5,1195.9 L240,1196.3 L241.5,1195.4 L243,1196 L250.5,1195.5 L252,1195.6 L253.5,1195.2 L261,1195.4 L262.5,1194.6 L267,1194.9 L268.5,1194.4 L270,1194.8 L273,1194.3 L277.5,1194.7 L280.5,1194.1 L282,1194.4 L283.5,1193.7 L285,1194.4 L286.5,1194.1 L288,1194.4 L289.5,1193.5 L291,1194 L292.5,1193.6 L297,1194 L301.5,1193.4 L303,1194.1 L307.5,1193.2 L310.5,1193.3 L313.5,1193.9 L318,1193.5 L321,1194 L322.5,1193.3 L324,1194 L325.5,1193.3 L330,1193.3 L331.5,1193.6 L336,1193.5 L337.5,1193.1 L340.5,1193.9 L342,1193.9 L345,1193.3 L346.5,1193.8 L358.5,1193 L361.5,1193.5 L363,1192.8 L367.5,1193 L369,1192.6 L372,1193 L373.5,1192.3 L375,1193 L376.5,1192.2 L378,1192.9 L381,1192.8 L385.5,1191.8 L387,1191.9 L388.5,1192.5 L391.5,1191.8 L393,1192 L394.5,1191.5 L399,1192.1 L400.5,1191.6 L402,1191.7 L403.5,1191.1 L409.5,1191 L414,1191.2 L415.5,1191 L418.5,1191.2 L420,1190.7 L421.5,1191 L424.5,1190.1 L427.5,1190.6 L429,1190.4 L430.5,1190.8 L433.5,1190.1 L435,1190.6 L436.5,1190 L438,1190.3 L439.5,1190 L441,1190.7 L442.5,1190.1 L445.5,1190.4 L448.5,1189.9 L450,1190.3 L451.5,1189.9 L453,1190.2 L454.5,1189.9 L457.5,1190 L459,1190.5 L460.5,1189.9 L466.5,1189.9 L468,1189.5 L469.5,1189.8 L471,1189.7 L472.5,1190.2 L474,1189.5 L475.5,1189.9 L477,1189.4 L480,1189.8 L481.5,1189.6 L483,1189.8 L484.5,1189.3 L486,1189.6 L487.5,1189.2 L489,1189.8 L490.5,1189.5 L495,1189.9 L496.5,1189.4 L498,1189.7 L499.5,1189.5 L501,1189.8 L502.5,1189.5 L510,1189.6 L513,1189.5 L514.5,1190 L519,1189.3 L520.5,1189.6 L522,1189.4 L523.5,1190 L525,1189.2 L526.5,1189.8 L528,1189.4 L529.5,1189.8 L538.5,1189.9 L540,1190.1 L541.5,1189.7 L546,1189.9 L549,1189.5 L550.5,1190 L553.5,1189.4 L555,1189.9 L556.5,1190 L558,1189.4 L559.5,1190 L561,1189.4 L562.5,1189.2 L564,1190 L565.5,1190 L567,1189.2 L568.5,1189.7 L571.5,1189.1 L573,1189.7 L574.5,1189.1 L580.5,1189.3 L582,1189.7 L583.5,1189.1 L586.5,1189.3 L588,1189.8 L589.5,1189.5 L591,1189.6 L592.5,1189.1 L597,1189.4 L600,1188.9 L603,1189.2 L604.5,1188.9 L606,1189.5 L607.5,1189.1 L609,1189.4 L618,1189.3 L619.5,1189.6 L621,1189.2 L622.5,1189.9 L624,1189.9 L625.5,1189.2 L627,1189.3 L628.5,1189.9 L630,1189.4 L631.5,1189.8 L633,1189.6 L634.5,1190.2 L643.5,1190 L645,1190.6 L654,1190.3 L655.5,1190.5 L657,1190.3 L658.5,1190.6 L663,1190.6 L664.5,1191.1 L667.5,1190.7 L669,1191.4 L670.5,1191.3 L672,1190.7 L676.5,1190.9 L678,1191.4 L679.5,1191.3 L681,1191.8 L682.5,1191.3 L684,1191.7 L685.5,1191.2 L687,1191.8 L688.5,1191.2 L690,1191.9 L691.5,1191.2 L694.5,1191.7 L696,1191.4 L699,1192 L700.5,1191.5 L702,1192.4 L705,1192.1 L706.5,1192.4 L709.5,1192 L712.5,1192.5 L714,1192.2 L717,1192.8 L718.5,1192.4 L726,1192.2 L727.5,1192.9 L729,1192.3 L730.5,1192.2 L733.5,1192.8 L735,1192.3 L741,1192.9 L745.5,1192.1 L747,1192.6 L751.5,1191.7 L753,1192 L757.5,1191.7 L760.5,1192 L762,1191.8 L763.5,1191 L765,1191.5 L768,1191.4 L769.5,1191 L771,1191.5 L774,1191.4 L775.5,1191 L778.5,1191.2 L780,1190.4 L783,1190.5 L784.5,1190.9 L787.5,1190.4 L789,1190.5 L790.5,1190.1 L793.5,1190.8 L795,1190.1 L796.5,1190.6 L798,1189.9 L799.5,1190.1 L801,1189.9 L802.5,1190.4 L804,1189.7 L805.5,1190.4 L807,1190.2 L808.5,1189.4 L810,1189.7 L817.5,1189.6 L819,1189.2 L822,1189.8 L828,1189 L834,1188.8 L835.5,1188.4 L837,1189.1 L838.5,1188.3 L840,1188.3 L841.5,1186.7 L843,1185.9 L844.5,1184.5 L846,1184.9 L847.5,1184.5 L849,1185.2 L855,1184.9 L856.5,1185.5 L859.5,1184.8 L868.5,1185.8 L871.5,1185.3 L874.5,1186.1 L876,1185.6 L877.5,1186.2 L879,1185.8 L882,1186.6 L885,1186.1 L886.5,1186.8 L888,1186.3 L889.5,1186.6 L891,1186.3 L892.5,1186.9 L895.5,1186.4 L898.5,1187.3 L901.5,1187.1 L903,1187.4 L904.5,1186.8 L906,1187.4 L907.5,1186.9 L913.5,1187.8 L916.5,1187.3 L918,1187.8 L919.5,1187.5 L922.5,1187.7 L924,1188.3 L927,1188 L930,1188.5 L933,1188.2 L942,1188.9 L943.5,1188.5 L945,1189.1 L946.5,1189.1 L948,1188.6 L949.5,1188.6 L951,1189.3 L952.5,1189 L954,1189.6 L957,1188.9 L958.5,1189.4 L960,1188.9 L963,1189.1 L964.5,1189.6 L969,1189.7 L970.5,1190 L973.5,1189.6 L975,1189.9 L976.5,1189.7 L978,1190.3 L979.5,1189.6 L981,1190.1 L982.5,1189.8 L984,1190.1 L985.5,1189.9 L987,1190.3 L990,1190.4 L991.5,1190 L996,1190.1 L997.5,1190.7 L999,1190.2 L1002,1191.1 L1003.5,1191.3 L1005,1190.7 L1008,1190.9 L1009.5,1191.5 L1011,1191.2 L1012.5,1191.3 L1014,1191 L1017,1191.2 L1018.5,1191.8 L1023,1191.2 L1024.5,1191.8 L1026,1191.2 L1030.5,1191.6 L1035,1191.2 L1036.5,1191.7 L1038,1191.2 L1042.5,1191.3 L1045.5,1190.5 L1047,1190.9 L1048.5,1190.3 L1051.5,1190.5 L1053,1190 L1054.5,1190 L1056,1189.5 L1057.5,1190.2 L1059,1189.3 L1063.5,1189.4 L1065,1189 L1068,1189.2 L1069.5,1188.8 L1071,1189.1 L1072.5,1188.4 L1074,1188.2 L1075.5,1188.9 L1077,1188.2 L1078.5,1188.2 L1080,1187.9 L1081.5,1188.3 L1083,1187.6 L1086,1187.3 L1089,1188 L1092,1187.2 L1095,1187.5 L1096.5,1186.7 L1098,1187.2 L1099.5,1186.5 L1101,1186.3 L1102.5,1186.8 L1104,1186.1 L1108.5,1186.3 L1117.5,1185.4 L1119,1184.9 L1122,1185.3 L1123.5,1184.7 L1126.5,1185.2 L1129.5,1184.8 L1131,1184.2 L1132.5,1184.7 L1134,1183.8 L1137,1184.1 L1138.5,1183.7 L1140,1184 L1141.5,1183.4 L1143,1183.8 L1146,1183.2 L1149,1183.2 L1150.5,1182.6 L1152,1183.2 L1153.5,1183.2 L1156.5,1182.3 L1158,1182.7 L1159.5,1182.3 L1162.5,1182.5 L1164,1181.7 L1165.5,1181.5 L1167,1181.9 L1171.5,1180.9 L1173,1181.4 L1174.5,1180.9 L1176,1181.2 L1179,1180.4 L1182,1180.3 L1185,1179.5 L1186.5,1180.3 L1194,1181.1 L1195.5,1181.9 L1197,1181.6 L1198.5,1181.9 L1201.5,1183.1 L1203,1182.8 L1207.5,1183.6 L1210.5,1184.8 L1213.5,1184.8 L1216.5,1185.8 L1218,1185.5 L1221,1186.7 L1231.5,1188.9 L1233,1188.3 L1234.5,1189.4 L1236,1188.7 L1239,1188.8 L1240.5,1189.1 L1242,1188.4 L1245,1188.4 L1246.5,1188.9 L1248,1188.3 L1254,1188.5 L1255.5,1188.2 L1257,1188.6 L1263,1187.6 L1267.5,1188 L1269,1187.5 L1270.5,1187.7 L1273.5,1187 L1276.5,1187.2 L1281,1186.5 L1282.5,1187 L1284,1186.6 L1285.5,1186.7 L1288.5,1186.2 L1291.5,1186.8 L1293,1186.7 L1294.5,1186 L1296,1186.3 L1297.5,1186 L1299,1186.6 L1300.5,1186.3 L1306.5,1186.1 L1308,1186.5 L1314,1185.7 L1320,1186.2 L1321.5,1185.8 L1323,1186.3 L1329,1185.6 L1333.5,1186.3 L1336.5,1185.9 L1338,1186.3 L1339.5,1186 L1342.5,1187 L1344,1186.8 L1348.5,1187.4 L1350,1187.1 L1351.5,1187.7 L1353,1187.8 L1354.5,1187.3 L1356,1188.1 L1357.5,1187.7 L1359,1187.8 L1360.5,1188.6 L1362,1187.9 L1363.5,1188.1 L1365,1189 L1366.5,1188.5 L1371,1188.7 L1375.5,1189.1 L1377,1189.8 L1378.5,1189.5 L1380,1190.2 L1381.5,1190 L1383,1190.4 L1384.5,1190 L1387.5,1190.8 L1390.5,1191.2 L1392,1190.8 L1395,1191.4 L1396.5,1191.2 L1398,1191.7 L1399.5,1191.1 L1401,1191.4 L1404,1191.1 L1407,1191.8 L1410,1191.5 L1411.5,1192 L1414.5,1191.4 L1417.5,1192.3 L1422,1191.6 L1423.5,1192.2 L1425,1192.1 L1428,1192.7 L1429.5,1192 L1431,1192.1 L1432.5,1192.8 L1435.5,1192.5 L1437,1192.8 L1438.5,1192.4 L1441.5,1192.6 L1444.5,1191.7 L1446,1191.6 L1447.5,1192.4 L1452,1191.4 L1453.5,1191.4 L1455,1191.9 L1458,1191.2 L1461,1191.2 L1462.5,1191.7 L1465.5,1191.1 L1468.5,1191.3 L1470,1191 L1471.5,1191.8 L1474.5,1191.1 L1477.5,1191.8 L1479,1191.5 L1480.5,1191.7 L1482,1191 L1486.5,1191.5 L1492.5,1191.2 L1494,1191.7 L1495.5,1191.2 L1498.5,1191.6 L1503,1191.5 L1504.5,1190.9 L1506,1191 L1507.5,1191.6 L1509,1191.6 L1510.5,1191 L1513.5,1191.6 L1515,1190.9 L1519.5,1191.1 L1521,1190.9 L1522.5,1191.5 L1524,1191.2 L1525.5,1191.5 L1527,1190.7 L1528.5,1191.3 L1530,1190.7 L1533,1190.9 L1534.5,1191.4 L1536,1190.8 L1537.5,1191.5 L1539,1191 L1542,1191.5 L1545,1191.2 L1548,1191.3 L1549.5,1190.7 L1551,1191.1 L1553.8,1191.3 L1553.8,1551.4 L148.5,1549.2Z" fill="#BDBDBD"/>
<path d="M148.5,1195.4 L151.5,1195.8 L153,1196.3 L154.5,1195.6 L159,1196.1 L160.5,1195.8 L163.5,1196.2 L169.5,1195.7 L171,1196.2 L172.5,1196.1 L174,1196.4 L175.5,1195.9 L177,1196.3 L181.5,1196.6 L183,1196.2 L184.5,1196.5 L186,1196 L187.5,1196.5 L189,1196 L190.5,1196.8 L192,1196.2 L195,1196.9 L196.5,1196.2 L198,1196.9 L201,1196.3 L202.5,1196.3 L204,1196.9 L207,1196.9 L208.5,1196.5 L213,1196.9 L216,1196.4 L217.5,1197.1 L220.5,1197.1 L223.5,1196.2 L225,1196.9 L226.5,1196.4 L229.5,1196.5 L231,1195.8 L232.5,1196.4 L234,1195.8 L237,1196.1 L238.5,1195.9 L240,1196.3 L241.5,1195.4 L243,1196 L250.5,1195.5 L252,1195.6 L253.5,1195.2 L261,1195.4 L262.5,1194.6 L267,1194.9 L268.5,1194.4 L270,1194.8 L273,1194.3 L277.5,1194.7 L280.5,1194.1 L282,1194.4 L283.5,1193.7 L285,1194.4 L286.5,1194.1 L288,1194.4 L289.5,1193.5 L291,1194 L292.5,1193.6 L297,1194 L301.5,1193.4 L303,1194.1 L307.5,1193.2 L310.5,1193.3 L313.5,1193.9 L318,1193.5 L321,1194 L322.5,1193.3 L324,1194 L325.5,1193.3 L330,1193.3 L331.5,1193.6 L336,1193.5 L337.5,1193.1 L340.5,1193.9 L342,1193.9 L345,1193.3 L346.5,1193.8 L358.5,1193 L361.5,1193.5 L363,1192.8 L367.5,1193 L369,1192.6 L372,1193 L373.5,1192.3 L375,1193 L376.5,1192.2 L378,1192.9 L381,1192.8 L385.5,1191.8 L387,1191.9 L388.5,1192.5 L391.5,1191.8 L393,1192 L394.5,1191.5 L399,1192.1 L400.5,1191.6 L402,1191.7 L403.5,1191.1 L409.5,1191 L414,1191.2 L415.5,1191 L418.5,1191.2 L420,1190.7 L421.5,1191 L424.5,1190.1 L427.5,1190.6 L429,1190.4 L430.5,1190.8 L433.5,1190.1 L435,1190.6 L436.5,1190 L438,1190.3 L439.5,1190 L441,1190.7 L442.5,1190.1 L445.5,1190.4 L448.5,1189.9 L450,1190.3 L451.5,1189.9 L453,1190.2 L454.5,1189.9 L457.5,1190 L459,1190.5 L460.5,1189.9 L466.5,1189.9 L468,1189.5 L469.5,1189.8 L471,1189.7 L472.5,1190.2 L474,1189.5 L475.5,1189.9 L477,1189.4 L480,1189.8 L481.5,1189.6 L483,1189.8 L484.5,1189.3 L486,1189.6 L487.5,1189.2 L489,1189.8 L490.5,1189.5 L495,1189.9 L496.5,1189.4 L498,1189.7 L499.5,1189.5 L501,1189.8 L502.5,1189.5 L510,1189.6 L513,1189.5 L514.5,1190 L519,1189.3 L520.5,1189.6 L522,1189.4 L523.5,1190 L525,1189.2 L526.5,1189.8 L528,1189.4 L529.5,1189.8 L538.5,1189.9 L540,1190.1 L541.5,1189.7 L546,1189.9 L549,1189.5 L550.5,1190 L553.5,1189.4 L555,1189.9 L556.5,1190 L558,1189.4 L559.5,1190 L561,1189.4 L562.5,1189.2 L564,1190 L565.5,1190 L567,1189.2 L568.5,1189.7 L571.5,1189.1 L573,1189.7 L574.5,1189.1 L580.5,1189.3 L582,1189.7 L583.5,1189.1 L586.5,1189.3 L588,1189.8 L589.5,1189.5 L591,1189.6 L592.5,1189.1 L597,1189.4 L600,1188.9 L603,1189.2 L604.5,1188.9 L606,1189.5 L607.5,1189.1 L609,1189.4 L618,1189.3 L619.5,1189.6 L621,1189.2 L622.5,1189.9 L624,1189.9 L625.5,1189.2 L627,1189.3 L628.5,1189.9 L630,1189.4 L631.5,1189.8 L633,1189.6 L634.5,1190.2 L643.5,1190 L645,1190.6 L654,1190.3 L655.5,1190.5 L657,1190.3 L658.5,1190.6 L663,1190.6 L664.5,1191.1 L667.5,1190.7 L669,1191.4 L670.5,1191.3 L672,1190.7 L676.5,1190.9 L678,1191.4 L679.5,1191.3 L681,1191.8 L682.5,1191.3 L684,1191.7 L685.5,1191.2 L687,1191.8 L688.5,1191.2 L690,1191.9 L691.5,1191.2 L694.5,1191.7 L696,1191.4 L699,1192 L700.5,1191.5 L702,1192.4 L705,1192.1 L706.5,1192.4 L709.5,1192 L712.5,1192.5 L714,1192.2 L717,1192.8 L718.5,1192.4 L726,1192.2 L727.5,1192.9 L729,1192.3 L730.5,1192.2 L733.5,1192.8 L735,1192.3 L741,1192.9 L745.5,1192.1 L747,1192.6 L751.5,1191.7 L753,1192 L757.5,1191.7 L760.5,1192 L762,1191.8 L763.5,1191 L765,1191.5 L768,1191.4 L769.5,1191 L771,1191.5 L774,1191.4 L775.5,1191 L778.5,1191.2 L780,1190.4 L783,1190.5 L784.5,1190.9 L787.5,1190.4 L789,1190.5 L790.5,1190.1 L793.5,1190.8 L795,1190.1 L796.5,1190.6 L798,1189.9 L799.5,1190.1 L801,1189.9 L802.5,1190.4 L804,1189.7 L805.5,1190.4 L807,1190.2 L808.5,1189.4 L810,1189.7 L817.5,1189.6 L819,1189.2 L822,1189.8 L828,1189 L834,1188.8 L835.5,1188.4 L837,1189.1 L838.5,1188.3 L840,1188.3 L841.5,1186.7 L843,1185.9 L844.5,1184.5 L846,1184.9 L847.5,1184.5 L849,1185.2 L855,1184.9 L856.5,1185.5 L859.5,1184.8 L868.5,1185.8 L871.5,1185.3 L874.5,1186.1 L876,1185.6 L877.5,1186.2 L879,1185.8 L882,1186.6 L885,1186.1 L886.5,1186.8 L888,1186.3 L889.5,1186.6 L891,1186.3 L892.5,1186.9 L895.5,1186.4 L898.5,1187.3 L901.5,1187.1 L903,1187.4 L904.5,1186.8 L906,1187.4 L907.5,1186.9 L913.5,1187.8 L916.5,1187.3 L918,1187.8 L919.5,1187.5 L922.5,1187.7 L924,1188.3 L927,1188 L930,1188.5 L933,1188.2 L942,1188.9 L943.5,1188.5 L945,1189.1 L946.5,1189.1 L948,1188.6 L949.5,1188.6 L951,1189.3 L952.5,1189 L954,1189.6 L957,1188.9 L958.5,1189.4 L960,1188.9 L963,1189.1 L964.5,1189.6 L969,1189.7 L970.5,1190 L973.5,1189.6 L975,1189.9 L976.5,1189.7 L978,1190.3 L979.5,1189.6 L981,1190.1 L982.5,1189.8 L984,1190.1 L985.5,1189.9 L987,1190.3 L990,1190.4 L991.5,1190 L996,1190.1 L997.5,1190.7 L999,1190.2 L1002,1191.1 L1003.5,1191.3 L1005,1190.7 L1008,1190.9 L1009.5,1191.5 L1011,1191.2 L1012.5,1191.3 L1014,1191 L1017,1191.2 L1018.5,1191.8 L1023,1191.2 L1024.5,1191.8 L1026,1191.2 L1030.5,1191.6 L1035,1191.2 L1036.5,1191.7 L1038,1191.2 L1042.5,1191.3 L1045.5,1190.5 L1047,1190.9 L1048.5,1190.3 L1051.5,1190.5 L1053,1190 L1054.5,1190 L1056,1189.5 L1057.5,1190.2 L1059,1189.3 L1063.5,1189.4 L1065,1189 L1068,1189.2 L1069.5,1188.8 L1071,1189.1 L1072.5,1188.4 L1074,1188.2 L1075.5,1188.9 L1077,1188.2 L1078.5,1188.2 L1080,1187.9 L1081.5,1188.3 L1083,1187.6 L1086,1187.3 L1089,1188 L1092,1187.2 L1095,1187.5 L1096.5,1186.7 L1098,1187.2 L1099.5,1186.5 L1101,1186.3 L1102.5,1186.8 L1104,1186.1 L1108.5,1186.3 L1117.5,1185.4 L1119,1184.9 L1122,1185.3 L1123.5,1184.7 L1126.5,1185.2 L1129.5,1184.8 L1131,1184.2 L1132.5,1184.7 L1134,1183.8 L1137,1184.1 L1138.5,1183.7 L1140,1184 L1141.5,1183.4 L1143,1183.8 L1146,1183.2 L1149,1183.2 L1150.5,1182.6 L1152,1183.2 L1153.5,1183.2 L1156.5,1182.3 L1158,1182.7 L1159.5,1182.3 L1162.5,1182.5 L1164,1181.7 L1165.5,1181.5 L1167,1181.9 L1171.5,1180.9 L1173,1181.4 L1174.5,1180.9 L1176,1181.2 L1179,1180.4 L1182,1180.3 L1185,1179.5 L1186.5,1180.3 L1194,1181.1 L1195.5,1181.9 L1197,1181.6 L1198.5,1181.9 L1201.5,1183.1 L1203,1182.8 L1207.5,1183.6 L1210.5,1184.8 L1213.5,1184.8 L1216.5,1185.8 L1218,1185.5 L1221,1186.7 L1231.5,1188.9 L1233,1188.3 L1234.5,1189.4 L1236,1188.7 L1239,1188.8 L1240.5,1189.1 L1242,1188.4 L1245,1188.4 L1246.5,1188.9 L1248,1188.3 L1254,1188.5 L1255.5,1188.2 L1257,1188.6 L1263,1187.6 L1267.5,1188 L1269,1187.5 L1270.5,1187.7 L1273.5,1187 L1276.5,1187.2 L1281,1186.5 L1282.5,1187 L1284,1186.6 L1285.5,1186.7 L1288.5,1186.2 L1291.5,1186.8 L1293,1186.7 L1294.5,1186 L1296,1186.3 L1297.5,1186 L1299,1186.6 L1300.5,1186.3 L1306.5,1186.1 L1308,1186.5 L1314,1185.7 L1320,1186.2 L1321.5,1185.8 L1323,1186.3 L1329,1185.6 L1333.5,1186.3 L1336.5,1185.9 L1338,1186.3 L1339.5,1186 L1342.5,1187 L1344,1186.8 L1348.5,1187.4 L1350,1187.1 L1351.5,1187.7 L1353,1187.8 L1354.5,1187.3 L1356,1188.1 L1357.5,1187.7 L1359,1187.8 L1360.5,1188.6 L1362,1187.9 L1363.5,1188.1 L1365,1189 L1366.5,1188.5 L1371,1188.7 L1375.5,1189.1 L1377,1189.8 L1378.5,1189.5 L1380,1190.2 L1381.5,1190 L1383,1190.4 L1384.5,1190 L1387.5,1190.8 L1390.5,1191.2 L1392,1190.8 L1395,1191.4 L1396.5,1191.2 L1398,1191.7 L1399.5,1191.1 L1401,1191.4 L1404,1191.1 L1407,1191.8 L1410,1191.5 L1411.5,1192 L1414.5,1191.4 L1417.5,1192.3 L1422,1191.6 L1423.5,1192.2 L1425,1192.1 L1428,1192.7 L1429.5,1192 L1431,1192.1 L1432.5,1192.8 L1435.5,1192.5 L1437,1192.8 L1438.5,1192.4 L1441.5,1192.6 L1444.5,1191.7 L1446,1191.6 L1447.5,1192.4 L1452,1191.4 L1453.5,1191.4 L1455,1191.9 L1458,1191.2 L1461,1191.2 L1462.5,1191.7 L1465.5,1191.1 L1468.5,1191.3 L1470,1191 L1471.5,1191.8 L1474.5,1191.1 L1477.5,1191.8 L1479,1191.5 L1480.5,1191.7 L1482,1191 L1486.5,1191.5 L1492.5,1191.2 L1494,1191.7 L1495.5,1191.2 L1498.5,1191.6 L1503,1191.5 L1504.5,1190.9 L1506,1191 L1507.5,1191.6 L1509,1191.6 L1510.5,1191 L1513.5,1191.6 L1515,1190.9 L1519.5,1191.1 L1521,1190.9 L1522.5,1191.5 L1524,1191.2 L1525.5,1191.5 L1527,1190.7 L1528.5,1191.3 L1530,1190.7 L1533,1190.9 L1534.5,1191.4 L1536,1190.8 L1537.5,1191.5 L1539,1191 L1542,1191.5 L1545,1191.2 L1548,1191.3 L1549.5,1190.7 L1551,1191.1 L1553.8,1191.3" fill="none" stroke="#1a1a1a" stroke-width="1.2"/>
<path d="M148.5,1199.4 L151.5,1200 L154.5,1199.8 L156,1200.2 L157.5,1199.5 L159,1200 L160.5,1199.6 L162,1200.2 L165,1199.8 L166.5,1200.3 L169.5,1199.5 L172.5,1199.8 L174,1199.6 L177,1200.4 L178.5,1200.2 L180,1200.4 L183,1199.9 L184.5,1200.3 L186,1199.7 L190.5,1200.4 L192,1200.3 L193.5,1199.8 L195,1200.6 L196.5,1199.7 L201,1200.4 L202.5,1200.1 L207,1200.4 L208.5,1200.1 L210,1200.7 L211.5,1200.6 L213,1199.9 L214.5,1199.9 L216,1200.6 L217.5,1200.2 L219,1200.7 L220.5,1200 L223.5,1199.8 L225,1200.1 L226.5,1199.7 L229.5,1200.3 L231,1199.5 L234,1200.1 L235.5,1199.3 L237,1200 L238.5,1199.3 L240,1199.3 L241.5,1199.7 L244.5,1199.2 L246,1199.4 L249,1198.7 L252,1199.3 L255,1198.8 L258,1198.8 L259.5,1199.2 L261,1198.3 L262.5,1199.1 L264,1198.6 L268.5,1198.4 L270,1198.1 L273,1198.5 L274.5,1198.2 L276,1198.5 L277.5,1197.9 L279,1198.4 L285,1197.8 L286.5,1198.1 L289.5,1197.4 L291,1197.9 L292.5,1197.3 L295.5,1198 L303,1197.3 L304.5,1198.1 L309,1197.4 L310.5,1198.2 L312,1197.7 L313.5,1197.9 L319.5,1197.7 L321,1198.1 L322.5,1197.5 L324,1198.4 L325.5,1197.8 L328.5,1197.7 L330,1198.3 L337.5,1197.7 L339,1198.6 L340.5,1198.1 L343.5,1197.8 L345,1198.5 L346.5,1198.6 L348,1198.1 L349.5,1197.9 L351,1198.4 L352.5,1198 L354,1198 L355.5,1198.7 L358.5,1198.7 L360,1198 L361.5,1198.5 L363,1198 L364.5,1198 L369,1197.5 L372,1197.7 L373.5,1197.1 L378,1197.5 L381,1196.9 L382.5,1197.3 L384,1197.3 L387,1196.4 L393,1196.6 L394.5,1196 L396,1196.3 L397.5,1195.7 L402,1196.1 L403.5,1195.4 L405,1195.3 L406.5,1195.8 L409.5,1195.1 L412.5,1195.5 L414,1194.8 L415.5,1195.3 L421.5,1194.9 L423,1194.3 L424.5,1194.9 L426,1194.8 L427.5,1194.2 L429,1194.4 L432,1194.1 L433.5,1194.8 L435,1194.8 L436.5,1194.1 L438,1194.4 L439.5,1194.1 L442.5,1194.6 L447,1194.5 L450,1194 L451.5,1194.5 L454.5,1193.8 L456,1194.4 L457.5,1193.9 L459,1194.3 L460.5,1193.7 L465,1194.2 L466.5,1193.9 L468,1194.2 L469.5,1194 L471,1194.3 L472.5,1193.7 L474,1194.2 L477,1193.7 L478.5,1193.9 L480,1193.5 L481.5,1194.1 L484.5,1193.7 L487.5,1194 L489,1193.2 L490.5,1193.9 L493.5,1193.9 L495,1193.4 L496.5,1193.6 L498,1193.3 L499.5,1193.9 L502.5,1193.4 L505.5,1193.2 L510,1193.9 L511.5,1193.4 L513,1193.9 L516,1193.4 L517.5,1193.8 L519,1193.6 L520.5,1194.1 L523.5,1193.5 L525,1193.8 L526.5,1193.7 L528,1194.1 L529.5,1193.8 L531,1194.4 L534,1193.9 L535.5,1194.5 L538.5,1193.9 L540,1194.2 L543,1193.8 L544.5,1193.9 L546,1194.5 L547.5,1194.6 L549,1194.1 L550.5,1194.4 L553.5,1194.1 L556.5,1194.7 L558,1194 L559.5,1194.8 L561,1194.1 L564,1194.2 L565.5,1194.6 L567,1194.1 L568.5,1194.6 L571.5,1194.8 L573,1194.3 L576,1194.1 L577.5,1194.8 L579,1194.4 L582,1194.3 L583.5,1194.6 L585,1194.3 L586.5,1194.8 L588,1194.2 L589.5,1195 L594,1194.5 L595.5,1194.8 L597,1194.3 L598.5,1194.8 L600,1194.4 L603,1195.1 L604.5,1194.7 L607.5,1194.6 L609,1195.1 L610.5,1194.6 L613.5,1195 L615,1194.5 L616.5,1195 L618,1194.9 L619.5,1195.6 L624,1195.6 L625.5,1195.3 L628.5,1196 L630,1196.1 L631.5,1195.5 L636,1196.4 L643.5,1196.1 L645,1196.8 L646.5,1196.6 L649.5,1197 L651,1196.5 L658.5,1196.9 L660,1197.5 L661.5,1197.2 L664.5,1197.7 L667.5,1197.3 L672,1198.2 L675,1197.9 L676.5,1198.6 L681,1198.2 L682.5,1198.5 L684,1198.3 L685.5,1198.9 L687,1198.5 L688.5,1199.2 L690,1198.8 L691.5,1199.3 L693,1198.9 L696,1199.3 L697.5,1199.1 L699,1199.6 L700.5,1199.3 L702,1200.1 L703.5,1199.5 L708,1200.4 L709.5,1199.8 L711,1200.3 L712.5,1200 L714,1200.2 L715.5,1200.9 L717,1200.8 L718.5,1201 L721.5,1200.4 L729,1200.8 L730.5,1200.1 L733.5,1199.9 L735,1200.4 L736.5,1199.7 L738,1200.2 L739.5,1200.1 L741,1199.4 L742.5,1199.6 L744,1199.3 L747,1199.9 L750,1198.8 L753,1199 L754.5,1198.5 L756,1199.3 L757.5,1198.6 L759,1199.1 L762,1198.4 L763.5,1198.6 L766.5,1198 L769.5,1198.3 L771,1197.7 L772.5,1198.4 L775.5,1197.4 L778.5,1197.3 L780,1198.1 L784.5,1197.3 L789,1197.5 L790.5,1197 L793.5,1197.6 L796.5,1197.4 L798,1196.9 L801,1197.2 L802.5,1196.4 L805.5,1196.8 L807,1196.4 L808.5,1196.9 L810,1196.9 L811.5,1196.2 L813,1196.6 L814.5,1196.3 L816,1196.6 L817.5,1196.1 L820.5,1196.4 L822,1195.6 L826.5,1195.6 L828,1195.9 L832.5,1195.3 L837,1195.5 L840,1194.9 L841.5,1193.2 L844.5,1189.3 L846,1189.9 L847.5,1189.6 L849,1190.4 L850.5,1190.5 L852,1189.9 L858,1191 L859.5,1190.7 L861,1191.4 L865.5,1191.2 L867,1192.1 L868.5,1192.1 L870,1191.7 L876,1192.5 L877.5,1193 L879,1192.7 L882,1192.8 L883.5,1193.4 L888,1193.6 L889.5,1194 L897,1194.7 L898.5,1194.2 L901.5,1195.1 L904.5,1195.1 L907.5,1195.6 L910.5,1195.3 L912,1195.9 L915,1196.3 L916.5,1195.5 L922.5,1196.2 L924,1196.9 L927,1196.4 L928.5,1197.1 L931.5,1196.8 L933,1197.4 L934.5,1196.6 L936,1197.3 L940.5,1197 L942,1197.5 L943.5,1197.2 L946.5,1198.2 L949.5,1197.5 L951,1198.2 L955.5,1198.2 L957,1198.7 L960,1198.2 L963,1198.4 L964.5,1199 L970.5,1198.5 L972,1199.2 L973.5,1199.4 L975,1198.7 L976.5,1199.5 L979.5,1199.8 L981,1199.1 L982.5,1199.8 L984,1199.3 L987,1199.5 L988.5,1200 L990,1199.6 L994.5,1200.1 L996,1199.7 L999,1200.6 L1009.5,1200.5 L1011,1201 L1015.5,1200.6 L1017,1201.4 L1024.5,1200.1 L1026,1200.5 L1027.5,1199.9 L1032,1200 L1041,1199.1 L1042.5,1198.1 L1044,1198.1 L1045.5,1198.6 L1047,1197.7 L1048.5,1197.5 L1050,1197.8 L1051.5,1197.2 L1053,1197.3 L1054.5,1196.7 L1056,1197.1 L1063.5,1195.7 L1065,1196.2 L1066.5,1195.5 L1069.5,1195.9 L1071,1195.3 L1072.5,1195.6 L1074,1195 L1075.5,1195.6 L1077,1194.6 L1081.5,1194.7 L1084.5,1194.5 L1086,1194.7 L1087.5,1193.9 L1089,1194.1 L1090.5,1193.6 L1092,1194 L1098,1193.5 L1099.5,1193.7 L1101,1193.3 L1102.5,1193.4 L1108.5,1192.5 L1113,1192.6 L1116,1191.7 L1117.5,1191.9 L1123.5,1191.3 L1126.5,1191.5 L1129.5,1190.7 L1132.5,1191 L1137,1190.1 L1138.5,1190.4 L1140,1189.7 L1141.5,1189.6 L1143,1190.1 L1147.5,1189.7 L1149,1189.3 L1153.5,1189.3 L1155,1188.5 L1156.5,1188.9 L1159.5,1188.1 L1161,1188.2 L1162.5,1187.8 L1165.5,1188.4 L1167,1187.6 L1173,1187.6 L1176,1186.8 L1180.5,1187.1 L1183.5,1185.9 L1186.5,1185.8 L1195.5,1187.6 L1200,1188.1 L1201.5,1188.7 L1204.5,1189 L1206,1189.8 L1209,1189.7 L1210.5,1190.4 L1212,1190.2 L1215,1190.7 L1216.5,1191.4 L1219.5,1191.2 L1230,1193.8 L1231.5,1193.2 L1234.5,1194.1 L1236,1194 L1237.5,1194.5 L1242,1194.5 L1243.5,1194.8 L1245,1194.4 L1246.5,1194.9 L1248,1194.6 L1249.5,1195.3 L1251,1195.1 L1252.5,1195.5 L1255.5,1195.4 L1257,1195 L1258.5,1195.2 L1260,1195 L1261.5,1195.7 L1263,1195.1 L1264.5,1195.4 L1270.5,1194.7 L1272,1195.2 L1273.5,1194.9 L1275,1195 L1276.5,1194.4 L1278,1195.1 L1281,1194.8 L1282.5,1194.2 L1284,1194.5 L1290,1193.9 L1294.5,1194.3 L1296,1193.9 L1299,1194.3 L1305,1193.6 L1308,1194.3 L1311,1194 L1312.5,1193.4 L1315.5,1194.2 L1317,1193.9 L1318.5,1194.4 L1320,1193.9 L1321.5,1194.6 L1323,1194 L1326,1194.3 L1327.5,1194.1 L1329,1194.7 L1330.5,1194.1 L1333.5,1194.1 L1335,1194.6 L1338,1194.5 L1339.5,1195.3 L1342.5,1195 L1344,1195.5 L1345.5,1195 L1347,1194.9 L1348.5,1195.6 L1351.5,1195.2 L1353,1195.9 L1356,1195.6 L1359,1196.3 L1360.5,1196 L1362,1196.1 L1363.5,1196.6 L1369.5,1196.9 L1371,1196.6 L1372.5,1197 L1381.5,1197.2 L1383,1197.8 L1386,1197.9 L1387.5,1198.4 L1389,1197.7 L1390.5,1198.4 L1392,1198.6 L1393.5,1198 L1398,1199 L1402.5,1198.4 L1404,1199.2 L1405.5,1198.8 L1407,1198.9 L1408.5,1198.6 L1414.5,1199.8 L1417.5,1200 L1419,1200.4 L1420.5,1200.1 L1422,1200.6 L1426.5,1200.4 L1428,1201.3 L1431,1201.8 L1437,1201.3 L1438.5,1201.4 L1440,1200.8 L1444.5,1201 L1446,1200.1 L1447.5,1200.5 L1450.5,1199.6 L1453.5,1199.9 L1456.5,1198.9 L1459.5,1198.9 L1461,1199.2 L1462.5,1198.8 L1465.5,1199.3 L1467,1198.8 L1468.5,1199.5 L1473,1198.7 L1476,1199.4 L1477.5,1199.3 L1479,1198.7 L1485,1198.7 L1486.5,1199.5 L1489.5,1198.9 L1491,1199.6 L1492.5,1199 L1495.5,1198.9 L1497,1199.6 L1500,1199 L1503,1199.5 L1504.5,1199 L1507.5,1199.5 L1510.5,1198.9 L1512,1199.7 L1525.5,1199 L1530,1199.8 L1534.5,1199.3 L1537.5,1199.8 L1542,1199.9 L1543.5,1199.6 L1548,1199.9 L1553.8,1199.4 L1553.8,1551.4 L148.5,1549.2Z" fill="#9A9A9A"/>
<path d="M148.5,1199.4 L151.5,1200 L154.5,1199.8 L156,1200.2 L157.5,1199.5 L159,1200 L160.5,1199.6 L162,1200.2 L165,1199.8 L166.5,1200.3 L169.5,1199.5 L172.5,1199.8 L174,1199.6 L177,1200.4 L178.5,1200.2 L180,1200.4 L183,1199.9 L184.5,1200.3 L186,1199.7 L190.5,1200.4 L192,1200.3 L193.5,1199.8 L195,1200.6 L196.5,1199.7 L201,1200.4 L202.5,1200.1 L207,1200.4 L208.5,1200.1 L210,1200.7 L211.5,1200.6 L213,1199.9 L214.5,1199.9 L216,1200.6 L217.5,1200.2 L219,1200.7 L220.5,1200 L223.5,1199.8 L225,1200.1 L226.5,1199.7 L229.5,1200.3 L231,1199.5 L234,1200.1 L235.5,1199.3 L237,1200 L238.5,1199.3 L240,1199.3 L241.5,1199.7 L244.5,1199.2 L246,1199.4 L249,1198.7 L252,1199.3 L255,1198.8 L258,1198.8 L259.5,1199.2 L261,1198.3 L262.5,1199.1 L264,1198.6 L268.5,1198.4 L270,1198.1 L273,1198.5 L274.5,1198.2 L276,1198.5 L277.5,1197.9 L279,1198.4 L285,1197.8 L286.5,1198.1 L289.5,1197.4 L291,1197.9 L292.5,1197.3 L295.5,1198 L303,1197.3 L304.5,1198.1 L309,1197.4 L310.5,1198.2 L312,1197.7 L313.5,1197.9 L319.5,1197.7 L321,1198.1 L322.5,1197.5 L324,1198.4 L325.5,1197.8 L328.5,1197.7 L330,1198.3 L337.5,1197.7 L339,1198.6 L340.5,1198.1 L343.5,1197.8 L345,1198.5 L346.5,1198.6 L348,1198.1 L349.5,1197.9 L351,1198.4 L352.5,1198 L354,1198 L355.5,1198.7 L358.5,1198.7 L360,1198 L361.5,1198.5 L363,1198 L364.5,1198 L369,1197.5 L372,1197.7 L373.5,1197.1 L378,1197.5 L381,1196.9 L382.5,1197.3 L384,1197.3 L387,1196.4 L393,1196.6 L394.5,1196 L396,1196.3 L397.5,1195.7 L402,1196.1 L403.5,1195.4 L405,1195.3 L406.5,1195.8 L409.5,1195.1 L412.5,1195.5 L414,1194.8 L415.5,1195.3 L421.5,1194.9 L423,1194.3 L424.5,1194.9 L426,1194.8 L427.5,1194.2 L429,1194.4 L432,1194.1 L433.5,1194.8 L435,1194.8 L436.5,1194.1 L438,1194.4 L439.5,1194.1 L442.5,1194.6 L447,1194.5 L450,1194 L451.5,1194.5 L454.5,1193.8 L456,1194.4 L457.5,1193.9 L459,1194.3 L460.5,1193.7 L465,1194.2 L466.5,1193.9 L468,1194.2 L469.5,1194 L471,1194.3 L472.5,1193.7 L474,1194.2 L477,1193.7 L478.5,1193.9 L480,1193.5 L481.5,1194.1 L484.5,1193.7 L487.5,1194 L489,1193.2 L490.5,1193.9 L493.5,1193.9 L495,1193.4 L496.5,1193.6 L498,1193.3 L499.5,1193.9 L502.5,1193.4 L505.5,1193.2 L510,1193.9 L511.5,1193.4 L513,1193.9 L516,1193.4 L517.5,1193.8 L519,1193.6 L520.5,1194.1 L523.5,1193.5 L525,1193.8 L526.5,1193.7 L528,1194.1 L529.5,1193.8 L531,1194.4 L534,1193.9 L535.5,1194.5 L538.5,1193.9 L540,1194.2 L543,1193.8 L544.5,1193.9 L546,1194.5 L547.5,1194.6 L549,1194.1 L550.5,1194.4 L553.5,1194.1 L556.5,1194.7 L558,1194 L559.5,1194.8 L561,1194.1 L564,1194.2 L565.5,1194.6 L567,1194.1 L568.5,1194.6 L571.5,1194.8 L573,1194.3 L576,1194.1 L577.5,1194.8 L579,1194.4 L582,1194.3 L583.5,1194.6 L585,1194.3 L586.5,1194.8 L588,1194.2 L589.5,1195 L594,1194.5 L595.5,1194.8 L597,1194.3 L598.5,1194.8 L600,1194.4 L603,1195.1 L604.5,1194.7 L607.5,1194.6 L609,1195.1 L610.5,1194.6 L613.5,1195 L615,1194.5 L616.5,1195 L618,1194.9 L619.5,1195.6 L624,1195.6 L625.5,1195.3 L628.5,1196 L630,1196.1 L631.5,1195.5 L636,1196.4 L643.5,1196.1 L645,1196.8 L646.5,1196.6 L649.5,1197 L651,1196.5 L658.5,1196.9 L660,1197.5 L661.5,1197.2 L664.5,1197.7 L667.5,1197.3 L672,1198.2 L675,1197.9 L676.5,1198.6 L681,1198.2 L682.5,1198.5 L684,1198.3 L685.5,1198.9 L687,1198.5 L688.5,1199.2 L690,1198.8 L691.5,1199.3 L693,1198.9 L696,1199.3 L697.5,1199.1 L699,1199.6 L700.5,1199.3 L702,1200.1 L703.5,1199.5 L708,1200.4 L709.5,1199.8 L711,1200.3 L712.5,1200 L714,1200.2 L715.5,1200.9 L717,1200.8 L718.5,1201 L721.5,1200.4 L729,1200.8 L730.5,1200.1 L733.5,1199.9 L735,1200.4 L736.5,1199.7 L738,1200.2 L739.5,1200.1 L741,1199.4 L742.5,1199.6 L744,1199.3 L747,1199.9 L750,1198.8 L753,1199 L754.5,1198.5 L756,1199.3 L757.5,1198.6 L759,1199.1 L762,1198.4 L763.5,1198.6 L766.5,1198 L769.5,1198.3 L771,1197.7 L772.5,1198.4 L775.5,1197.4 L778.5,1197.3 L780,1198.1 L784.5,1197.3 L789,1197.5 L790.5,1197 L793.5,1197.6 L796.5,1197.4 L798,1196.9 L801,1197.2 L802.5,1196.4 L805.5,1196.8 L807,1196.4 L808.5,1196.9 L810,1196.9 L811.5,1196.2 L813,1196.6 L814.5,1196.3 L816,1196.6 L817.5,1196.1 L820.5,1196.4 L822,1195.6 L826.5,1195.6 L828,1195.9 L832.5,1195.3 L837,1195.5 L840,1194.9 L841.5,1193.2 L844.5,1189.3 L846,1189.9 L847.5,1189.6 L849,1190.4 L850.5,1190.5 L852,1189.9 L858,1191 L859.5,1190.7 L861,1191.4 L865.5,1191.2 L867,1192.1 L868.5,1192.1 L870,1191.7 L876,1192.5 L877.5,1193 L879,1192.7 L882,1192.8 L883.5,1193.4 L888,1193.6 L889.5,1194 L897,1194.7 L898.5,1194.2 L901.5,1195.1 L904.5,1195.1 L907.5,1195.6 L910.5,1195.3 L912,1195.9 L915,1196.3 L916.5,1195.5 L922.5,1196.2 L924,1196.9 L927,1196.4 L928.5,1197.1 L931.5,1196.8 L933,1197.4 L934.5,1196.6 L936,1197.3 L940.5,1197 L942,1197.5 L943.5,1197.2 L946.5,1198.2 L949.5,1197.5 L951,1198.2 L955.5,1198.2 L957,1198.7 L960,1198.2 L963,1198.4 L964.5,1199 L970.5,1198.5 L972,1199.2 L973.5,1199.4 L975,1198.7 L976.5,1199.5 L979.5,1199.8 L981,1199.1 L982.5,1199.8 L984,1199.3 L987,1199.5 L988.5,1200 L990,1199.6 L994.5,1200.1 L996,1199.7 L999,1200.6 L1009.5,1200.5 L1011,1201 L1015.5,1200.6 L1017,1201.4 L1024.5,1200.1 L1026,1200.5 L1027.5,1199.9 L1032,1200 L1041,1199.1 L1042.5,1198.1 L1044,1198.1 L1045.5,1198.6 L1047,1197.7 L1048.5,1197.5 L1050,1197.8 L1051.5,1197.2 L1053,1197.3 L1054.5,1196.7 L1056,1197.1 L1063.5,1195.7 L1065,1196.2 L1066.5,1195.5 L1069.5,1195.9 L1071,1195.3 L1072.5,1195.6 L1074,1195 L1075.5,1195.6 L1077,1194.6 L1081.5,1194.7 L1084.5,1194.5 L1086,1194.7 L1087.5,1193.9 L1089,1194.1 L1090.5,1193.6 L1092,1194 L1098,1193.5 L1099.5,1193.7 L1101,1193.3 L1102.5,1193.4 L1108.5,1192.5 L1113,1192.6 L1116,1191.7 L1117.5,1191.9 L1123.5,1191.3 L1126.5,1191.5 L1129.5,1190.7 L1132.5,1191 L1137,1190.1 L1138.5,1190.4 L1140,1189.7 L1141.5,1189.6 L1143,1190.1 L1147.5,1189.7 L1149,1189.3 L1153.5,1189.3 L1155,1188.5 L1156.5,1188.9 L1159.5,1188.1 L1161,1188.2 L1162.5,1187.8 L1165.5,1188.4 L1167,1187.6 L1173,1187.6 L1176,1186.8 L1180.5,1187.1 L1183.5,1185.9 L1186.5,1185.8 L1195.5,1187.6 L1200,1188.1 L1201.5,1188.7 L1204.5,1189 L1206,1189.8 L1209,1189.7 L1210.5,1190.4 L1212,1190.2 L1215,1190.7 L1216.5,1191.4 L1219.5,1191.2 L1230,1193.8 L1231.5,1193.2 L1234.5,1194.1 L1236,1194 L1237.5,1194.5 L1242,1194.5 L1243.5,1194.8 L1245,1194.4 L1246.5,1194.9 L1248,1194.6 L1249.5,1195.3 L1251,1195.1 L1252.5,1195.5 L1255.5,1195.4 L1257,1195 L1258.5,1195.2 L1260,1195 L1261.5,1195.7 L1263,1195.1 L1264.5,1195.4 L1270.5,1194.7 L1272,1195.2 L1273.5,1194.9 L1275,1195 L1276.5,1194.4 L1278,1195.1 L1281,1194.8 L1282.5,1194.2 L1284,1194.5 L1290,1193.9 L1294.5,1194.3 L1296,1193.9 L1299,1194.3 L1305,1193.6 L1308,1194.3 L1311,1194 L1312.5,1193.4 L1315.5,1194.2 L1317,1193.9 L1318.5,1194.4 L1320,1193.9 L1321.5,1194.6 L1323,1194 L1326,1194.3 L1327.5,1194.1 L1329,1194.7 L1330.5,1194.1 L1333.5,1194.1 L1335,1194.6 L1338,1194.5 L1339.5,1195.3 L1342.5,1195 L1344,1195.5 L1345.5,1195 L1347,1194.9 L1348.5,1195.6 L1351.5,1195.2 L1353,1195.9 L1356,1195.6 L1359,1196.3 L1360.5,1196 L1362,1196.1 L1363.5,1196.6 L1369.5,1196.9 L1371,1196.6 L1372.5,1197 L1381.5,1197.2 L1383,1197.8 L1386,1197.9 L1387.5,1198.4 L1389,1197.7 L1390.5,1198.4 L1392,1198.6 L1393.5,1198 L1398,1199 L1402.5,1198.4 L1404,1199.2 L1405.5,1198.8 L1407,1198.9 L1408.5,1198.6 L1414.5,1199.8 L1417.5,1200 L1419,1200.4 L1420.5,1200.1 L1422,1200.6 L1426.5,1200.4 L1428,1201.3 L1431,1201.8 L1437,1201.3 L1438.5,1201.4 L1440,1200.8 L1444.5,1201 L1446,1200.1 L1447.5,1200.5 L1450.5,1199.6 L1453.5,1199.9 L1456.5,1198.9 L1459.5,1198.9 L1461,1199.2 L1462.5,1198.8 L1465.5,1199.3 L1467,1198.8 L1468.5,1199.5 L1473,1198.7 L1476,1199.4 L1477.5,1199.3 L1479,1198.7 L1485,1198.7 L1486.5,1199.5 L1489.5,1198.9 L1491,1199.6 L1492.5,1199 L1495.5,1198.9 L1497,1199.6 L1500,1199 L1503,1199.5 L1504.5,1199 L1507.5,1199.5 L1510.5,1198.9 L1512,1199.7 L1525.5,1199 L1530,1199.8 L1534.5,1199.3 L1537.5,1199.8 L1542,1199.9 L1543.5,1199.6 L1548,1199.9 L1553.8,1199.4" fill="none" stroke="#1a1a1a" stroke-width="1.2"/>
<path d="M148.5,1201.8 L150,1202.3 L153,1202.4 L154.5,1201.7 L156,1202.5 L159,1202.4 L160.5,1201.8 L162,1202.4 L163.5,1201.8 L165,1201.8 L166.5,1202.5 L171,1202.4 L172.5,1201.8 L174,1202.4 L177,1201.9 L180,1202.3 L181.5,1202 L183,1202.7 L186,1202 L189,1202.3 L190.5,1202 L195,1202.2 L196.5,1202.5 L201,1202 L204,1202.3 L205.5,1202 L210,1202.2 L211.5,1202.6 L217.5,1202.3 L219,1202 L222,1202.5 L228,1202.3 L229.5,1201.9 L231,1202.4 L235.5,1201.6 L238.5,1202.1 L240,1201.4 L241.5,1201.7 L243,1201.2 L244.5,1201.9 L247.5,1201.6 L249,1201.1 L250.5,1201.3 L253.5,1200.9 L255,1201.4 L256.5,1200.8 L259.5,1201.3 L264,1200.5 L265.5,1200.9 L270,1200.5 L271.5,1201 L274.5,1200.3 L276,1200.7 L277.5,1200.1 L279,1200.5 L282,1200 L289.5,1200.4 L291,1200.1 L292.5,1200.3 L295.5,1199.5 L297,1199.6 L298.5,1200.4 L300,1199.7 L301.5,1200.1 L303,1199.7 L304.5,1200.5 L306,1200 L307.5,1200.2 L309,1200 L310.5,1200.4 L313.5,1200.2 L316.5,1200.7 L319.5,1200.2 L324,1201 L330,1200.7 L331.5,1201.2 L333,1200.5 L336,1201 L337.5,1200.6 L342,1200.9 L343.5,1201.4 L346.5,1200.8 L348,1201.4 L352.5,1201.4 L354,1201.1 L357,1201.3 L363,1200.9 L367.5,1201.2 L369,1200.4 L373.5,1200.5 L378,1199.8 L379.5,1200.4 L381,1199.6 L382.5,1200.1 L385.5,1199.2 L387,1199.4 L388.5,1199.1 L393,1199.5 L399,1198.5 L405,1198.7 L406.5,1197.8 L408,1198.3 L412.5,1197.4 L414,1197.7 L415.5,1197.4 L417,1197.7 L420,1197.5 L421.5,1196.9 L424.5,1197.3 L427.5,1196.7 L429,1197.2 L430.5,1196.5 L432,1197.1 L436.5,1197.1 L438,1196.6 L439.5,1197 L441,1196.3 L444,1197.1 L445.5,1196.3 L447,1196.6 L451.5,1196.3 L460.5,1196.5 L462,1196.1 L465,1196.8 L466.5,1196.2 L468,1196.2 L469.5,1196.7 L471,1196.1 L472.5,1196.6 L474,1196 L475.5,1196.6 L480,1196.4 L481.5,1195.9 L486,1196.2 L487.5,1196 L490.5,1196.2 L493.5,1195.9 L495,1196.2 L496.5,1195.6 L498,1196 L499.5,1195.5 L501,1196.1 L502.5,1195.8 L504,1196.4 L505.5,1195.9 L508.5,1195.9 L510,1196.3 L519,1196.5 L522,1196.7 L523.5,1196 L525,1196.9 L526.5,1196.7 L528,1196.9 L529.5,1196.4 L535.5,1197.1 L537,1196.7 L541.5,1196.7 L543,1197 L544.5,1196.6 L546,1197 L549,1196.8 L550.5,1197.5 L552,1196.8 L556.5,1196.9 L558,1197.6 L561,1197.7 L565.5,1197 L567,1197.4 L573,1197.1 L574.5,1197.6 L577.5,1198 L579,1197.5 L582,1197.6 L586.5,1197.4 L592.5,1197.4 L594,1198 L595.5,1197.4 L600,1198.3 L601.5,1197.8 L603,1198.2 L607.5,1197.7 L612,1197.9 L613.5,1198.5 L618,1198.3 L621,1199.1 L622.5,1198.8 L624,1199.1 L625.5,1198.9 L628.5,1199.5 L630,1199.2 L633,1199.8 L636,1199.5 L639,1200.4 L640.5,1199.8 L642,1199.9 L643.5,1200.5 L645,1200 L646.5,1200.8 L649.5,1200.3 L651,1201 L654,1200.6 L657,1201.5 L660,1201.7 L661.5,1201.1 L666,1202.1 L667.5,1201.5 L669,1201.5 L670.5,1202.2 L672,1201.7 L673.5,1202.7 L675,1202 L678,1202.4 L679.5,1203 L681,1202.6 L684,1203.5 L685.5,1202.9 L687,1202.9 L688.5,1203.4 L693,1203.4 L694.5,1204.2 L696,1203.5 L702,1204.8 L703.5,1204.1 L709.5,1205.2 L711,1204.8 L712.5,1204.8 L714,1205.7 L715.5,1205 L718.5,1206 L720,1205.6 L721.5,1206 L726,1205.2 L727.5,1205.5 L729,1204.7 L733.5,1205 L735,1204.5 L736.5,1205 L738,1204.2 L739.5,1204.7 L741,1204.1 L742.5,1204.3 L744,1203.6 L745.5,1203.6 L747,1204.2 L748.5,1203.3 L750,1203.5 L751.5,1203.1 L754.5,1203.5 L756,1202.9 L757.5,1203.3 L759,1202.8 L760.5,1202.9 L765,1202.4 L766.5,1202.7 L768,1202 L772.5,1202.5 L774,1201.9 L775.5,1202.3 L778.5,1201.6 L780,1201.5 L781.5,1202.2 L784.5,1201.6 L790.5,1201.7 L793.5,1200.8 L795,1201.5 L796.5,1200.7 L798,1201.5 L804,1200.4 L805.5,1201.1 L807,1200.3 L808.5,1200.3 L810,1200.7 L813,1200.1 L814.5,1200.4 L816,1200.2 L817.5,1200.6 L819,1199.7 L823.5,1200.2 L825,1199.5 L826.5,1200.2 L828,1199.3 L829.5,1199.9 L832.5,1199.7 L834,1199.2 L840,1198.8 L841.5,1196.5 L844.5,1192.9 L846,1193.2 L847.5,1193.1 L849,1193.5 L850.5,1193.4 L852,1193.9 L855,1193.6 L856.5,1194.2 L859.5,1194.3 L861,1194.9 L862.5,1194.5 L867,1195.9 L871.5,1195.7 L873,1196.5 L874.5,1196.1 L879,1196.7 L880.5,1197.2 L883.5,1197 L885,1197.7 L886.5,1197.4 L888,1198.3 L892.5,1198.3 L894,1198.8 L895.5,1198.6 L898.5,1199 L900,1199.7 L903,1200.1 L904.5,1199.7 L906,1200.2 L907.5,1200 L909,1200.6 L910.5,1200.2 L913.5,1200.4 L915,1201.1 L919.5,1200.9 L921,1201.7 L924,1201.1 L925.5,1201.9 L927,1201.4 L930,1201.7 L931.5,1202.6 L933,1202 L937.5,1202.2 L940.5,1203.1 L943.5,1203.2 L945,1202.7 L946.5,1203.1 L949.5,1203 L957,1204.1 L958.5,1203.7 L961.5,1204.3 L967.5,1204.1 L970.5,1204.9 L972,1204.5 L973.5,1205.1 L975,1204.6 L976.5,1205.2 L978,1204.9 L979.5,1205.2 L981,1205 L982.5,1205.5 L984,1204.9 L987,1205.3 L988.5,1205.9 L990,1205.5 L991.5,1205.9 L993,1205.4 L994.5,1205.3 L996,1206.1 L997.5,1205.6 L999,1206.4 L1000.5,1205.8 L1002,1206.5 L1003.5,1205.9 L1005,1206.7 L1008,1206.8 L1009.5,1206.2 L1011,1207 L1012.5,1206.6 L1017,1207.1 L1023,1205.6 L1026,1205.9 L1030.5,1204.6 L1032,1204.9 L1035,1204 L1036.5,1203.9 L1038,1203.3 L1042.5,1202.6 L1044,1202.9 L1045.5,1202.8 L1047,1202 L1048.5,1202.3 L1056,1200.7 L1059,1200.8 L1060.5,1200.2 L1063.5,1200.1 L1065,1200.4 L1066.5,1199.9 L1068,1200.1 L1071,1199.7 L1072.5,1199.2 L1074,1199.6 L1075.5,1198.9 L1078.5,1199.3 L1080,1198.5 L1083,1198.8 L1084.5,1198.2 L1086,1198.6 L1087.5,1198 L1089,1198.5 L1090.5,1197.6 L1093.5,1197.9 L1095,1197.4 L1098,1197.8 L1099.5,1197 L1101,1197.3 L1102.5,1197 L1104,1197.5 L1107,1196.3 L1108.5,1197 L1113,1196 L1114.5,1196.2 L1119,1195.5 L1120.5,1195.9 L1122,1195.7 L1125,1194.9 L1126.5,1195.5 L1128,1194.5 L1129.5,1194.9 L1131,1194.4 L1135.5,1194.1 L1137,1194.6 L1143,1194 L1144.5,1193.5 L1149,1192.9 L1150.5,1193.2 L1153.5,1192.9 L1155,1192.4 L1156.5,1192.6 L1159.5,1191.9 L1161,1192.3 L1165.5,1191.5 L1167,1191.7 L1168.5,1191.1 L1170,1191.6 L1176,1191.2 L1177.5,1190.4 L1179,1190.8 L1182,1190.6 L1183.5,1190 L1185,1189.8 L1188,1190.5 L1189.5,1190.1 L1192.5,1191.1 L1194,1191 L1195.5,1191.7 L1197,1192 L1198.5,1191.5 L1200,1192.1 L1201.5,1191.9 L1203,1192.1 L1204.5,1193 L1206,1193.3 L1207.5,1192.9 L1209,1193.8 L1210.5,1193.4 L1212,1193.9 L1213.5,1193.8 L1215,1194.7 L1218,1194.4 L1219.5,1195.4 L1221,1195 L1222.5,1195.6 L1224,1195.6 L1225.5,1196.1 L1227,1196 L1233,1196.7 L1234.5,1197.3 L1236,1197.3 L1237.5,1197.8 L1242,1197.6 L1243.5,1198.4 L1248,1198.2 L1249.5,1199.2 L1252.5,1199 L1258.5,1200 L1261.5,1199.6 L1263,1200 L1266,1199.3 L1269,1199.7 L1270.5,1199.4 L1272,1199.7 L1273.5,1199.4 L1275,1199.6 L1276.5,1199.1 L1278,1199.6 L1284,1199.5 L1287,1198.6 L1288.5,1199.1 L1290,1198.8 L1291.5,1199.3 L1293,1198.6 L1300.5,1198.3 L1302,1198.9 L1305,1198.9 L1308,1198.6 L1309.5,1198.9 L1311,1198.5 L1312.5,1198.8 L1314,1198.3 L1315.5,1198.9 L1317,1198.5 L1320,1199.2 L1321.5,1198.8 L1323,1199.1 L1326,1199.1 L1327.5,1199.7 L1329,1199.4 L1332,1199.6 L1333.5,1199.4 L1335,1199.8 L1338,1200.1 L1339.5,1199.6 L1344,1200 L1347,1200.1 L1351.5,1200.9 L1356,1201.1 L1357.5,1200.9 L1360.5,1200.8 L1363.5,1201.5 L1365,1201 L1366.5,1201.6 L1368,1201.1 L1369.5,1201.9 L1372.5,1202 L1374,1201.7 L1375.5,1202.2 L1377,1201.5 L1380,1202.1 L1381.5,1201.7 L1383,1202 L1384.5,1201.8 L1390.5,1202.9 L1396.5,1203.1 L1399.5,1202.7 L1404,1203.5 L1407,1203.5 L1408.5,1203.9 L1410,1203.4 L1414.5,1204.6 L1416,1204.3 L1417.5,1204.4 L1419,1205.1 L1420.5,1204.9 L1423.5,1206 L1425,1205.6 L1426.5,1206.6 L1428,1206.1 L1431,1206.9 L1435.5,1207.4 L1438.5,1206.3 L1443,1205.7 L1444.5,1205.9 L1447.5,1204.8 L1450.5,1205.1 L1456.5,1204.1 L1458,1203.6 L1459.5,1203.9 L1462.5,1203.2 L1465.5,1203.6 L1471.5,1203.5 L1473,1204 L1474.5,1203.4 L1476,1204 L1477.5,1203.4 L1479,1204.1 L1480.5,1203.5 L1482,1204 L1483.5,1203.6 L1485,1204.2 L1486.5,1204.1 L1488,1203.6 L1491,1204.1 L1495.5,1203.7 L1497,1203.8 L1498.5,1204.4 L1500,1203.9 L1507.5,1204.6 L1509,1203.8 L1512,1204.6 L1513.5,1204.2 L1515,1204.4 L1516.5,1203.9 L1518,1204.6 L1519.5,1204.7 L1521,1204.2 L1524,1204.7 L1528.5,1204.1 L1530,1204.5 L1531.5,1204.5 L1533,1205 L1536,1204.3 L1537.5,1204.8 L1540.5,1204.4 L1542,1204.6 L1543.5,1204.2 L1545,1204.7 L1546.5,1204.5 L1549.5,1205 L1551,1204.6 L1552.5,1205.1 L1553.8,1204.8 L1553.8,1551.4 L148.5,1549.2Z" fill="#BF5300"/>
<path d="M148.5,1201.8 L150,1202.3 L153,1202.4 L154.5,1201.7 L156,1202.5 L159,1202.4 L160.5,1201.8 L162,1202.4 L163.5,1201.8 L165,1201.8 L166.5,1202.5 L171,1202.4 L172.5,1201.8 L174,1202.4 L177,1201.9 L180,1202.3 L181.5,1202 L183,1202.7 L186,1202 L189,1202.3 L190.5,1202 L195,1202.2 L196.5,1202.5 L201,1202 L204,1202.3 L205.5,1202 L210,1202.2 L211.5,1202.6 L217.5,1202.3 L219,1202 L222,1202.5 L228,1202.3 L229.5,1201.9 L231,1202.4 L235.5,1201.6 L238.5,1202.1 L240,1201.4 L241.5,1201.7 L243,1201.2 L244.5,1201.9 L247.5,1201.6 L249,1201.1 L250.5,1201.3 L253.5,1200.9 L255,1201.4 L256.5,1200.8 L259.5,1201.3 L264,1200.5 L265.5,1200.9 L270,1200.5 L271.5,1201 L274.5,1200.3 L276,1200.7 L277.5,1200.1 L279,1200.5 L282,1200 L289.5,1200.4 L291,1200.1 L292.5,1200.3 L295.5,1199.5 L297,1199.6 L298.5,1200.4 L300,1199.7 L301.5,1200.1 L303,1199.7 L304.5,1200.5 L306,1200 L307.5,1200.2 L309,1200 L310.5,1200.4 L313.5,1200.2 L316.5,1200.7 L319.5,1200.2 L324,1201 L330,1200.7 L331.5,1201.2 L333,1200.5 L336,1201 L337.5,1200.6 L342,1200.9 L343.5,1201.4 L346.5,1200.8 L348,1201.4 L352.5,1201.4 L354,1201.1 L357,1201.3 L363,1200.9 L367.5,1201.2 L369,1200.4 L373.5,1200.5 L378,1199.8 L379.5,1200.4 L381,1199.6 L382.5,1200.1 L385.5,1199.2 L387,1199.4 L388.5,1199.1 L393,1199.5 L399,1198.5 L405,1198.7 L406.5,1197.8 L408,1198.3 L412.5,1197.4 L414,1197.7 L415.5,1197.4 L417,1197.7 L420,1197.5 L421.5,1196.9 L424.5,1197.3 L427.5,1196.7 L429,1197.2 L430.5,1196.5 L432,1197.1 L436.5,1197.1 L438,1196.6 L439.5,1197 L441,1196.3 L444,1197.1 L445.5,1196.3 L447,1196.6 L451.5,1196.3 L460.5,1196.5 L462,1196.1 L465,1196.8 L466.5,1196.2 L468,1196.2 L469.5,1196.7 L471,1196.1 L472.5,1196.6 L474,1196 L475.5,1196.6 L480,1196.4 L481.5,1195.9 L486,1196.2 L487.5,1196 L490.5,1196.2 L493.5,1195.9 L495,1196.2 L496.5,1195.6 L498,1196 L499.5,1195.5 L501,1196.1 L502.5,1195.8 L504,1196.4 L505.5,1195.9 L508.5,1195.9 L510,1196.3 L519,1196.5 L522,1196.7 L523.5,1196 L525,1196.9 L526.5,1196.7 L528,1196.9 L529.5,1196.4 L535.5,1197.1 L537,1196.7 L541.5,1196.7 L543,1197 L544.5,1196.6 L546,1197 L549,1196.8 L550.5,1197.5 L552,1196.8 L556.5,1196.9 L558,1197.6 L561,1197.7 L565.5,1197 L567,1197.4 L573,1197.1 L574.5,1197.6 L577.5,1198 L579,1197.5 L582,1197.6 L586.5,1197.4 L592.5,1197.4 L594,1198 L595.5,1197.4 L600,1198.3 L601.5,1197.8 L603,1198.2 L607.5,1197.7 L612,1197.9 L613.5,1198.5 L618,1198.3 L621,1199.1 L622.5,1198.8 L624,1199.1 L625.5,1198.9 L628.5,1199.5 L630,1199.2 L633,1199.8 L636,1199.5 L639,1200.4 L640.5,1199.8 L642,1199.9 L643.5,1200.5 L645,1200 L646.5,1200.8 L649.5,1200.3 L651,1201 L654,1200.6 L657,1201.5 L660,1201.7 L661.5,1201.1 L666,1202.1 L667.5,1201.5 L669,1201.5 L670.5,1202.2 L672,1201.7 L673.5,1202.7 L675,1202 L678,1202.4 L679.5,1203 L681,1202.6 L684,1203.5 L685.5,1202.9 L687,1202.9 L688.5,1203.4 L693,1203.4 L694.5,1204.2 L696,1203.5 L702,1204.8 L703.5,1204.1 L709.5,1205.2 L711,1204.8 L712.5,1204.8 L714,1205.7 L715.5,1205 L718.5,1206 L720,1205.6 L721.5,1206 L726,1205.2 L727.5,1205.5 L729,1204.7 L733.5,1205 L735,1204.5 L736.5,1205 L738,1204.2 L739.5,1204.7 L741,1204.1 L742.5,1204.3 L744,1203.6 L745.5,1203.6 L747,1204.2 L748.5,1203.3 L750,1203.5 L751.5,1203.1 L754.5,1203.5 L756,1202.9 L757.5,1203.3 L759,1202.8 L760.5,1202.9 L765,1202.4 L766.5,1202.7 L768,1202 L772.5,1202.5 L774,1201.9 L775.5,1202.3 L778.5,1201.6 L780,1201.5 L781.5,1202.2 L784.5,1201.6 L790.5,1201.7 L793.5,1200.8 L795,1201.5 L796.5,1200.7 L798,1201.5 L804,1200.4 L805.5,1201.1 L807,1200.3 L808.5,1200.3 L810,1200.7 L813,1200.1 L814.5,1200.4 L816,1200.2 L817.5,1200.6 L819,1199.7 L823.5,1200.2 L825,1199.5 L826.5,1200.2 L828,1199.3 L829.5,1199.9 L832.5,1199.7 L834,1199.2 L840,1198.8 L841.5,1196.5 L844.5,1192.9 L846,1193.2 L847.5,1193.1 L849,1193.5 L850.5,1193.4 L852,1193.9 L855,1193.6 L856.5,1194.2 L859.5,1194.3 L861,1194.9 L862.5,1194.5 L867,1195.9 L871.5,1195.7 L873,1196.5 L874.5,1196.1 L879,1196.7 L880.5,1197.2 L883.5,1197 L885,1197.7 L886.5,1197.4 L888,1198.3 L892.5,1198.3 L894,1198.8 L895.5,1198.6 L898.5,1199 L900,1199.7 L903,1200.1 L904.5,1199.7 L906,1200.2 L907.5,1200 L909,1200.6 L910.5,1200.2 L913.5,1200.4 L915,1201.1 L919.5,1200.9 L921,1201.7 L924,1201.1 L925.5,1201.9 L927,1201.4 L930,1201.7 L931.5,1202.6 L933,1202 L937.5,1202.2 L940.5,1203.1 L943.5,1203.2 L945,1202.7 L946.5,1203.1 L949.5,1203 L957,1204.1 L958.5,1203.7 L961.5,1204.3 L967.5,1204.1 L970.5,1204.9 L972,1204.5 L973.5,1205.1 L975,1204.6 L976.5,1205.2 L978,1204.9 L979.5,1205.2 L981,1205 L982.5,1205.5 L984,1204.9 L987,1205.3 L988.5,1205.9 L990,1205.5 L991.5,1205.9 L993,1205.4 L994.5,1205.3 L996,1206.1 L997.5,1205.6 L999,1206.4 L1000.5,1205.8 L1002,1206.5 L1003.5,1205.9 L1005,1206.7 L1008,1206.8 L1009.5,1206.2 L1011,1207 L1012.5,1206.6 L1017,1207.1 L1023,1205.6 L1026,1205.9 L1030.5,1204.6 L1032,1204.9 L1035,1204 L1036.5,1203.9 L1038,1203.3 L1042.5,1202.6 L1044,1202.9 L1045.5,1202.8 L1047,1202 L1048.5,1202.3 L1056,1200.7 L1059,1200.8 L1060.5,1200.2 L1063.5,1200.1 L1065,1200.4 L1066.5,1199.9 L1068,1200.1 L1071,1199.7 L1072.5,1199.2 L1074,1199.6 L1075.5,1198.9 L1078.5,1199.3 L1080,1198.5 L1083,1198.8 L1084.5,1198.2 L1086,1198.6 L1087.5,1198 L1089,1198.5 L1090.5,1197.6 L1093.5,1197.9 L1095,1197.4 L1098,1197.8 L1099.5,1197 L1101,1197.3 L1102.5,1197 L1104,1197.5 L1107,1196.3 L1108.5,1197 L1113,1196 L1114.5,1196.2 L1119,1195.5 L1120.5,1195.9 L1122,1195.7 L1125,1194.9 L1126.5,1195.5 L1128,1194.5 L1129.5,1194.9 L1131,1194.4 L1135.5,1194.1 L1137,1194.6 L1143,1194 L1144.5,1193.5 L1149,1192.9 L1150.5,1193.2 L1153.5,1192.9 L1155,1192.4 L1156.5,1192.6 L1159.5,1191.9 L1161,1192.3 L1165.5,1191.5 L1167,1191.7 L1168.5,1191.1 L1170,1191.6 L1176,1191.2 L1177.5,1190.4 L1179,1190.8 L1182,1190.6 L1183.5,1190 L1185,1189.8 L1188,1190.5 L1189.5,1190.1 L1192.5,1191.1 L1194,1191 L1195.5,1191.7 L1197,1192 L1198.5,1191.5 L1200,1192.1 L1201.5,1191.9 L1203,1192.1 L1204.5,1193 L1206,1193.3 L1207.5,1192.9 L1209,1193.8 L1210.5,1193.4 L1212,1193.9 L1213.5,1193.8 L1215,1194.7 L1218,1194.4 L1219.5,1195.4 L1221,1195 L1222.5,1195.6 L1224,1195.6 L1225.5,1196.1 L1227,1196 L1233,1196.7 L1234.5,1197.3 L1236,1197.3 L1237.5,1197.8 L1242,1197.6 L1243.5,1198.4 L1248,1198.2 L1249.5,1199.2 L1252.5,1199 L1258.5,1200 L1261.5,1199.6 L1263,1200 L1266,1199.3 L1269,1199.7 L1270.5,1199.4 L1272,1199.7 L1273.5,1199.4 L1275,1199.6 L1276.5,1199.1 L1278,1199.6 L1284,1199.5 L1287,1198.6 L1288.5,1199.1 L1290,1198.8 L1291.5,1199.3 L1293,1198.6 L1300.5,1198.3 L1302,1198.9 L1305,1198.9 L1308,1198.6 L1309.5,1198.9 L1311,1198.5 L1312.5,1198.8 L1314,1198.3 L1315.5,1198.9 L1317,1198.5 L1320,1199.2 L1321.5,1198.8 L1323,1199.1 L1326,1199.1 L1327.5,1199.7 L1329,1199.4 L1332,1199.6 L1333.5,1199.4 L1335,1199.8 L1338,1200.1 L1339.5,1199.6 L1344,1200 L1347,1200.1 L1351.5,1200.9 L1356,1201.1 L1357.5,1200.9 L1360.5,1200.8 L1363.5,1201.5 L1365,1201 L1366.5,1201.6 L1368,1201.1 L1369.5,1201.9 L1372.5,1202 L1374,1201.7 L1375.5,1202.2 L1377,1201.5 L1380,1202.1 L1381.5,1201.7 L1383,1202 L1384.5,1201.8 L1390.5,1202.9 L1396.5,1203.1 L1399.5,1202.7 L1404,1203.5 L1407,1203.5 L1408.5,1203.9 L1410,1203.4 L1414.5,1204.6 L1416,1204.3 L1417.5,1204.4 L1419,1205.1 L1420.5,1204.9 L1423.5,1206 L1425,1205.6 L1426.5,1206.6 L1428,1206.1 L1431,1206.9 L1435.5,1207.4 L1438.5,1206.3 L1443,1205.7 L1444.5,1205.9 L1447.5,1204.8 L1450.5,1205.1 L1456.5,1204.1 L1458,1203.6 L1459.5,1203.9 L1462.5,1203.2 L1465.5,1203.6 L1471.5,1203.5 L1473,1204 L1474.5,1203.4 L1476,1204 L1477.5,1203.4 L1479,1204.1 L1480.5,1203.5 L1482,1204 L1483.5,1203.6 L1485,1204.2 L1486.5,1204.1 L1488,1203.6 L1491,1204.1 L1495.5,1203.7 L1497,1203.8 L1498.5,1204.4 L1500,1203.9 L1507.5,1204.6 L1509,1203.8 L1512,1204.6 L1513.5,1204.2 L1515,1204.4 L1516.5,1203.9 L1518,1204.6 L1519.5,1204.7 L1521,1204.2 L1524,1204.7 L1528.5,1204.1 L1530,1204.5 L1531.5,1204.5 L1533,1205 L1536,1204.3 L1537.5,1204.8 L1540.5,1204.4 L1542,1204.6 L1543.5,1204.2 L1545,1204.7 L1546.5,1204.5 L1549.5,1205 L1551,1204.6 L1552.5,1205.1 L1553.8,1204.8" fill="none" stroke="#1a1a1a" stroke-width="1.2"/>
<path d="M148.5,1202.1 L150,1202.4 L151.5,1201.8 L153,1202.2 L156,1202.5 L157.5,1201.8 L162,1202.6 L165,1201.8 L171,1202.7 L172.5,1202.1 L180,1202.6 L181.5,1202 L183,1202 L184.5,1202.7 L186,1201.9 L190.5,1202 L192,1202.7 L195,1202.3 L196.5,1202.8 L201,1202 L202.5,1202.8 L207,1202.2 L208.5,1202.9 L213,1202.4 L214.5,1202.9 L216,1202.1 L222,1202.7 L223.5,1202 L229.5,1202.3 L231,1201.6 L235.5,1202 L238.5,1201.7 L240,1201.3 L241.5,1201.6 L243,1201.3 L244.5,1201.9 L246,1201.9 L247.5,1201.3 L258,1200.8 L259.5,1201.4 L262.5,1201.3 L264,1200.5 L265.5,1201.3 L267,1200.5 L271.5,1200.7 L274.5,1200.2 L277.5,1200.7 L279,1200 L282,1200.5 L285,1200.1 L289.5,1200.4 L291,1200.1 L292.5,1200.3 L294,1199.8 L295.5,1200.2 L298.5,1200 L301.5,1200.3 L303,1200 L304.5,1200.6 L307.5,1200.2 L310.5,1200.7 L312,1200.1 L315,1200.9 L316.5,1200.7 L318,1200.9 L319.5,1200.6 L322.5,1201.1 L325.5,1200.5 L327,1201 L328.5,1200.9 L330,1201.4 L336,1201 L337.5,1201.6 L339,1201.2 L342,1201.5 L343.5,1201.3 L345,1201.9 L346.5,1201.6 L348,1202.3 L349.5,1202.1 L360,1202.6 L363,1202.5 L366,1201.9 L367.5,1202.1 L370.5,1201.9 L372,1202.1 L375,1201.5 L376.5,1201.5 L378,1201.9 L379.5,1201.6 L382.5,1201.6 L384,1200.9 L387,1201.4 L390,1200.7 L396,1201 L397.5,1200.6 L399,1200.9 L400.5,1200.1 L403.5,1200.6 L405,1199.8 L409.5,1200 L414,1199.4 L415.5,1200.1 L417,1199.4 L418.5,1199.2 L420,1199.5 L424.5,1199.5 L427.5,1198.9 L429,1199.7 L430.5,1199.3 L433.5,1200 L435,1199.2 L436.5,1199.7 L438,1199.7 L439.5,1200.2 L441,1199.7 L442.5,1199.5 L444,1200 L447,1200 L450,1200.5 L451.5,1200.2 L453,1200.4 L454.5,1200 L456,1200.5 L457.5,1200.1 L459,1200.7 L460.5,1200.3 L463.5,1200.6 L468,1200.6 L469.5,1201.3 L471,1200.9 L472.5,1201.4 L474,1201.4 L475.5,1200.9 L478.5,1201.6 L480,1201.1 L481.5,1201.9 L483,1201.9 L490.5,1202.9 L492,1202.5 L498,1203.5 L499.5,1203.1 L501,1203.9 L502.5,1203.4 L504,1203.5 L507,1204.4 L508.5,1203.7 L511.5,1204.1 L514.5,1203.9 L516,1204.7 L519,1204.4 L520.5,1205 L522,1204.4 L525,1204.9 L526.5,1204.4 L528,1205.3 L535.5,1205 L537,1205.7 L547.5,1205.9 L549,1205.5 L550.5,1206.2 L555,1205.5 L556.5,1206 L558,1205.5 L559.5,1205.6 L561,1205.2 L562.5,1205.8 L564,1205.1 L574.5,1205 L576,1205.4 L579,1205.2 L580.5,1205.4 L582,1204.8 L583.5,1204.7 L585,1205.4 L586.5,1204.7 L588,1205.4 L589.5,1204.8 L591,1205 L592.5,1204.8 L594,1205.1 L595.5,1204.6 L597,1205.4 L598.5,1204.6 L600,1204.6 L601.5,1205.3 L603,1204.8 L604.5,1205.2 L606,1204.6 L607.5,1205.2 L610.5,1204.6 L612,1204.8 L613.5,1204.6 L615,1205.1 L616.5,1204.8 L618,1205.6 L622.5,1205.5 L625.5,1206.2 L627,1206 L628.5,1206.5 L630,1206.5 L631.5,1207.1 L633,1207.2 L634.5,1206.8 L637.5,1207.5 L639,1207.2 L640.5,1207.6 L642,1207.5 L646.5,1208.2 L648,1208 L654,1209.3 L657,1209 L658.5,1209.2 L660,1209.9 L661.5,1209.6 L663,1210 L666,1210 L670.5,1210.9 L673.5,1210.5 L676.5,1210.7 L678,1211.6 L679.5,1211.4 L681,1211.8 L682.5,1211.4 L684,1211.9 L687,1211.8 L688.5,1212.3 L690,1212.1 L691.5,1212.5 L694.5,1212.1 L696,1212.9 L700.5,1212.6 L702,1212.9 L703.5,1212.8 L708,1213.9 L711,1213.3 L718.5,1214.3 L723,1214.2 L724.5,1214.6 L729,1213.5 L730.5,1213.6 L732,1214 L733.5,1213.2 L739.5,1213 L741,1213.3 L745.5,1212.2 L747,1212.9 L750,1212.4 L751.5,1212.5 L753,1212 L757.5,1211.8 L759,1211.2 L762,1211.4 L763.5,1211.1 L766.5,1211.4 L768,1210.5 L771,1210.8 L774,1210.2 L775.5,1210.2 L778.5,1209.3 L780,1209.6 L783,1209.4 L784.5,1208.5 L786,1208.3 L787.5,1208.7 L789,1208.1 L790.5,1208.3 L796.5,1207.2 L799.5,1207.4 L801,1206.8 L802.5,1206.9 L805.5,1206.7 L808.5,1205.8 L810,1205.7 L811.5,1205.3 L813,1205.8 L819,1205.2 L820.5,1204.4 L822,1205.3 L826.5,1205.8 L828,1205.6 L832.5,1207.1 L834,1207.4 L835.5,1207 L837,1207.7 L840,1207.6 L841.5,1205.5 L843,1202.4 L844.5,1200.1 L846,1200.8 L849,1201.5 L850.5,1201.4 L852,1202.1 L855,1202.4 L856.5,1203.4 L858,1203 L861,1204.4 L867,1205.8 L868.5,1205.6 L871.5,1206.6 L874.5,1207 L876,1207.9 L877.5,1207.8 L879,1208.5 L880.5,1208.5 L882,1209.2 L885,1209.1 L886.5,1209.6 L888,1210.5 L892.5,1210.8 L894,1211.6 L895.5,1211.4 L900,1212.8 L901.5,1212.8 L904.5,1214.2 L910.5,1214.6 L912,1215.2 L915,1215 L916.5,1215.8 L918,1215.6 L921,1216.5 L922.5,1216 L924,1216.9 L927,1216.6 L928.5,1217.2 L933,1217.8 L934.5,1218.3 L939,1218.1 L942,1219 L943.5,1218.9 L946.5,1219.8 L948,1219.4 L949.5,1219.5 L951,1220.4 L952.5,1220.3 L954,1219.6 L957,1219.9 L958.5,1219.2 L960,1219.5 L961.5,1218.8 L964.5,1219.2 L966,1218.8 L967.5,1219 L969,1218.6 L970.5,1218.8 L973.5,1218.2 L976.5,1218.5 L978,1218 L979.5,1218.1 L981,1217.5 L982.5,1218.1 L984,1217.3 L985.5,1217.6 L987,1217 L988.5,1217.4 L991.5,1216.7 L993,1217.3 L996,1216.3 L999,1216.6 L1000.5,1216.1 L1003.5,1216.9 L1005,1216.1 L1008,1216.4 L1009.5,1216 L1012.5,1216.5 L1015.5,1216.1 L1017,1216.5 L1021.5,1216.5 L1023,1215.7 L1026,1216.1 L1038,1215.6 L1039.5,1215.3 L1041,1215.7 L1042.5,1215 L1050,1214.9 L1051.5,1214.1 L1053,1213.9 L1056,1214.1 L1057.5,1213.6 L1059,1213.6 L1060.5,1213 L1062,1212.9 L1063.5,1213.6 L1066.5,1212.8 L1068,1212.8 L1069.5,1213.2 L1072.5,1212.8 L1074,1213.3 L1077,1212.6 L1080,1212.9 L1083,1212.6 L1084.5,1212.8 L1086,1212.3 L1087.5,1212.8 L1089,1212.5 L1090.5,1212.9 L1095,1212.1 L1096.5,1212.2 L1098,1212.9 L1099.5,1212.6 L1102.5,1212.7 L1104,1212 L1105.5,1212.2 L1107,1211.8 L1108.5,1212 L1116,1211 L1117.5,1210.3 L1122,1210.2 L1123.5,1209.2 L1126.5,1209.4 L1128,1208.9 L1129.5,1209.1 L1131,1208.1 L1132.5,1207.9 L1134,1208.3 L1137,1207.2 L1138.5,1207.5 L1141.5,1206.7 L1143,1207.1 L1149,1205.4 L1150.5,1205.7 L1152,1205.2 L1161,1204.5 L1164,1203.4 L1165.5,1203.7 L1167,1203.4 L1168.5,1202.8 L1170,1203.1 L1171.5,1202.4 L1174.5,1202.5 L1180.5,1201.4 L1182,1200.1 L1183.5,1199.7 L1185,1198.8 L1186.5,1199.2 L1188,1198.9 L1189.5,1199.3 L1191,1199.4 L1194,1200.7 L1195.5,1200.2 L1197,1200.9 L1200,1201.6 L1201.5,1201.4 L1204.5,1202.8 L1209,1203 L1213.5,1203.9 L1215,1204.8 L1216.5,1205.2 L1218,1204.7 L1219.5,1205.5 L1221,1205.4 L1222.5,1206.2 L1224,1205.9 L1225.5,1206.9 L1230,1207.9 L1233,1207.8 L1239,1208.9 L1240.5,1209.5 L1242,1209.1 L1243.5,1209.8 L1245,1209.4 L1246.5,1209.9 L1248,1209.8 L1249.5,1210.7 L1251,1210.5 L1254,1210.6 L1257,1211.4 L1264.5,1211.8 L1266,1212.7 L1269,1212.4 L1270.5,1212.8 L1273.5,1212.9 L1276.5,1214.1 L1279.5,1213.9 L1282.5,1214.7 L1284,1214.4 L1285.5,1215 L1287,1214.5 L1288.5,1215.1 L1291.5,1214.8 L1296,1215.1 L1297.5,1215 L1300.5,1215.4 L1303.5,1215.3 L1305,1215.8 L1311,1215.8 L1312.5,1216.5 L1314,1216.1 L1315.5,1216.6 L1317,1216.1 L1320,1216.6 L1321.5,1216.2 L1324.5,1217.1 L1326,1216.4 L1327.5,1217.2 L1329,1216.7 L1330.5,1216.6 L1332,1217.2 L1333.5,1217.3 L1335,1216.9 L1336.5,1217 L1338,1217.7 L1339.5,1217.2 L1342.5,1218 L1345.5,1217.6 L1348.5,1218.3 L1350,1218.1 L1351.5,1218.4 L1353,1218.1 L1356,1218.3 L1359,1219.2 L1362,1219 L1365,1219.7 L1366.5,1219 L1369.5,1219.6 L1372.5,1219.6 L1374,1220.2 L1375.5,1219.7 L1377,1220.4 L1380,1220.7 L1381.5,1220.3 L1387.5,1221 L1390.5,1220.6 L1392,1221.3 L1393.5,1221.1 L1395,1221.5 L1396.5,1220.8 L1398,1221.3 L1401,1221.3 L1402.5,1220.7 L1411.5,1220.9 L1413,1221.4 L1416,1221 L1417.5,1221.1 L1419,1221.8 L1422,1222 L1423.5,1221.4 L1425,1221.4 L1426.5,1222.2 L1428,1221.5 L1429.5,1222.2 L1434,1222 L1438.5,1221.1 L1440,1221.1 L1443,1220.2 L1444.5,1219.2 L1446,1219.5 L1447.5,1219.1 L1449,1218.1 L1453.5,1217.1 L1455,1217.3 L1456.5,1216.5 L1458,1216.6 L1461,1215.6 L1464,1216.2 L1465.5,1215.7 L1467,1215.9 L1468.5,1215.5 L1470,1215.7 L1471.5,1216.3 L1474.5,1215.5 L1479,1215.3 L1480.5,1215.9 L1485,1215.4 L1486.5,1216 L1488,1215.2 L1489.5,1215.8 L1491,1215.4 L1498.5,1215.9 L1500,1215.4 L1503,1215.7 L1504.5,1215.2 L1509,1215.6 L1510.5,1215.2 L1512,1215.4 L1516.5,1214.9 L1518,1215.5 L1521,1214.9 L1522.5,1215.5 L1524,1215.2 L1527,1215.5 L1531.5,1214.6 L1533,1215.2 L1534.5,1215.3 L1536,1214.6 L1542,1215.1 L1543.5,1214.4 L1551,1214.5 L1552.5,1215 L1553.8,1214.5 L1553.8,1551.4 L148.5,1549.2Z" fill="#FFDFF1"/>
<path d="M148.5,1202.1 L150,1202.4 L151.5,1201.8 L153,1202.2 L156,1202.5 L157.5,1201.8 L162,1202.6 L165,1201.8 L171,1202.7 L172.5,1202.1 L180,1202.6 L181.5,1202 L183,1202 L184.5,1202.7 L186,1201.9 L190.5,1202 L192,1202.7 L195,1202.3 L196.5,1202.8 L201,1202 L202.5,1202.8 L207,1202.2 L208.5,1202.9 L213,1202.4 L214.5,1202.9 L216,1202.1 L222,1202.7 L223.5,1202 L229.5,1202.3 L231,1201.6 L235.5,1202 L238.5,1201.7 L240,1201.3 L241.5,1201.6 L243,1201.3 L244.5,1201.9 L246,1201.9 L247.5,1201.3 L258,1200.8 L259.5,1201.4 L262.5,1201.3 L264,1200.5 L265.5,1201.3 L267,1200.5 L271.5,1200.7 L274.5,1200.2 L277.5,1200.7 L279,1200 L282,1200.5 L285,1200.1 L289.5,1200.4 L291,1200.1 L292.5,1200.3 L294,1199.8 L295.5,1200.2 L298.5,1200 L301.5,1200.3 L303,1200 L304.5,1200.6 L307.5,1200.2 L310.5,1200.7 L312,1200.1 L315,1200.9 L316.5,1200.7 L318,1200.9 L319.5,1200.6 L322.5,1201.1 L325.5,1200.5 L327,1201 L328.5,1200.9 L330,1201.4 L336,1201 L337.5,1201.6 L339,1201.2 L342,1201.5 L343.5,1201.3 L345,1201.9 L346.5,1201.6 L348,1202.3 L349.5,1202.1 L360,1202.6 L363,1202.5 L366,1201.9 L367.5,1202.1 L370.5,1201.9 L372,1202.1 L375,1201.5 L376.5,1201.5 L378,1201.9 L379.5,1201.6 L382.5,1201.6 L384,1200.9 L387,1201.4 L390,1200.7 L396,1201 L397.5,1200.6 L399,1200.9 L400.5,1200.1 L403.5,1200.6 L405,1199.8 L409.5,1200 L414,1199.4 L415.5,1200.1 L417,1199.4 L418.5,1199.2 L420,1199.5 L424.5,1199.5 L427.5,1198.9 L429,1199.7 L430.5,1199.3 L433.5,1200 L435,1199.2 L436.5,1199.7 L438,1199.7 L439.5,1200.2 L441,1199.7 L442.5,1199.5 L444,1200 L447,1200 L450,1200.5 L451.5,1200.2 L453,1200.4 L454.5,1200 L456,1200.5 L457.5,1200.1 L459,1200.7 L460.5,1200.3 L463.5,1200.6 L468,1200.6 L469.5,1201.3 L471,1200.9 L472.5,1201.4 L474,1201.4 L475.5,1200.9 L478.5,1201.6 L480,1201.1 L481.5,1201.9 L483,1201.9 L490.5,1202.9 L492,1202.5 L498,1203.5 L499.5,1203.1 L501,1203.9 L502.5,1203.4 L504,1203.5 L507,1204.4 L508.5,1203.7 L511.5,1204.1 L514.5,1203.9 L516,1204.7 L519,1204.4 L520.5,1205 L522,1204.4 L525,1204.9 L526.5,1204.4 L528,1205.3 L535.5,1205 L537,1205.7 L547.5,1205.9 L549,1205.5 L550.5,1206.2 L555,1205.5 L556.5,1206 L558,1205.5 L559.5,1205.6 L561,1205.2 L562.5,1205.8 L564,1205.1 L574.5,1205 L576,1205.4 L579,1205.2 L580.5,1205.4 L582,1204.8 L583.5,1204.7 L585,1205.4 L586.5,1204.7 L588,1205.4 L589.5,1204.8 L591,1205 L592.5,1204.8 L594,1205.1 L595.5,1204.6 L597,1205.4 L598.5,1204.6 L600,1204.6 L601.5,1205.3 L603,1204.8 L604.5,1205.2 L606,1204.6 L607.5,1205.2 L610.5,1204.6 L612,1204.8 L613.5,1204.6 L615,1205.1 L616.5,1204.8 L618,1205.6 L622.5,1205.5 L625.5,1206.2 L627,1206 L628.5,1206.5 L630,1206.5 L631.5,1207.1 L633,1207.2 L634.5,1206.8 L637.5,1207.5 L639,1207.2 L640.5,1207.6 L642,1207.5 L646.5,1208.2 L648,1208 L654,1209.3 L657,1209 L658.5,1209.2 L660,1209.9 L661.5,1209.6 L663,1210 L666,1210 L670.5,1210.9 L673.5,1210.5 L676.5,1210.7 L678,1211.6 L679.5,1211.4 L681,1211.8 L682.5,1211.4 L684,1211.9 L687,1211.8 L688.5,1212.3 L690,1212.1 L691.5,1212.5 L694.5,1212.1 L696,1212.9 L700.5,1212.6 L702,1212.9 L703.5,1212.8 L708,1213.9 L711,1213.3 L718.5,1214.3 L723,1214.2 L724.5,1214.6 L729,1213.5 L730.5,1213.6 L732,1214 L733.5,1213.2 L739.5,1213 L741,1213.3 L745.5,1212.2 L747,1212.9 L750,1212.4 L751.5,1212.5 L753,1212 L757.5,1211.8 L759,1211.2 L762,1211.4 L763.5,1211.1 L766.5,1211.4 L768,1210.5 L771,1210.8 L774,1210.2 L775.5,1210.2 L778.5,1209.3 L780,1209.6 L783,1209.4 L784.5,1208.5 L786,1208.3 L787.5,1208.7 L789,1208.1 L790.5,1208.3 L796.5,1207.2 L799.5,1207.4 L801,1206.8 L802.5,1206.9 L805.5,1206.7 L808.5,1205.8 L810,1205.7 L811.5,1205.3 L813,1205.8 L819,1205.2 L820.5,1204.4 L822,1205.3 L826.5,1205.8 L828,1205.6 L832.5,1207.1 L834,1207.4 L835.5,1207 L837,1207.7 L840,1207.6 L841.5,1205.5 L843,1202.4 L844.5,1200.1 L846,1200.8 L849,1201.5 L850.5,1201.4 L852,1202.1 L855,1202.4 L856.5,1203.4 L858,1203 L861,1204.4 L867,1205.8 L868.5,1205.6 L871.5,1206.6 L874.5,1207 L876,1207.9 L877.5,1207.8 L879,1208.5 L880.5,1208.5 L882,1209.2 L885,1209.1 L886.5,1209.6 L888,1210.5 L892.5,1210.8 L894,1211.6 L895.5,1211.4 L900,1212.8 L901.5,1212.8 L904.5,1214.2 L910.5,1214.6 L912,1215.2 L915,1215 L916.5,1215.8 L918,1215.6 L921,1216.5 L922.5,1216 L924,1216.9 L927,1216.6 L928.5,1217.2 L933,1217.8 L934.5,1218.3 L939,1218.1 L942,1219 L943.5,1218.9 L946.5,1219.8 L948,1219.4 L949.5,1219.5 L951,1220.4 L952.5,1220.3 L954,1219.6 L957,1219.9 L958.5,1219.2 L960,1219.5 L961.5,1218.8 L964.5,1219.2 L966,1218.8 L967.5,1219 L969,1218.6 L970.5,1218.8 L973.5,1218.2 L976.5,1218.5 L978,1218 L979.5,1218.1 L981,1217.5 L982.5,1218.1 L984,1217.3 L985.5,1217.6 L987,1217 L988.5,1217.4 L991.5,1216.7 L993,1217.3 L996,1216.3 L999,1216.6 L1000.5,1216.1 L1003.5,1216.9 L1005,1216.1 L1008,1216.4 L1009.5,1216 L1012.5,1216.5 L1015.5,1216.1 L1017,1216.5 L1021.5,1216.5 L1023,1215.7 L1026,1216.1 L1038,1215.6 L1039.5,1215.3 L1041,1215.7 L1042.5,1215 L1050,1214.9 L1051.5,1214.1 L1053,1213.9 L1056,1214.1 L1057.5,1213.6 L1059,1213.6 L1060.5,1213 L1062,1212.9 L1063.5,1213.6 L1066.5,1212.8 L1068,1212.8 L1069.5,1213.2 L1072.5,1212.8 L1074,1213.3 L1077,1212.6 L1080,1212.9 L1083,1212.6 L1084.5,1212.8 L1086,1212.3 L1087.5,1212.8 L1089,1212.5 L1090.5,1212.9 L1095,1212.1 L1096.5,1212.2 L1098,1212.9 L1099.5,1212.6 L1102.5,1212.7 L1104,1212 L1105.5,1212.2 L1107,1211.8 L1108.5,1212 L1116,1211 L1117.5,1210.3 L1122,1210.2 L1123.5,1209.2 L1126.5,1209.4 L1128,1208.9 L1129.5,1209.1 L1131,1208.1 L1132.5,1207.9 L1134,1208.3 L1137,1207.2 L1138.5,1207.5 L1141.5,1206.7 L1143,1207.1 L1149,1205.4 L1150.5,1205.7 L1152,1205.2 L1161,1204.5 L1164,1203.4 L1165.5,1203.7 L1167,1203.4 L1168.5,1202.8 L1170,1203.1 L1171.5,1202.4 L1174.5,1202.5 L1180.5,1201.4 L1182,1200.1 L1183.5,1199.7 L1185,1198.8 L1186.5,1199.2 L1188,1198.9 L1189.5,1199.3 L1191,1199.4 L1194,1200.7 L1195.5,1200.2 L1197,1200.9 L1200,1201.6 L1201.5,1201.4 L1204.5,1202.8 L1209,1203 L1213.5,1203.9 L1215,1204.8 L1216.5,1205.2 L1218,1204.7 L1219.5,1205.5 L1221,1205.4 L1222.5,1206.2 L1224,1205.9 L1225.5,1206.9 L1230,1207.9 L1233,1207.8 L1239,1208.9 L1240.5,1209.5 L1242,1209.1 L1243.5,1209.8 L1245,1209.4 L1246.5,1209.9 L1248,1209.8 L1249.5,1210.7 L1251,1210.5 L1254,1210.6 L1257,1211.4 L1264.5,1211.8 L1266,1212.7 L1269,1212.4 L1270.5,1212.8 L1273.5,1212.9 L1276.5,1214.1 L1279.5,1213.9 L1282.5,1214.7 L1284,1214.4 L1285.5,1215 L1287,1214.5 L1288.5,1215.1 L1291.5,1214.8 L1296,1215.1 L1297.5,1215 L1300.5,1215.4 L1303.5,1215.3 L1305,1215.8 L1311,1215.8 L1312.5,1216.5 L1314,1216.1 L1315.5,1216.6 L1317,1216.1 L1320,1216.6 L1321.5,1216.2 L1324.5,1217.1 L1326,1216.4 L1327.5,1217.2 L1329,1216.7 L1330.5,1216.6 L1332,1217.2 L1333.5,1217.3 L1335,1216.9 L1336.5,1217 L1338,1217.7 L1339.5,1217.2 L1342.5,1218 L1345.5,1217.6 L1348.5,1218.3 L1350,1218.1 L1351.5,1218.4 L1353,1218.1 L1356,1218.3 L1359,1219.2 L1362,1219 L1365,1219.7 L1366.5,1219 L1369.5,1219.6 L1372.5,1219.6 L1374,1220.2 L1375.5,1219.7 L1377,1220.4 L1380,1220.7 L1381.5,1220.3 L1387.5,1221 L1390.5,1220.6 L1392,1221.3 L1393.5,1221.1 L1395,1221.5 L1396.5,1220.8 L1398,1221.3 L1401,1221.3 L1402.5,1220.7 L1411.5,1220.9 L1413,1221.4 L1416,1221 L1417.5,1221.1 L1419,1221.8 L1422,1222 L1423.5,1221.4 L1425,1221.4 L1426.5,1222.2 L1428,1221.5 L1429.5,1222.2 L1434,1222 L1438.5,1221.1 L1440,1221.1 L1443,1220.2 L1444.5,1219.2 L1446,1219.5 L1447.5,1219.1 L1449,1218.1 L1453.5,1217.1 L1455,1217.3 L1456.5,1216.5 L1458,1216.6 L1461,1215.6 L1464,1216.2 L1465.5,1215.7 L1467,1215.9 L1468.5,1215.5 L1470,1215.7 L1471.5,1216.3 L1474.5,1215.5 L1479,1215.3 L1480.5,1215.9 L1485,1215.4 L1486.5,1216 L1488,1215.2 L1489.5,1215.8 L1491,1215.4 L1498.5,1215.9 L1500,1215.4 L1503,1215.7 L1504.5,1215.2 L1509,1215.6 L1510.5,1215.2 L1512,1215.4 L1516.5,1214.9 L1518,1215.5 L1521,1214.9 L1522.5,1215.5 L1524,1215.2 L1527,1215.5 L1531.5,1214.6 L1533,1215.2 L1534.5,1215.3 L1536,1214.6 L1542,1215.1 L1543.5,1214.4 L1551,1214.5 L1552.5,1215 L1553.8,1214.5" fill="none" stroke="#1a1a1a" stroke-width="1.2"/>
<path d="M148.5,1222.2 L166.5,1220.2 L178.5,1231.5 L180,1231.7 L190.5,1225 L192,1224.4 L358.5,1250.5 L379.5,1238.8 L397.5,1240.8 L418.5,1232.7 L439.5,1231.6 L441,1232.4 L516,1245.8 L528,1251.1 L546,1255.9 L558,1255.9 L570,1252.3 L588,1257 L600,1255.3 L628.5,1263.1 L630,1268.7 L666,1261.5 L688.5,1262.7 L712.5,1271.7 L723,1267.8 L736.5,1269.8 L754.5,1263.8 L777,1269.5 L778.5,1269.6 L808.5,1262.6 L835.5,1266.6 L843,1269.6 L844.5,1265.3 L846,1262.5 L862.5,1261.1 L916.5,1271.9 L937.5,1279.2 L957,1283.1 L967.5,1288.2 L985.5,1307 L987,1307.6 L999,1300.8 L1020,1306.9 L1035,1302.6 L1063.5,1277.2 L1077,1285.5 L1078.5,1286.1 L1096.5,1276.1 L1125,1249.7 L1150.5,1234.6 L1165.5,1232.7 L1174.5,1234.5 L1176,1234 L1185,1226.8 L1186.5,1227 L1252.5,1262 L1254,1262.4 L1276.5,1251.2 L1290,1252.2 L1291.5,1253.1 L1293,1265.8 L1296,1266.6 L1315.5,1284 L1317,1285 L1320,1279.7 L1321.5,1278.3 L1329,1282 L1341,1279.2 L1342.5,1279.5 L1353,1284.7 L1354.5,1286.2 L1356,1289.2 L1378.5,1286.3 L1434,1289.4 L1453.5,1283.3 L1486.5,1290.4 L1553.8,1290.4 L1553.8,1551.4 L148.5,1549.2Z" fill="#FFBDD7"/>
<path d="M148.5,1222.2 L166.5,1220.2 L178.5,1231.5 L180,1231.7 L190.5,1225 L192,1224.4 L358.5,1250.5 L379.5,1238.8 L397.5,1240.8 L418.5,1232.7 L439.5,1231.6 L441,1232.4 L516,1245.8 L528,1251.1 L546,1255.9 L558,1255.9 L570,1252.3 L588,1257 L600,1255.3 L628.5,1263.1 L630,1268.7 L666,1261.5 L688.5,1262.7 L712.5,1271.7 L723,1267.8 L736.5,1269.8 L754.5,1263.8 L777,1269.5 L778.5,1269.6 L808.5,1262.6 L835.5,1266.6 L843,1269.6 L844.5,1265.3 L846,1262.5 L862.5,1261.1 L916.5,1271.9 L937.5,1279.2 L957,1283.1 L967.5,1288.2 L985.5,1307 L987,1307.6 L999,1300.8 L1020,1306.9 L1035,1302.6 L1063.5,1277.2 L1077,1285.5 L1078.5,1286.1 L1096.5,1276.1 L1125,1249.7 L1150.5,1234.6 L1165.5,1232.7 L1174.5,1234.5 L1176,1234 L1185,1226.8 L1186.5,1227 L1252.5,1262 L1254,1262.4 L1276.5,1251.2 L1290,1252.2 L1291.5,1253.1 L1293,1265.8 L1296,1266.6 L1315.5,1284 L1317,1285 L1320,1279.7 L1321.5,1278.3 L1329,1282 L1341,1279.2 L1342.5,1279.5 L1353,1284.7 L1354.5,1286.2 L1356,1289.2 L1378.5,1286.3 L1434,1289.4 L1453.5,1283.3 L1486.5,1290.4 L1553.8,1290.4" fill="none" stroke="#1a1a1a" stroke-width="1.0"/>
<path d="M148.5,1222.2 L166.5,1220.2 L178.5,1231.5 L180,1231.7 L190.5,1225 L192,1224.4 L358.5,1250.5 L379.5,1238.8 L397.5,1240.8 L418.5,1232.7 L439.5,1231.6 L441,1232.4 L516,1245.8 L528,1251.1 L546,1255.9 L558,1255.9 L570,1252.3 L588,1257 L600,1255.3 L628.5,1263.1 L630,1268.7 L666,1261.5 L688.5,1262.7 L712.5,1271.7 L723,1267.8 L736.5,1269.8 L754.5,1263.8 L777,1269.5 L778.5,1269.6 L808.5,1262.6 L835.5,1266.6 L843,1269.6 L844.5,1265.3 L846,1262.5 L862.5,1261.1 L865.5,1262 L885,1271.7 L927,1286.6 L946.5,1298.3 L958.5,1302.5 L960,1303.3 L985.5,1332.8 L987,1333.2 L997.5,1324.5 L999,1323.5 L1009.5,1327.6 L1020,1328.6 L1035,1327.4 L1063.5,1299.9 L1078.5,1316.5 L1080,1316.9 L1096.5,1309.1 L1126.5,1280.4 L1153.5,1259.2 L1155,1258.3 L1164,1255.6 L1165.5,1254.8 L1185,1238.2 L1186.5,1238.3 L1252.5,1274.3 L1254,1274.7 L1276.5,1262.5 L1290,1263.5 L1291.5,1265.3 L1293,1272.6 L1296,1276.7 L1315.5,1297.3 L1317,1298.4 L1320,1293.9 L1321.5,1292.7 L1329,1296.5 L1341,1294.6 L1342.5,1295.1 L1353,1301.2 L1354.5,1303.2 L1356,1307.7 L1378.5,1303.9 L1432.5,1309 L1450.5,1301 L1553.8,1305.9 L1553.8,1551.4 L148.5,1549.2Z" fill="#FFAFA4"/>
<path d="M148.5,1222.2 L166.5,1220.2 L178.5,1231.5 L180,1231.7 L190.5,1225 L192,1224.4 L358.5,1250.5 L379.5,1238.8 L397.5,1240.8 L418.5,1232.7 L439.5,1231.6 L441,1232.4 L516,1245.8 L528,1251.1 L546,1255.9 L558,1255.9 L570,1252.3 L588,1257 L600,1255.3 L628.5,1263.1 L630,1268.7 L666,1261.5 L688.5,1262.7 L712.5,1271.7 L723,1267.8 L736.5,1269.8 L754.5,1263.8 L777,1269.5 L778.5,1269.6 L808.5,1262.6 L835.5,1266.6 L843,1269.6 L844.5,1265.3 L846,1262.5 L862.5,1261.1 L865.5,1262 L885,1271.7 L927,1286.6 L946.5,1298.3 L958.5,1302.5 L960,1303.3 L985.5,1332.8 L987,1333.2 L997.5,1324.5 L999,1323.5 L1009.5,1327.6 L1020,1328.6 L1035,1327.4 L1063.5,1299.9 L1078.5,1316.5 L1080,1316.9 L1096.5,1309.1 L1126.5,1280.4 L1153.5,1259.2 L1155,1258.3 L1164,1255.6 L1165.5,1254.8 L1185,1238.2 L1186.5,1238.3 L1252.5,1274.3 L1254,1274.7 L1276.5,1262.5 L1290,1263.5 L1291.5,1265.3 L1293,1272.6 L1296,1276.7 L1315.5,1297.3 L1317,1298.4 L1320,1293.9 L1321.5,1292.7 L1329,1296.5 L1341,1294.6 L1342.5,1295.1 L1353,1301.2 L1354.5,1303.2 L1356,1307.7 L1378.5,1303.9 L1432.5,1309 L1450.5,1301 L1553.8,1305.9" fill="none" stroke="#1a1a1a" stroke-width="1.0"/>
<path d="M148.5,1290.4 L157.5,1289.5 L159,1289.8 L177,1308.8 L189,1305 L190.5,1305.2 L210,1313 L235.5,1334.4 L244.5,1344.8 L246,1345.4 L285,1322.3 L304.5,1316.4 L342,1325.4 L357,1315 L397.5,1276.5 L400.5,1266.4 L439.5,1232.7 L441,1232.4 L492,1241.9 L520.5,1256.6 L522,1257.7 L552,1297.2 L564,1298.4 L576,1309.2 L588,1334.2 L589.5,1335.1 L600,1337.3 L606,1342.2 L624,1350.2 L631.5,1351.6 L634.5,1355.5 L661.5,1360.9 L678,1377.4 L696,1401.4 L712.5,1405.9 L730.5,1402.9 L762,1400.7 L775.5,1397.8 L796.5,1389.4 L810,1374 L811.5,1372.8 L816,1371.3 L817.5,1371.5 L822,1377.5 L823.5,1379.2 L841.5,1378.2 L847.5,1373.4 L858,1361 L859.5,1361 L864,1362.5 L865.5,1363.8 L906,1412.4 L924,1431.4 L925.5,1431.6 L934.5,1429.8 L936,1431.8 L946.5,1448.4 L981,1515.1 L982.5,1517.6 L988.5,1518.5 L997.5,1503.2 L999,1501 L1008,1501 L1009.5,1500.7 L1030.5,1484.6 L1059,1444 L1060.5,1444.2 L1078.5,1464.1 L1080,1464.3 L1092,1455 L1102.5,1453.6 L1104,1452.3 L1119,1435.4 L1120.5,1432.6 L1128,1415.9 L1144.5,1391 L1164,1350 L1165.5,1347.6 L1176,1338 L1177.5,1335.7 L1185,1301 L1186.5,1300.3 L1206,1331.5 L1216.5,1333.8 L1227,1348.3 L1252.5,1360.1 L1254,1360.4 L1290,1337.4 L1291.5,1337.2 L1305,1343.1 L1315.5,1344 L1317,1343.8 L1320,1338.6 L1321.5,1336.4 L1341,1319.8 L1342.5,1319.5 L1353,1322.2 L1354.5,1323.6 L1356,1327.4 L1378.5,1318.4 L1414.5,1313.2 L1432.5,1315.2 L1450.5,1302.2 L1452,1301.8 L1553.8,1305.9 L1553.8,1551.4 L148.5,1549.2Z" fill="#FF8A82"/>
<path d="M148.5,1290.4 L157.5,1289.5 L159,1289.8 L177,1308.8 L189,1305 L190.5,1305.2 L210,1313 L235.5,1334.4 L244.5,1344.8 L246,1345.4 L285,1322.3 L304.5,1316.4 L342,1325.4 L357,1315 L397.5,1276.5 L400.5,1266.4 L439.5,1232.7 L441,1232.4 L492,1241.9 L520.5,1256.6 L522,1257.7 L552,1297.2 L564,1298.4 L576,1309.2 L588,1334.2 L589.5,1335.1 L600,1337.3 L606,1342.2 L624,1350.2 L631.5,1351.6 L634.5,1355.5 L661.5,1360.9 L678,1377.4 L696,1401.4 L712.5,1405.9 L730.5,1402.9 L762,1400.7 L775.5,1397.8 L796.5,1389.4 L810,1374 L811.5,1372.8 L816,1371.3 L817.5,1371.5 L822,1377.5 L823.5,1379.2 L841.5,1378.2 L847.5,1373.4 L858,1361 L859.5,1361 L864,1362.5 L865.5,1363.8 L906,1412.4 L924,1431.4 L925.5,1431.6 L934.5,1429.8 L936,1431.8 L946.5,1448.4 L981,1515.1 L982.5,1517.6 L988.5,1518.5 L997.5,1503.2 L999,1501 L1008,1501 L1009.5,1500.7 L1030.5,1484.6 L1059,1444 L1060.5,1444.2 L1078.5,1464.1 L1080,1464.3 L1092,1455 L1102.5,1453.6 L1104,1452.3 L1119,1435.4 L1120.5,1432.6 L1128,1415.9 L1144.5,1391 L1164,1350 L1165.5,1347.6 L1176,1338 L1177.5,1335.7 L1185,1301 L1186.5,1300.3 L1206,1331.5 L1216.5,1333.8 L1227,1348.3 L1252.5,1360.1 L1254,1360.4 L1290,1337.4 L1291.5,1337.2 L1305,1343.1 L1315.5,1344 L1317,1343.8 L1320,1338.6 L1321.5,1336.4 L1341,1319.8 L1342.5,1319.5 L1353,1322.2 L1354.5,1323.6 L1356,1327.4 L1378.5,1318.4 L1414.5,1313.2 L1432.5,1315.2 L1450.5,1302.2 L1452,1301.8 L1553.8,1305.9" fill="none" stroke="#1a1a1a" stroke-width="1.0"/>
<path d="M148.5,1290.4 L157.5,1289.5 L159,1289.8 L177,1308.8 L189,1305 L190.5,1306.9 L207,1341.7 L208.5,1344.2 L217.5,1347.8 L219,1349 L244.5,1386.2 L246,1387.5 L259.5,1387.5 L306,1358.3 L316.5,1354.8 L318,1354.6 L340.5,1366.7 L348,1363 L349.5,1361.1 L367.5,1331.3 L387,1307.9 L400.5,1286.9 L439.5,1239.6 L441,1239.6 L454.5,1250.9 L490.5,1296.4 L492,1298.9 L502.5,1319.9 L504,1322.5 L520.5,1344.5 L522,1346.8 L544.5,1391.4 L546,1393.7 L565.5,1396.6 L567,1397.8 L585,1424.7 L610.5,1446.3 L612,1447.3 L619.5,1445.4 L621,1444 L631.5,1430.8 L642,1428.9 L663,1415.5 L664.5,1416.2 L714,1452.9 L715.5,1453.2 L730.5,1442.8 L732,1441.5 L733.5,1441.6 L759,1452.4 L781.5,1445.4 L798,1433.2 L816,1412.3 L822,1417.4 L823.5,1418.3 L841.5,1412.3 L859.5,1392.6 L861,1392.2 L885,1418.2 L906,1449.6 L925.5,1475 L927,1476.2 L936,1475.3 L937.5,1476.5 L952.5,1503.7 L954,1507.3 L963,1536.1 L964.5,1541.6 L966,1547.6 L967.5,1550.5 L991.5,1550.5 L993,1547.2 L994.5,1542.7 L1005,1529.9 L1030.5,1505.3 L1060.5,1457.4 L1062,1456 L1080,1476 L1092,1468.4 L1102.5,1468 L1104,1466.5 L1120.5,1443.6 L1141.5,1411.2 L1143,1408.2 L1164,1358.5 L1165.5,1356 L1176,1347.2 L1177.5,1345.2 L1185,1315.2 L1186.5,1315.3 L1195.5,1335.1 L1197,1337 L1206,1346 L1216.5,1350.3 L1227,1362.8 L1252.5,1376.5 L1254,1376.9 L1272,1364.9 L1290,1359.8 L1291.5,1359.8 L1305,1364.8 L1315.5,1366.6 L1317,1366.6 L1324.5,1354.4 L1326,1352.8 L1339.5,1344.1 L1353,1348.9 L1354.5,1349.7 L1356,1351.2 L1393.5,1336.9 L1429.5,1338.9 L1431,1338.6 L1452,1326.2 L1453.5,1325.7 L1471.5,1334.7 L1553.8,1321.4 L1553.8,1551.4 L148.5,1549.2Z" fill="#FF5E5E"/>
<path d="M148.5,1290.4 L157.5,1289.5 L159,1289.8 L177,1308.8 L189,1305 L190.5,1306.9 L207,1341.7 L208.5,1344.2 L217.5,1347.8 L219,1349 L244.5,1386.2 L246,1387.5 L259.5,1387.5 L306,1358.3 L316.5,1354.8 L318,1354.6 L340.5,1366.7 L348,1363 L349.5,1361.1 L367.5,1331.3 L387,1307.9 L400.5,1286.9 L439.5,1239.6 L441,1239.6 L454.5,1250.9 L490.5,1296.4 L492,1298.9 L502.5,1319.9 L504,1322.5 L520.5,1344.5 L522,1346.8 L544.5,1391.4 L546,1393.7 L565.5,1396.6 L567,1397.8 L585,1424.7 L610.5,1446.3 L612,1447.3 L619.5,1445.4 L621,1444 L631.5,1430.8 L642,1428.9 L663,1415.5 L664.5,1416.2 L714,1452.9 L715.5,1453.2 L730.5,1442.8 L732,1441.5 L733.5,1441.6 L759,1452.4 L781.5,1445.4 L798,1433.2 L816,1412.3 L822,1417.4 L823.5,1418.3 L841.5,1412.3 L859.5,1392.6 L861,1392.2 L885,1418.2 L906,1449.6 L925.5,1475 L927,1476.2 L936,1475.3 L937.5,1476.5 L952.5,1503.7 L954,1507.3 L963,1536.1 L964.5,1541.6 L966,1547.6 L967.5,1550.5 L991.5,1550.5 L993,1547.2 L994.5,1542.7 L1005,1529.9 L1030.5,1505.3 L1060.5,1457.4 L1062,1456 L1080,1476 L1092,1468.4 L1102.5,1468 L1104,1466.5 L1120.5,1443.6 L1141.5,1411.2 L1143,1408.2 L1164,1358.5 L1165.5,1356 L1176,1347.2 L1177.5,1345.2 L1185,1315.2 L1186.5,1315.3 L1195.5,1335.1 L1197,1337 L1206,1346 L1216.5,1350.3 L1227,1362.8 L1252.5,1376.5 L1254,1376.9 L1272,1364.9 L1290,1359.8 L1291.5,1359.8 L1305,1364.8 L1315.5,1366.6 L1317,1366.6 L1324.5,1354.4 L1326,1352.8 L1339.5,1344.1 L1353,1348.9 L1354.5,1349.7 L1356,1351.2 L1393.5,1336.9 L1429.5,1338.9 L1431,1338.6 L1452,1326.2 L1453.5,1325.7 L1471.5,1334.7 L1553.8,1321.4" fill="none" stroke="#1a1a1a" stroke-width="1.0"/>
<path d="M148.5,1290.4 L157.5,1289.5 L159,1289.8 L177,1308.8 L189,1305 L190.5,1306.9 L207,1341.7 L208.5,1344.2 L217.5,1347.8 L219,1349 L244.5,1386.2 L246,1387.5 L247.5,1387.5 L249,1389 L256.5,1400.1 L258,1402.7 L264,1418.8 L271.5,1441.3 L273,1443.8 L285,1451.6 L304.5,1456.5 L306,1456 L316.5,1447.4 L325.5,1456.3 L346.5,1459.7 L354,1454.1 L355.5,1452.4 L366,1436.6 L367.5,1434.1 L387,1389.3 L388.5,1384.9 L399,1347 L400.5,1342.1 L412.5,1312.3 L435,1263.7 L436.5,1264.2 L447,1272.6 L448.5,1275.1 L516,1410.8 L541.5,1470 L553.5,1482 L555,1474.3 L556.5,1463.3 L558,1458.2 L565.5,1446.5 L567,1446.6 L577.5,1465.8 L579,1468.1 L588,1471.7 L589.5,1471.9 L612,1463.6 L633,1444.9 L642,1439.5 L663,1415.7 L664.5,1416.2 L714,1452.9 L715.5,1453.2 L730.5,1442.8 L732,1441.5 L733.5,1441.6 L759,1452.4 L781.5,1445.4 L798,1433.2 L816,1412.3 L822,1417.4 L823.5,1418.3 L841.5,1412.3 L859.5,1392.6 L861,1392.2 L885,1418.2 L906,1449.6 L925.5,1475 L927,1476.2 L936,1475.3 L937.5,1476.5 L952.5,1503.7 L954,1507.3 L963,1536.1 L964.5,1541.6 L966,1547.6 L967.5,1550.5 L991.5,1550.5 L993,1547.2 L994.5,1542.7 L1005,1529.9 L1030.5,1505.3 L1060.5,1457.4 L1062,1456 L1080,1476 L1092,1468.4 L1102.5,1468 L1104,1466.5 L1120.5,1443.6 L1141.5,1411.2 L1143,1408.2 L1164,1358.5 L1165.5,1356 L1176,1347.2 L1177.5,1345.2 L1185,1315.2 L1186.5,1315.3 L1195.5,1335.1 L1197,1337 L1206,1346 L1216.5,1350.3 L1227,1362.8 L1252.5,1376.5 L1254,1376.9 L1272,1364.9 L1290,1359.8 L1291.5,1359.8 L1305,1364.8 L1315.5,1366.6 L1317,1366.6 L1324.5,1354.4 L1326,1352.8 L1339.5,1344.1 L1353,1348.9 L1354.5,1349.7 L1356,1351.2 L1393.5,1336.9 L1429.5,1338.9 L1431,1338.6 L1452,1326.2 L1453.5,1325.7 L1471.5,1334.7 L1553.8,1321.4 L1553.8,1551.4 L148.5,1549.2Z" fill="#FF60DC"/>
<path d="M148.5,1290.4 L157.5,1289.5 L159,1289.8 L177,1308.8 L189,1305 L190.5,1306.9 L207,1341.7 L208.5,1344.2 L217.5,1347.8 L219,1349 L244.5,1386.2 L246,1387.5 L247.5,1387.5 L249,1389 L256.5,1400.1 L258,1402.7 L264,1418.8 L271.5,1441.3 L273,1443.8 L285,1451.6 L304.5,1456.5 L306,1456 L316.5,1447.4 L325.5,1456.3 L346.5,1459.7 L354,1454.1 L355.5,1452.4 L366,1436.6 L367.5,1434.1 L387,1389.3 L388.5,1384.9 L399,1347 L400.5,1342.1 L412.5,1312.3 L435,1263.7 L436.5,1264.2 L447,1272.6 L448.5,1275.1 L516,1410.8 L541.5,1470 L553.5,1482 L555,1474.3 L556.5,1463.3 L558,1458.2 L565.5,1446.5 L567,1446.6 L577.5,1465.8 L579,1468.1 L588,1471.7 L589.5,1471.9 L612,1463.6 L633,1444.9 L642,1439.5 L663,1415.7 L664.5,1416.2 L714,1452.9 L715.5,1453.2 L730.5,1442.8 L732,1441.5 L733.5,1441.6 L759,1452.4 L781.5,1445.4 L798,1433.2 L816,1412.3 L822,1417.4 L823.5,1418.3 L841.5,1412.3 L859.5,1392.6 L861,1392.2 L885,1418.2 L906,1449.6 L925.5,1475 L927,1476.2 L936,1475.3 L937.5,1476.5 L952.5,1503.7 L954,1507.3 L963,1536.1 L964.5,1541.6 L966,1547.6 L967.5,1550.5 L991.5,1550.5 L993,1547.2 L994.5,1542.7 L1005,1529.9 L1030.5,1505.3 L1060.5,1457.4 L1062,1456 L1080,1476 L1092,1468.4 L1102.5,1468 L1104,1466.5 L1120.5,1443.6 L1141.5,1411.2 L1143,1408.2 L1164,1358.5 L1165.5,1356 L1176,1347.2 L1177.5,1345.2 L1185,1315.2 L1186.5,1315.3 L1195.5,1335.1 L1197,1337 L1206,1346 L1216.5,1350.3 L1227,1362.8 L1252.5,1376.5 L1254,1376.9 L1272,1364.9 L1290,1359.8 L1291.5,1359.8 L1305,1364.8 L1315.5,1366.6 L1317,1366.6 L1324.5,1354.4 L1326,1352.8 L1339.5,1344.1 L1353,1348.9 L1354.5,1349.7 L1356,1351.2 L1393.5,1336.9 L1429.5,1338.9 L1431,1338.6 L1452,1326.2 L1453.5,1325.7 L1471.5,1334.7 L1553.8,1321.4" fill="none" stroke="#1a1a1a" stroke-width="1.0"/>
<path d="M148.5,1161.5 L156,1161.8 L159,1161.5 L160.5,1161.8 L165,1161.8 L166.5,1161.3 L168,1161.8 L175.5,1161.8 L177,1161.4 L180,1161.7 L186,1161.5 L187.5,1161.9 L190.5,1161.4 L198,1161.9 L199.5,1161.4 L202.5,1161.8 L207,1161.9 L208.5,1161.6 L213,1161.8 L214.5,1161.4 L216,1161.7 L217.5,1161.4 L219,1161.9 L220.5,1161.4 L223.5,1161.9 L229.5,1161.4 L231,1161.9 L234,1161.4 L237,1161.8 L241.5,1161.9 L243,1161.4 L244.5,1161.8 L246,1161.4 L247.5,1161.9 L249,1161.6 L250.5,1161.9 L252,1161.4 L253.5,1162 L255,1161.7 L258,1161.5 L262.5,1162 L264,1161.5 L268.5,1162 L274.5,1161.5 L276,1162 L277.5,1161.4 L282,1162 L283.5,1161.6 L286.5,1161.9 L288,1161.6 L289.5,1161.9 L291,1161.5 L300,1161.9 L303,1161.5 L304.5,1162 L309,1161.7 L313.5,1161.7 L315,1162 L316.5,1161.8 L318,1162 L319.5,1161.6 L321,1162.1 L324,1161.7 L336,1161.7 L345,1162 L346.5,1161.6 L351,1162.1 L354,1161.8 L355.5,1162 L357,1161.5 L358.5,1161.5 L360,1162 L367.5,1161.9 L369,1162.1 L370.5,1161.8 L372,1162.1 L381,1161.6 L388.5,1161.9 L390,1161.6 L400.5,1161.9 L402,1161.6 L403.5,1162.1 L405,1161.7 L414,1162 L415.5,1161.6 L417,1162.1 L420,1162.1 L421.5,1161.7 L424.5,1162.1 L427.5,1161.7 L429,1162.1 L441,1162 L442.5,1161.6 L444,1162.1 L447,1162.1 L448.5,1161.6 L462,1162.1 L465,1161.6 L466.5,1162.1 L481.5,1161.8 L483,1162.2 L484.5,1161.8 L489,1162.1 L492,1162 L493.5,1161.6 L495,1162.1 L501,1161.7 L502.5,1162 L507,1161.6 L508.5,1162 L511.5,1161.8 L513,1162.2 L519,1161.8 L520.5,1162 L523.5,1161.8 L525,1162 L526.5,1161.8 L528,1162.1 L531,1161.7 L532.5,1162.1 L534,1161.7 L537,1162 L543,1161.9 L544.5,1162.2 L549,1161.7 L550.5,1162.1 L553.5,1162.1 L555,1161.7 L556.5,1161.9 L558,1161.7 L561,1162.2 L562.5,1161.9 L565.5,1162.2 L571.5,1162 L573,1162.2 L576,1161.9 L577.5,1162.2 L580.5,1161.9 L582,1162.2 L585,1161.8 L586.5,1162.2 L589.5,1161.8 L592.5,1162.2 L598.5,1162.2 L606,1161.8 L610.5,1162.2 L612,1161.7 L613.5,1162.2 L615,1162.3 L616.5,1161.7 L618,1162.2 L619.5,1161.8 L621,1162.2 L622.5,1161.8 L624,1162.2 L625.5,1162.2 L627,1161.8 L628.5,1162.1 L630,1161.7 L634.5,1162.1 L636,1161.9 L639,1162.2 L640.5,1161.8 L642,1162.2 L645,1162 L646.5,1162.3 L648,1161.8 L649.5,1162.1 L654,1161.7 L655.5,1162.3 L658.5,1161.9 L660,1162.2 L661.5,1161.8 L663,1162.3 L669,1162 L670.5,1162.2 L672,1161.7 L673.5,1162.3 L675,1162 L676.5,1162.3 L678,1161.8 L681,1162.3 L685.5,1162 L687,1162.2 L688.5,1161.7 L690,1162.3 L694.5,1161.7 L699,1162.2 L700.5,1161.9 L711,1162.2 L726,1161.9 L727.5,1162.3 L732,1161.9 L733.5,1162.2 L735,1161.8 L736.5,1162.2 L744,1161.8 L757.5,1162.1 L760.5,1161.9 L765,1162.3 L771,1162 L772.5,1162.3 L775.5,1161.8 L778.5,1162.3 L790.5,1161.8 L792,1162.1 L793.5,1161.8 L798,1162.4 L801,1161.8 L810,1162.1 L811.5,1162.4 L816,1161.8 L820.5,1162.3 L823.5,1161.9 L826.5,1162.4 L828,1161.8 L832.5,1162.1 L841.5,1161.7 L843,1162.1 L844.5,1161.9 L847.5,1162.2 L856.5,1161.9 L864,1161.7 L867,1162.2 L870,1161.7 L873,1162 L874.5,1161.9 L877.5,1162.2 L882,1161.7 L883.5,1162 L886.5,1161.8 L888,1162.1 L889.5,1161.6 L892.5,1162 L895.5,1161.7 L897,1162.1 L898.5,1161.6 L900,1161.6 L901.5,1162.2 L903,1161.6 L909,1162 L910.5,1161.7 L916.5,1162 L918,1161.6 L921,1161.9 L937.5,1161.6 L939,1161.9 L942,1161.9 L943.5,1161.5 L945,1162 L948,1162 L951,1161.7 L952.5,1161.9 L954,1161.5 L958.5,1161.5 L960,1161.9 L961.5,1161.6 L963,1162 L967.5,1161.4 L969,1161.8 L970.5,1161.4 L975,1161.7 L976.5,1161.4 L979.5,1161.8 L984,1161.9 L990,1161.5 L991.5,1161.9 L1003.5,1161.4 L1005,1161.7 L1008,1161.2 L1011,1161.5 L1014,1161.2 L1015.5,1161.6 L1024.5,1161.2 L1026,1161.5 L1027.5,1161.3 L1029,1161.4 L1030.5,1161 L1036.5,1161.4 L1041,1161 L1042.5,1161.3 L1044,1160.9 L1045.5,1161.1 L1047,1160.9 L1048.5,1161.3 L1051.5,1160.8 L1053,1161.2 L1063.5,1161 L1065,1160.8 L1069.5,1161 L1071,1160.7 L1072.5,1161 L1075.5,1160.7 L1083,1160.8 L1084.5,1160.4 L1089,1160.6 L1090.5,1160.3 L1092,1160.6 L1095,1160.2 L1096.5,1160.5 L1098,1160.2 L1108.5,1160.3 L1110,1160.6 L1114.5,1160.1 L1119,1160.5 L1120.5,1160 L1126.5,1160 L1128,1160.4 L1149,1159.9 L1150.5,1160.2 L1156.5,1159.8 L1158,1160 L1162.5,1159.7 L1164,1159.3 L1168.5,1159.5 L1170,1158.9 L1173,1159.2 L1176,1158.6 L1185,1158.5 L1189.5,1158.3 L1192.5,1159 L1195.5,1158.5 L1203,1159.3 L1204.5,1159 L1206,1159.5 L1215,1159.5 L1218,1159.9 L1219.5,1159.6 L1221,1160 L1225.5,1159.8 L1228.5,1160.4 L1231.5,1159.9 L1242,1160.6 L1245,1160.1 L1248,1160.1 L1249.5,1160.6 L1251,1160.2 L1255.5,1160.1 L1257,1160.4 L1267.5,1160.1 L1269,1160.3 L1272,1160.1 L1275,1160.6 L1276.5,1160.3 L1288.5,1160.5 L1290,1160.2 L1294.5,1160.5 L1296,1160.1 L1306.5,1160.4 L1308,1160.2 L1309.5,1160.5 L1315.5,1160.3 L1318.5,1160.6 L1321.5,1160.3 L1323,1160.7 L1329,1160.4 L1332,1160.8 L1335,1160.7 L1336.5,1161 L1342.5,1160.7 L1348.5,1161.3 L1350,1161.1 L1351.5,1161.4 L1354.5,1161.1 L1356,1161.3 L1357.5,1161 L1359,1161.3 L1360.5,1161 L1362,1161.6 L1366.5,1161.3 L1368,1161.6 L1371,1161.4 L1375.5,1161.8 L1377,1161.4 L1380,1161.7 L1381.5,1161.5 L1384.5,1161.6 L1386,1162 L1398,1162.4 L1399.5,1161.8 L1407,1162.5 L1416,1162.2 L1417.5,1161.9 L1419,1162.3 L1420.5,1162 L1423.5,1162.3 L1425,1161.9 L1426.5,1162.2 L1429.5,1161.7 L1431,1162.2 L1434,1161.7 L1438.5,1162.2 L1440,1161.7 L1441.5,1162 L1444.5,1161.6 L1447.5,1161.9 L1449,1161.5 L1450.5,1161.8 L1452,1161.5 L1453.5,1162 L1458,1161.5 L1459.5,1161.7 L1461,1161.4 L1462.5,1161.8 L1467,1161.2 L1468.5,1161.5 L1470,1161.2 L1474.5,1161.6 L1476,1161.2 L1480.5,1161.5 L1483.5,1161 L1488,1161.2 L1489.5,1160.9 L1492.5,1161.2 L1494,1161.1 L1495.5,1161.4 L1497,1160.9 L1498.5,1161.2 L1504.5,1160.8 L1506,1161.2 L1507.5,1160.7 L1513.5,1161.1 L1515,1160.6 L1521,1160.7 L1522.5,1161 L1527,1160.5 L1528.5,1160.9 L1534.5,1160.3 L1546.5,1160.6 L1548,1160.1 L1549.5,1160.5 L1551,1160.1 L1552.5,1160.6 L1553.8,1160" fill="none" stroke="#222" stroke-width="0.9"/>
<g stroke="#FF0000" stroke-width="2"><line x1="240.1" y1="1185.1" x2="250.5" y2="1549.5"/><line x1="236" y1="1224.3" x2="267" y2="1549.5"/><line x1="195.8" y1="1215" x2="194.7" y2="1332.7"/><line x1="374.4" y1="1236.7" x2="369.2" y2="1551.6"/><line x1="405.3" y1="1247" x2="401.2" y2="1550.6"/><line x1="433.2" y1="1240.9" x2="438.4" y2="1511.4"/><line x1="502.3" y1="1201.6" x2="499.2" y2="1550.6"/><line x1="628.2" y1="1200.6" x2="633.4" y2="1550.6"/><line x1="469.2" y1="1287.3" x2="468.2" y2="1550.6"/><line x1="438.3" y1="1236.7" x2="438.3" y2="1511.4"/><line x1="554.9" y1="1424.6" x2="553.9" y2="1550.6"/><line x1="644.7" y1="1367.8" x2="640.6" y2="1536.1"/><line x1="844.9" y1="1164.5" x2="841.8" y2="1551.6"/><line x1="761.3" y1="1344.1" x2="759.2" y2="1551.6"/><line x1="869.7" y1="1377.1" x2="867.6" y2="1551.6"/><line x1="1008" y1="1235.7" x2="1011.1" y2="1550.6"/><line x1="935.8" y1="1413.3" x2="938.9" y2="1511.4"/><line x1="1064.7" y1="1216.1" x2="1062.7" y2="1550.6"/><line x1="1098.8" y1="1219.2" x2="1088.5" y2="1550.6"/><line x1="1158.7" y1="1199.6" x2="1133.9" y2="1550.6"/><line x1="1185.5" y1="1166.5" x2="1202" y2="1505.2"/><line x1="1184" y1="1166.5" x2="1184" y2="1342"/><line x1="1187" y1="1166.5" x2="1191" y2="1370"/><line x1="1195.8" y1="1191.3" x2="1223.7" y2="1550.6"/><line x1="1291.9" y1="1231.6" x2="1287.7" y2="1550.6"/><line x1="1304.2" y1="1201.6" x2="1301.1" y2="1550.6"/><line x1="1328.2" y1="1248.1" x2="1330.3" y2="1550.6"/><line x1="1355" y1="1278" x2="1356" y2="1550.6"/><line x1="1434.5" y1="1273.9" x2="1436.6" y2="1550.6"/><line x1="1465.5" y1="1176.8" x2="1466.5" y2="1521.7"/><line x1="181.4" y1="1296.5" x2="181.4" y2="1316"/><line x1="190" y1="1300" x2="190" y2="1322"/><line x1="264.6" y1="1410.5" x2="264.6" y2="1428"/><line x1="272" y1="1424" x2="272" y2="1444"/><line x1="305" y1="1440" x2="305" y2="1462"/><line x1="323" y1="1440" x2="323" y2="1462"/><line x1="390.9" y1="1360.6" x2="390.9" y2="1387.4"/><line x1="397" y1="1342" x2="397" y2="1366.8"/><line x1="412.6" y1="1304.9" x2="412.6" y2="1333.8"/><line x1="424" y1="1271.8" x2="424" y2="1294.5"/><line x1="664.5" y1="1240" x2="664.5" y2="1277"/><line x1="566.3" y1="1434" x2="566.3" y2="1464"/><line x1="596" y1="1456" x2="596" y2="1495"/><line x1="448.6" y1="1262.5" x2="448.6" y2="1291.5"/><line x1="463" y1="1295.6" x2="463" y2="1320.4"/><line x1="818.9" y1="1355" x2="818.9" y2="1442"/><line x1="952" y1="1293" x2="952" y2="1330"/><line x1="961" y1="1291" x2="961" y2="1325"/><line x1="983" y1="1318" x2="983" y2="1345"/><line x1="992" y1="1318" x2="992" y2="1345"/><line x1="1034" y1="1168" x2="1034" y2="1197"/><line x1="1054" y1="1167" x2="1054" y2="1190"/><line x1="1062" y1="1167" x2="1062" y2="1192"/><line x1="1084" y1="1167" x2="1084" y2="1193"/><line x1="1156" y1="1168" x2="1156" y2="1183"/><line x1="1127" y1="1440" x2="1127" y2="1480"/><line x1="1124" y1="1418" x2="1124" y2="1460"/><line x1="1082" y1="1308" x2="1082" y2="1327"/><line x1="1127" y1="1235" x2="1127" y2="1298"/><line x1="1214.4" y1="1217" x2="1217" y2="1340"/><line x1="1270" y1="1337" x2="1270" y2="1379"/><line x1="1202" y1="1338" x2="1202" y2="1355"/><line x1="1224" y1="1340" x2="1225" y2="1374"/><line x1="1293" y1="1263" x2="1293" y2="1385"/><line x1="1319" y1="1269" x2="1318" y2="1385"/><line x1="1449" y1="1291" x2="1450" y2="1335"/><line x1="1513" y1="1307" x2="1514" y2="1348"/><line x1="1545" y1="1290" x2="1545" y2="1345"/><line x1="1550" y1="1290" x2="1550" y2="1345"/><line x1="1485" y1="1315" x2="1487" y2="1345"/><line x1="1500.5" y1="1290" x2="1507" y2="1343"/></g>
<text x="223.6" y="1174.4" font-size="21" class="lh"><tspan>T</tspan></text><text x="223.6" y="1174.4" font-size="21" class="lt"><tspan>T</tspan></text><text x="604.5" y="1178" font-size="21" class="lh"><tspan>P</tspan><tspan font-size="12" dy="5">2+3</tspan></text><text x="604.5" y="1178" font-size="21" class="lt"><tspan>P</tspan><tspan font-size="12" dy="5">2+3</tspan></text><text x="752" y="1166.5" font-size="21" class="lh"><tspan>Q</tspan></text><text x="752" y="1166.5" font-size="21" class="lt"><tspan>Q</tspan></text><text x="668.5" y="1200.6" font-size="21" class="lh"><tspan>C</tspan><tspan font-size="12" dy="5">2</tspan></text><text x="668.5" y="1200.6" font-size="21" class="lt"><tspan>C</tspan><tspan font-size="12" dy="5">2</tspan></text><text x="906.9" y="1190.3" font-size="21" class="lh"><tspan>C</tspan><tspan font-size="12" dy="5">3</tspan></text><text x="906.9" y="1190.3" font-size="21" class="lt"><tspan>C</tspan><tspan font-size="12" dy="5">3</tspan></text><text x="952.3" y="1223.3" font-size="21" class="lh"><tspan>D</tspan><tspan font-size="12" dy="5">3</tspan></text><text x="952.3" y="1223.3" font-size="21" class="lt"><tspan>D</tspan><tspan font-size="12" dy="5">3</tspan></text><text x="857.3" y="1243" font-size="21" class="lh"><tspan>V</tspan><tspan font-size="12" dy="5">2</tspan></text><text x="857.3" y="1243" font-size="21" class="lt"><tspan>V</tspan><tspan font-size="12" dy="5">2</tspan></text><text x="1216.5" y="1198.5" font-size="21" class="lh"><tspan>C</tspan><tspan font-size="12" dy="5">1</tspan></text><text x="1216.5" y="1198.5" font-size="21" class="lt"><tspan>C</tspan><tspan font-size="12" dy="5">1</tspan></text><text x="1279.5" y="1183" font-size="21" class="lh"><tspan>P</tspan><tspan font-size="12" dy="5">1</tspan></text><text x="1279.5" y="1183" font-size="21" class="lt"><tspan>P</tspan><tspan font-size="12" dy="5">1</tspan></text><text x="263.5" y="1288" font-size="21" class="lh"><tspan>RF</tspan><tspan font-size="12" dy="5">3</tspan></text><text x="263.5" y="1288" font-size="21" class="lt"><tspan>RF</tspan><tspan font-size="12" dy="5">3</tspan></text><text x="292.8" y="1344" font-size="21" class="lh"><tspan>RF</tspan><tspan font-size="12" dy="5">2</tspan></text><text x="292.8" y="1344" font-size="21" class="lt"><tspan>RF</tspan><tspan font-size="12" dy="5">2</tspan></text><text x="303" y="1413" font-size="21" class="lh"><tspan>RF</tspan><tspan font-size="12" dy="5">1</tspan></text><text x="303" y="1413" font-size="21" class="lt"><tspan>RF</tspan><tspan font-size="12" dy="5">1</tspan></text><text x="406.4" y="1479" font-size="21" class="lh"><tspan>AR+PR</tspan><tspan font-size="12" dy="5">1</tspan></text><text x="406.4" y="1479" font-size="21" class="lt"><tspan>AR+PR</tspan><tspan font-size="12" dy="5">1</tspan></text><text x="532.6" y="1423.6" font-size="21" class="lh"><tspan>RF</tspan><tspan font-size="12" dy="5">1</tspan></text><text x="532.6" y="1423.6" font-size="21" class="lt"><tspan>RF</tspan><tspan font-size="12" dy="5">1</tspan></text><text x="712" y="1432" font-size="21" class="lh"><tspan>RF</tspan><tspan font-size="12" dy="5">2</tspan></text><text x="712" y="1432" font-size="21" class="lt"><tspan>RF</tspan><tspan font-size="12" dy="5">2</tspan></text><text x="965.7" y="1406" font-size="21" class="lh"><tspan>RF</tspan><tspan font-size="12" dy="5">3</tspan></text><text x="965.7" y="1406" font-size="21" class="lt"><tspan>RF</tspan><tspan font-size="12" dy="5">3</tspan></text><text x="1015.2" y="1325.5" font-size="21" class="lh"><tspan>V</tspan><tspan font-size="12" dy="5">1</tspan></text><text x="1015.2" y="1325.5" font-size="21" class="lt"><tspan>V</tspan><tspan font-size="12" dy="5">1</tspan></text><text x="1392.2" y="1306" font-size="21" class="lh"><tspan>V</tspan><tspan font-size="12" dy="5">1</tspan></text><text x="1392.2" y="1306" font-size="21" class="lt"><tspan>V</tspan><tspan font-size="12" dy="5">1</tspan></text><text x="1377.8" y="1335" font-size="21" class="lh"><tspan>RF</tspan><tspan font-size="12" dy="5">2</tspan></text><text x="1377.8" y="1335" font-size="21" class="lt"><tspan>RF</tspan><tspan font-size="12" dy="5">2</tspan></text><text x="1306.5" y="1467" font-size="21" class="lh"><tspan>AR+PR</tspan><tspan font-size="12" dy="5">1</tspan></text><text x="1306.5" y="1467" font-size="21" class="lt"><tspan>AR+PR</tspan><tspan font-size="12" dy="5">1</tspan></text>
<text x="820" y="1647" font-size="24.5" font-weight="bold" text-anchor="middle" fill="#333">legend</text>
<rect x="67.5" y="1680" width="104" height="50" fill="#fff" stroke="#333" stroke-width="1.3"/>
<line x1="80.5" y1="1717" x2="157.5" y2="1694" stroke="#222" stroke-width="3.2"/>
<text x="188" y="1711" font-size="18.8" fill="#333">horizons</text>
<rect x="67.5" y="1748.5" width="104" height="50" fill="#fff" stroke="#333" stroke-width="1.3"/>
<line x1="80.5" y1="1785.5" x2="157.5" y2="1762.5" stroke="#FF0000" stroke-width="3.2"/>
<text x="188" y="1779.5" font-size="18.8" fill="#333">tectonic faults</text>
<rect x="67.5" y="1817" width="104" height="50" fill="#FFFF00" stroke="#333" stroke-width="1.3"/>
<text x="119.5" y="1847.5" font-size="22.4" text-anchor="middle" class="lh"><tspan>Q</tspan></text><text x="119.5" y="1847.5" font-size="22.4" text-anchor="middle" class="lt"><tspan>Q</tspan></text>
<text x="188" y="1848" font-size="18.8" fill="#333">Quaternary Period</text>
<rect x="67.5" y="1886" width="104" height="50" fill="#D99FFB" stroke="#333" stroke-width="1.3"/>
<text x="119.5" y="1916.5" font-size="22.4" text-anchor="middle" class="lh"><tspan>T</tspan></text><text x="119.5" y="1916.5" font-size="22.4" text-anchor="middle" class="lt"><tspan>T</tspan></text>
<text x="188" y="1917" font-size="18.8" fill="#333">Triassic Period</text>
<rect x="438.5" y="1680" width="104" height="50" fill="#FFDF8E" stroke="#333" stroke-width="1.3"/>
<text x="490.5" y="1710.5" font-size="22.4" text-anchor="middle" class="lh"><tspan>P</tspan><tspan font-size="13" dy="5">2+3</tspan></text><text x="490.5" y="1710.5" font-size="22.4" text-anchor="middle" class="lt"><tspan>P</tspan><tspan font-size="13" dy="5">2+3</tspan></text>
<text x="559" y="1711" font-size="18.8" fill="#333">Middle–Late Permian Period</text>
<rect x="438.5" y="1748.5" width="104" height="50" fill="#FFAA00" stroke="#333" stroke-width="1.3"/>
<text x="490.5" y="1779" font-size="22.4" text-anchor="middle" class="lh"><tspan>P</tspan><tspan font-size="13" dy="5">1</tspan></text><text x="490.5" y="1779" font-size="22.4" text-anchor="middle" class="lt"><tspan>P</tspan><tspan font-size="13" dy="5">1</tspan></text>
<text x="559" y="1779.5" font-size="18.8" fill="#333">Early Permian Period</text>
<rect x="438.5" y="1817" width="104" height="50" fill="#DCDCDC" stroke="#333" stroke-width="1.3"/>
<text x="490.5" y="1847.5" font-size="22.4" text-anchor="middle" class="lh"><tspan>C</tspan><tspan font-size="13" dy="5">3</tspan></text><text x="490.5" y="1847.5" font-size="22.4" text-anchor="middle" class="lt"><tspan>C</tspan><tspan font-size="13" dy="5">3</tspan></text>
<text x="559" y="1848" font-size="18.8" fill="#333">Late Carboniferous Period</text>
<rect x="438.5" y="1886" width="104" height="50" fill="#BDBDBD" stroke="#333" stroke-width="1.3"/>
<text x="490.5" y="1916.5" font-size="22.4" text-anchor="middle" class="lh"><tspan>C</tspan><tspan font-size="13" dy="5">2</tspan></text><text x="490.5" y="1916.5" font-size="22.4" text-anchor="middle" class="lt"><tspan>C</tspan><tspan font-size="13" dy="5">2</tspan></text>
<text x="559" y="1917" font-size="18.8" fill="#333">Middle Carboniferous Period</text>
<rect x="809" y="1680" width="104" height="50" fill="#9A9A9A" stroke="#333" stroke-width="1.3"/>
<text x="861" y="1710.5" font-size="22.4" text-anchor="middle" class="lh"><tspan>C</tspan><tspan font-size="13" dy="5">1</tspan></text><text x="861" y="1710.5" font-size="22.4" text-anchor="middle" class="lt"><tspan>C</tspan><tspan font-size="13" dy="5">1</tspan></text>
<text x="930" y="1711" font-size="18.8" fill="#333">Early Carboniferous Period</text>
<rect x="809" y="1748.5" width="104" height="50" fill="#BF5300" stroke="#333" stroke-width="1.3"/>
<text x="861" y="1779" font-size="22.4" text-anchor="middle" class="lh"><tspan>D</tspan><tspan font-size="13" dy="5">3</tspan></text><text x="861" y="1779" font-size="22.4" text-anchor="middle" class="lt"><tspan>D</tspan><tspan font-size="13" dy="5">3</tspan></text>
<text x="930" y="1779.5" font-size="18.8" fill="#333">Late Devonian Period</text>
<rect x="809" y="1817" width="104" height="50" fill="#FFDFF1" stroke="#333" stroke-width="1.3"/>
<text x="861" y="1847.5" font-size="22.4" text-anchor="middle" class="lh"><tspan>V</tspan><tspan font-size="13" dy="5">2</tspan></text><text x="861" y="1847.5" font-size="22.4" text-anchor="middle" class="lt"><tspan>V</tspan><tspan font-size="13" dy="5">2</tspan></text>
<text x="930" y="1848" font-size="18.8" fill="#333">Late Vendian Period</text>
<rect x="809" y="1886" width="104" height="50" fill="#FFBDD7" stroke="#333" stroke-width="1.3"/>
<text x="861" y="1916.5" font-size="22.4" text-anchor="middle" class="lh"><tspan>V</tspan><tspan font-size="13" dy="5">1</tspan></text><text x="861" y="1916.5" font-size="22.4" text-anchor="middle" class="lt"><tspan>V</tspan><tspan font-size="13" dy="5">1</tspan></text>
<text x="930" y="1917" font-size="18.8" fill="#333">Early Vendian Period</text>
<rect x="1180" y="1680" width="104" height="50" fill="#FFAFA4" stroke="#333" stroke-width="1.3"/>
<text x="1232" y="1710.5" font-size="22.4" text-anchor="middle" class="lh"><tspan>RF</tspan><tspan font-size="13" dy="5">3</tspan></text><text x="1232" y="1710.5" font-size="22.4" text-anchor="middle" class="lt"><tspan>RF</tspan><tspan font-size="13" dy="5">3</tspan></text>
<text x="1301" y="1711" font-size="18.8" fill="#333">Late Riphean Era</text>
<rect x="1180" y="1748.5" width="104" height="50" fill="#FF8A82" stroke="#333" stroke-width="1.3"/>
<text x="1232" y="1779" font-size="22.4" text-anchor="middle" class="lh"><tspan>RF</tspan><tspan font-size="13" dy="5">2</tspan></text><text x="1232" y="1779" font-size="22.4" text-anchor="middle" class="lt"><tspan>RF</tspan><tspan font-size="13" dy="5">2</tspan></text>
<text x="1301" y="1779.5" font-size="18.8" fill="#333">Middle Riphean Era</text>
<rect x="1180" y="1817" width="104" height="50" fill="#FF5E5E" stroke="#333" stroke-width="1.3"/>
<text x="1232" y="1847.5" font-size="22.4" text-anchor="middle" class="lh"><tspan>RF</tspan><tspan font-size="13" dy="5">1</tspan></text><text x="1232" y="1847.5" font-size="22.4" text-anchor="middle" class="lt"><tspan>RF</tspan><tspan font-size="13" dy="5">1</tspan></text>
<text x="1301" y="1848" font-size="18.8" fill="#333">Early Riphean Era</text>
<rect x="1180" y="1886" width="104" height="50" fill="#FF60DC" stroke="#333" stroke-width="1.3"/>
<text x="1232" y="1916.5" font-size="22.8" text-anchor="middle" class="lh"><tspan>AR+PR</tspan><tspan font-size="13" dy="5">1</tspan></text><text x="1232" y="1916.5" font-size="22.8" text-anchor="middle" class="lt"><tspan>AR+PR</tspan><tspan font-size="13" dy="5">1</tspan></text>
<text x="1301" y="1917" font-size="18.8" fill="#333">Archean–Early Proterozoic Acron</text>
<text class="cap" x="386.5" y="980.5" font-size="35" text-anchor="middle" fill="#000">(<tspan font-weight="bold">a</tspan>)</text>
<text class="cap" x="1258" y="980.5" font-size="35" text-anchor="middle" fill="#000">(<tspan font-weight="bold">b</tspan>)</text>
<text class="cap" x="822" y="1974.8" font-size="35" text-anchor="middle" fill="#000">(<tspan font-weight="bold">c</tspan>)</text>
</svg></body></html>
